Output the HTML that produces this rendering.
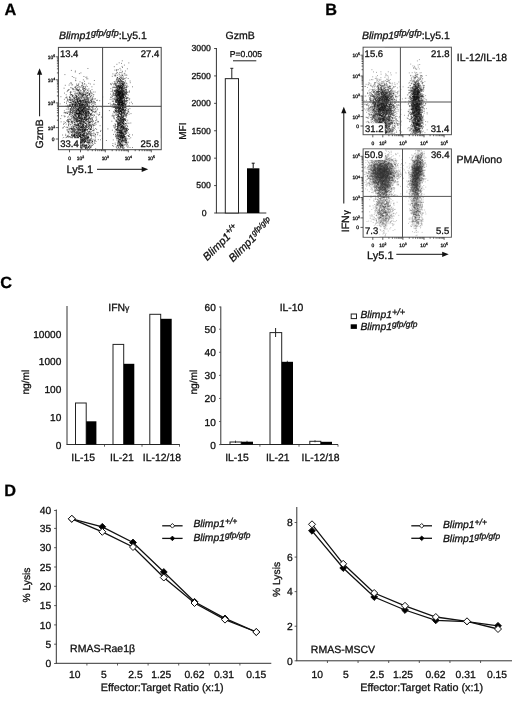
<!DOCTYPE html>
<html lang="en">
<head>
<meta charset="utf-8">
<title>Figure</title>
<style>
html,body{margin:0;padding:0;background:#fff;}
body{width:520px;height:707px;overflow:hidden;}
svg{display:block;font-family:"Liberation Sans", sans-serif;fill:#111;filter:blur(0.3px);}
text{stroke:#111;stroke-width:0.3px;}
</style>
</head>
<body>
<svg width="520" height="707" viewBox="0 0 520 707" text-rendering="geometricPrecision">
<defs><filter id="bl" x="-5%" y="-5%" width="110%" height="110%"><feGaussianBlur stdDeviation="0.36"/></filter></defs>
<rect x="0" y="0" width="520" height="707" fill="#fff"/>
<text x="4.60" y="14.60" font-size="16.3" font-weight="bold" fill="#000">A</text>
<text x="59.00" y="39.40" font-size="10.5"><tspan font-style="italic">Blimp1</tspan><tspan font-style="italic" font-size="9.0" dy="-3.2">gfp/gfp</tspan><tspan dy="3.2">:Ly5.1</tspan></text>
<path d="M93.2 103.0zM77.6 113.2zM81.2 116.0zM83.9 76.5zM75.3 86.9zM81.0 111.0zM81.0 108.0zM68.4 121.7zM88.3 112.2zM85.3 94.2zM76.5 113.4zM79.8 100.5zM84.6 106.7zM79.1 103.4zM79.3 113.7zM70.5 92.4zM85.0 96.1zM81.9 82.8zM83.0 135.2zM70.0 97.5zM92.9 99.1zM82.1 95.6zM78.2 101.8zM95.6 104.2zM80.7 116.9zM70.6 111.6zM78.1 113.4zM64.5 102.4zM88.6 108.6zM78.0 124.1zM75.7 109.2zM88.7 113.2zM69.1 85.1zM84.9 115.7zM66.1 112.6zM76.2 125.0zM72.3 76.5zM91.5 109.8zM93.7 108.0zM78.6 110.4zM87.1 101.8zM79.7 111.9zM85.1 117.8zM75.6 109.9zM68.7 105.8zM68.0 106.8zM83.8 104.6zM97.2 109.8zM82.9 100.7zM77.2 85.4zM94.8 125.5zM82.7 88.2zM81.7 107.8zM82.8 93.6zM80.0 105.8zM78.8 97.6zM70.7 108.7zM84.6 99.1zM80.3 93.6zM89.6 112.9zM78.3 125.1zM67.3 113.3zM80.3 110.4zM93.2 96.5zM78.2 108.1zM74.6 114.4zM72.4 101.3zM73.4 119.9zM78.8 108.6zM72.5 113.3zM91.8 103.1zM79.0 103.1zM81.8 111.7zM91.4 113.6zM91.8 113.2zM79.5 96.8zM83.4 100.2zM86.3 108.7zM79.6 86.7zM68.2 121.5zM85.7 112.7zM87.4 109.4zM84.0 100.4zM74.4 118.8zM79.6 105.6zM76.7 131.7zM78.8 113.6zM90.3 91.0zM92.0 117.6zM85.8 102.6zM85.0 102.6zM85.9 106.0zM80.9 107.3zM80.5 111.9zM76.1 118.0zM80.6 114.3zM97.3 100.2zM87.3 92.6zM78.5 99.2zM77.6 113.2zM74.8 119.2zM83.7 130.4zM83.8 92.7zM70.6 109.8zM84.5 106.1zM76.9 104.0zM91.3 110.5zM82.1 105.8zM93.4 105.6zM77.7 101.0zM78.9 113.5zM83.2 121.5zM88.6 128.4zM85.1 102.5zM72.1 96.1zM82.3 105.6zM81.2 98.8zM77.9 121.1zM76.3 99.0zM93.6 109.7zM78.2 92.7zM74.9 104.6zM85.6 111.1zM81.9 127.1zM80.5 100.5zM86.6 113.2zM84.5 83.8zM83.6 94.3zM87.9 99.0zM83.0 102.8zM76.6 113.9zM78.4 116.3zM77.2 89.5zM82.5 115.1zM73.2 95.4zM67.8 130.8zM81.6 112.5zM71.4 110.6zM66.9 106.6zM83.7 108.3zM75.9 108.8zM84.6 100.4zM77.2 117.7zM72.9 112.0zM72.0 117.7zM77.3 108.0zM79.0 116.9zM75.1 99.6zM69.9 100.2zM81.1 103.4zM68.1 120.3zM79.6 123.5zM86.0 99.2zM88.9 88.8zM93.3 92.0zM69.8 96.8zM86.5 99.3zM89.7 106.8zM88.1 121.1zM74.3 121.7zM84.0 101.4zM94.4 115.2zM70.2 119.3zM84.4 125.6zM89.0 106.8zM76.0 99.8zM85.2 117.7zM73.3 126.9zM75.2 102.4zM75.1 132.1zM82.4 129.3zM80.3 105.5zM87.9 89.9zM74.2 101.5zM80.1 104.5zM87.9 115.1zM85.0 88.6zM71.5 137.9zM85.8 136.8zM77.6 100.0zM83.8 86.3zM83.2 106.7zM89.8 113.8zM81.8 124.8zM67.7 117.2zM71.1 106.3zM86.3 85.1zM79.1 114.8zM89.2 118.8zM83.0 104.9zM75.6 112.0zM88.8 111.1zM75.2 105.7zM66.2 94.8zM95.9 112.8zM67.2 91.6zM85.6 125.5zM87.8 97.9zM82.1 114.5zM68.9 99.9zM88.3 113.2zM70.6 106.1zM71.3 115.0zM78.4 99.1zM86.7 89.1zM83.2 105.2zM86.8 104.4zM77.8 90.6zM79.8 100.3zM72.8 88.5zM78.7 110.0zM85.3 104.1zM78.8 108.8zM84.4 139.8zM76.9 110.5zM76.7 113.1zM81.3 116.1zM79.6 106.9zM85.3 101.5zM82.3 119.1zM93.5 121.0zM79.4 73.6zM79.4 106.7zM73.5 104.5zM81.2 101.8zM85.9 123.5zM75.7 102.2zM80.6 118.9zM86.2 102.1zM80.1 103.7zM77.3 117.3zM88.0 99.7zM81.7 106.6zM83.9 95.3zM89.4 97.9zM89.2 117.2zM78.5 115.6zM77.2 94.8zM83.0 94.4zM80.0 139.1zM67.3 100.8zM90.2 98.1zM81.1 114.7zM86.3 99.2zM72.6 104.2zM90.3 119.3zM76.8 120.5zM80.2 106.2zM70.9 124.6zM79.8 106.8zM79.3 105.7zM79.7 108.5zM84.2 104.9zM81.4 114.9zM88.0 111.9zM77.6 99.2zM73.8 110.7zM80.9 102.0zM85.5 101.6zM90.0 106.9zM86.9 120.8zM68.3 111.9zM83.7 123.8zM91.5 127.3zM81.5 108.1zM77.3 101.3zM83.2 99.1zM77.4 111.9zM85.6 118.9zM80.9 127.5zM91.0 92.9zM84.6 119.6zM75.8 121.4zM85.4 137.8zM87.7 110.8zM76.9 108.2zM77.9 90.4zM64.4 99.3zM87.5 95.4zM76.8 96.5zM65.7 97.8zM68.3 90.2zM79.4 107.5zM86.5 113.3zM80.4 117.8zM84.4 107.5zM73.1 121.3zM71.3 121.4zM87.4 90.5zM84.5 105.4zM80.8 93.7zM90.2 96.9zM74.2 110.9zM78.0 107.2zM88.4 126.3zM94.2 133.3zM81.1 113.7zM93.1 106.4zM76.7 107.0zM83.4 108.6zM79.7 115.6zM69.6 99.9zM82.9 115.8zM87.7 105.8zM79.9 121.5zM80.5 125.1zM91.0 129.6zM72.0 106.9zM70.2 92.6zM76.3 88.6zM72.4 105.3zM90.7 91.8zM83.2 89.1zM74.8 104.6zM76.6 97.0zM101.6 117.1zM76.6 132.1zM75.5 106.1zM83.2 112.6zM85.6 89.9zM82.6 111.1zM74.5 100.5zM72.7 95.7zM85.3 86.6zM80.6 128.1zM69.2 89.6zM89.4 94.4zM86.6 109.0zM79.3 112.4zM79.1 112.4zM82.7 110.2zM76.1 98.2zM71.3 118.2zM83.3 111.3zM70.6 91.6zM83.8 128.2zM70.6 104.9zM80.3 120.4zM80.0 91.5zM93.8 94.7zM73.3 102.1zM70.8 100.7zM76.3 121.2zM72.9 89.6zM76.8 111.0zM84.0 96.9zM86.6 115.3zM92.9 111.5zM75.7 102.4zM100.0 135.7zM95.3 108.5zM79.5 122.2zM64.5 93.1zM80.4 107.6zM81.5 110.2zM64.4 110.8zM81.5 105.0zM79.6 99.2zM75.3 72.0zM85.5 102.3zM88.2 98.1zM77.5 106.1zM82.7 119.4zM76.3 135.8zM75.3 115.5zM81.6 121.4zM84.8 116.7zM76.9 117.9zM65.1 116.3zM85.2 106.1zM69.5 105.3zM81.9 113.2zM93.8 130.8zM80.9 118.7zM72.4 128.6zM70.5 93.7zM89.4 112.5zM80.9 114.1zM84.9 115.6zM87.7 92.9zM80.6 87.2zM78.8 83.9zM74.2 104.6zM70.1 112.0zM80.5 94.8zM79.7 113.5zM83.9 105.8zM80.1 111.5zM82.1 104.0zM86.7 93.9zM74.6 103.0zM78.9 118.0zM69.4 113.1zM88.0 124.1zM81.3 96.6zM84.5 122.1zM92.1 110.3zM88.8 111.9zM80.6 124.5zM86.7 108.0zM70.7 112.7zM84.1 117.3zM82.0 117.4zM69.3 119.5zM90.6 125.2zM75.9 116.1zM85.9 104.5zM78.0 139.2zM88.2 109.4zM90.4 114.4zM75.0 100.9zM70.0 83.7zM80.1 100.5zM87.1 110.7zM78.3 116.3zM76.6 110.2zM84.5 119.4zM61.1 121.8zM76.2 121.8zM71.0 110.0zM83.1 110.9zM75.7 107.4zM73.0 99.5zM78.5 127.1zM70.4 95.1zM80.9 109.1zM76.1 112.7zM78.3 84.3zM75.8 118.9zM87.6 105.8zM80.2 112.7zM84.8 106.0zM84.5 91.6zM75.2 112.3zM85.1 111.3zM83.5 122.0zM83.3 115.7zM78.1 89.8zM77.9 123.2zM86.7 119.6zM96.7 119.2zM75.0 115.8zM84.8 101.6zM78.4 116.4zM86.7 105.6zM84.2 144.6zM88.6 107.2zM60.9 96.7zM76.7 105.9zM73.9 127.3zM80.2 103.2zM75.8 80.7zM76.4 127.6zM85.9 113.9zM94.7 104.1zM60.7 118.6zM78.8 98.9zM83.2 95.9zM81.0 121.4zM78.5 103.8zM71.3 116.4zM74.2 110.2zM86.2 120.0zM88.7 111.3zM81.7 85.4zM75.0 118.2zM81.7 104.3zM79.3 120.6zM84.9 111.4zM81.9 127.1zM76.5 106.2zM82.4 85.3zM72.5 106.2zM86.9 116.2zM89.5 105.9zM72.5 104.4zM84.0 127.7zM73.9 108.2zM88.7 122.6zM87.5 111.8zM79.3 92.6zM88.2 98.7zM77.9 106.2zM76.4 113.7zM76.9 100.3zM80.0 93.0zM78.7 97.8zM82.1 103.7zM76.6 99.4zM86.5 103.0zM88.4 132.3zM77.4 113.3zM70.7 100.2zM86.2 109.8zM89.2 128.9zM79.8 117.7zM71.7 108.7zM82.9 93.7zM92.0 89.6zM67.5 105.8zM84.4 108.7zM78.7 90.4zM74.8 93.9zM84.6 109.4zM71.6 83.3zM83.1 89.2zM90.5 109.3zM82.3 116.7zM74.7 113.7zM68.2 121.9zM71.8 128.9zM67.7 120.7zM92.5 106.7zM79.2 135.5zM73.5 130.2zM71.7 121.2zM73.3 100.2zM78.6 114.8zM71.8 84.9zM93.1 106.0zM75.6 80.1zM75.4 105.0zM83.2 122.3zM91.4 110.3zM90.5 129.4zM77.5 110.0zM82.8 111.3zM82.1 106.4zM84.8 116.5zM82.8 109.7zM74.2 124.5zM71.9 129.5zM82.3 114.6zM72.5 96.6zM90.8 116.9zM81.3 126.4zM73.6 118.0zM78.7 113.7zM77.3 121.5zM80.1 126.0zM87.8 78.8zM70.6 128.4zM67.6 119.5zM83.4 116.0zM79.7 103.5zM82.2 112.9zM84.2 117.5zM79.7 92.4zM86.8 119.2zM74.6 111.1zM81.5 127.8zM75.0 118.3zM72.9 108.1zM85.4 110.9zM85.1 117.9zM67.0 112.0zM72.9 116.8zM83.1 101.7zM88.7 95.2zM76.2 103.4zM79.7 93.1zM70.8 100.9zM99.1 114.5zM84.4 90.6zM87.4 95.5zM85.7 119.0zM87.7 103.9zM85.4 110.1zM78.6 95.4zM86.4 97.7zM81.6 106.6zM90.3 129.8zM75.7 115.5zM77.1 90.1zM85.8 115.6zM90.2 121.3zM82.0 118.5zM75.9 95.5zM80.1 109.4zM77.4 135.7zM94.7 99.0zM87.5 114.2zM90.1 101.2zM83.2 95.0zM77.0 105.0zM89.4 122.6zM92.9 124.1zM85.2 99.6zM80.8 104.5zM88.8 99.6zM78.3 85.3zM86.5 117.5zM75.9 128.9zM74.0 128.2zM85.1 104.7zM83.4 126.2zM94.7 123.4zM79.0 106.2zM81.2 110.2zM72.8 105.9zM67.5 113.2zM68.2 132.1zM84.3 99.2zM72.5 96.0zM89.1 120.8zM91.2 111.0zM78.9 87.6zM92.9 98.2zM82.6 100.4zM89.1 103.0zM79.4 114.2zM87.9 122.3zM74.2 108.4zM85.5 112.2zM77.7 101.5zM80.1 122.6zM85.5 126.5zM82.2 107.2zM80.5 101.5zM86.2 135.3zM86.8 121.6zM71.0 99.7zM85.0 90.1zM85.8 106.9zM75.6 124.8zM83.8 103.9zM71.5 107.5zM91.4 104.5zM79.3 118.3zM80.4 127.2zM89.6 95.4zM80.0 107.0zM85.3 108.1zM73.5 103.0zM76.9 96.1zM71.0 120.3zM79.5 112.4zM88.4 119.1zM82.6 128.7zM87.4 106.1zM73.6 117.0zM74.6 105.7zM77.6 109.5zM85.1 114.5zM83.6 108.6zM80.9 92.4zM85.5 128.6zM79.9 112.4zM80.8 96.8zM90.4 84.0zM76.8 110.3zM82.3 118.4zM92.6 122.7zM81.7 124.0zM86.1 106.0zM76.6 118.3zM95.1 92.0zM64.8 112.4zM72.8 121.6zM73.4 103.2zM92.7 108.6zM83.5 111.8zM79.1 112.2zM71.8 128.5zM83.6 97.6zM81.8 126.7zM76.0 95.6zM70.3 102.5zM73.1 101.2zM82.5 109.5zM83.2 104.6zM81.5 116.4zM79.9 110.7zM68.3 137.0zM81.4 115.2zM73.6 107.5zM81.3 115.1zM84.3 117.8zM76.1 108.3zM73.6 97.2zM88.2 100.9zM83.5 112.7zM76.4 120.6zM80.6 109.5zM85.5 117.4zM89.1 104.7zM76.1 113.7zM76.4 127.6zM77.8 124.0zM87.0 126.9zM72.5 106.1zM80.2 113.0zM74.3 98.4zM82.9 121.6zM69.8 105.5zM83.7 94.7zM77.4 104.6zM79.4 113.6zM84.8 84.0zM89.2 93.5zM68.8 122.4zM88.2 111.7zM85.0 110.0zM78.9 91.2zM91.1 129.6zM82.4 122.9zM90.3 119.0zM76.7 97.2zM74.8 117.5zM89.8 124.3zM96.6 106.6zM85.6 107.5zM87.4 104.8zM77.6 117.7zM71.5 107.7zM79.4 106.7zM91.8 93.1zM67.6 90.6zM77.4 121.8zM67.2 129.4zM81.8 120.9zM87.3 127.5zM72.1 104.0zM78.1 109.9zM90.5 115.0zM80.4 108.5zM72.1 130.5zM71.5 94.5zM66.5 103.6zM86.6 106.3zM75.6 102.0zM88.6 120.6zM87.2 86.5zM76.2 124.1zM77.2 121.3zM86.6 114.3zM82.1 127.2zM82.9 138.7zM69.1 112.7zM87.5 119.3zM74.7 115.2zM64.7 116.8zM76.6 104.5zM84.0 101.9zM96.1 117.9zM78.3 104.3zM71.4 121.8zM96.3 120.2zM82.2 105.3zM79.1 115.0zM73.3 111.6zM73.8 109.0zM91.6 124.2zM79.1 111.2zM77.1 113.5zM77.3 87.4zM92.3 117.9zM76.8 93.4zM85.5 106.1zM82.9 130.0zM82.7 132.1zM74.7 106.0zM85.7 95.6zM92.6 115.5zM80.6 105.9zM74.4 114.8zM71.7 94.6zM82.4 124.2zM79.0 129.3zM80.2 93.4zM81.1 101.5zM70.4 102.4zM86.6 119.5zM82.7 87.2zM80.5 113.2zM82.7 108.0zM87.7 101.3zM81.4 119.2zM74.9 87.4zM89.4 94.4zM77.9 101.4zM75.8 119.3zM69.8 106.6zM81.1 100.8zM73.5 116.5zM77.3 105.0zM84.2 103.1zM81.2 107.2zM88.3 114.9zM83.2 143.1zM78.1 97.8zM78.6 114.2zM77.3 109.0zM85.7 107.8zM81.2 129.1zM78.0 120.2zM87.1 119.0zM81.7 105.5zM77.6 100.8zM70.1 114.5zM84.1 107.6zM82.7 104.1zM81.4 119.0zM77.9 96.6zM75.0 102.3zM79.4 120.5zM82.7 110.1zM80.1 119.1zM80.0 100.8zM77.6 119.5zM83.4 102.6zM82.7 127.3zM75.6 120.6zM86.5 116.7zM86.7 129.5zM86.9 115.3zM80.1 103.6zM79.6 129.8zM72.7 115.3zM86.4 125.8zM65.6 113.0zM78.2 125.2zM78.6 100.9zM87.2 96.1zM81.0 94.4zM74.1 120.4zM70.7 87.7zM75.8 89.9zM81.8 94.3zM81.4 114.1zM79.6 116.6zM76.1 101.6zM79.5 120.8zM88.2 115.2zM73.1 125.9zM81.2 122.7zM92.7 103.1zM85.0 113.8zM77.7 109.4zM85.8 116.9zM75.6 113.8zM81.1 111.7zM92.2 119.9zM94.6 112.2zM68.7 120.2zM86.0 111.9zM95.0 109.6zM77.1 122.5zM82.9 122.9zM91.9 126.3zM77.5 119.0zM84.3 108.9zM80.6 113.7zM67.1 113.4zM83.5 90.4zM79.7 98.0zM87.7 129.7zM96.1 110.8zM85.9 77.3zM78.4 110.0zM84.2 113.4zM82.5 96.7zM88.4 138.7zM70.6 124.9zM72.6 121.2zM66.3 109.2zM85.4 117.2zM80.9 121.5zM76.4 117.1zM75.8 103.4zM76.9 113.7zM74.3 113.0zM78.7 114.9zM77.4 98.9zM91.0 114.5zM83.3 111.4zM75.1 114.2zM76.8 113.7zM89.6 94.1zM84.3 121.5zM83.1 120.2zM86.2 95.2zM92.4 110.1zM72.2 101.1zM75.6 105.8zM68.5 123.2zM84.6 117.5zM78.3 134.9zM76.2 112.2zM75.5 97.7zM86.0 112.5zM80.0 81.8zM77.2 132.3zM90.0 114.1zM73.5 116.3zM71.9 112.7zM99.7 100.7zM78.4 109.4zM77.1 101.4zM75.8 104.7zM80.0 114.7zM86.6 96.3zM86.4 130.3zM84.9 97.8zM79.0 120.5zM70.3 102.9zM83.0 95.6zM91.9 115.0zM88.7 112.3zM79.8 107.6zM86.8 109.6zM78.2 102.8zM80.6 115.2zM72.1 104.4zM78.7 110.3zM82.0 123.3zM79.8 94.2zM86.5 103.2zM94.6 101.9zM90.5 100.4zM78.8 93.8zM75.7 106.6zM76.3 111.6zM74.0 108.4zM81.2 90.7zM84.0 117.8zM82.3 118.1zM82.4 110.5zM82.1 97.8zM80.0 99.4zM75.7 132.9zM93.4 130.2zM88.5 115.3zM74.5 98.7zM74.5 124.6zM76.8 111.7zM81.2 129.6zM90.1 102.7zM88.3 115.2zM88.7 107.1zM88.8 118.5zM89.0 102.0zM86.3 120.5zM84.3 105.0zM80.1 98.9zM68.4 116.3zM80.1 112.3zM94.0 84.3zM77.1 109.0zM76.5 110.8zM88.3 111.7zM81.6 133.9zM77.5 101.8zM92.2 109.3zM85.5 89.2zM86.5 92.1zM76.9 102.7zM84.6 107.9zM83.7 107.2zM86.6 117.1zM89.3 118.2zM89.1 121.6zM82.2 107.5zM86.0 115.4zM72.8 100.9zM85.6 113.8zM85.9 115.3zM78.2 103.5zM75.4 71.0zM80.6 101.7zM72.3 140.3zM83.5 108.3zM83.1 101.9zM74.2 110.8zM81.3 122.8zM88.7 113.5zM88.7 107.0zM88.3 94.1zM79.9 105.9zM78.6 95.2zM78.2 113.7zM85.3 127.5zM97.9 122.1zM91.1 102.4zM92.4 97.7zM90.7 92.8zM69.4 114.8zM79.6 116.3zM77.9 118.9zM90.0 113.5zM93.2 94.9zM76.2 86.4zM81.3 122.8zM85.0 99.4zM77.5 132.1zM76.5 84.1zM76.1 96.1zM87.4 98.1zM74.5 112.5zM89.2 117.3zM81.6 102.7zM86.4 116.5zM92.1 93.7zM76.2 103.3zM75.1 94.8zM84.1 102.6zM73.6 101.6zM75.7 112.9zM82.1 92.8zM72.0 106.8zM78.2 117.4zM85.2 110.1zM90.7 126.2zM66.9 97.0zM90.4 118.5zM87.3 99.9zM73.2 119.1zM70.4 111.2zM84.0 112.2zM78.0 102.2zM82.0 87.1zM87.2 96.0zM78.3 117.7zM82.2 106.1zM84.4 118.1zM87.4 93.4zM93.6 116.9zM93.2 121.3zM82.7 82.8zM79.3 113.1zM98.0 132.5zM85.6 100.2zM84.1 121.2zM73.1 109.8zM86.6 119.5zM75.4 104.7zM77.7 100.0zM71.4 104.2zM77.3 104.9zM81.4 102.3zM70.3 98.8zM74.6 122.5zM80.4 102.4zM72.0 94.9zM72.0 98.1zM75.0 115.2zM70.9 82.6zM85.4 115.3zM73.9 117.9zM86.5 124.6zM87.6 104.1zM72.4 99.5zM81.3 111.4zM77.6 111.0zM72.8 125.1zM78.6 110.0zM79.3 104.3zM86.1 93.4zM88.4 106.9zM73.1 110.3zM78.1 123.6zM84.8 110.7zM89.5 125.6zM63.5 124.3zM90.2 100.2zM79.8 95.8zM92.0 101.8zM78.0 106.6zM75.0 99.7zM81.3 117.8zM89.4 117.5zM81.2 123.9zM64.1 112.8zM85.9 104.2zM69.4 114.4zM74.0 98.6zM72.7 111.2zM67.8 100.3zM72.0 123.3zM73.9 77.5zM76.6 119.6zM80.6 120.1zM78.6 109.0zM70.3 113.5zM79.7 111.9zM88.0 125.0zM87.8 129.3zM82.0 109.6zM85.5 129.1zM87.4 101.8zM90.8 114.5zM93.2 114.8zM78.7 94.4zM79.0 113.4zM91.6 101.5zM92.2 119.0zM92.1 98.8zM64.1 88.2zM79.4 93.9zM86.3 113.2zM81.4 113.6zM81.4 100.3zM80.0 119.0zM90.4 102.9zM78.9 106.8zM88.4 121.3zM85.0 107.6zM83.6 87.0zM84.3 118.1zM81.8 109.5zM73.1 104.9zM86.2 124.9zM86.1 101.9zM80.0 117.3zM86.3 111.1zM87.5 140.7zM71.8 87.9zM80.0 111.8zM77.8 113.6zM74.5 122.7zM83.3 104.4zM74.9 101.9zM77.9 126.2zM82.8 104.4zM83.5 112.8zM83.3 108.9zM97.1 114.1zM77.4 93.3zM82.8 103.0zM72.3 108.8zM84.5 110.8zM89.3 122.6zM89.7 115.6zM76.4 116.4zM79.0 108.8zM90.1 124.6zM80.3 102.2zM87.9 108.3zM74.0 91.6zM91.0 96.9zM88.4 119.6zM84.3 108.9zM75.3 87.2zM79.9 108.9zM82.1 106.6zM82.9 95.8zM80.2 113.4zM79.4 106.2zM82.4 109.5zM91.0 120.7zM66.5 102.0zM71.1 122.3zM69.9 106.2zM76.1 106.3zM68.5 124.9zM85.0 114.0zM81.7 104.5zM79.2 108.0zM76.1 112.0zM82.1 92.0zM82.3 117.4zM83.4 109.4zM75.8 93.9zM85.7 98.1zM70.4 119.8zM90.0 94.2zM76.7 96.6zM72.3 111.9zM86.7 78.8zM70.3 108.5zM94.1 103.1zM69.9 115.1zM95.6 111.6zM84.2 105.3zM81.2 135.1zM84.1 118.5zM96.8 100.5zM87.4 113.4zM64.9 74.6zM89.6 102.2zM82.7 124.1zM69.4 102.5zM86.5 110.8zM72.3 95.3zM82.3 118.5zM82.7 110.5zM76.3 109.0zM85.7 120.3zM73.6 128.7zM82.4 118.6zM77.1 88.2zM79.7 113.7zM94.8 112.1zM81.8 95.2zM73.2 89.6zM80.2 104.0zM75.5 105.3zM81.2 108.1zM82.2 100.1zM81.6 110.7zM81.6 112.4zM77.1 105.4zM84.2 113.4zM88.6 101.8zM76.5 89.9zM80.6 108.7zM81.4 119.3zM90.0 141.1zM88.8 83.3zM75.7 102.7zM81.5 98.3zM70.2 112.0zM74.0 98.2zM81.1 110.3zM85.5 120.6zM87.9 99.8zM78.8 107.9zM71.3 128.2zM83.9 119.4zM79.8 89.4zM84.1 133.7zM82.2 100.7zM86.2 112.5zM85.7 103.9zM87.1 103.4zM77.7 100.6zM88.2 116.3zM77.4 99.6zM81.6 93.8zM94.4 102.1zM83.6 108.9zM72.6 84.8zM91.7 118.4zM88.2 100.3zM89.2 117.6zM82.4 125.5zM83.5 112.7zM79.3 115.3zM76.0 103.5zM92.0 100.9zM78.3 86.2zM77.5 106.6zM77.8 102.4zM94.4 80.5zM87.3 112.2zM78.4 127.2zM80.7 113.8zM84.7 122.9zM87.3 105.7zM69.4 96.8zM87.5 109.7zM79.4 104.8zM76.1 95.4zM78.2 121.4zM86.7 111.0zM93.7 101.1zM82.1 111.3zM85.0 107.2zM75.1 116.4zM84.5 128.1zM86.9 101.6zM70.3 94.7zM77.3 125.6zM86.7 137.8zM68.3 101.7zM78.3 98.1zM85.3 94.7zM68.8 109.0zM78.1 110.3zM81.4 105.9zM87.4 119.1zM71.8 99.3zM89.0 101.9zM83.2 94.0zM89.6 125.7zM89.4 122.0zM83.5 124.8zM84.5 99.0zM68.5 125.2zM71.3 112.6zM73.8 117.7zM78.5 116.1zM87.7 105.3zM68.2 107.1zM78.7 90.7zM71.5 102.6zM69.8 106.5zM91.6 95.3zM81.7 110.4zM92.8 124.5zM89.5 103.3zM74.4 97.7zM67.6 99.0zM95.9 111.5zM78.1 130.1zM72.8 111.2zM86.0 109.9zM82.0 94.4zM76.2 113.2zM78.5 116.7zM82.2 104.4zM81.5 108.9zM86.4 101.3zM78.5 118.1zM78.5 125.2zM85.3 113.8zM83.3 115.3zM88.9 109.9zM79.2 101.6zM80.3 100.0zM72.7 104.4zM91.8 110.6zM71.0 109.2zM82.5 121.4zM74.6 118.1zM83.4 127.1zM86.4 118.6zM69.2 106.4zM79.5 110.4zM68.4 89.9zM91.1 129.2zM77.8 102.3zM69.6 104.4zM75.9 131.1zM90.4 96.5zM91.7 101.9zM90.1 108.6zM75.4 102.4zM79.9 110.4zM92.8 112.3zM75.7 116.9zM78.6 108.1zM74.1 117.6zM72.6 105.4zM89.7 116.6zM85.5 123.4zM84.2 88.7zM85.2 106.7zM88.4 111.5zM91.9 86.8zM80.9 72.9zM78.5 113.1zM73.6 101.7zM88.8 118.7zM77.3 109.3zM70.2 109.2zM79.1 105.2zM81.2 110.6zM87.0 98.6zM88.2 103.2zM75.7 118.8zM75.2 106.4zM78.6 115.4zM72.3 109.3zM80.2 105.3zM84.3 97.8zM81.3 119.4zM69.4 99.5zM72.4 113.8zM90.3 90.8zM73.7 112.6zM86.3 114.0zM85.6 101.8zM78.7 90.1zM73.8 107.5zM82.5 110.6zM74.6 103.1zM79.7 101.3zM81.8 120.2zM75.8 108.0zM79.4 104.4zM78.8 119.4zM72.1 109.1zM79.6 101.0zM76.4 119.7zM67.9 105.1zM78.6 120.4zM79.0 101.3zM76.6 113.2zM66.2 124.1zM86.6 114.8zM85.9 115.3zM85.7 114.7zM83.3 119.6zM72.0 110.4zM81.9 114.7zM74.3 106.7zM96.8 132.3zM77.3 99.0zM85.8 119.2zM69.8 97.7zM72.5 115.8zM77.1 125.0zM86.1 96.4zM84.9 130.3zM83.1 98.0zM67.7 99.7zM89.1 113.2zM74.3 96.3zM92.6 121.0zM94.4 115.2zM86.9 77.1zM88.1 92.5zM71.9 100.8zM99.6 114.3zM82.6 96.7zM88.2 100.8zM74.8 116.7zM80.5 97.6zM72.5 112.8zM79.3 93.1zM81.1 121.2zM82.8 126.2zM91.1 95.7zM84.5 81.3zM82.8 89.4zM81.3 120.7zM95.5 102.5zM76.8 121.7zM89.6 93.4zM66.9 98.1zM74.7 107.8zM84.0 121.9zM79.8 106.6zM102.7 97.0zM99.6 112.7zM70.1 110.2zM73.3 115.1zM80.0 107.1zM93.5 101.8zM89.2 109.4zM83.4 79.8zM70.8 112.3zM74.9 123.7zM61.7 115.7zM69.9 97.9zM84.1 91.0zM86.7 124.7zM71.6 103.1zM81.8 106.7zM92.7 111.8zM82.2 102.1zM78.8 109.6zM85.4 126.9zM84.8 103.3zM81.6 131.9zM77.2 113.7zM78.0 113.0zM81.7 120.4zM77.1 120.1zM90.6 121.7zM87.5 115.8zM88.9 102.3zM95.6 128.5zM92.4 107.4zM91.2 99.3zM83.7 119.8zM79.6 116.9zM97.6 108.9zM76.2 110.1zM76.6 116.1zM74.8 132.0zM82.6 108.3zM84.0 94.3zM88.4 102.5zM79.4 115.3zM68.5 106.8zM83.3 101.3zM88.0 117.9zM81.3 117.9zM80.1 106.8zM85.1 112.6zM91.3 101.7zM80.6 102.0zM70.8 105.2zM77.0 93.1zM79.8 113.2zM68.1 108.2zM86.6 103.1zM75.5 110.4zM84.7 110.7zM82.4 100.3zM78.8 102.0zM92.7 99.6zM77.0 125.0zM76.2 89.1zM83.1 108.0zM87.1 118.8zM81.0 96.0zM73.9 97.4zM86.0 97.2zM85.4 87.4zM95.9 122.6zM79.4 105.6zM82.5 95.2zM76.9 100.7zM70.3 110.1zM81.5 104.1zM87.1 97.3zM73.7 113.9zM76.1 97.3zM72.5 103.1zM90.7 109.8zM76.4 99.1zM85.2 108.6zM74.8 100.1zM81.5 139.3zM76.5 102.8zM64.1 115.8zM81.6 97.5zM84.8 94.3zM66.0 106.1zM79.7 103.4zM77.9 103.5zM73.2 107.1zM79.2 118.0zM67.0 130.1zM82.8 131.4zM89.5 108.1zM71.9 129.1zM80.5 127.5zM91.3 99.9zM81.9 101.5zM77.3 106.0zM74.4 130.4zM82.3 105.4zM80.0 104.2zM85.5 123.5zM70.1 104.9zM88.8 105.2zM78.1 114.1zM85.6 109.0zM75.8 78.2zM71.7 92.1zM76.9 115.2zM74.1 89.8zM78.3 121.4zM85.7 106.0zM88.8 109.8zM82.5 110.1zM77.1 85.5zM77.8 98.3zM85.3 94.3zM89.2 109.6zM78.7 124.9zM80.1 104.1zM75.6 107.6zM82.5 83.6zM87.9 102.4zM60.1 103.9zM82.8 104.6zM77.0 113.9zM64.2 123.5zM83.3 106.6zM80.4 111.5zM83.7 88.3zM71.2 114.1zM96.4 107.3zM81.8 86.1zM78.5 110.9zM92.0 99.1zM85.7 118.9zM87.0 112.3zM89.4 107.9zM66.1 127.3zM93.0 105.0zM78.5 103.2zM83.1 107.3zM87.6 108.4zM75.9 96.9zM83.3 113.8zM86.5 112.0zM80.7 100.8zM84.6 88.6zM69.4 121.5zM72.4 122.9zM72.7 118.0zM83.7 119.1zM107.9 128.9zM82.9 111.6zM79.9 127.2zM80.5 106.2zM88.1 97.7zM86.1 108.3zM72.7 104.4zM88.3 114.1zM80.8 129.9zM86.9 113.3zM66.6 120.8zM69.8 133.8zM85.3 129.9zM68.0 109.6zM83.8 100.5zM83.4 133.9zM82.0 95.8zM83.6 86.9zM82.9 84.8zM84.2 122.6zM78.1 91.1zM80.8 105.6zM102.1 107.1zM89.2 124.2zM85.4 92.3zM83.8 109.3zM75.8 112.3zM82.6 125.5zM79.2 105.8zM87.8 112.0zM74.4 105.4zM64.0 121.8zM77.0 120.0zM86.0 104.1zM98.7 115.3zM88.4 91.1zM74.0 109.6zM79.4 98.2zM74.2 103.9zM79.7 120.9zM74.5 134.6zM69.2 111.4zM84.2 107.2zM82.4 104.9zM79.8 117.9zM83.5 106.8zM95.6 120.7zM81.8 127.4zM78.3 116.5zM87.2 104.4zM69.2 118.1zM86.4 100.7zM75.4 88.0zM75.1 122.7zM81.8 132.0zM93.0 124.9zM75.6 104.7zM87.9 68.5zM83.7 100.2zM71.0 116.4zM87.6 104.2zM75.1 125.6zM70.4 99.2zM75.3 114.9zM75.8 111.6zM85.3 112.0zM75.7 92.0zM91.8 107.6zM82.6 112.0zM75.8 104.0zM75.0 93.1zM82.6 103.0zM66.4 97.3zM65.3 112.9zM74.6 120.4zM85.5 112.7zM82.3 113.2zM81.2 106.6zM79.5 111.0zM65.3 85.3zM78.7 109.6zM68.2 119.4zM87.0 102.4zM80.9 117.0zM80.4 90.6zM83.9 109.2zM83.3 106.4zM82.7 114.3zM83.5 110.4zM76.8 135.4zM71.4 70.4zM83.5 91.2zM91.4 100.5zM88.3 109.8zM79.5 100.8zM85.4 100.5zM77.8 89.6zM83.8 92.2zM76.6 98.1zM82.0 126.9zM95.4 98.8zM86.6 141.8zM91.8 121.4zM75.4 105.1zM76.1 118.4zM80.7 120.9zM85.0 94.2zM79.5 89.0zM88.3 126.3zM77.0 97.1zM90.8 119.1zM88.0 116.8zM73.0 88.5zM85.2 116.4zM79.4 115.4zM88.3 124.1zM84.2 146.8zM83.7 124.3zM79.3 132.0zM92.5 141.4zM87.8 137.4zM83.5 144.1zM89.2 147.1zM74.3 131.5zM76.6 125.8zM88.0 132.0zM82.1 129.9zM69.9 136.7zM82.2 113.1zM78.7 125.4zM73.1 147.0zM84.0 124.7zM73.8 129.3zM76.8 145.3zM68.7 132.8zM67.5 127.6zM75.1 141.5zM86.2 126.9zM80.2 130.1zM85.0 140.0zM72.9 129.8zM75.1 138.0zM83.0 142.8zM85.8 148.3zM88.6 141.0zM71.3 137.9zM67.3 121.2zM95.2 143.4zM79.1 143.1zM88.1 140.0zM81.3 138.2zM71.3 139.2zM90.9 147.6zM84.4 134.3zM91.5 125.9zM85.4 147.0zM74.2 134.2zM80.9 135.1zM88.1 142.3zM76.3 135.4zM82.5 137.3zM89.3 126.8zM78.6 124.5zM87.9 125.3zM80.5 130.8zM76.2 133.7zM85.2 146.7zM76.9 139.9zM84.2 133.3zM83.7 125.4zM79.9 147.9zM87.3 138.3zM89.5 142.1zM72.1 136.0zM84.9 132.9zM80.1 144.6zM79.2 140.9zM89.5 139.9zM80.3 123.8zM79.0 145.6zM72.5 138.5zM80.1 135.6zM81.3 106.9zM74.6 129.3zM79.2 139.6zM84.7 131.6zM91.1 140.5zM79.4 143.9zM95.4 137.8zM88.4 128.5zM87.5 142.3zM85.6 141.6zM82.2 135.5zM77.1 119.0zM81.1 125.5zM82.0 145.9zM82.7 135.3zM92.4 119.9zM95.6 136.1zM85.4 138.3zM88.7 144.3zM76.9 142.2zM67.8 141.6zM81.0 130.1zM83.5 121.1zM91.6 131.7zM83.6 122.7zM90.9 146.8zM89.6 122.8zM83.3 124.7zM87.6 138.8zM84.5 129.6zM92.7 135.3zM74.5 126.2zM65.6 139.0zM82.8 146.3zM88.4 123.1zM89.3 143.2zM77.9 141.5zM85.7 145.6zM77.3 114.9zM86.7 146.7zM76.7 126.1zM74.4 135.1zM88.5 133.2zM73.2 127.4zM71.6 129.0zM87.5 130.3zM82.6 139.3zM65.7 144.9zM90.2 134.6zM73.3 145.4zM78.8 139.1zM96.0 124.3zM81.8 139.0zM88.3 137.1zM81.0 138.9zM85.5 141.1zM72.1 145.6zM82.0 139.0zM77.7 142.7zM74.9 134.7zM84.0 136.1zM89.2 131.3zM85.3 148.3zM79.7 145.4zM74.2 132.9zM84.2 135.8zM81.3 148.3zM80.2 123.1zM82.8 144.9zM78.0 141.0zM80.4 134.1zM87.1 134.8zM68.5 129.1zM90.7 132.3zM85.1 129.8zM83.4 125.9zM74.9 133.7zM79.1 128.7zM77.8 144.7zM86.7 147.8zM86.3 136.0zM90.0 134.1zM82.3 143.9zM67.8 136.3zM79.3 111.2zM84.1 114.2zM71.3 126.5zM80.4 142.3zM82.2 145.3zM77.6 132.8zM80.5 137.7zM97.6 134.7zM81.6 142.5zM83.4 114.9zM85.6 148.2zM78.9 134.5zM81.2 142.6zM66.1 137.4zM84.1 142.4zM77.6 142.4zM89.5 145.4zM82.4 127.6zM79.0 143.8zM74.3 131.1zM81.8 134.7zM79.0 145.6zM76.2 133.3zM94.6 140.7zM80.6 141.0zM87.8 138.8zM91.8 125.5zM84.4 142.6zM85.9 139.6zM88.2 127.4zM85.5 148.4zM85.0 133.6zM82.5 134.8zM78.5 136.5zM77.1 145.9zM82.9 139.1zM90.6 128.8zM75.0 135.7zM77.3 133.5zM74.7 135.6zM88.6 142.6zM79.2 120.6zM65.4 141.7zM80.5 146.9zM77.2 129.7zM70.2 141.3zM84.7 136.5zM80.7 134.5zM94.0 134.9zM77.5 139.0zM78.8 145.8zM82.2 140.9zM90.9 114.8zM85.9 138.4zM79.9 141.6zM79.0 141.2zM84.0 139.8zM80.3 136.3zM83.9 145.0zM78.6 139.2zM79.2 135.6zM78.6 143.3zM79.0 143.9zM72.5 129.2zM75.0 147.6zM84.1 135.5zM87.0 139.1zM81.1 111.3zM71.3 119.0zM84.3 146.8zM93.2 130.3zM89.9 133.7zM80.1 136.4zM79.1 124.8zM78.5 138.4zM93.5 125.9zM83.1 136.0zM75.2 146.7zM67.6 135.8zM77.2 128.5zM88.5 143.0zM73.0 129.3zM87.6 136.7zM83.9 111.7zM74.3 138.8zM86.2 145.3zM74.9 142.1zM97.8 121.3zM83.1 114.5zM71.3 127.4zM79.3 134.2zM62.7 128.0zM76.9 130.0zM81.3 145.9zM83.0 121.1zM84.2 127.4zM86.9 137.1zM83.1 136.0zM77.6 114.5zM85.3 145.1zM92.3 141.7zM88.8 118.8zM75.3 141.0zM78.6 126.3zM78.9 143.2zM79.1 141.0zM84.8 138.5zM80.5 142.4zM76.3 132.2zM91.9 139.8zM91.1 113.9zM82.0 145.4zM74.5 136.2zM76.6 139.1zM75.7 114.5zM83.4 130.7zM83.8 126.7zM84.8 137.6zM95.5 134.1zM83.4 140.2zM79.1 140.3zM100.5 131.5zM84.0 132.9zM77.5 136.6zM87.9 137.4zM79.3 118.6zM88.7 142.8zM77.7 141.8zM86.7 134.1zM87.6 134.2zM72.4 139.0zM79.5 132.3zM89.3 132.0zM83.6 131.3zM87.6 131.3zM81.1 127.6zM77.6 131.8zM78.1 130.1zM79.8 130.5zM83.1 124.5zM63.5 147.4zM68.8 141.0zM82.0 137.4zM86.5 127.0zM77.4 144.3zM82.0 135.4zM74.6 136.8zM72.5 138.8zM83.1 136.7zM81.5 147.7zM78.5 129.9zM73.1 131.2zM82.5 139.4zM81.6 135.8zM80.2 143.4zM81.1 147.1zM85.5 147.5zM84.7 135.1zM94.1 136.3zM91.5 134.2zM73.5 135.6zM86.2 129.4zM77.8 127.5zM92.2 145.4zM71.7 129.2zM78.9 111.5zM92.3 145.1zM81.8 141.3zM86.7 145.6zM86.3 147.9zM78.5 143.1zM87.5 141.9zM75.9 138.5zM79.6 130.1zM96.2 116.8zM80.5 118.4zM84.3 141.8zM74.5 146.0zM90.9 138.4zM75.5 130.4zM76.7 144.4zM77.6 137.8zM75.3 138.1zM72.0 134.4zM79.7 126.3zM78.4 128.0zM81.0 141.9zM79.5 136.3zM81.6 142.6zM75.3 137.2zM81.4 139.6zM80.0 142.2zM88.8 147.2zM85.9 126.7zM88.5 136.9zM77.3 128.3zM82.9 129.2zM78.3 137.8zM84.3 130.8zM93.7 111.4zM83.3 141.5zM71.5 122.2zM77.8 146.8zM84.7 130.3zM85.3 140.7zM75.2 134.4zM89.9 124.8zM68.4 135.2zM77.7 137.6zM79.2 139.4zM88.6 136.7zM84.7 127.1zM82.0 124.1zM73.3 136.7zM67.6 142.8zM75.2 147.8zM75.9 144.3zM75.4 124.3zM67.1 143.8zM71.1 131.5zM83.7 135.1zM77.9 135.3zM79.9 132.6zM80.9 147.9zM81.0 137.0zM82.8 126.4zM72.4 137.8zM89.4 148.6zM86.4 146.1zM88.2 144.3zM82.2 140.7zM80.6 122.8zM72.7 123.2zM83.6 146.3zM90.7 131.9zM62.6 138.4zM93.4 144.6zM75.9 119.3zM84.7 119.3zM75.9 143.5zM80.4 132.3zM87.0 134.7zM93.8 135.5zM81.7 137.6zM85.9 141.1zM77.3 120.8zM78.8 142.2zM84.9 132.7zM81.7 128.8zM72.7 131.2zM77.3 125.8zM72.1 135.8zM84.8 130.6zM81.7 140.7zM74.2 131.4zM79.0 140.7zM87.9 142.4zM84.6 142.0zM77.6 141.8zM86.6 138.9zM84.2 129.8zM77.8 118.2zM82.8 141.6zM94.3 124.0zM74.0 141.4zM88.5 137.5zM80.5 137.5zM85.8 138.1zM84.2 143.8zM83.4 128.3zM80.4 141.2zM86.1 145.9zM71.5 135.2zM84.6 137.2zM87.6 143.1zM82.9 140.6zM69.0 148.0zM85.5 129.3zM86.0 136.7zM91.5 142.4zM75.0 137.4zM77.9 142.4zM79.7 146.8zM69.7 129.8zM78.3 137.9zM78.5 137.8zM78.9 143.2zM92.4 142.9zM77.2 138.0zM78.4 143.8zM77.6 138.3zM89.6 131.5zM76.6 139.9zM82.4 147.7zM80.1 117.7zM82.1 142.8zM77.5 136.3zM76.8 140.4zM80.2 136.3zM72.8 135.4zM79.2 132.8zM80.0 126.5zM71.5 132.5zM89.9 122.9zM79.5 139.1zM77.0 140.7zM92.2 143.4zM79.9 141.6zM69.1 143.4zM84.7 119.1zM84.3 141.8zM80.5 132.7zM90.1 135.3zM84.6 136.8zM78.8 145.0zM91.2 126.5zM100.1 125.7zM77.8 125.2zM88.9 147.2zM84.0 129.2zM84.5 139.5zM72.9 126.9zM74.8 137.6zM91.2 133.4zM82.5 131.0zM93.9 139.3zM89.9 128.8zM74.8 129.0zM81.4 126.7zM91.6 121.6zM70.6 140.4zM76.0 141.7zM83.1 139.6zM84.8 145.6zM82.2 140.9zM89.8 146.5zM106.4 140.5zM84.8 139.9zM78.5 144.3zM92.6 141.3zM82.2 119.7zM82.8 129.6zM78.4 131.7zM76.3 138.3zM77.8 142.2zM74.8 140.1zM72.6 136.9zM94.4 141.9zM84.7 142.1zM88.4 147.4zM85.1 120.9zM71.7 148.6zM76.0 134.2zM80.8 129.6zM82.7 137.9zM82.5 141.2zM79.6 118.5zM81.8 105.7zM90.3 140.5zM89.4 122.6zM80.1 132.1zM84.3 138.5zM88.3 141.4zM88.6 147.0zM90.1 122.4zM90.2 139.3zM84.4 131.6zM79.6 146.4zM70.9 142.0zM85.9 125.9zM75.6 127.0zM81.7 130.9zM78.8 133.3zM78.5 130.9zM93.7 125.4zM79.1 132.1zM98.5 121.7zM80.6 147.8zM76.5 133.0zM82.5 125.2zM98.3 139.6zM80.5 121.8zM85.1 141.5zM65.7 134.3zM71.9 143.2zM80.7 130.0zM91.0 146.7zM79.8 139.0zM86.5 144.4zM79.9 107.1zM79.2 133.2zM83.4 133.3zM82.2 127.0zM81.4 141.2zM74.8 136.0zM69.7 123.9zM82.4 132.1zM80.2 143.2zM83.4 135.7zM88.7 136.0zM87.2 136.9zM75.3 138.6zM83.3 140.8zM83.4 136.9zM79.8 123.0zM65.7 135.5zM75.9 138.5zM86.7 127.6zM71.7 132.2zM81.2 117.1zM78.2 134.8zM85.1 114.1zM86.2 123.1zM80.8 133.1zM77.3 142.3zM77.4 129.7zM86.9 139.9zM80.4 129.3zM68.0 131.7zM78.0 128.4zM67.7 142.7zM78.2 132.8zM83.4 140.7zM76.3 135.6zM71.8 134.5zM82.9 129.7zM75.8 138.8zM78.5 141.6zM87.5 138.1zM87.9 140.5zM85.6 145.0zM69.7 136.7zM77.3 131.1zM89.5 127.5zM73.0 131.9zM90.0 134.1zM81.1 147.7zM87.9 146.7zM78.3 130.3zM73.1 143.5zM74.1 128.5zM91.4 145.9zM79.0 121.4zM72.7 147.4zM86.9 135.8zM70.4 140.0zM80.1 136.5zM83.6 127.1zM83.3 138.9zM84.2 137.7zM80.6 145.2zM64.0 143.9zM80.9 143.2zM79.8 126.3zM84.6 145.5zM86.6 125.7zM82.7 130.6zM91.7 138.4zM96.6 129.4zM83.2 133.8zM78.8 147.8zM72.1 131.6zM85.2 128.8zM68.7 124.9zM88.0 133.3zM77.5 138.1zM86.0 138.2zM73.5 132.1zM86.5 128.8zM74.1 134.0zM82.9 130.0zM80.3 123.5zM92.1 119.1zM83.4 138.2zM92.2 133.6zM75.8 132.6zM73.0 134.2zM81.4 121.0zM61.7 145.6zM75.4 129.6zM64.3 126.5zM76.8 141.5zM86.1 139.0zM75.0 126.5zM77.3 140.3zM83.0 146.0zM70.8 139.0zM81.9 132.3zM80.4 137.0zM73.9 142.6zM74.2 135.6zM89.6 142.4zM86.2 147.5zM84.1 123.1zM75.2 139.5zM78.7 142.8zM72.0 135.2zM68.7 131.4zM76.9 137.0zM72.3 137.0zM72.5 132.4zM83.6 134.8zM77.8 134.8zM70.0 136.8zM95.3 122.9zM68.8 121.8zM82.5 131.6zM74.0 134.4zM85.7 132.1zM81.5 144.9zM88.1 137.4zM80.5 144.9zM75.7 140.0zM91.1 115.5zM80.6 142.5zM79.9 139.2zM75.9 137.2zM83.5 126.3zM92.7 140.2zM91.5 127.5zM83.1 120.4zM85.5 140.0zM86.2 146.0zM76.5 134.9zM91.4 136.0zM82.7 131.1zM85.3 141.5zM74.6 134.4zM83.1 134.8zM85.7 139.1zM78.8 148.7zM82.9 132.3zM90.4 128.9zM71.3 140.8zM67.8 136.5zM80.1 123.1zM79.3 136.4zM95.5 134.6zM87.9 133.6zM84.6 139.1zM80.2 140.0zM71.7 143.9zM78.6 146.0zM82.2 133.2zM77.9 137.7zM81.7 131.0zM85.8 130.8zM75.9 145.9zM74.1 144.6zM89.3 141.7zM66.7 143.0zM85.0 145.6zM86.2 136.9zM66.6 137.1zM77.4 143.9zM74.5 138.5zM76.8 121.2zM80.5 145.4zM90.0 139.7zM85.1 129.9zM76.0 129.4zM71.1 106.3zM70.2 130.0zM83.1 135.5zM65.6 142.7zM76.7 137.2zM84.9 127.9zM72.3 133.6zM78.5 138.1zM79.9 143.5zM86.0 140.6zM71.3 146.1zM81.2 118.7zM80.3 139.7zM81.4 140.6zM69.7 128.4zM84.2 139.7zM74.8 132.6zM79.9 125.7zM74.8 124.9zM94.3 143.1zM81.1 143.5zM95.7 148.6zM76.3 145.2zM78.8 142.6zM91.0 127.2zM78.2 135.8zM83.8 135.1zM78.1 129.2zM76.0 125.1zM79.0 127.9zM87.8 147.9zM83.7 131.6zM89.8 145.2zM78.9 132.8zM77.4 148.1zM72.9 122.6zM78.7 133.5zM76.6 143.8zM79.9 135.6zM74.2 129.0zM78.6 124.0zM87.5 129.5zM87.9 137.8zM90.2 125.5zM78.7 125.2zM79.0 129.4zM68.1 137.0zM80.4 146.9zM90.5 147.5zM93.7 133.0zM86.5 145.3zM77.4 145.8zM84.4 146.3zM70.5 137.8zM80.2 133.9zM90.8 135.8zM96.0 141.5zM76.2 138.4zM88.9 126.2zM86.6 116.3zM83.9 133.8zM92.3 141.5zM79.0 123.2zM79.5 136.6zM100.5 139.8zM74.8 137.8zM84.0 140.7zM91.3 135.5zM79.0 133.5zM78.4 143.4zM78.6 148.6zM86.5 133.7zM70.4 145.4zM80.0 134.3zM78.3 137.7zM84.6 130.2zM78.4 144.8zM76.6 139.0zM83.8 112.5zM88.0 126.0zM81.3 133.0zM68.1 143.2zM80.5 134.4zM80.9 131.0zM80.1 142.2zM84.6 133.8zM78.9 140.4zM88.6 146.9zM78.8 147.7zM90.6 122.7zM73.1 130.7zM64.3 142.4zM74.1 136.3zM100.8 130.4zM79.0 144.0zM80.1 138.9zM82.8 142.5zM77.9 146.9zM82.7 134.4zM81.7 148.2zM95.4 139.9zM89.3 140.7zM82.8 148.2zM85.8 122.3zM85.2 121.9zM73.4 126.8zM88.8 146.5zM76.5 139.3zM86.5 132.6zM82.0 127.9zM87.4 121.4zM91.0 141.0zM85.1 137.8zM77.6 141.8zM78.8 147.0zM85.0 140.9zM78.3 134.1zM78.5 142.2zM84.7 132.8zM77.9 139.8zM75.9 125.8zM68.9 132.1zM86.6 133.9zM87.9 139.7zM77.5 138.6zM83.2 136.0zM72.9 144.5zM89.3 133.1zM67.1 127.1zM80.7 136.5zM86.1 135.6zM73.3 144.6zM77.0 133.6zM89.9 148.6zM79.8 128.1zM80.8 123.6zM97.8 133.0zM84.0 140.4zM88.4 134.3zM86.3 126.9zM82.6 144.7zM79.5 128.1zM84.1 147.3zM88.2 123.7zM87.7 148.0zM85.1 145.9zM80.4 142.9zM86.3 148.0zM74.4 135.9zM81.2 137.3zM76.6 127.7zM80.3 135.2zM71.5 135.7zM73.4 135.6zM88.0 135.1zM85.0 114.0zM89.1 137.6zM89.7 140.4zM87.1 145.4zM83.6 131.9zM90.6 135.0zM70.9 128.5zM80.4 134.1zM88.9 131.7zM87.5 148.2zM82.1 141.3zM79.3 143.4zM87.5 134.0zM80.5 136.1zM73.8 142.6zM89.8 129.9zM79.0 142.7zM82.9 146.1zM70.3 132.0zM63.7 137.6zM84.8 129.4zM65.7 142.1zM78.0 148.3zM85.6 135.6zM83.0 129.2zM82.1 136.9zM89.3 145.5zM88.4 137.7zM84.2 141.8zM65.6 148.5zM93.4 128.0zM81.2 146.6zM85.3 130.0zM95.1 140.6zM90.8 145.1zM81.0 140.8zM89.1 139.0zM77.6 134.2zM82.6 134.7zM69.3 129.1zM70.6 139.9zM83.0 145.5zM91.6 137.1zM74.8 119.6zM90.1 142.4zM82.7 144.3zM94.3 129.8zM79.2 135.9zM102.4 138.4zM84.9 130.7zM80.0 140.7zM83.5 139.0zM68.9 126.9zM84.1 111.4zM79.5 129.1zM62.6 135.0zM63.4 127.7zM72.7 144.8zM84.7 142.3zM80.4 138.9zM92.5 130.7zM82.2 139.4zM83.0 128.4zM74.4 148.4zM84.2 135.9zM80.7 134.7zM86.5 142.3zM74.2 130.4zM80.0 146.6zM84.4 130.0zM90.2 143.4zM86.1 120.2zM77.2 124.6zM75.0 140.4zM81.5 137.5zM78.7 129.4zM73.6 136.0zM87.0 138.0zM82.8 140.3zM87.3 137.2zM65.4 122.5zM79.8 142.2zM86.3 123.6zM85.1 131.6zM85.2 135.1zM90.7 139.3zM68.4 145.9zM74.1 135.7zM90.1 133.0zM91.7 128.6zM75.8 136.5zM120.6 77.4zM122.0 93.0zM112.7 89.1zM117.2 102.5zM122.0 96.0zM126.3 99.1zM123.5 118.9zM112.3 101.0zM113.5 107.3zM122.3 93.7zM120.5 90.6zM120.5 87.1zM127.3 113.5zM116.6 86.1zM124.6 93.0zM120.7 123.0zM118.2 102.2zM113.0 98.5zM116.2 95.6zM125.7 85.6zM120.6 102.2zM123.2 109.2zM122.4 88.4zM119.8 92.8zM123.3 116.0zM121.4 94.1zM119.7 106.2zM119.2 122.9zM117.8 88.8zM121.3 97.2zM119.7 88.3zM124.2 73.9zM119.2 112.4zM117.1 104.7zM113.7 95.0zM123.0 103.0zM129.1 91.7zM120.2 82.5zM112.5 91.2zM123.6 89.9zM118.0 87.2zM122.8 109.6zM121.6 88.8zM122.8 86.1zM120.7 100.0zM119.4 103.0zM124.1 116.1zM119.3 101.0zM124.5 83.0zM118.2 88.2zM120.8 108.3zM117.7 90.8zM123.6 103.1zM117.9 118.3zM117.4 82.0zM123.6 81.5zM121.5 95.7zM120.0 97.6zM116.8 107.6zM120.1 80.3zM121.7 104.5zM122.6 95.2zM117.8 79.4zM122.1 95.2zM113.6 103.2zM120.5 117.5zM117.1 91.0zM122.8 105.6zM118.8 83.4zM128.4 109.6zM120.8 98.9zM121.4 115.1zM112.3 83.2zM115.4 85.4zM123.8 79.3zM117.9 117.4zM124.2 92.8zM117.7 77.9zM122.4 89.7zM117.4 107.1zM121.8 104.9zM122.6 102.6zM123.4 83.3zM117.6 95.9zM115.7 76.1zM122.2 81.3zM121.0 104.4zM122.6 107.6zM116.0 95.3zM122.9 77.8zM119.6 87.3zM116.5 93.6zM118.6 115.4zM123.5 90.7zM120.8 81.7zM120.8 84.7zM120.6 88.3zM118.9 91.8zM124.6 95.0zM120.4 119.8zM115.2 91.3zM115.2 74.1zM118.3 109.1zM118.9 89.2zM122.9 89.3zM111.1 91.4zM123.0 101.2zM124.4 99.2zM118.6 102.9zM124.7 94.0zM117.9 98.4zM119.7 85.7zM118.5 85.9zM126.0 90.9zM124.4 92.7zM124.2 78.7zM116.3 84.2zM120.6 111.4zM116.3 110.6zM120.9 115.7zM122.3 110.4zM125.2 107.5zM119.8 116.9zM121.1 104.9zM119.8 94.1zM116.5 94.5zM126.2 101.4zM121.7 102.5zM125.5 96.2zM123.3 94.1zM115.8 97.3zM118.1 89.0zM122.8 122.8zM123.4 103.6zM122.8 75.7zM120.3 107.6zM123.4 88.8zM116.8 95.4zM119.4 98.0zM116.2 107.9zM123.9 97.5zM121.7 101.2zM122.8 96.5zM119.4 123.8zM111.2 97.5zM117.5 88.1zM120.9 83.5zM120.5 98.2zM123.6 93.0zM124.3 100.0zM118.3 102.9zM123.1 85.2zM114.1 98.8zM122.7 90.0zM112.7 90.2zM122.1 87.5zM112.1 95.3zM122.1 90.1zM126.0 90.2zM119.7 94.1zM122.8 83.6zM124.3 112.7zM110.6 105.0zM113.3 93.8zM120.4 101.3zM116.4 87.6zM118.8 99.1zM130.1 81.0zM127.0 97.3zM122.7 99.3zM117.9 93.9zM122.3 106.1zM121.6 89.0zM119.8 99.4zM126.4 104.1zM113.4 103.8zM126.1 97.7zM118.8 116.4zM125.1 106.7zM119.9 105.2zM118.3 90.0zM117.9 98.8zM121.3 92.0zM121.7 120.7zM131.4 102.2zM126.2 89.6zM120.3 107.5zM116.0 110.2zM120.8 91.6zM122.5 99.9zM114.2 125.7zM120.4 98.5zM125.1 101.9zM118.7 132.7zM114.6 97.9zM123.2 84.9zM126.3 87.5zM119.7 99.5zM121.0 106.6zM124.7 88.3zM122.4 75.3zM117.9 104.3zM119.2 95.6zM120.2 92.4zM120.5 88.1zM124.8 110.4zM116.7 96.1zM121.9 83.3zM119.9 86.8zM112.9 92.9zM123.2 81.7zM121.0 92.1zM115.7 110.7zM113.9 107.4zM123.9 109.1zM126.7 108.8zM120.8 99.6zM119.6 102.1zM123.1 78.6zM118.1 106.3zM118.6 104.9zM124.0 100.6zM116.3 100.5zM124.7 85.9zM121.6 92.7zM125.3 80.4zM113.6 92.6zM125.2 95.1zM120.1 90.7zM122.8 110.8zM117.5 88.6zM116.7 101.6zM124.7 100.2zM122.2 96.0zM122.5 104.2zM123.0 102.3zM122.7 93.7zM114.7 112.6zM119.3 96.4zM119.2 104.9zM127.9 86.5zM125.4 87.8zM117.2 99.9zM115.0 123.7zM123.1 83.9zM122.6 84.7zM125.6 89.5zM116.2 93.1zM126.7 98.7zM121.2 109.6zM125.3 96.1zM121.6 104.6zM119.0 98.3zM117.6 91.7zM125.6 92.7zM108.6 103.5zM124.5 100.1zM123.1 112.8zM118.0 100.3zM123.4 96.8zM120.0 85.4zM115.7 89.7zM119.4 102.2zM122.7 101.7zM120.7 116.5zM117.7 91.3zM123.0 105.4zM123.2 97.4zM125.0 75.2zM121.3 85.4zM126.0 101.1zM117.8 94.3zM118.8 90.9zM115.1 110.5zM120.2 95.8zM120.6 101.5zM120.3 106.8zM115.6 93.2zM124.1 105.5zM114.1 87.2zM116.9 84.0zM109.4 110.6zM124.2 112.8zM123.3 106.4zM119.6 89.9zM121.5 94.5zM115.7 87.9zM116.3 87.9zM116.7 99.7zM121.5 93.0zM118.9 111.1zM121.0 80.9zM116.3 92.5zM115.3 84.7zM121.9 83.7zM121.4 119.0zM121.9 115.6zM118.0 102.8zM121.3 104.0zM114.5 104.8zM116.2 98.6zM121.5 63.4zM116.8 73.0zM115.8 104.4zM116.8 69.5zM126.5 113.7zM118.7 107.1zM121.5 101.4zM119.7 102.1zM129.4 105.7zM120.0 91.2zM124.3 118.4zM123.9 95.0zM122.0 87.6zM120.4 118.5zM114.8 99.4zM122.5 101.6zM128.6 111.3zM122.5 122.5zM128.0 97.5zM123.2 99.1zM123.9 82.3zM118.7 98.2zM120.0 116.6zM122.3 89.3zM124.7 87.7zM116.7 78.8zM115.2 83.5zM120.1 83.1zM120.1 98.0zM122.2 101.1zM126.8 75.2zM118.4 102.7zM127.4 112.4zM122.6 107.4zM120.6 89.4zM114.2 107.1zM126.0 92.2zM127.1 85.3zM122.3 82.0zM122.4 81.1zM118.9 94.1zM113.3 104.6zM117.5 77.6zM115.1 75.2zM115.3 111.0zM117.3 87.1zM118.3 122.9zM122.3 102.3zM125.3 81.8zM119.6 108.4zM123.3 109.4zM119.1 78.6zM119.2 95.0zM121.6 113.3zM118.0 80.6zM121.3 102.7zM118.5 101.7zM117.1 119.9zM117.9 112.7zM126.0 93.3zM121.2 81.7zM118.6 93.9zM121.0 98.9zM117.5 97.6zM118.6 92.9zM119.0 87.1zM114.1 112.2zM119.7 93.5zM121.9 89.4zM121.3 100.2zM119.7 99.4zM124.2 97.6zM117.2 111.4zM124.3 86.4zM123.8 100.8zM121.0 109.4zM125.8 92.7zM117.4 99.5zM121.2 105.3zM119.7 103.8zM117.5 98.1zM119.1 84.0zM121.7 87.7zM121.7 98.1zM122.6 94.6zM117.8 94.5zM119.9 91.9zM119.8 78.3zM117.9 104.9zM120.2 86.1zM112.5 115.8zM116.0 129.4zM118.4 106.9zM118.9 103.3zM122.6 90.8zM118.2 86.9zM126.4 93.4zM114.9 109.4zM126.9 98.4zM116.8 79.6zM116.1 107.1zM117.5 92.4zM118.0 107.3zM119.2 98.1zM118.6 89.1zM121.9 92.8zM123.0 106.3zM116.4 91.6zM124.7 113.1zM121.1 89.1zM120.2 114.2zM123.3 83.0zM119.9 85.8zM125.4 104.8zM115.8 115.0zM124.6 94.7zM118.5 106.9zM122.9 87.5zM118.6 86.6zM126.2 98.3zM121.6 122.2zM123.0 94.9zM116.4 79.9zM114.9 70.1zM121.1 97.0zM125.7 104.8zM120.8 93.8zM114.9 99.7zM126.4 89.0zM118.4 112.0zM123.0 103.4zM117.3 81.9zM117.7 90.7zM121.3 111.4zM110.7 97.2zM116.6 70.9zM118.7 93.1zM118.7 91.8zM114.3 66.7zM124.2 102.7zM119.4 113.1zM119.5 91.2zM113.3 87.2zM119.8 94.8zM122.4 91.9zM123.1 96.3zM122.2 103.0zM119.8 79.2zM119.2 93.3zM120.7 118.5zM122.4 95.5zM119.2 98.3zM119.2 100.9zM121.4 87.6zM119.1 81.1zM120.9 122.8zM120.5 97.3zM116.7 85.4zM125.4 107.0zM122.4 92.4zM116.7 86.4zM116.6 91.1zM118.2 81.5zM117.8 85.3zM116.4 107.1zM120.7 98.2zM118.8 93.8zM116.6 111.7zM125.4 104.9zM118.7 92.3zM121.1 80.1zM115.1 90.7zM116.0 111.4zM116.3 86.3zM123.2 121.4zM122.5 94.4zM119.1 81.4zM118.8 91.7zM121.0 113.3zM116.8 89.8zM119.0 102.0zM123.3 105.3zM116.7 90.6zM122.2 108.9zM119.5 113.1zM120.5 106.0zM119.3 76.8zM122.9 100.4zM123.0 105.3zM121.8 107.2zM114.1 117.8zM120.3 100.4zM124.1 97.6zM116.3 73.7zM114.4 83.7zM119.1 109.9zM122.7 84.0zM115.3 94.3zM121.0 77.8zM118.8 93.7zM119.7 83.1zM121.3 102.4zM119.2 96.1zM117.8 101.0zM120.5 79.5zM125.3 94.6zM122.0 106.6zM122.3 60.8zM116.6 89.9zM118.0 95.8zM115.2 106.3zM123.2 103.7zM123.5 104.0zM121.4 100.7zM122.7 105.8zM118.4 95.1zM118.6 95.6zM124.2 83.6zM118.5 94.6zM123.6 94.0zM125.8 114.6zM115.8 84.2zM116.8 100.0zM126.0 93.7zM123.5 97.6zM125.5 109.4zM126.0 96.3zM118.9 86.6zM127.2 98.3zM124.9 108.2zM123.7 100.8zM121.2 105.2zM118.8 81.7zM117.3 107.9zM114.9 91.8zM117.0 83.5zM117.3 101.0zM120.7 81.0zM117.5 100.5zM113.8 115.5zM120.7 91.0zM112.7 87.3zM118.8 110.1zM122.5 104.9zM114.6 107.3zM115.7 75.6zM119.8 87.8zM124.8 118.6zM119.6 88.0zM118.4 92.2zM121.0 98.8zM113.8 99.9zM114.6 95.3zM122.5 67.5zM122.9 103.7zM122.1 84.1zM120.5 108.4zM121.6 111.7zM113.7 84.8zM116.1 99.0zM118.6 116.1zM123.5 117.1zM120.7 108.5zM120.1 91.7zM116.0 102.3zM120.5 86.8zM121.4 114.9zM122.1 101.7zM119.6 113.7zM127.4 68.8zM115.9 91.2zM123.3 91.6zM115.5 93.0zM115.5 83.2zM122.7 102.9zM118.7 87.5zM117.4 119.0zM120.3 93.3zM129.3 92.2zM118.0 89.4zM119.0 104.3zM124.6 101.4zM118.2 86.5zM128.8 62.9zM115.6 93.5zM119.4 87.9zM123.7 97.6zM119.4 87.5zM118.4 101.0zM115.1 84.4zM119.7 100.5zM123.3 94.9zM119.2 108.5zM116.6 95.9zM125.0 104.8zM123.2 94.1zM122.3 95.2zM119.4 89.7zM117.1 82.7zM124.3 99.7zM120.4 97.3zM118.8 115.6zM119.5 102.9zM121.6 118.9zM123.2 119.9zM120.1 100.8zM118.8 86.1zM116.1 95.2zM119.2 109.5zM119.4 97.2zM121.3 110.4zM120.1 93.7zM118.2 99.0zM119.7 108.5zM122.4 105.5zM119.8 101.8zM119.5 100.8zM119.2 104.6zM118.9 97.1zM121.4 109.4zM122.3 91.3zM119.1 132.7zM119.5 100.7zM121.5 88.5zM122.8 79.5zM125.0 87.6zM115.4 102.6zM123.2 92.4zM118.4 111.3zM122.4 94.0zM123.4 86.0zM126.7 94.3zM118.4 91.7zM123.8 95.7zM111.5 84.7zM120.4 96.3zM112.3 76.3zM117.6 99.4zM116.2 96.3zM115.0 96.1zM120.1 88.5zM116.2 97.2zM116.0 100.2zM117.3 77.9zM118.3 109.1zM121.9 96.1zM118.5 103.5zM116.8 115.4zM114.0 83.7zM122.2 86.5zM121.1 86.9zM122.3 98.4zM117.7 86.4zM124.4 88.0zM122.1 118.0zM128.2 95.1zM118.8 102.7zM123.1 109.6zM125.9 114.8zM119.3 81.6zM120.0 102.5zM118.4 106.9zM119.2 110.9zM123.0 90.4zM120.9 93.2zM116.4 100.3zM128.9 98.7zM117.6 94.4zM124.3 91.1zM120.4 96.7zM122.6 94.8zM122.2 101.0zM123.1 90.9zM123.0 86.3zM126.3 92.8zM117.8 95.6zM115.5 110.4zM114.3 93.5zM112.9 73.9zM122.0 123.5zM114.0 112.1zM114.5 104.9zM121.0 103.7zM119.1 98.6zM120.5 118.4zM110.6 84.1zM115.6 106.9zM114.6 107.0zM120.0 125.7zM120.0 97.2zM121.5 116.0zM124.5 103.3zM132.5 86.8zM118.2 85.5zM122.6 112.2zM123.3 84.6zM119.7 94.9zM116.6 117.7zM123.2 87.3zM123.3 105.0zM122.1 120.9zM117.5 116.3zM112.2 107.6zM116.4 89.9zM124.4 119.5zM124.4 104.3zM116.5 99.1zM121.0 85.8zM124.8 73.3zM124.9 102.9zM116.8 93.1zM119.5 78.6zM119.9 108.8zM116.2 101.3zM126.4 91.3zM113.8 93.6zM121.6 104.9zM123.8 104.4zM121.8 87.9zM122.8 109.0zM112.1 96.2zM120.4 86.8zM121.3 97.0zM121.2 98.8zM115.5 112.0zM119.4 106.3zM117.3 72.5zM125.2 84.2zM117.9 107.6zM119.7 101.6zM119.6 87.3zM119.5 92.5zM126.3 117.1zM125.4 71.0zM121.6 112.8zM119.0 110.8zM118.7 91.5zM113.6 95.3zM120.5 102.6zM121.4 99.4zM119.6 103.3zM116.9 112.2zM124.5 91.1zM123.0 98.4zM120.8 103.7zM125.9 93.4zM121.2 98.0zM126.8 115.3zM119.6 74.8zM120.8 101.7zM118.2 92.2zM123.6 85.3zM118.6 95.8zM121.8 102.7zM120.8 107.9zM117.6 89.6zM128.2 105.9zM124.2 115.2zM119.5 100.6zM123.4 106.8zM121.6 103.9zM118.8 106.1zM126.9 87.5zM123.3 112.5zM122.5 103.8zM122.2 119.7zM122.8 108.0zM123.1 88.5zM121.3 112.0zM121.1 114.5zM120.8 110.8zM115.0 95.2zM119.8 93.9zM124.8 114.2zM125.9 89.7zM121.1 108.8zM117.6 100.2zM124.0 91.1zM117.5 94.4zM116.7 92.5zM115.4 104.5zM113.1 91.0zM127.1 97.7zM120.5 95.9zM110.2 103.2zM117.4 110.3zM114.3 81.6zM123.4 103.4zM118.0 90.6zM117.6 96.3zM122.6 97.1zM126.1 116.7zM117.5 116.1zM120.1 95.9zM116.8 95.9zM123.6 115.3zM121.1 104.5zM120.7 120.2zM117.3 90.6zM125.5 111.8zM119.2 93.0zM124.4 65.1zM124.6 107.4zM116.1 87.7zM119.5 106.9zM121.1 95.2zM116.4 113.0zM119.9 82.9zM121.4 80.6zM114.3 115.9zM119.2 111.2zM121.4 99.8zM118.6 79.9zM118.1 108.4zM115.2 126.9zM120.3 94.4zM120.9 94.0zM119.8 88.9zM125.1 103.7zM120.2 97.6zM118.7 80.8zM126.4 90.1zM122.7 109.4zM124.2 85.3zM124.9 101.2zM118.4 110.1zM116.8 107.0zM126.2 77.7zM113.5 104.9zM118.4 85.4zM126.0 75.0zM117.9 101.6zM123.0 79.4zM117.4 95.3zM128.8 112.3zM120.0 104.4zM123.2 96.5zM115.5 108.7zM122.9 98.7zM122.8 107.2zM118.7 110.9zM122.8 86.4zM119.6 117.0zM121.7 96.4zM118.5 98.7zM118.7 100.1zM115.9 94.7zM121.9 92.8zM119.6 104.0zM117.8 90.9zM126.2 103.3zM120.4 106.4zM119.8 91.3zM117.7 94.1zM123.7 103.9zM120.9 97.5zM117.4 105.1zM119.4 97.1zM122.4 94.0zM120.7 95.3zM124.5 101.4zM124.0 111.3zM128.2 78.5zM118.0 92.3zM120.2 93.3zM119.5 88.6zM119.5 92.3zM120.6 111.2zM119.1 109.5zM123.6 90.9zM115.9 81.2zM120.5 102.6zM122.6 103.3zM123.9 84.3zM120.3 100.1zM121.5 102.7zM120.6 105.4zM122.1 92.1zM119.7 103.6zM122.9 96.0zM125.2 107.6zM127.8 100.7zM119.2 105.0zM123.4 98.0zM121.4 94.9zM121.9 100.5zM118.8 107.7zM120.8 93.6zM122.4 101.9zM120.5 125.8zM119.0 90.5zM124.8 82.8zM120.9 87.0zM119.6 94.6zM120.5 97.9zM119.7 72.4zM117.7 75.2zM122.3 106.8zM119.6 81.8zM116.0 105.6zM124.0 111.8zM119.2 62.8zM115.2 104.2zM120.1 98.3zM117.8 94.0zM121.0 102.3zM116.1 97.2zM118.8 104.0zM114.5 118.8zM115.4 101.4zM120.6 84.0zM118.3 113.8zM125.7 110.7zM117.7 114.4zM120.9 102.3zM115.7 108.1zM125.6 120.4zM120.4 97.2zM114.8 90.9zM121.1 114.5zM118.5 94.1zM127.9 111.1zM124.2 92.0zM117.5 92.7zM122.8 101.5zM122.0 101.7zM119.0 89.4zM119.1 116.7zM119.4 93.3zM116.8 106.2zM121.3 87.8zM118.5 91.3zM120.0 91.7zM119.0 100.0zM117.7 100.0zM127.2 100.6zM121.3 98.4zM122.7 108.7zM129.9 108.6zM120.2 93.3zM117.8 99.8zM114.2 103.4zM115.2 106.4zM122.5 104.1zM115.4 94.5zM113.0 94.6zM120.4 99.1zM120.0 103.9zM126.3 86.3zM115.1 87.0zM123.9 93.7zM112.0 99.3zM124.9 90.9zM121.3 93.4zM116.9 89.1zM124.7 104.0zM120.9 75.7zM122.4 98.1zM120.5 90.7zM124.4 98.5zM122.7 100.3zM116.9 64.3zM117.2 110.8zM117.3 106.4zM123.1 116.0zM122.5 107.0zM121.3 108.5zM119.5 104.4zM118.3 116.2zM121.6 83.1zM123.3 97.1zM123.1 87.8zM126.1 108.1zM126.5 101.1zM119.0 116.6zM129.4 99.8zM125.7 96.2zM121.4 96.3zM121.7 89.8zM122.3 75.2zM118.5 97.8zM118.0 93.3zM120.5 93.1zM119.1 85.2zM110.2 99.3zM122.6 86.4zM113.6 101.2zM121.6 95.5zM119.1 94.5zM118.1 80.2zM123.1 101.9zM117.4 108.0zM116.9 96.6zM121.4 91.5zM121.1 105.1zM117.9 107.0zM117.6 93.2zM117.7 129.1zM121.5 112.2zM121.9 115.2zM123.2 102.9zM119.9 102.7zM117.1 87.0zM122.9 95.2zM129.7 98.8zM126.1 106.0zM116.7 92.4zM123.0 88.5zM119.9 111.4zM120.0 99.4zM119.4 108.9zM117.4 99.4zM114.9 91.2zM121.9 97.9zM116.7 70.3zM118.4 109.2zM119.0 104.5zM120.7 111.4zM118.8 95.6zM119.8 120.6zM118.8 112.0zM121.2 78.2zM121.6 78.0zM125.6 101.0zM122.4 82.4zM118.3 96.4zM122.4 96.1zM123.6 94.5zM118.3 115.2zM118.4 104.6zM112.3 105.4zM125.7 100.8zM120.9 131.9zM125.2 113.2zM114.9 90.2zM112.0 104.5zM121.5 89.7zM117.4 96.1zM121.0 97.1zM117.6 82.3zM123.3 76.9zM119.2 84.3zM119.8 104.3zM122.1 66.4zM118.8 104.9zM119.0 73.9zM124.8 89.0zM120.1 91.9zM121.2 106.5zM122.2 98.0zM120.8 85.5zM122.2 91.3zM127.2 100.8zM124.3 110.4zM115.4 101.1zM112.6 96.7zM117.3 95.0zM112.0 115.9zM110.8 88.7zM116.7 92.8zM117.0 102.0zM121.0 112.6zM122.0 78.3zM128.1 109.1zM117.9 111.2zM118.2 100.9zM121.2 76.3zM124.3 89.8zM119.5 96.3zM117.2 101.2zM110.8 83.7zM123.4 95.1zM119.6 106.1zM125.9 91.7zM126.9 94.5zM127.1 92.6zM122.0 81.7zM123.5 93.8zM115.6 95.4zM121.9 106.5zM119.1 88.8zM124.1 82.9zM118.4 92.3zM119.6 87.8zM117.4 104.3zM126.9 91.5zM120.8 80.0zM116.8 104.8zM119.0 97.0zM115.8 100.0zM124.6 102.5zM124.7 110.0zM120.9 87.4zM121.4 105.1zM115.2 98.7zM125.9 98.6zM120.2 96.8zM127.7 92.6zM118.3 100.3zM122.0 98.2zM123.5 105.7zM123.2 114.9zM119.9 86.6zM124.2 120.2zM121.7 110.3zM120.4 84.8zM116.6 96.4zM124.9 97.9zM120.5 111.3zM122.1 86.8zM120.1 117.5zM121.6 85.5zM119.0 93.8zM129.5 90.9zM126.8 83.7zM122.8 85.0zM121.4 91.2zM122.7 94.9zM117.3 90.9zM122.5 87.3zM120.0 68.4zM118.8 94.7zM117.9 119.4zM117.9 116.9zM122.0 111.2zM120.4 93.4zM117.5 103.8zM121.8 91.8zM120.8 92.5zM120.0 99.7zM125.5 109.6zM119.4 92.3zM115.6 90.4zM120.9 97.5zM116.8 81.0zM123.3 107.8zM122.4 109.6zM119.2 111.5zM122.1 106.8zM118.9 91.2zM118.7 95.3zM114.0 87.3zM112.9 101.5zM118.9 122.9zM126.5 86.8zM116.1 105.5zM120.0 113.7zM118.0 86.1zM122.1 122.4zM117.4 90.4zM119.9 96.8zM121.7 102.8zM118.5 108.7zM119.8 107.1zM119.5 95.2zM122.1 90.5zM122.5 71.3zM122.9 92.2zM121.8 112.5zM116.8 89.0zM118.8 105.1zM122.1 106.1zM120.5 100.0zM123.3 91.7zM115.9 91.7zM117.2 97.5zM117.3 77.9zM121.3 114.1zM118.1 86.0zM117.2 90.9zM121.5 90.9zM118.8 94.7zM116.5 102.4zM121.7 111.9zM119.9 100.6zM122.0 116.1zM122.2 93.8zM118.2 106.0zM119.2 107.2zM119.8 99.8zM122.6 105.8zM120.1 86.4zM123.9 113.3zM118.3 107.4zM120.2 100.1zM124.8 94.1zM115.4 107.8zM115.9 85.6zM122.6 106.6zM122.9 108.8zM123.6 126.9zM123.2 97.2zM123.8 113.8zM118.5 105.3zM120.3 79.8zM122.2 83.4zM116.1 92.1zM115.9 111.5zM118.2 114.9zM123.7 95.4zM122.9 103.2zM115.8 100.8zM118.3 69.7zM118.3 110.8zM120.5 114.4zM120.9 72.5zM120.2 87.4zM117.1 97.2zM124.0 97.2zM123.8 110.3zM116.6 111.6zM119.6 91.8zM123.9 106.0zM121.4 90.8zM121.8 94.6zM118.7 100.9zM125.1 104.5zM116.5 91.0zM123.4 120.1zM126.3 100.5zM117.7 98.3zM124.8 107.1zM123.1 90.9zM118.1 101.8zM120.8 70.0zM125.1 78.5zM118.7 94.0zM118.7 92.8zM110.5 94.1zM114.6 90.7zM119.0 104.9zM119.8 112.1zM122.3 92.4zM123.3 110.1zM127.0 102.6zM122.7 84.3zM130.3 82.7zM122.9 98.8zM124.9 110.6zM117.6 87.6zM121.9 74.1zM123.6 109.3zM123.6 111.5zM118.8 95.6zM120.2 110.7zM116.0 121.5zM121.5 88.5zM116.7 93.8zM123.7 93.9zM121.2 110.7zM122.8 88.5zM122.4 94.6zM121.9 112.9zM123.1 109.9zM120.6 110.5zM114.8 87.7zM124.7 103.4zM117.8 91.7zM123.5 108.9zM122.2 104.1zM121.7 106.5zM120.9 96.4zM121.3 100.1zM121.0 102.7zM120.4 96.0zM119.9 102.1zM121.4 87.3zM122.4 84.9zM118.9 78.8zM121.2 96.8zM115.7 108.0zM117.5 103.4zM114.4 75.8zM119.4 103.0zM121.6 98.9zM122.7 96.6zM115.7 101.1zM123.1 105.1zM116.8 114.1zM118.9 112.7zM118.6 120.3zM125.7 105.2zM120.9 91.8zM127.5 113.7zM123.7 84.8zM119.4 108.1zM121.7 86.9zM125.0 92.0zM117.4 112.5zM118.7 91.6zM120.2 110.7zM119.2 105.8zM119.4 97.0zM126.2 107.1zM120.9 105.5zM119.3 100.3zM119.0 91.4zM115.7 108.1zM123.1 95.0zM118.2 98.0zM132.5 103.7zM121.9 97.5zM118.4 101.6zM116.2 102.1zM118.7 101.9zM121.7 100.2zM118.3 114.3zM122.5 93.3zM122.7 93.8zM122.2 84.5zM122.1 72.2zM120.4 106.2zM118.1 104.1zM116.1 114.9zM114.8 82.3zM118.8 90.0zM122.6 92.2zM120.3 120.7zM116.8 109.1zM123.4 96.6zM117.0 98.3zM116.3 102.1zM117.0 85.9zM118.0 102.4zM120.0 86.4zM116.1 99.6zM114.8 106.3zM121.8 101.7zM121.2 90.6zM121.9 95.3zM122.8 107.5zM120.5 92.7zM126.3 83.1zM119.6 95.3zM120.1 92.5zM124.7 96.0zM121.6 98.3zM119.7 94.4zM120.2 94.3zM116.3 108.5zM122.5 104.8zM119.5 109.0zM121.8 99.0zM124.8 93.9zM122.9 101.6zM121.2 81.8zM121.6 85.4zM120.7 107.6zM126.0 92.6zM119.4 132.5zM118.0 125.2zM122.9 148.7zM117.6 121.7zM125.4 123.5zM122.2 145.1zM115.8 129.2zM119.8 131.6zM118.2 123.7zM123.2 119.0zM123.2 125.0zM119.9 113.5zM119.4 142.3zM122.9 137.2zM125.8 132.7zM119.3 127.2zM122.6 145.6zM115.1 127.5zM122.7 145.6zM119.4 127.8zM122.3 112.2zM125.0 129.6zM120.9 130.0zM113.3 139.9zM114.8 128.3zM121.7 136.6zM118.5 136.5zM117.7 123.3zM124.7 120.4zM120.7 124.7zM124.4 114.2zM124.3 134.5zM120.1 141.0zM121.8 129.7zM117.5 125.8zM122.6 119.5zM121.2 141.0zM126.4 145.9zM124.0 107.8zM120.6 127.1zM121.3 133.3zM123.7 135.2zM124.6 138.0zM117.4 129.1zM117.9 138.2zM122.4 140.9zM121.0 132.6zM115.5 125.8zM120.2 145.2zM119.8 133.0zM120.2 135.2zM119.2 134.4zM122.8 129.1zM124.1 128.1zM123.6 127.8zM120.4 124.5zM120.3 128.2zM118.9 132.6zM120.7 124.2zM120.7 121.7zM120.6 147.3zM122.0 126.3zM124.0 135.2zM119.2 113.1zM120.5 109.0zM123.0 136.2zM121.9 113.7zM118.7 135.8zM117.5 143.3zM123.4 123.5zM117.9 127.3zM122.6 128.0zM118.1 124.9zM126.9 128.5zM117.9 128.1zM127.1 130.5zM123.7 133.7zM125.8 139.0zM125.3 138.4zM123.1 133.7zM120.4 124.1zM129.2 138.8zM120.1 142.3zM122.0 134.8zM117.1 128.8zM123.3 107.3zM119.2 140.3zM121.9 135.8zM123.4 140.6zM124.2 128.0zM119.1 139.8zM115.9 119.9zM122.9 134.3zM118.0 124.5zM120.0 138.9zM118.8 113.0zM124.6 129.4zM128.4 135.6zM119.6 130.7zM128.4 129.3zM122.0 124.6zM120.4 130.5zM127.6 126.5zM120.7 118.4zM120.4 121.4zM127.4 128.3zM124.3 141.3zM112.4 130.2zM120.9 142.2zM119.5 123.2zM121.8 135.9zM119.9 129.9zM120.1 143.9zM128.1 142.7zM116.2 137.7zM121.9 120.4zM123.3 129.2zM116.8 132.2zM117.8 132.3zM117.8 126.0zM124.1 136.1zM117.9 138.2zM123.0 136.8zM117.6 124.2zM117.4 128.6zM122.8 119.8zM124.1 124.7zM117.1 140.1zM118.1 130.7zM122.2 131.1zM118.2 145.4zM117.6 126.5zM117.9 133.2zM122.3 116.3zM112.9 143.6zM127.0 131.0zM126.5 142.2zM125.4 141.9zM120.7 132.6zM119.2 139.4zM123.1 116.5zM117.8 127.0zM128.3 111.2zM119.4 144.3zM125.2 140.0zM119.9 148.6zM118.6 131.0zM121.7 116.1zM123.3 128.6zM120.2 139.6zM121.4 146.7zM125.4 142.1zM124.2 140.0zM123.0 129.5zM119.3 120.3zM119.8 143.5zM122.9 122.8zM119.1 139.7zM125.8 141.0zM121.7 133.6zM122.1 113.6zM119.4 123.1zM122.2 144.3zM124.0 118.8zM122.2 119.3zM119.8 109.1zM123.1 132.3zM122.1 137.5zM120.3 145.6zM121.1 138.4zM124.2 113.0zM121.1 130.2zM124.1 113.4zM115.6 136.4zM118.2 117.2zM124.3 144.8zM123.9 140.7zM123.7 127.0zM124.2 138.2zM124.3 135.8zM117.7 134.6zM126.4 133.4zM124.1 141.8zM117.4 134.1zM117.0 129.0zM122.6 137.7zM119.0 125.2zM122.9 147.5zM120.3 142.9zM116.4 109.5zM118.5 130.0zM120.0 131.8zM121.2 132.5zM123.8 139.0zM120.5 110.8zM120.8 143.5zM113.7 111.4zM119.6 145.4zM116.5 138.5zM123.4 124.0zM124.7 127.6zM122.6 127.6zM127.9 147.5zM122.1 126.7zM123.9 128.4zM120.1 138.0zM117.9 126.5zM120.2 136.5zM124.6 124.8zM121.2 145.1zM120.1 119.7zM120.8 137.7zM122.8 137.9zM125.6 128.8zM116.3 146.6zM120.8 133.4zM120.4 137.1zM121.1 135.5zM122.9 147.0zM125.0 142.7zM115.6 134.2zM117.3 132.5zM121.6 124.5zM116.5 130.1zM122.7 133.4zM120.7 143.4zM117.4 108.4zM118.2 127.2zM130.0 147.5zM120.1 146.4zM125.8 112.6zM121.0 131.9zM118.5 124.9zM122.7 128.4zM119.4 134.3zM111.8 121.2zM112.5 145.6zM120.7 135.4zM123.3 135.5zM118.6 125.3zM117.6 145.4zM119.2 129.1zM126.5 123.8zM115.1 131.2zM123.2 117.7zM124.8 126.4zM118.0 123.9zM119.8 122.6zM118.9 133.2zM124.2 136.8zM121.3 137.9zM119.3 135.9zM122.2 113.6zM125.0 127.6zM119.9 107.2zM118.4 141.3zM124.1 137.9zM126.7 142.7zM126.2 115.0zM123.8 109.3zM120.6 133.8zM123.8 121.3zM123.1 119.1zM123.3 123.2zM121.2 114.9zM124.7 111.4zM124.2 137.1zM117.2 136.4zM123.6 141.8zM118.1 136.5zM121.7 133.9zM120.9 138.0zM122.9 129.2zM119.7 134.2zM120.2 130.8zM119.7 106.2zM119.8 137.2zM119.5 130.2zM122.5 137.0zM121.4 135.3zM117.2 123.9zM121.0 123.8zM122.0 127.5zM119.1 125.9zM122.6 110.4zM125.6 119.8zM123.2 116.3zM123.7 125.0zM122.5 140.2zM127.7 120.2zM121.6 142.3zM132.5 134.9zM122.7 147.1zM121.4 130.3zM116.4 137.1zM116.2 129.7zM128.4 146.0zM121.7 136.9zM118.5 140.8zM119.9 143.5zM117.8 145.2zM121.4 121.8zM119.3 136.2zM123.3 124.6zM126.3 128.4zM123.1 132.9zM121.6 140.0zM121.6 132.8zM126.0 130.3zM117.2 148.4zM118.4 138.5zM119.7 108.2zM117.6 137.7zM123.1 127.7zM120.2 140.8zM118.4 142.1zM121.2 128.9zM122.8 143.3zM121.5 131.1zM119.8 125.2zM118.0 114.8zM123.0 136.3zM124.8 130.6zM122.3 145.6zM121.4 134.1zM118.8 142.7zM126.9 131.3zM120.6 139.6zM123.3 121.4zM119.4 141.7zM122.9 145.9zM124.9 126.9zM124.2 111.2zM121.1 135.5zM118.7 119.9zM121.7 131.7zM119.5 144.9zM120.3 106.7zM127.1 130.1zM124.6 131.3zM122.7 141.8zM123.8 138.0zM122.4 138.4zM121.5 141.5zM122.1 109.6zM123.3 133.2zM128.4 129.5zM118.0 132.6zM121.9 145.5zM120.0 118.8zM129.5 103.0zM125.9 131.3zM123.8 128.7zM125.3 142.8zM123.2 135.6zM120.9 137.0zM128.0 142.0zM118.1 122.6zM115.8 134.8zM124.1 140.2zM119.7 137.2zM124.9 136.5zM123.2 137.6zM125.5 131.3zM122.0 138.5zM125.4 137.3zM122.6 117.5zM125.5 140.0zM125.7 125.1zM125.0 129.4zM124.8 119.1zM123.2 131.8zM118.3 141.4zM125.0 128.5zM126.2 130.0zM117.1 145.4zM119.1 139.9zM115.4 126.0zM117.7 128.4zM124.0 125.9zM120.0 148.1zM123.7 127.0zM126.7 129.8zM116.4 147.6zM122.5 126.9zM123.1 146.0zM123.5 116.9zM125.5 126.1zM124.0 140.8zM119.1 122.9zM125.9 119.8zM129.1 114.2zM118.6 137.6zM121.8 130.6zM123.4 137.2zM121.0 132.6zM123.2 148.4zM125.9 115.4zM121.1 136.6zM121.7 118.9zM128.5 136.2zM125.8 130.1zM120.7 136.3zM118.3 129.5zM122.0 108.7zM123.9 140.7zM121.4 111.6zM117.7 122.4zM118.1 124.6zM119.9 135.4zM122.1 118.9zM122.9 131.5zM125.7 134.3zM119.2 125.5zM116.2 136.5zM118.6 141.3zM121.1 131.3zM120.9 135.8zM121.2 145.0zM122.5 125.7zM120.6 99.2zM117.1 130.1zM122.4 137.0zM122.9 139.6zM119.2 139.4zM132.5 147.5zM113.5 134.4zM116.7 126.5zM119.8 120.1zM119.8 117.9zM118.7 144.9zM122.5 126.2zM125.4 123.7zM122.4 117.7zM126.9 143.6zM116.7 121.3zM121.1 127.0zM122.0 127.1zM120.6 137.8zM121.3 128.9zM121.0 144.3zM119.6 125.8zM118.1 128.6zM120.6 111.4zM123.0 121.5zM123.3 121.7zM124.1 136.5zM113.6 116.6zM118.6 147.0zM117.7 122.1zM121.5 127.0zM121.6 145.9zM120.2 107.5zM120.0 122.5zM121.9 109.8zM123.1 130.4zM120.5 111.5zM126.0 140.6zM122.3 140.3zM122.2 121.0zM119.0 126.6zM115.2 143.1zM117.8 138.5zM116.4 129.5zM116.7 117.6zM118.4 119.7zM121.5 127.0zM120.9 132.0zM126.0 142.8zM124.5 147.9zM126.6 114.1zM121.8 121.8zM115.7 124.5zM124.8 131.4zM127.9 123.2zM120.2 119.7zM121.0 141.9zM121.9 133.5zM121.2 144.5zM119.5 130.4zM120.0 114.2zM115.8 110.2zM122.1 140.7zM122.0 132.3zM123.9 132.1zM121.4 120.8zM122.9 135.0zM128.9 136.1zM122.4 125.6zM125.8 144.7zM125.0 131.4zM122.9 146.0zM112.9 114.0zM123.1 148.1zM119.7 124.4zM118.5 138.6zM121.5 125.2zM122.5 133.6zM129.6 134.4zM121.8 117.5zM118.7 135.2zM121.1 145.5zM123.1 134.7zM118.5 147.7zM116.2 135.2zM120.1 135.9zM123.9 119.6zM118.5 143.4zM118.7 118.7zM121.2 134.2zM119.7 125.0zM118.5 119.7zM127.2 129.0zM120.0 139.0zM126.1 144.1zM121.9 126.4zM127.3 125.8zM118.3 141.0zM122.1 132.6zM113.6 146.2zM125.8 123.5zM120.3 137.0zM128.2 132.9zM131.0 113.6zM126.5 129.6zM126.8 132.2zM121.7 147.6zM118.9 135.6zM116.6 121.1zM125.0 116.4zM115.3 144.5zM120.9 119.1zM122.7 136.7zM117.4 127.1zM118.7 123.3zM118.1 131.6zM120.0 135.6zM116.9 108.6zM121.3 135.2zM119.5 120.8zM124.9 105.3zM118.3 130.4zM120.1 131.7zM113.7 118.0zM125.5 118.9zM120.6 122.2zM122.0 136.7zM123.0 137.2zM125.0 136.7zM116.1 130.0zM129.0 123.2zM125.4 110.3zM123.5 120.3zM121.6 131.3zM124.3 134.2zM124.4 132.1zM118.0 127.5zM121.6 126.5zM122.9 123.0zM122.6 142.2zM118.1 118.4zM118.3 121.5zM120.2 124.9zM122.3 133.8zM123.5 112.8zM123.5 134.8zM124.9 132.9zM117.4 142.2zM121.8 103.1zM120.1 137.7zM116.0 120.7zM119.5 121.0zM122.9 122.7zM121.2 127.8zM116.9 133.3zM121.4 144.3zM125.7 128.3zM117.4 134.9zM124.4 136.4zM120.8 134.2zM122.8 130.5zM119.2 119.0zM123.3 126.7zM121.5 123.1zM120.9 120.7zM118.0 126.3zM119.7 132.2zM115.3 124.7zM123.3 128.1zM120.6 144.2zM126.5 142.2zM116.5 121.0zM126.8 110.6zM120.0 130.6zM117.3 132.4zM125.6 138.4zM114.9 132.1zM121.6 126.1zM126.1 131.0zM121.9 121.8zM126.0 136.7zM120.8 132.5zM119.3 139.6zM125.4 139.8zM124.5 119.6zM121.3 136.9zM126.2 133.5zM117.8 146.2zM120.3 128.1zM122.3 106.9zM121.9 132.5zM122.2 132.3zM123.4 120.7zM126.3 138.0zM126.3 130.0zM121.9 141.1zM121.8 117.4zM118.3 136.3zM127.1 130.4zM124.7 130.2zM119.6 144.8zM122.2 125.4zM126.6 127.9zM119.3 142.2zM122.6 114.1zM121.6 141.3zM120.7 124.0zM121.9 104.5zM120.1 133.9zM122.1 120.2zM117.0 110.8zM129.3 136.4zM115.2 113.9zM119.6 131.9zM118.4 142.3zM117.1 130.2zM118.7 116.5zM122.1 138.9zM122.3 145.4zM125.8 115.6zM121.0 126.3zM114.1 127.2zM125.2 131.6zM117.6 131.1zM122.1 125.6zM120.8 121.7zM118.2 123.2zM126.3 140.0zM123.7 135.2zM121.7 137.3zM123.8 123.6zM123.8 110.2zM118.7 134.6zM117.2 120.9zM117.3 135.2zM124.2 136.3zM125.2 138.2zM126.6 125.2zM117.1 135.5zM121.5 119.3zM125.6 133.1zM127.4 138.9zM120.4 133.4zM120.3 98.4zM120.3 140.1zM123.0 123.3zM124.2 145.0zM124.8 134.1zM120.0 132.8zM126.4 139.0zM118.2 125.0zM123.6 133.7zM126.0 128.6zM125.3 139.9zM123.0 144.3zM120.3 122.9zM121.3 127.7zM119.2 123.2zM118.3 123.5zM125.2 132.2zM117.7 130.3zM119.3 121.7zM126.0 139.9zM122.9 129.7zM127.3 146.1zM126.8 121.8zM123.1 137.4zM117.9 144.2zM122.5 133.0zM127.5 144.4zM123.2 118.3zM122.7 139.3zM130.7 137.8zM124.4 139.7zM117.0 139.9zM125.6 142.1zM113.4 125.8zM123.4 126.8zM123.0 120.6zM120.2 139.3zM119.2 111.1zM120.3 131.8zM130.8 123.0zM118.1 135.5zM121.1 126.5zM120.4 146.4zM122.9 119.3zM121.3 131.1zM124.3 136.1zM122.8 122.8zM121.2 127.8zM120.8 130.4zM121.3 135.1zM121.3 126.6zM120.4 147.0zM121.6 139.9zM126.0 132.2zM117.7 136.8zM123.1 112.3zM124.3 114.9zM121.5 116.7zM121.7 135.5zM120.4 127.2zM123.8 119.1zM123.6 121.6zM122.5 135.5zM122.5 117.3zM124.6 122.2zM126.6 141.0zM118.3 147.9zM125.3 134.3zM119.6 132.7zM118.9 129.1zM122.4 139.9zM122.4 97.7zM116.1 135.4zM127.2 135.4zM120.3 128.9zM124.1 128.6zM123.1 137.8zM123.8 127.1zM122.1 140.6zM122.8 123.4zM122.1 137.8zM120.7 143.8zM125.5 120.5zM122.3 145.0zM123.0 137.7zM119.9 136.3zM122.4 138.2zM117.1 122.3zM126.5 140.7zM120.6 146.8zM120.8 128.8zM120.2 130.0zM122.2 129.8zM123.5 127.3zM124.1 123.3zM119.6 142.1zM118.1 146.1zM121.3 117.3z" stroke="#000" stroke-width="0.75" stroke-opacity="0.62" stroke-linecap="square" fill="none" filter="url(#bl)"/>
<rect x="58.40" y="47.40" width="102.80" height="102.30" fill="none" stroke="#444" stroke-width="1"/>
<line x1="102.60" y1="47.40" x2="102.60" y2="149.70" stroke="#444" stroke-width="1"/>
<line x1="58.40" y1="106.30" x2="161.20" y2="106.30" stroke="#444" stroke-width="1"/>
<path d="M69.5 149.7v2.6M80.5 149.7v2.6M105.3 149.7v2.6M128.3 149.7v2.6M151.3 149.7v2.6M88.0 149.7v1.5M92.3 149.7v1.5M95.4 149.7v1.5M97.8 149.7v1.5M99.8 149.7v1.5M101.5 149.7v1.5M102.9 149.7v1.5M104.2 149.7v1.5M112.2 149.7v1.5M116.3 149.7v1.5M119.1 149.7v1.5M121.4 149.7v1.5M123.2 149.7v1.5M124.7 149.7v1.5M126.1 149.7v1.5M127.2 149.7v1.5M135.2 149.7v1.5M139.3 149.7v1.5M142.1 149.7v1.5M144.4 149.7v1.5M146.2 149.7v1.5M147.7 149.7v1.5M149.1 149.7v1.5M150.2 149.7v1.5M58.4 56.8h-2.6M58.4 79.8h-2.6M58.4 102.9h-2.6M58.4 127.6h-2.6M58.4 139.0h-2.6M58.4 72.9h-1.5M58.4 68.8h-1.5M58.4 66.0h-1.5M58.4 63.7h-1.5M58.4 61.9h-1.5M58.4 60.4h-1.5M58.4 59.0h-1.5M58.4 57.9h-1.5M58.4 95.9h-1.5M58.4 91.9h-1.5M58.4 89.0h-1.5M58.4 86.8h-1.5M58.4 84.9h-1.5M58.4 83.4h-1.5M58.4 82.0h-1.5M58.4 80.9h-1.5M58.4 120.2h-1.5M58.4 115.8h-1.5M58.4 112.7h-1.5M58.4 110.3h-1.5M58.4 108.4h-1.5M58.4 106.7h-1.5M58.4 105.3h-1.5M58.4 104.0h-1.5" stroke="#333" stroke-width="0.8" fill="none"/>
<text x="69.50" y="159.70" font-size="4.9" text-anchor="middle" fill="#222">0</text>
<text x="80.50" y="159.70" font-size="4.9" text-anchor="middle" fill="#222">10<tspan font-size="3.4" dy="-1.9">2</tspan></text>
<text x="105.30" y="159.70" font-size="4.9" text-anchor="middle" fill="#222">10<tspan font-size="3.4" dy="-1.9">3</tspan></text>
<text x="128.30" y="159.70" font-size="4.9" text-anchor="middle" fill="#222">10<tspan font-size="3.4" dy="-1.9">4</tspan></text>
<text x="151.30" y="159.70" font-size="4.9" text-anchor="middle" fill="#222">10<tspan font-size="3.4" dy="-1.9">5</tspan></text>
<text x="55.20" y="58.80" font-size="4.9" text-anchor="end" fill="#222">10<tspan font-size="3.4" dy="-1.9">5</tspan></text>
<text x="55.20" y="81.80" font-size="4.9" text-anchor="end" fill="#222">10<tspan font-size="3.4" dy="-1.9">4</tspan></text>
<text x="55.20" y="104.90" font-size="4.9" text-anchor="end" fill="#222">10<tspan font-size="3.4" dy="-1.9">3</tspan></text>
<text x="55.20" y="129.60" font-size="4.9" text-anchor="end" fill="#222">10<tspan font-size="3.4" dy="-1.9">2</tspan></text>
<text x="54.40" y="141.00" font-size="4.9" text-anchor="end" fill="#222">0</text>
<rect x="59.40" y="48.10" width="20.69" height="10.30" fill="#fff"/>
<rect x="59.40" y="138.20" width="20.69" height="10.80" fill="#fff"/>
<rect x="140.11" y="138.20" width="20.09" height="10.80" fill="#fff"/>
<text x="59.90" y="56.80" font-size="9.5">13.4</text>
<text x="159.30" y="56.80" font-size="9.5" text-anchor="end">27.4</text>
<text x="60.30" y="146.50" font-size="9.5">33.4</text>
<text x="159.10" y="146.50" font-size="9.5" text-anchor="end">25.8</text>
<text x="43.20" y="148.50" font-size="10.5" transform="rotate(-90 43.20 148.50)">GzmB</text>
<line x1="39.60" y1="116.30" x2="39.60" y2="72.30" stroke="#111" stroke-width="1.0"/>
<polygon points="39.60,68.30 37.00,74.80 42.20,74.80" fill="#111"/>
<text x="66.60" y="173.00" font-size="11.0">Ly5.1</text>
<line x1="97.00" y1="169.30" x2="144.20" y2="169.30" stroke="#111" stroke-width="1.0"/>
<polygon points="148.20,169.30 141.70,166.70 141.70,171.90" fill="#111"/>
<text x="240.20" y="39.30" font-size="10.5" text-anchor="middle">GzmB</text>
<line x1="216.40" y1="48.00" x2="216.40" y2="213.00" stroke="#333" stroke-width="1"/>
<line x1="215.90" y1="213.00" x2="266.30" y2="213.00" stroke="#333" stroke-width="1"/>
<line x1="214.10" y1="213.00" x2="216.40" y2="213.00" stroke="#333" stroke-width="0.9"/>
<text x="206.60" y="215.90" font-size="8.7" text-anchor="end">0</text>
<line x1="214.10" y1="185.58" x2="216.40" y2="185.58" stroke="#333" stroke-width="0.9"/>
<text x="210.80" y="188.48" font-size="8.7" text-anchor="end">500</text>
<line x1="214.10" y1="158.17" x2="216.40" y2="158.17" stroke="#333" stroke-width="0.9"/>
<text x="210.80" y="161.07" font-size="8.7" text-anchor="end">1000</text>
<line x1="214.10" y1="130.75" x2="216.40" y2="130.75" stroke="#333" stroke-width="0.9"/>
<text x="210.80" y="133.65" font-size="8.7" text-anchor="end">1500</text>
<line x1="214.10" y1="103.33" x2="216.40" y2="103.33" stroke="#333" stroke-width="0.9"/>
<text x="210.80" y="106.23" font-size="8.7" text-anchor="end">2000</text>
<line x1="214.10" y1="75.92" x2="216.40" y2="75.92" stroke="#333" stroke-width="0.9"/>
<text x="210.80" y="78.82" font-size="8.7" text-anchor="end">2500</text>
<line x1="214.10" y1="48.50" x2="216.40" y2="48.50" stroke="#333" stroke-width="0.9"/>
<text x="210.80" y="51.40" font-size="8.7" text-anchor="end">3000</text>
<text x="185.60" y="139.80" font-size="10" transform="rotate(-90 185.60 139.80)">MFI</text>
<rect x="225.30" y="78.66" width="13.20" height="134.34" fill="#fff" stroke="#222" stroke-width="1"/>
<line x1="231.80" y1="78.66" x2="231.80" y2="68.30" stroke="#222" stroke-width="1"/>
<line x1="230.30" y1="68.30" x2="233.30" y2="68.30" stroke="#222" stroke-width="1"/>
<rect x="247.00" y="168.31" width="12.40" height="44.69" fill="#000"/>
<line x1="253.20" y1="168.31" x2="253.20" y2="163.20" stroke="#111" stroke-width="1"/>
<line x1="251.70" y1="163.20" x2="254.70" y2="163.20" stroke="#111" stroke-width="1"/>
<text x="246.00" y="57.40" font-size="8.6" text-anchor="middle">P=0.005</text>
<line x1="233.00" y1="60.80" x2="256.30" y2="60.80" stroke="#222" stroke-width="1"/>
<text x="207.30" y="261.20" font-size="11.0" transform="rotate(-45 207.30 261.20)"><tspan font-style="italic">Blimp1</tspan><tspan font-style="italic" font-size="8.0" dy="-4.0">+/+</tspan></text>
<text x="233.00" y="262.60" font-size="11.0" transform="rotate(-45 233.00 262.60)"><tspan font-style="italic">Blimp1</tspan><tspan font-style="italic" font-size="7.6" dy="-4.0">gfp/gfp</tspan></text>
<text x="325.30" y="14.60" font-size="16.3" font-weight="bold" fill="#000">B</text>
<text x="362.00" y="39.40" font-size="10.5"><tspan font-style="italic">Blimp1</tspan><tspan font-style="italic" font-size="9.0" dy="-3.2">gfp/gfp</tspan><tspan dy="3.2">:Ly5.1</tspan></text>
<path d="M382.0 99.1zM380.9 109.6zM388.1 107.8zM390.4 116.5zM385.9 96.8zM391.2 111.3zM389.5 92.0zM387.6 103.6zM386.7 84.3zM390.6 102.7zM379.5 100.7zM375.5 95.1zM389.1 95.1zM389.6 100.6zM394.5 115.1zM382.6 101.6zM375.3 103.4zM385.9 107.3zM393.1 117.8zM379.1 115.0zM382.2 108.8zM379.4 84.5zM372.7 110.0zM391.5 96.3zM380.2 108.2zM394.3 94.8zM380.3 109.4zM371.1 98.8zM376.7 98.4zM376.4 105.6zM378.2 87.7zM381.5 115.8zM380.5 103.0zM394.4 101.8zM367.6 93.2zM376.0 110.6zM383.7 91.5zM388.2 115.1zM383.8 94.0zM382.8 103.9zM386.7 95.1zM381.7 103.7zM381.0 111.9zM385.5 96.4zM373.0 90.4zM383.1 100.6zM377.6 94.3zM384.7 105.4zM381.6 89.7zM391.5 97.1zM386.7 111.2zM385.0 104.7zM377.5 91.8zM386.8 99.6zM368.2 105.2zM389.0 111.2zM388.8 92.6zM384.3 104.6zM387.6 92.9zM373.4 85.7zM379.6 114.2zM376.8 109.8zM387.0 110.5zM386.9 112.9zM393.8 100.4zM375.9 117.5zM376.9 112.6zM385.9 95.3zM378.8 98.6zM378.4 85.6zM387.2 81.3zM383.0 110.4zM379.1 109.4zM390.5 94.1zM382.2 109.9zM373.4 102.9zM381.5 87.2zM382.9 109.5zM378.2 108.7zM390.0 109.3zM384.9 95.1zM387.8 87.6zM389.0 107.4zM381.3 115.6zM383.8 81.1zM380.6 98.5zM393.0 113.9zM377.3 109.8zM374.1 115.2zM387.0 89.3zM382.0 89.9zM373.7 110.9zM388.2 80.8zM388.5 97.7zM377.6 85.8zM375.4 104.9zM388.9 100.6zM388.2 119.9zM388.7 100.4zM381.3 118.4zM389.3 106.9zM394.8 99.7zM388.5 87.4zM388.2 109.8zM391.4 96.9zM387.0 123.2zM383.8 102.5zM386.1 109.4zM390.3 111.1zM385.8 75.8zM388.4 96.4zM381.1 105.5zM383.1 108.9zM373.7 102.9zM389.7 120.0zM386.1 114.5zM376.7 113.8zM386.8 118.1zM378.3 88.3zM387.2 114.4zM396.7 102.0zM384.6 88.2zM378.7 112.3zM380.5 119.6zM385.3 114.9zM380.7 110.8zM388.0 99.7zM370.8 125.7zM392.9 110.8zM382.5 100.0zM383.2 92.5zM392.2 103.5zM390.0 85.7zM371.3 114.5zM374.0 115.2zM389.3 100.8zM380.6 87.5zM377.1 96.6zM388.6 123.2zM382.3 121.8zM385.9 111.3zM377.6 121.9zM380.0 115.0zM381.8 99.1zM385.0 96.5zM390.0 111.9zM372.2 117.0zM377.6 80.7zM378.0 104.4zM383.8 93.1zM378.0 83.9zM383.4 96.9zM390.5 104.7zM383.9 107.3zM391.2 105.9zM382.8 111.0zM370.8 99.9zM382.7 91.9zM385.0 126.9zM378.6 128.0zM382.0 91.0zM391.6 93.1zM386.1 90.2zM375.6 105.0zM374.4 103.9zM387.4 95.0zM386.9 105.8zM374.9 106.9zM381.6 109.4zM383.5 103.6zM389.6 99.0zM388.5 104.8zM398.8 82.0zM378.4 101.0zM370.9 84.0zM382.3 106.7zM389.9 109.0zM375.4 103.6zM375.8 101.2zM384.6 125.2zM383.2 119.6zM391.8 117.4zM379.7 105.3zM400.8 114.4zM389.0 102.4zM389.1 113.7zM374.1 84.4zM386.3 110.5zM395.5 86.3zM381.3 104.3zM395.2 107.0zM388.5 119.8zM391.4 102.7zM386.0 97.3zM390.1 110.7zM371.1 112.8zM382.1 108.1zM380.0 100.4zM383.7 110.5zM380.2 92.2zM374.6 104.8zM385.8 97.4zM385.2 113.3zM382.9 94.9zM389.4 119.0zM380.5 122.2zM389.4 104.7zM388.3 90.2zM377.0 109.3zM388.6 100.1zM381.1 105.4zM385.4 110.0zM380.3 110.0zM392.0 107.8zM386.3 85.4zM365.0 104.6zM376.5 95.3zM374.3 108.2zM381.1 74.2zM387.7 93.4zM383.5 97.0zM371.1 85.7zM368.5 106.7zM383.0 111.2zM381.0 112.0zM388.6 101.3zM386.8 97.2zM384.7 116.7zM392.5 96.5zM385.4 122.4zM387.9 112.7zM379.8 99.8zM385.7 119.6zM394.7 117.7zM375.3 82.9zM374.4 105.3zM379.8 100.9zM390.6 101.9zM383.4 124.0zM377.9 118.2zM387.1 128.9zM382.6 115.9zM382.9 104.6zM373.9 96.2zM370.2 110.4zM386.0 112.2zM379.2 102.7zM387.8 100.1zM396.8 113.7zM388.7 106.1zM374.7 126.5zM384.8 99.2zM379.0 112.0zM385.2 108.6zM389.2 131.3zM380.9 102.7zM386.9 98.8zM384.0 107.9zM386.4 102.2zM388.9 120.4zM382.7 115.1zM390.8 110.0zM391.9 104.9zM377.1 79.0zM382.0 91.7zM382.9 99.3zM369.8 93.3zM376.9 113.1zM391.8 123.8zM387.1 98.1zM383.6 93.0zM384.5 106.1zM389.7 123.6zM375.0 102.4zM393.3 95.4zM379.2 109.3zM380.5 89.8zM376.0 92.4zM385.2 107.7zM377.2 91.5zM382.4 103.3zM376.8 101.9zM390.9 91.5zM391.9 110.5zM377.8 126.9zM373.7 110.7zM374.1 96.4zM388.3 99.5zM373.9 111.1zM376.8 100.9zM382.3 98.6zM393.0 96.2zM383.3 105.2zM381.0 106.5zM387.5 101.7zM371.3 110.9zM375.4 113.3zM389.5 120.3zM390.4 107.9zM386.7 108.9zM385.7 109.8zM380.9 100.5zM381.3 113.8zM395.0 84.5zM376.2 111.0zM391.6 98.6zM382.6 107.0zM372.3 119.5zM386.8 117.7zM377.5 125.3zM385.7 73.9zM385.4 114.5zM398.8 102.2zM378.9 118.7zM369.5 97.5zM385.8 110.3zM387.4 97.1zM381.3 100.2zM377.9 89.1zM386.4 105.5zM387.8 98.4zM380.2 99.2zM388.7 124.1zM383.4 95.2zM382.5 116.9zM374.8 101.6zM378.5 101.7zM387.6 106.7zM391.6 99.8zM390.9 133.7zM382.4 94.6zM382.0 100.8zM377.2 105.5zM377.6 116.8zM380.5 112.2zM389.6 110.7zM391.2 101.0zM385.5 106.3zM386.9 118.3zM376.6 120.4zM381.8 94.6zM387.8 79.6zM383.4 116.4zM387.0 106.9zM374.1 109.1zM393.4 93.6zM380.9 109.1zM378.7 110.4zM383.7 120.9zM380.7 107.8zM396.7 107.6zM379.0 105.6zM389.5 107.5zM371.5 79.6zM373.3 100.3zM372.1 100.3zM392.4 124.0zM370.0 114.3zM385.0 97.5zM377.3 98.9zM387.4 96.8zM375.6 90.4zM378.3 111.0zM385.5 114.7zM371.0 100.5zM369.0 82.5zM396.7 104.5zM383.5 114.0zM386.4 101.3zM383.0 90.9zM385.5 101.9zM383.1 129.5zM385.8 107.9zM374.5 111.7zM365.1 96.1zM378.4 106.7zM393.7 93.3zM378.5 109.9zM370.4 85.4zM393.5 86.6zM390.2 126.0zM379.0 100.1zM388.2 114.2zM386.7 98.4zM374.4 114.6zM391.4 92.3zM387.5 91.6zM386.2 117.5zM390.7 111.2zM369.8 80.0zM382.3 94.6zM393.8 105.0zM391.9 122.4zM373.0 106.3zM387.5 105.0zM378.6 89.9zM385.8 119.0zM377.9 114.8zM392.6 83.2zM397.7 107.7zM390.6 72.9zM390.8 103.5zM384.8 94.5zM382.2 106.8zM393.8 87.2zM389.4 109.3zM385.6 89.9zM379.2 100.3zM375.9 94.3zM389.6 92.6zM389.5 116.8zM383.7 104.6zM384.2 118.1zM373.7 102.4zM378.7 107.8zM376.9 119.4zM387.4 102.1zM382.2 98.7zM383.6 93.6zM378.5 97.7zM384.1 113.6zM372.2 108.0zM395.6 102.9zM383.8 107.2zM387.0 112.7zM386.6 112.6zM377.8 93.3zM393.0 93.8zM384.8 123.0zM382.6 103.8zM390.7 111.7zM377.4 97.9zM388.2 90.2zM395.8 94.9zM380.3 115.2zM386.8 98.7zM374.6 115.3zM385.4 109.4zM385.6 89.8zM372.5 94.5zM394.9 106.1zM397.8 121.0zM370.7 112.2zM386.6 79.2zM380.8 109.7zM381.9 101.0zM386.5 106.1zM384.1 113.4zM382.3 92.5zM385.6 115.4zM380.9 101.6zM385.1 92.7zM379.0 109.9zM389.7 93.5zM397.4 93.8zM383.8 95.4zM381.5 109.6zM392.9 115.2zM370.0 98.3zM382.4 125.5zM375.7 102.2zM379.7 109.7zM376.2 107.3zM381.5 103.5zM391.9 90.9zM377.6 105.1zM382.0 97.1zM391.3 94.9zM387.0 91.8zM388.5 106.5zM382.6 98.6zM379.9 104.4zM380.3 97.0zM380.7 89.0zM374.3 91.8zM367.1 117.4zM379.7 110.2zM384.8 106.9zM379.4 110.3zM390.8 90.7zM391.2 113.0zM383.8 85.8zM381.0 96.9zM386.3 96.3zM379.7 97.3zM381.7 83.5zM377.4 114.8zM378.7 84.2zM387.2 112.5zM380.4 107.4zM386.6 105.9zM383.3 100.5zM383.8 97.5zM385.5 94.4zM368.1 118.5zM380.3 98.3zM385.3 94.2zM393.2 113.2zM386.9 125.8zM400.8 89.4zM392.3 101.9zM384.3 101.5zM374.5 91.3zM381.3 89.9zM381.8 108.6zM384.0 101.6zM386.0 110.8zM374.3 87.0zM386.8 89.6zM381.4 93.5zM378.7 101.0zM374.5 105.6zM384.7 98.3zM379.7 80.7zM367.8 93.6zM383.7 120.2zM381.9 94.4zM371.8 106.4zM387.5 97.2zM381.3 106.6zM385.8 111.6zM374.7 82.9zM379.4 99.8zM385.7 117.9zM387.7 93.6zM378.4 94.4zM365.0 104.1zM384.6 108.3zM381.6 86.5zM392.6 113.7zM376.1 102.6zM386.3 103.9zM372.9 105.9zM385.1 101.2zM380.6 114.3zM384.6 101.8zM382.6 107.4zM381.8 102.2zM393.8 106.6zM391.1 104.8zM383.1 90.0zM376.7 111.9zM377.4 90.9zM390.4 110.2zM383.3 106.6zM378.1 92.0zM378.4 103.8zM392.5 99.6zM383.9 105.7zM377.0 94.0zM393.5 114.7zM385.7 105.2zM373.5 114.9zM374.4 97.3zM385.2 96.0zM377.9 107.6zM380.0 88.6zM395.5 96.7zM396.6 119.1zM395.5 97.1zM386.4 104.6zM385.0 88.2zM375.3 114.1zM375.0 90.7zM383.9 90.5zM384.2 105.9zM389.8 92.2zM388.9 82.2zM386.5 91.7zM387.5 106.2zM385.0 98.4zM392.3 108.3zM375.7 111.4zM397.0 109.3zM387.4 118.8zM374.0 104.7zM385.2 117.4zM395.2 100.1zM379.1 117.9zM387.0 113.2zM382.8 115.0zM384.9 107.4zM379.0 110.7zM386.4 114.2zM386.6 114.6zM384.1 111.2zM379.5 111.7zM373.6 103.8zM383.0 97.6zM372.1 89.5zM377.3 104.9zM383.8 97.0zM390.7 88.2zM389.4 120.6zM371.2 115.9zM390.0 106.2zM369.0 90.8zM384.8 103.4zM384.0 104.9zM389.4 98.9zM384.5 119.8zM390.5 114.7zM379.1 91.8zM382.5 108.4zM389.3 85.9zM379.6 109.2zM379.5 111.7zM383.8 119.2zM372.7 76.8zM381.7 121.0zM376.3 93.9zM393.4 112.0zM392.0 93.4zM388.1 104.8zM398.4 109.8zM384.7 101.6zM380.8 110.0zM385.7 99.1zM385.5 96.6zM381.4 95.4zM385.8 87.6zM375.0 103.9zM376.6 97.6zM385.2 120.8zM374.8 98.7zM391.0 117.2zM386.3 74.9zM379.2 109.0zM390.9 107.4zM385.0 116.3zM394.7 123.7zM381.9 108.9zM379.6 122.2zM386.3 100.4zM376.2 98.5zM390.4 115.8zM385.9 107.4zM383.0 94.7zM384.6 100.7zM374.8 107.1zM381.1 103.9zM380.9 114.1zM385.0 102.3zM382.8 119.9zM378.5 101.6zM380.3 88.1zM383.4 87.8zM390.6 93.6zM386.3 81.4zM381.3 102.1zM380.6 111.4zM379.7 79.4zM389.7 99.6zM385.6 90.1zM379.6 118.0zM392.4 118.1zM388.7 107.7zM377.4 104.8zM386.8 99.2zM384.5 102.8zM385.8 121.6zM388.1 111.1zM380.9 107.0zM379.7 124.3zM375.7 106.4zM385.3 107.7zM382.7 99.1zM371.3 86.3zM383.5 105.0zM385.9 99.5zM384.4 113.5zM381.3 88.6zM388.3 89.3zM379.4 103.9zM373.0 95.3zM393.6 97.6zM373.3 103.7zM385.2 92.5zM395.4 101.9zM380.0 124.1zM391.6 104.4zM381.8 99.7zM381.5 105.6zM371.2 95.4zM387.8 108.3zM378.9 113.7zM388.5 97.4zM377.3 98.0zM384.2 108.8zM384.4 84.6zM392.5 118.1zM389.0 95.1zM375.4 82.6zM389.8 104.2zM382.5 91.4zM378.6 88.1zM380.2 92.2zM389.9 103.1zM372.3 108.1zM379.9 82.7zM375.8 102.8zM383.4 92.6zM381.3 100.1zM375.2 109.6zM381.5 106.4zM381.8 115.8zM380.7 92.6zM383.8 103.6zM391.1 107.9zM383.0 96.3zM383.4 94.1zM387.4 86.4zM381.5 87.4zM381.5 123.5zM378.9 96.3zM378.5 104.2zM378.0 105.1zM384.1 98.8zM366.8 105.0zM379.7 108.7zM384.1 95.0zM389.8 116.7zM392.8 105.1zM372.3 98.9zM378.2 100.6zM382.0 116.6zM370.9 120.9zM377.9 97.2zM383.7 108.3zM381.0 97.1zM370.1 92.5zM387.7 103.0zM376.5 108.2zM382.9 124.9zM371.2 93.5zM382.2 91.2zM388.6 80.8zM389.1 88.4zM388.7 110.1zM386.2 109.3zM376.7 123.4zM373.2 113.8zM392.3 101.8zM374.1 110.7zM376.5 119.1zM387.7 86.0zM383.4 82.1zM391.6 107.2zM379.8 109.2zM390.0 83.0zM402.4 98.9zM378.7 90.1zM382.5 107.2zM379.0 119.0zM381.7 113.5zM379.7 117.5zM387.9 99.0zM389.1 96.2zM384.5 115.1zM388.5 97.0zM376.3 104.9zM385.9 110.6zM379.0 91.5zM390.3 79.5zM385.5 117.0zM369.9 102.3zM382.9 112.9zM374.1 108.9zM380.9 85.8zM389.9 106.6zM396.9 97.3zM386.1 100.8zM386.4 97.5zM386.6 103.5zM381.5 107.2zM370.2 94.9zM388.8 111.1zM384.6 125.2zM383.1 102.1zM385.2 120.2zM386.3 102.4zM383.9 99.3zM390.0 94.1zM382.8 117.9zM390.9 102.2zM380.9 94.9zM380.6 115.4zM375.9 100.6zM377.5 106.9zM366.1 84.3zM374.6 94.7zM381.3 99.9zM389.3 110.3zM377.1 109.6zM380.7 106.1zM381.8 97.7zM382.7 118.5zM369.8 101.4zM379.4 101.2zM397.4 87.8zM389.5 113.1zM378.5 113.9zM384.4 117.2zM389.7 96.3zM381.6 118.3zM387.1 108.2zM384.1 82.0zM377.5 105.6zM383.5 98.3zM375.1 110.2zM382.6 93.0zM385.3 89.4zM379.4 100.1zM386.3 130.7zM384.7 99.0zM383.4 96.9zM379.9 93.6zM377.6 86.2zM384.1 93.8zM384.0 111.4zM389.7 88.3zM370.9 96.4zM385.0 98.5zM381.0 109.7zM380.0 102.5zM374.7 99.2zM398.2 125.4zM387.7 120.9zM383.4 110.3zM386.4 93.9zM372.3 103.9zM382.2 81.7zM384.5 83.5zM382.9 93.9zM373.9 102.1zM380.7 108.1zM394.4 99.3zM389.7 86.9zM385.8 101.5zM387.2 101.6zM400.8 109.7zM386.7 113.5zM379.3 109.7zM371.8 117.8zM383.9 109.3zM383.0 104.1zM370.1 114.7zM379.9 107.8zM382.4 86.1zM380.5 112.1zM367.8 110.4zM374.7 93.0zM374.4 113.5zM391.1 90.5zM381.4 126.3zM375.3 78.5zM387.1 108.0zM370.7 96.2zM379.6 99.8zM386.2 111.1zM376.1 111.7zM375.8 113.6zM371.0 117.5zM376.9 92.2zM387.8 101.7zM384.9 100.5zM389.2 104.5zM378.4 81.3zM399.6 116.5zM370.9 109.5zM375.7 113.0zM367.2 109.2zM385.5 95.9zM384.1 93.8zM396.9 96.5zM379.1 86.1zM379.5 94.2zM366.6 104.9zM382.5 96.6zM377.3 123.7zM386.0 96.7zM375.3 105.8zM384.4 106.0zM383.5 86.9zM370.7 107.0zM386.6 83.4zM390.1 97.2zM383.0 95.8zM387.7 97.7zM386.7 108.8zM380.7 118.3zM387.0 106.0zM395.0 111.6zM375.2 97.5zM385.1 93.8zM379.7 105.1zM382.3 92.6zM379.9 105.7zM379.9 115.2zM383.3 118.2zM378.7 119.5zM384.7 92.2zM368.3 111.2zM388.3 106.5zM378.4 101.7zM378.0 93.2zM390.0 106.1zM387.9 118.2zM387.0 105.7zM386.8 103.1zM384.2 121.4zM376.0 102.9zM386.7 105.2zM385.5 123.0zM386.9 125.9zM381.4 105.7zM381.2 103.3zM377.7 99.4zM392.1 96.5zM377.7 99.7zM386.3 114.2zM379.5 122.1zM374.8 96.1zM380.9 103.0zM372.9 108.4zM380.5 106.1zM382.3 96.7zM376.7 91.2zM380.1 85.6zM383.4 105.7zM382.5 107.7zM374.7 104.5zM383.5 111.7zM377.7 101.1zM376.5 101.5zM380.9 79.8zM379.8 121.6zM388.0 92.2zM383.7 113.0zM379.3 121.0zM397.0 106.2zM391.0 110.5zM368.2 105.5zM372.5 110.6zM375.4 102.8zM390.5 88.6zM374.8 102.5zM382.2 85.3zM380.6 108.9zM390.6 105.9zM379.9 114.9zM385.7 96.4zM381.5 89.9zM391.7 106.7zM386.2 99.8zM387.9 99.7zM380.8 93.1zM381.9 95.2zM389.8 110.9zM395.8 102.3zM382.2 105.6zM386.3 124.1zM376.1 116.3zM393.4 104.6zM375.4 115.7zM386.0 95.7zM386.1 94.1zM377.8 105.6zM375.1 107.8zM382.1 105.5zM389.7 124.0zM373.4 89.6zM380.1 112.8zM364.6 108.9zM381.6 112.0zM374.8 98.6zM379.1 94.5zM382.7 101.1zM377.9 102.1zM387.9 89.1zM390.6 110.1zM391.1 94.3zM382.1 87.2zM379.6 107.3zM387.9 103.3zM389.9 89.2zM379.3 97.7zM382.5 96.1zM381.2 94.1zM388.1 90.1zM379.3 102.3zM367.0 108.3zM386.9 97.0zM389.2 112.5zM384.3 106.1zM388.6 117.8zM382.5 106.7zM374.3 97.7zM385.4 106.4zM379.6 104.8zM374.3 89.4zM390.3 94.3zM382.4 109.5zM386.7 111.4zM383.2 88.5zM379.4 104.9zM379.8 98.8zM386.3 92.1zM387.3 97.3zM387.6 96.0zM390.8 123.7zM378.5 111.5zM394.0 99.6zM401.4 121.2zM383.9 104.1zM386.2 101.4zM386.6 112.8zM391.8 106.7zM374.2 102.0zM390.6 96.0zM379.4 100.1zM383.4 97.5zM386.0 92.1zM387.5 97.2zM381.9 96.1zM386.3 90.7zM391.0 94.0zM384.9 112.1zM392.0 113.9zM381.5 104.8zM369.6 94.9zM382.2 97.9zM382.6 103.9zM382.6 113.2zM372.1 96.5zM373.6 91.0zM379.7 93.4zM382.9 101.7zM381.2 107.5zM391.0 117.6zM386.3 83.1zM384.6 96.4zM381.1 104.5zM372.3 89.5zM385.3 97.2zM380.8 85.3zM385.3 99.2zM395.6 112.3zM382.8 121.0zM396.8 96.4zM378.9 102.1zM378.8 116.6zM375.9 112.1zM383.8 109.6zM368.6 109.6zM384.5 101.3zM385.8 93.4zM388.0 99.8zM385.2 111.7zM388.1 103.5zM387.6 111.3zM383.3 110.8zM384.9 106.6zM379.5 109.3zM381.6 88.1zM393.0 97.8zM374.9 108.5zM390.6 98.9zM388.4 91.6zM372.3 102.9zM371.8 91.4zM379.0 114.4zM385.4 109.0zM380.1 101.5zM387.8 109.0zM381.5 99.3zM373.6 117.4zM386.3 95.6zM388.2 117.1zM381.1 103.8zM381.2 105.4zM373.4 96.6zM388.4 100.4zM394.3 109.4zM383.4 103.0zM373.3 100.6zM373.5 124.0zM382.3 94.0zM373.9 98.0zM378.9 91.1zM374.6 84.1zM383.7 105.8zM374.7 106.9zM389.2 94.8zM393.3 90.9zM393.1 109.3zM372.2 95.3zM391.4 122.6zM385.7 118.7zM387.1 108.3zM386.4 101.3zM387.9 109.9zM386.1 86.9zM384.5 111.9zM382.6 120.1zM378.7 87.3zM390.4 100.0zM382.3 112.1zM380.5 103.9zM389.0 100.0zM386.3 118.7zM382.2 106.9zM382.9 113.9zM370.0 99.3zM375.1 104.7zM380.3 90.7zM384.8 86.5zM385.5 93.7zM374.4 108.0zM379.5 114.8zM384.3 91.3zM388.7 116.0zM377.7 96.5zM376.9 89.5zM373.9 106.6zM382.3 107.7zM384.8 97.8zM389.5 104.9zM381.1 108.2zM389.2 109.0zM383.3 99.6zM384.4 96.8zM394.6 109.9zM381.5 93.9zM391.1 107.9zM387.4 110.3zM380.7 111.3zM378.7 87.5zM387.9 100.6zM378.8 109.0zM377.4 113.5zM377.3 117.6zM377.2 105.9zM378.1 94.7zM392.7 126.0zM383.3 93.0zM390.4 104.4zM385.7 116.1zM381.9 103.0zM380.3 119.1zM375.6 110.2zM384.8 112.3zM383.0 118.3zM382.9 107.3zM382.0 89.4zM386.4 114.9zM379.1 111.7zM374.1 106.9zM378.5 107.7zM370.7 98.9zM384.2 96.1zM393.5 111.6zM379.6 95.3zM389.3 113.0zM396.3 100.3zM381.1 99.3zM386.3 93.6zM387.7 99.1zM393.7 105.8zM385.5 105.4zM378.1 106.5zM379.0 111.3zM376.3 100.4zM381.5 104.9zM387.3 98.0zM386.9 114.0zM379.3 115.9zM386.7 110.7zM371.2 122.4zM382.3 98.9zM391.8 97.2zM382.1 104.0zM380.0 130.0zM391.4 111.3zM392.1 110.4zM383.4 105.5zM368.9 116.3zM387.8 110.5zM395.7 118.7zM377.0 113.7zM398.9 121.7zM377.1 86.9zM390.5 101.9zM389.8 105.8zM388.6 90.5zM377.9 99.4zM388.7 116.1zM373.5 111.4zM383.1 118.5zM382.9 95.5zM383.6 119.2zM375.4 99.6zM378.0 113.9zM370.9 101.0zM395.3 116.9zM384.8 108.5zM378.5 102.0zM385.0 102.7zM383.0 108.3zM394.0 125.1zM379.2 97.4zM391.0 116.7zM373.3 109.4zM382.3 110.5zM386.5 113.7zM381.5 115.8zM389.9 104.3zM384.3 102.7zM379.1 99.1zM379.8 114.7zM392.2 119.1zM383.1 118.2zM380.9 110.5zM372.3 107.0zM373.3 99.4zM376.6 111.1zM387.3 102.2zM391.0 99.0zM378.5 98.2zM397.2 92.6zM384.5 108.8zM384.1 105.4zM384.8 120.1zM377.6 103.4zM384.3 109.3zM387.7 101.8zM372.1 114.3zM373.9 102.3zM388.6 118.3zM393.1 97.1zM381.7 92.7zM381.4 131.0zM382.8 112.3zM379.9 110.5zM375.5 100.0zM375.7 99.2zM392.3 102.5zM379.3 109.1zM388.4 108.8zM372.7 87.7zM387.1 118.8zM391.8 112.3zM381.1 117.0zM390.4 92.2zM385.4 102.6zM400.0 99.7zM381.8 104.9zM381.8 86.0zM376.2 114.5zM382.6 99.7zM388.4 77.1zM378.2 111.2zM392.6 95.1zM379.6 116.1zM384.9 85.6zM392.7 99.5zM379.5 89.6zM384.5 110.4zM381.7 92.3zM378.2 91.7zM387.2 96.7zM368.6 95.9zM376.2 116.1zM382.5 99.8zM385.3 100.1zM377.5 105.2zM374.3 105.8zM394.3 105.8zM387.4 99.7zM387.4 100.3zM384.3 99.9zM391.2 104.3zM385.5 103.5zM374.4 117.8zM383.3 91.8zM390.2 91.4zM372.1 104.3zM379.2 106.4zM383.8 114.5zM383.4 110.1zM379.0 108.7zM384.7 125.2zM385.7 115.3zM395.9 96.3zM377.8 108.9zM383.0 95.7zM375.9 105.9zM390.9 99.2zM385.9 99.3zM387.3 95.0zM386.5 104.7zM395.5 108.5zM381.0 109.6zM385.1 106.2zM387.0 103.4zM375.8 107.7zM372.5 116.7zM388.9 95.2zM384.0 88.6zM388.7 102.3zM383.0 100.8zM381.8 115.2zM381.7 116.2zM384.7 119.4zM380.8 90.2zM380.5 114.2zM391.9 120.7zM390.4 112.5zM383.1 121.2zM394.4 115.7zM379.9 104.8zM389.6 118.9zM390.7 110.0zM381.6 90.4zM394.7 112.6zM375.7 94.7zM383.1 102.9zM379.6 84.2zM393.2 98.5zM385.7 112.5zM378.3 101.9zM382.4 86.0zM378.4 93.1zM390.8 118.7zM378.0 102.0zM378.1 112.0zM386.0 125.0zM380.1 109.1zM384.9 108.4zM384.2 123.4zM379.9 83.7zM373.1 109.7zM368.8 109.1zM384.0 112.6zM381.0 110.9zM386.8 102.0zM384.4 95.1zM382.7 120.9zM380.8 114.1zM388.9 87.8zM371.5 114.3zM386.1 111.6zM382.1 101.6zM377.5 102.9zM379.5 103.1zM388.4 109.5zM385.9 101.9zM384.0 103.4zM371.3 93.3zM389.6 117.5zM378.2 95.6zM387.0 102.2zM386.4 104.7zM371.6 101.3zM373.7 91.4zM372.6 96.7zM376.1 100.9zM387.3 81.5zM390.8 106.8zM384.6 130.6zM381.6 96.8zM378.0 96.7zM393.2 105.9zM382.8 97.9zM377.2 91.9zM383.1 103.3zM386.8 98.0zM380.1 98.2zM379.8 112.0zM372.6 106.5zM386.4 109.2zM377.9 117.7zM387.1 109.6zM383.8 112.9zM384.3 104.1zM378.5 112.6zM385.9 120.2zM375.1 99.3zM384.0 107.3zM393.3 93.1zM398.1 101.8zM375.7 103.6zM386.3 110.3zM383.3 100.2zM380.6 119.8zM388.3 120.7zM374.1 113.2zM386.9 127.7zM376.9 95.2zM392.1 85.1zM385.0 99.8zM399.8 95.4zM391.4 94.7zM384.4 99.2zM374.1 110.3zM366.5 117.4zM384.4 101.5zM380.9 113.8zM389.7 104.3zM377.1 106.2zM383.6 119.7zM378.4 104.9zM385.7 108.6zM385.5 106.8zM373.1 95.4zM383.0 114.2zM390.4 130.2zM385.7 105.2zM391.6 115.3zM377.5 119.7zM371.3 108.0zM377.7 107.5zM375.0 102.2zM394.2 91.9zM383.9 100.3zM389.1 111.9zM393.5 113.6zM384.6 95.6zM368.8 122.4zM367.5 87.5zM387.8 94.0zM388.7 106.9zM375.5 93.5zM386.2 101.3zM386.8 110.5zM383.8 94.2zM374.1 91.7zM391.0 111.9zM376.1 121.3zM386.3 104.4zM373.1 117.6zM376.9 87.0zM388.6 96.8zM375.9 116.8zM372.2 111.5zM382.1 104.1zM381.6 93.0zM375.1 86.3zM385.3 113.9zM386.8 114.5zM384.4 105.9zM394.3 110.6zM378.9 104.0zM391.7 99.4zM382.0 97.7zM373.4 98.1zM373.8 96.1zM372.0 118.8zM369.3 108.9zM385.0 105.2zM371.1 119.5zM380.3 111.3zM383.2 106.2zM380.9 107.4zM388.5 110.9zM374.4 97.7zM376.2 106.7zM389.8 94.3zM389.5 98.6zM381.9 103.6zM375.5 98.4zM377.3 109.0zM387.5 108.9zM394.5 125.5zM377.9 106.6zM381.2 110.5zM375.8 99.1zM389.7 104.8zM383.0 106.0zM385.4 116.1zM377.9 107.5zM390.7 103.4zM386.0 97.8zM389.2 106.2zM380.5 114.8zM378.2 91.3zM385.0 118.5zM384.4 105.8zM390.8 92.9zM390.6 102.6zM373.9 115.0zM369.8 115.5zM390.8 96.4zM379.7 102.5zM379.5 120.9zM387.3 113.4zM383.5 124.3zM382.9 116.5zM385.7 102.4zM380.4 108.0zM381.8 98.7zM379.6 108.3zM384.7 116.6zM378.9 112.2zM392.7 100.2zM385.6 92.0zM382.1 106.6zM389.4 80.6zM385.0 103.8zM388.4 120.3zM386.7 105.0zM374.0 86.0zM390.8 103.7zM389.6 98.6zM380.4 113.5zM400.0 86.8zM374.2 106.1zM390.0 97.7zM381.0 115.6zM382.5 109.1zM389.0 96.0zM390.0 113.3zM388.6 101.9zM373.7 116.9zM390.4 110.5zM378.5 113.8zM381.9 102.2zM384.3 101.3zM373.6 100.0zM390.7 106.5zM381.7 82.0zM375.5 121.4zM378.7 105.7zM374.3 105.6zM375.0 89.0zM385.5 91.9zM386.4 92.9zM391.9 111.8zM398.8 96.0zM388.9 95.7zM366.6 112.3zM387.9 96.0zM385.0 84.9zM387.7 75.7zM389.2 103.8zM384.4 122.5zM389.6 111.3zM388.1 110.0zM397.9 92.9zM378.8 121.9zM376.4 98.0zM381.8 117.1zM400.5 130.2zM369.3 111.8zM381.7 89.0zM375.4 106.5zM382.5 97.7zM385.9 103.8zM376.7 114.6zM391.6 123.3zM397.1 116.5zM380.0 103.6zM389.2 109.7zM376.9 97.4zM375.8 108.3zM388.4 102.3zM388.3 114.9zM375.6 114.7zM387.4 108.2zM392.9 105.3zM379.2 101.7zM372.4 118.9zM385.2 113.4zM390.3 115.9zM383.1 100.2zM387.2 111.4zM379.4 106.0zM384.9 114.0zM381.3 130.9zM384.4 113.8zM388.0 111.1zM382.7 85.9zM382.2 99.7zM372.5 86.4zM370.1 98.6zM379.1 115.6zM382.8 123.3zM380.3 103.8zM383.1 83.4zM380.8 118.4zM379.9 115.2zM378.7 101.7zM382.2 82.1zM387.8 116.7zM381.0 103.2zM371.7 106.4zM377.0 82.7zM376.8 95.6zM383.6 120.2zM389.7 93.8zM377.7 102.7zM378.1 105.5zM398.0 111.3zM378.0 95.4zM386.5 105.7zM393.3 105.1zM379.6 95.8zM381.8 107.5zM382.5 101.0zM384.3 90.6zM377.3 121.4zM383.7 113.6zM379.2 101.5zM377.9 109.5zM393.0 87.7zM372.6 102.9zM389.5 106.5zM381.5 108.6zM382.4 91.6zM378.4 102.5zM383.8 107.5zM386.9 92.8zM375.5 125.4zM386.7 98.5zM368.4 84.1zM376.9 100.0zM373.7 118.4zM380.8 86.8zM387.0 124.0zM377.6 113.7zM384.6 105.8zM381.5 107.7zM391.4 120.2zM370.1 92.6zM370.6 100.6zM380.7 98.4zM369.1 110.7zM383.4 97.8zM383.7 98.7zM376.2 100.6zM376.9 107.3zM384.2 112.8zM385.3 95.5zM380.8 103.5zM386.5 104.1zM377.9 110.6zM384.2 120.6zM390.1 97.7zM389.4 94.8zM375.8 100.4zM376.9 103.8zM376.9 114.6zM383.9 103.3zM385.6 112.8zM374.1 106.4zM374.2 122.0zM383.7 107.6zM366.3 122.0zM388.9 116.1zM382.2 89.4zM376.7 104.3zM389.2 98.1zM382.3 97.2zM377.9 105.8zM397.7 91.5zM382.4 112.0zM383.1 125.3zM384.8 125.1zM381.8 107.5zM386.4 111.3zM379.3 96.5zM388.6 109.2zM383.9 99.6zM383.6 103.3zM389.6 105.7zM374.7 110.9zM382.7 102.9zM387.2 121.4zM389.3 100.3zM381.1 115.3zM378.5 108.2zM388.7 101.4zM370.5 117.6zM390.1 108.1zM370.6 97.5zM375.7 114.4zM389.2 96.1zM382.3 106.1zM376.5 91.7zM391.1 109.3zM384.9 77.3zM378.8 91.4zM386.8 99.6zM385.3 109.6zM381.3 94.5zM387.9 117.0zM386.1 101.6zM373.3 101.0zM384.3 84.9zM384.9 115.0zM386.1 98.8zM376.7 101.0zM389.5 108.4zM372.5 116.2zM379.5 104.1zM380.7 116.4zM383.2 104.6zM381.5 100.6zM384.1 108.4zM386.4 127.0zM396.3 111.8zM380.3 97.8zM387.4 113.2zM381.3 113.4zM382.6 101.3zM377.6 111.0zM379.7 109.9zM391.9 89.3zM382.4 115.0zM384.9 89.1zM374.6 112.1zM386.5 96.4zM386.4 99.7zM385.5 104.9zM390.4 100.3zM383.2 110.7zM379.0 109.9zM386.3 125.3zM386.0 98.8zM395.0 103.4zM380.3 108.5zM383.9 100.0zM392.3 95.4zM382.4 101.6zM398.6 105.3zM398.2 127.9zM383.8 85.4zM388.0 103.3zM389.7 88.6zM379.1 128.6zM377.5 102.3zM391.5 114.0zM389.8 83.3zM380.6 109.8zM378.9 108.9zM375.1 112.3zM373.3 120.3zM389.2 112.5zM385.7 125.0zM382.2 106.6zM373.5 92.2zM377.3 112.0zM384.2 111.8zM374.5 96.9zM383.5 108.0zM379.1 107.0zM365.8 96.1zM386.5 93.8zM377.8 123.4zM368.5 108.3zM381.0 110.2zM372.7 118.9zM388.6 92.4zM379.9 99.7zM381.8 109.0zM389.8 117.1zM370.8 108.9zM383.6 104.4zM389.3 105.0zM386.4 104.8zM375.9 112.0zM385.4 84.2zM394.5 123.4zM376.5 93.7zM379.0 105.0zM387.2 110.5zM382.8 92.2zM381.4 93.1zM394.6 103.3zM378.2 101.3zM388.9 107.3zM374.2 102.8zM382.5 108.5zM388.0 95.9zM379.8 101.9zM394.3 107.5zM383.2 93.1zM387.1 87.8zM384.9 99.5zM375.8 98.9zM391.4 89.7zM392.7 92.8zM392.4 123.3zM391.4 110.1zM392.0 104.9zM389.2 121.3zM391.8 121.8zM385.2 102.2zM378.1 128.6zM386.5 93.3zM389.6 82.3zM377.9 94.6zM382.8 112.3zM390.9 108.7zM380.6 130.2zM400.9 125.0zM387.4 106.0zM392.1 95.5zM389.4 91.7zM391.0 114.0zM384.7 94.9zM378.4 105.9zM374.2 101.4zM372.8 110.7zM377.5 129.5zM370.2 107.5zM381.0 125.2zM376.2 101.6zM378.5 90.2zM377.4 115.6zM388.3 71.8zM378.5 111.1zM377.5 97.1zM394.1 99.0zM380.8 91.6zM392.9 103.9zM380.1 93.8zM381.7 92.8zM384.7 104.1zM373.4 115.5zM393.5 107.9zM394.9 108.8zM380.0 89.4zM390.7 108.3zM384.8 101.6zM379.8 107.8zM394.3 102.1zM376.0 91.9zM382.7 105.6zM389.8 86.9zM381.5 112.0zM386.2 122.9zM374.1 114.9zM381.6 85.1zM383.8 95.1zM374.3 106.3zM377.2 99.3zM378.6 102.1zM381.1 107.3zM384.4 90.8zM380.7 107.4zM371.7 109.8zM383.3 112.1zM392.0 90.8zM383.1 107.1zM380.3 104.7zM382.9 112.4zM387.2 84.8zM373.5 92.4zM393.9 93.5zM380.9 110.4zM396.1 92.5zM378.3 83.2zM376.2 92.8zM384.4 110.2zM389.8 124.8zM386.4 118.5zM384.4 111.2zM385.2 87.6zM384.5 106.5zM390.6 103.9zM382.7 110.7zM387.8 102.0zM379.3 108.3zM382.0 91.4zM377.9 101.1zM381.2 97.2zM379.6 118.1zM372.8 79.7zM389.9 86.4zM385.7 106.3zM387.0 98.6zM398.9 123.5zM369.1 107.4zM386.0 103.4zM384.1 95.4zM390.8 106.7zM379.1 111.4zM379.8 100.7zM375.7 103.5zM387.9 106.2zM396.1 72.9zM378.0 79.2zM384.2 110.8zM384.9 111.1zM378.7 106.7zM369.7 105.0zM389.3 109.1zM371.6 96.0zM390.6 97.2zM374.1 109.1zM389.7 91.5zM392.0 104.1zM379.6 108.7zM375.1 95.0zM381.9 119.0zM382.9 109.8zM374.9 105.1zM380.9 96.2zM389.1 116.6zM387.2 97.3zM391.1 121.9zM372.8 124.0zM377.0 101.7zM382.2 116.6zM381.9 130.6zM388.8 112.0zM374.2 105.3zM393.7 115.7zM390.5 103.7zM388.0 110.3zM380.7 92.8zM372.2 100.5zM373.3 109.5zM389.2 106.7zM381.7 103.8zM395.3 95.8zM384.9 96.4zM373.5 109.5zM391.0 104.6zM381.3 110.7zM383.5 101.7zM387.6 100.1zM373.1 96.1zM374.8 114.2zM392.7 100.3zM373.1 95.9zM374.7 116.9zM373.8 97.4zM374.1 112.3zM379.7 118.3zM379.1 119.7zM375.2 85.1zM378.6 98.9zM384.9 107.9zM367.9 103.5zM379.7 98.2zM381.2 122.2zM370.4 95.7zM390.7 86.7zM383.7 98.2zM381.4 92.5zM386.3 101.1zM384.8 97.2zM380.6 96.2zM380.7 85.4zM374.3 126.8zM385.3 101.1zM383.8 91.7zM375.4 96.5zM386.8 92.5zM392.9 110.9zM373.8 96.2zM395.0 90.8zM391.0 109.5zM389.7 102.0zM381.7 127.5zM394.6 86.8zM380.9 77.7zM387.0 108.6zM379.0 98.9zM374.0 116.5zM387.2 99.7zM392.3 113.8zM373.8 92.6zM382.5 111.4zM378.2 88.6zM376.2 77.0zM380.1 91.3zM389.7 93.5zM392.8 118.1zM386.1 100.9zM383.6 109.9zM387.8 110.1zM376.6 81.0zM384.3 112.3zM379.3 98.8zM384.6 108.9zM371.2 107.3zM386.3 98.9zM381.1 110.3zM384.3 91.2zM384.5 88.0zM392.5 114.3zM380.8 96.2zM372.1 102.5zM390.1 108.5zM388.8 114.5zM379.2 95.4zM390.2 96.0zM390.3 116.3zM374.8 99.0zM376.6 109.3zM374.4 107.0zM393.9 102.2zM370.5 106.8zM376.1 104.6zM385.4 99.8zM390.8 124.2zM390.6 114.5zM385.6 97.8zM387.4 99.0zM390.5 90.5zM386.1 103.3zM381.4 94.2zM384.6 104.4zM387.0 95.5zM387.4 90.3zM384.4 94.8zM377.2 105.0zM383.6 109.3zM387.4 106.7zM375.5 102.8zM377.9 111.0zM386.0 107.4zM387.6 127.6zM381.5 107.1zM381.4 103.6zM383.6 109.2zM380.0 104.2zM379.7 106.6zM370.7 100.0zM381.4 89.0zM394.3 118.3zM378.3 86.8zM379.0 93.6zM386.3 112.1zM388.2 117.6zM398.4 104.7zM379.8 97.9zM386.4 102.4zM375.8 103.8zM377.2 100.4zM378.3 92.9zM382.4 102.5zM386.3 97.0zM384.8 105.7zM377.2 103.0zM383.1 96.4zM375.1 119.1zM378.9 91.3zM374.9 92.7zM381.2 119.1zM385.3 106.7zM397.6 105.2zM378.1 94.8zM386.8 85.1zM384.7 97.0zM380.9 71.8zM378.5 117.9zM375.2 105.3zM384.0 88.0zM378.4 93.0zM382.6 112.7zM389.1 98.4zM372.2 117.7zM392.8 107.9zM378.1 104.7zM387.1 119.5zM385.6 112.2zM381.8 108.1zM386.1 94.6zM392.0 131.3zM383.3 104.5zM390.3 97.7zM396.2 105.8zM383.8 106.4zM377.3 109.0zM380.3 118.7zM385.5 107.2zM389.6 112.4zM370.1 107.2zM381.8 106.8zM378.9 115.7zM394.7 82.9zM376.5 72.4zM387.0 104.3zM383.5 89.9zM389.1 86.5zM394.8 110.5zM381.1 98.1zM374.1 102.4zM392.3 105.9zM378.3 94.4zM384.0 110.3zM387.7 100.0zM372.7 96.4zM379.0 98.2zM384.5 117.1zM378.7 102.3zM395.4 109.0zM373.9 96.5zM388.6 99.3zM379.0 91.3zM383.5 107.9zM378.0 103.7zM386.3 99.8zM390.6 120.4zM386.6 100.5zM382.3 111.1zM367.5 117.7zM384.5 98.6zM369.3 114.4zM389.7 108.2zM375.5 111.5zM370.2 125.8zM371.9 94.7zM382.9 90.8zM377.1 116.0zM383.3 86.1zM374.1 95.2zM387.9 103.3zM393.2 107.3zM383.3 104.2zM375.8 97.2zM373.7 99.9zM377.2 107.9zM390.1 86.8zM378.2 105.5zM371.9 69.7zM400.7 102.8zM393.7 108.2zM392.9 91.7zM378.1 96.3zM388.1 111.7zM376.4 118.9zM379.3 89.6zM386.9 106.6zM374.8 108.3zM382.5 90.4zM373.6 104.9zM388.8 110.9zM379.9 115.3zM383.7 112.3zM384.2 121.6zM376.8 128.3zM378.4 92.6zM377.0 106.4zM365.4 86.4zM383.8 96.7zM388.7 93.8zM390.1 108.5zM382.1 130.8zM388.3 87.7zM376.3 109.6zM380.8 98.3zM369.2 113.8zM378.2 111.5zM385.8 93.7zM372.0 94.5zM382.0 83.7zM398.9 91.1zM388.7 109.0zM383.5 114.9zM391.7 108.5zM388.0 94.6zM379.3 107.0zM403.1 86.8zM389.7 91.8zM389.7 110.7zM390.4 109.4zM377.1 103.1zM381.9 104.4zM388.4 94.8zM380.7 119.5zM383.3 116.4zM379.6 93.1zM379.5 115.3zM391.2 74.9zM380.0 112.9zM392.7 117.8zM387.4 101.8zM372.6 107.3zM377.3 91.8zM378.1 98.8zM392.5 122.6zM381.2 115.8zM388.9 113.3zM391.7 99.4zM385.1 95.9zM377.7 109.9zM383.9 93.3zM388.7 97.7zM382.5 106.0zM388.3 127.4zM378.3 89.6zM373.7 107.4zM379.6 94.8zM384.7 112.4zM372.4 112.6zM384.6 93.9zM378.8 123.6zM372.5 90.7zM384.9 90.7zM392.7 98.6zM372.9 116.2zM399.8 105.2zM383.5 114.2zM377.0 114.2zM384.9 89.8zM370.0 89.3zM384.0 110.5zM383.2 102.3zM365.8 110.0zM368.4 113.8zM374.3 112.7zM379.3 112.0zM384.2 107.2zM380.0 103.6zM375.6 124.5zM386.1 109.8zM385.1 115.5zM382.0 122.5zM378.8 109.1zM374.0 108.8zM380.7 99.4zM392.6 88.7zM385.8 102.5zM389.8 106.3zM372.1 92.2zM383.9 118.5zM373.6 113.0zM385.9 113.5zM384.7 100.2zM384.9 120.6zM391.0 130.0zM379.7 91.5zM390.6 124.3zM383.3 108.9zM378.0 112.9zM380.4 87.8zM387.7 113.2zM378.5 103.2zM387.4 102.4zM384.2 100.8zM378.0 101.4zM364.8 100.9zM382.4 104.5zM388.8 115.3zM378.9 98.6zM387.9 129.1zM376.3 96.8zM390.6 104.6zM394.0 107.2zM384.5 101.0zM386.1 98.6zM373.5 71.9zM393.0 118.9zM378.0 92.3zM387.2 92.5zM397.2 83.8zM385.6 103.0zM385.0 92.6zM386.3 100.3zM378.8 116.9zM378.8 118.6zM391.3 113.9zM377.9 106.2zM380.6 110.1zM373.5 102.0zM384.2 107.8zM375.9 102.6zM381.6 89.4zM381.0 122.1zM382.5 96.1zM378.0 91.4zM380.9 102.4zM390.7 119.6zM389.4 105.1zM387.1 95.3zM386.6 100.6zM371.6 123.0zM381.4 89.1zM384.9 92.2zM384.8 84.9zM386.9 106.9zM374.1 99.2zM385.9 107.9zM379.1 109.2zM385.0 100.0zM394.5 112.8zM386.7 103.4zM382.7 102.7zM376.9 113.4zM389.6 107.9zM369.4 83.7zM377.5 75.6zM366.0 117.2zM381.6 97.2zM377.3 96.4zM379.1 108.8zM375.8 117.1zM396.4 100.5zM388.3 112.7zM387.9 89.5zM378.1 85.7zM388.2 78.9zM382.6 108.8zM380.4 98.1zM372.2 103.0zM383.4 116.7zM364.9 86.4zM377.4 130.8zM367.0 104.4zM385.3 80.5zM386.5 116.2zM388.6 125.9zM373.1 102.6zM389.9 95.9zM396.3 116.2zM379.0 114.0zM376.4 78.9zM378.4 102.4zM378.5 106.1zM388.6 86.9zM378.5 100.2zM385.4 92.8zM382.4 102.6zM376.0 114.6zM382.8 119.8zM382.8 101.8zM383.6 103.1zM384.6 94.4zM380.4 100.5zM385.4 121.8zM370.6 102.9zM379.0 88.9zM391.4 96.7zM384.7 101.6zM380.5 109.0zM377.2 92.5zM378.2 114.8zM381.5 108.7zM369.8 99.1zM379.9 108.0zM381.0 120.5zM367.7 92.8zM370.4 101.1zM381.6 110.1zM380.1 104.9zM395.1 92.0zM396.4 99.1zM377.7 105.7zM390.6 98.6zM384.8 97.9zM392.3 95.7zM391.1 93.0zM381.7 119.0zM390.3 100.8zM382.1 115.0zM374.0 102.3zM383.6 109.9zM391.5 106.3zM388.4 113.5zM380.0 122.4zM392.6 105.4zM391.9 88.7zM392.1 110.6zM369.7 124.1zM376.9 110.8zM378.4 102.5zM377.9 105.9zM368.2 84.8zM378.7 94.7zM390.5 110.0zM375.6 120.4zM397.6 123.5zM375.7 102.2zM385.3 98.0zM381.2 94.1zM374.3 93.6zM384.3 97.0zM383.7 89.6zM382.0 116.9zM390.9 83.3zM388.0 120.0zM372.0 115.0zM391.7 97.7zM376.4 107.0zM369.6 99.8zM388.4 120.2zM390.5 113.4zM376.5 113.0zM383.0 93.2zM377.8 114.6zM387.0 97.9zM379.3 113.3zM384.4 121.9zM374.1 101.0zM386.6 93.1zM383.1 101.5zM400.4 122.7zM392.0 91.2zM378.8 103.8zM374.0 101.7zM387.7 119.3zM376.8 94.2zM387.9 98.3zM390.0 96.1zM393.1 106.0zM393.2 93.3zM391.1 97.0zM382.7 90.1zM382.5 108.3zM384.1 103.0zM393.9 107.1zM380.2 84.3zM382.8 114.6zM388.6 104.7zM374.4 120.8zM380.1 122.2zM383.0 96.6zM380.0 104.8zM379.0 97.5zM385.5 103.9zM376.2 108.6zM386.5 102.4zM380.6 100.2zM371.7 121.0zM375.5 104.1zM385.7 94.5zM381.3 96.2zM378.6 100.6zM382.1 106.1zM385.2 90.9zM380.7 115.6zM375.6 99.9zM391.7 100.1zM382.2 91.8zM385.7 105.8zM378.3 88.6zM383.7 96.6zM389.7 112.1zM376.3 114.7zM381.2 90.2zM380.2 85.2zM374.7 129.4zM394.3 106.6zM374.4 102.9zM386.0 97.0zM377.6 100.8zM381.4 96.8zM379.1 98.8zM377.9 86.7zM382.0 103.6zM366.5 100.3zM376.1 96.9zM383.7 95.3zM393.5 94.1zM382.4 110.2zM376.1 100.4zM388.4 91.4zM385.3 106.3zM374.4 103.2zM377.2 99.8zM373.8 116.6zM389.7 115.4zM374.4 109.0zM373.9 115.8zM383.2 123.6zM388.6 100.9zM377.8 105.9zM387.0 93.5zM372.7 101.8zM387.1 92.5zM383.1 106.5zM382.2 93.7zM367.0 104.8zM388.6 97.5zM382.1 92.1zM383.2 108.0zM374.5 83.0zM391.5 120.3zM378.9 105.4zM384.7 92.3zM380.9 99.0zM378.9 121.0zM381.0 122.3zM389.6 120.6zM385.4 123.3zM376.7 130.3zM373.6 124.1zM383.4 123.3zM388.0 121.2zM372.3 123.9zM386.6 132.0zM384.6 122.9zM385.5 125.2zM383.8 114.5zM393.1 123.3zM380.3 131.9zM383.4 130.0zM384.5 119.3zM386.2 131.9zM372.5 132.1zM386.9 117.3zM386.5 119.6zM393.8 120.4zM379.7 127.9zM394.0 133.5zM376.9 128.3zM375.3 130.3zM385.4 127.0zM375.6 118.9zM386.5 123.9zM388.4 124.7zM378.1 123.9zM393.0 128.2zM380.7 120.6zM382.7 131.5zM386.0 132.9zM380.0 133.2zM387.4 117.3zM392.6 133.1zM385.3 120.9zM390.2 114.4zM388.7 119.2zM382.3 126.4zM376.0 132.3zM385.3 117.4zM378.9 122.4zM382.5 131.3zM383.0 115.2zM385.0 109.8zM369.2 129.0zM383.0 133.4zM376.7 129.9zM390.8 128.7zM391.9 126.9zM378.4 131.0zM389.2 104.9zM387.4 126.2zM379.9 119.3zM389.6 118.2zM364.4 126.7zM384.6 124.4zM379.9 133.2zM381.4 126.9zM387.4 111.5zM388.7 116.2zM374.4 130.2zM395.5 127.0zM382.8 126.6zM397.5 125.3zM379.5 110.4zM383.6 129.5zM392.7 129.6zM381.3 131.3zM390.1 123.3zM381.7 122.4zM384.2 130.6zM382.7 109.9zM384.8 123.6zM396.5 123.3zM383.7 125.3zM383.4 121.6zM384.1 127.8zM386.9 132.2zM397.9 124.3zM373.9 103.9zM382.1 128.9zM386.6 123.0zM392.0 112.6zM374.8 119.3zM397.8 124.2zM387.9 121.9zM397.3 123.9zM389.3 126.4zM384.0 117.8zM379.5 130.7zM385.5 122.8zM385.3 114.1zM373.9 117.6zM384.1 118.9zM381.4 132.5zM386.1 127.1zM375.8 122.8zM377.4 126.2zM380.2 122.1zM385.3 123.0zM378.7 130.4zM370.7 127.5zM374.4 125.8zM389.2 125.2zM387.8 122.9zM381.9 131.3zM387.0 124.7zM377.7 130.2zM380.3 112.2zM391.0 122.6zM383.7 117.3zM376.4 132.1zM389.6 131.3zM386.9 125.7zM385.9 125.4zM388.9 123.4zM387.2 131.3zM382.5 133.1zM385.4 110.3zM384.4 126.2zM384.6 108.0zM385.6 133.4zM389.2 131.6zM388.9 122.8zM384.1 115.6zM376.8 120.8zM368.7 117.8zM376.3 129.3zM381.1 125.6zM396.3 119.1zM388.1 114.7zM386.9 119.8zM378.9 114.0zM377.0 130.6zM389.2 126.6zM381.7 129.6zM387.8 132.0zM382.6 120.6zM379.9 126.6zM383.5 132.8zM394.7 122.7zM390.5 115.1zM392.3 118.1zM393.0 122.5zM384.9 120.2zM389.4 123.0zM385.8 131.2zM379.5 113.7zM380.5 119.8zM395.3 114.7zM376.3 126.5zM376.8 120.9zM387.2 119.4zM387.0 122.3zM383.2 128.5zM375.8 119.4zM393.5 115.7zM385.7 125.5zM379.6 127.2zM391.5 114.1zM388.2 129.5zM399.2 117.7zM377.6 132.1zM380.6 120.0zM383.0 130.5zM389.5 129.0zM392.0 114.3zM378.1 118.4zM377.4 125.7zM388.6 118.4zM383.0 126.6zM386.2 126.5zM390.6 129.4zM388.3 132.8zM396.5 131.1zM390.3 118.7zM384.3 110.1zM380.0 125.1zM384.7 125.1zM388.9 131.9zM376.7 128.5zM381.1 122.6zM377.4 126.8zM396.5 122.7zM389.6 127.2zM375.5 121.1zM382.4 129.6zM388.2 119.9zM385.8 116.1zM381.7 127.6zM366.5 129.5zM392.2 129.7zM377.6 116.5zM390.8 112.4zM389.9 114.4zM381.9 132.9zM384.3 130.2zM394.9 126.3zM375.7 118.9zM385.9 132.7zM368.3 122.8zM393.5 129.5zM374.2 129.5zM383.6 119.3zM379.4 125.1zM378.9 127.5zM375.6 115.4zM377.0 128.6zM388.5 121.8zM395.7 119.4zM384.0 119.7zM385.7 132.7zM388.8 123.4zM380.1 124.3zM389.3 108.6zM382.0 125.8zM373.3 127.2zM386.0 120.7zM385.5 125.9zM383.2 132.7zM381.0 119.2zM380.0 119.9zM386.9 131.7zM385.6 129.2zM372.0 119.1zM387.4 111.0zM374.3 126.4zM379.2 114.5zM382.8 122.5zM387.5 123.3zM386.0 126.7zM386.5 132.2zM384.6 123.9zM395.0 120.6zM381.8 125.5zM374.2 116.5zM381.7 129.6zM376.0 118.4zM370.8 131.0zM389.4 118.0zM389.7 128.8zM382.7 123.3zM376.3 123.7zM373.1 109.3zM386.6 120.4zM379.7 121.4zM381.1 117.0zM381.7 123.1zM377.5 127.8zM385.3 129.5zM375.4 133.2zM389.9 132.5zM378.8 130.6zM386.0 131.1zM389.7 118.1zM387.4 131.5zM384.9 122.6zM389.7 131.3zM375.1 127.3zM382.2 127.9zM381.1 118.4zM372.6 121.5zM385.8 130.6zM374.2 118.6zM380.6 125.0zM379.4 119.5zM391.1 108.9zM379.7 123.9zM385.1 130.0zM375.3 116.0zM380.7 125.6zM386.3 126.8zM377.8 130.7zM366.6 129.0zM385.7 126.9zM386.0 133.1zM388.2 130.2zM390.6 124.7zM377.1 123.6zM376.0 124.7zM369.6 108.5zM386.0 126.8zM382.2 119.6zM380.6 132.7zM394.1 127.2zM382.4 129.3zM382.6 120.4zM379.8 129.6zM386.5 126.0zM379.2 112.6zM388.3 111.9zM393.2 112.7zM379.7 128.3zM390.7 129.1zM370.1 126.4zM382.8 132.4zM382.8 132.3zM382.8 115.3zM388.8 119.5zM399.3 124.1zM393.9 130.5zM388.8 131.0zM383.1 120.2zM383.6 129.8zM380.7 128.3zM377.9 126.2zM385.0 129.1zM391.7 111.2zM375.6 119.8zM392.3 120.4zM385.9 131.0zM399.5 130.6zM379.2 123.4zM375.1 104.4zM377.9 119.9zM384.4 132.4zM388.0 112.8zM375.3 132.7zM381.3 129.8zM388.3 126.1zM393.6 121.1zM373.3 122.8zM385.4 123.6zM381.9 116.3zM384.3 126.6zM387.5 124.9zM386.6 120.5zM371.6 105.0zM389.7 129.9zM384.4 118.7zM378.2 119.7zM387.9 133.7zM383.4 118.7zM385.2 124.7zM393.4 110.7zM383.3 123.9zM377.5 120.5zM389.5 126.9zM379.1 123.5zM389.3 128.4zM391.3 131.5zM383.7 127.0zM389.1 117.8zM386.1 125.5zM380.1 128.5zM389.5 128.5zM369.2 123.6zM386.5 131.8zM379.5 125.0zM378.7 126.4zM393.2 115.8zM379.9 126.1zM382.3 121.2zM379.2 121.2zM383.9 131.1zM391.1 132.9zM390.1 119.8zM376.7 121.6zM382.8 116.2zM381.1 126.4zM391.0 112.5zM385.6 119.4zM387.2 118.1zM386.1 121.4zM381.1 130.6zM374.3 117.8zM380.4 120.5zM378.8 122.7zM380.5 118.1zM379.8 115.7zM378.7 128.3zM392.5 126.0zM391.0 131.3zM392.7 127.6zM392.2 128.5zM375.7 113.7zM392.4 131.2zM381.2 110.9zM380.2 114.5zM381.3 122.8zM373.2 116.8zM379.6 124.9zM381.3 131.1zM384.7 130.5zM382.9 117.4zM387.4 119.3zM385.9 116.1zM383.1 119.0zM380.3 131.2zM381.7 129.3zM393.1 130.8zM378.9 118.6zM380.4 117.7zM382.3 128.3zM384.8 127.4zM389.5 124.6zM381.5 130.1zM387.9 123.1zM367.8 121.3zM388.9 114.2zM380.2 123.4zM379.4 117.2zM382.8 113.0zM374.7 127.3zM372.7 127.5zM369.9 126.2zM380.8 113.0zM378.4 118.7zM368.2 121.6zM379.1 129.6zM389.2 133.3zM385.0 125.3zM385.2 117.1zM380.1 128.0zM386.9 128.4zM386.1 132.7zM381.5 124.4zM394.4 128.3zM392.5 115.4zM388.6 127.3zM383.5 115.4zM381.7 113.6zM385.3 128.8zM384.4 117.4zM391.0 121.4zM385.5 125.2zM384.3 124.4zM383.0 124.8zM392.6 130.3zM383.8 131.9zM382.7 112.8zM391.7 113.7zM379.8 128.5zM374.3 121.2zM389.5 116.8zM390.5 131.8zM389.2 128.7zM379.0 122.2zM382.8 130.4zM373.1 103.7zM382.9 124.9zM384.9 133.3zM380.5 130.9zM387.8 125.8zM383.1 130.4zM390.3 122.8zM382.8 127.2zM385.5 131.5zM392.6 129.6zM396.0 121.3zM373.6 101.1zM375.7 122.9zM384.1 108.0zM384.0 117.3zM385.0 127.6zM374.2 110.3zM384.8 129.1zM377.7 124.2zM382.7 118.8zM381.3 126.1zM378.6 131.5zM390.3 121.9zM379.4 124.2zM376.6 126.6zM375.0 111.1zM381.7 129.3zM395.3 129.3zM383.5 119.9zM376.5 120.1zM375.5 126.7zM374.3 120.3zM400.8 122.7zM381.8 121.5zM378.1 125.3zM386.1 130.2zM376.4 117.4zM378.0 108.4zM379.0 123.5zM383.5 118.5zM381.9 131.3zM380.5 126.7zM391.3 116.9zM368.4 127.5zM389.5 120.0zM375.8 122.0zM390.8 123.0zM384.7 116.3zM372.9 124.1zM381.2 128.6zM378.4 117.3zM379.6 130.2zM384.8 128.1zM381.1 120.7zM383.6 117.6zM384.0 126.1zM394.1 127.9zM369.2 122.9zM378.1 113.7zM392.6 121.8zM388.8 116.7zM379.2 119.2zM378.4 111.1zM383.6 130.6zM385.8 118.0zM390.3 122.9zM387.1 121.4zM381.5 132.1zM378.4 121.1zM382.4 130.2zM383.2 117.9zM380.4 119.4zM384.8 128.2zM376.3 122.8zM380.2 122.3zM385.1 132.7zM388.3 128.6zM377.0 115.5zM389.7 131.0zM388.0 129.5zM388.2 130.4zM389.8 114.4zM382.2 126.6zM372.8 119.0zM377.3 122.5zM381.3 121.9zM389.7 123.6zM380.8 125.4zM391.9 132.4zM367.7 130.1zM389.7 113.2zM387.0 129.1zM382.1 120.1zM378.8 123.1zM377.8 128.2zM377.4 121.2zM384.7 109.8zM381.8 125.3zM378.0 124.3zM378.7 120.4zM388.3 116.5zM383.6 124.5zM380.2 125.8zM391.3 122.6zM379.8 124.2zM389.0 126.5zM379.3 114.2zM382.8 123.4zM388.2 110.4zM379.7 132.3zM393.0 127.5zM388.4 124.7zM388.1 124.7zM384.8 126.5zM381.6 113.3zM394.1 128.7zM380.2 129.7zM382.6 131.3zM375.8 131.6zM380.9 127.7zM372.1 128.5zM377.9 128.1zM397.4 120.6zM382.6 124.0zM380.1 121.9zM396.6 132.4zM387.8 126.1zM380.0 113.9zM380.8 131.9zM383.5 126.0zM376.7 125.2zM386.4 128.4zM373.5 117.4zM391.4 128.1zM391.5 120.6zM384.4 119.1zM385.1 108.3zM379.9 122.1zM389.1 121.7zM385.2 132.2zM374.7 120.0zM380.1 104.8zM387.9 119.2zM380.6 123.7zM392.3 123.2zM381.9 123.0zM383.1 127.1zM382.7 118.2zM374.0 130.3zM385.9 132.2zM389.4 119.9zM382.3 119.1zM385.0 130.8zM381.7 132.6zM387.4 109.8zM384.4 128.0zM386.6 127.4zM378.5 125.4zM386.1 133.2zM382.5 126.1zM372.4 124.2zM376.3 122.4zM383.2 121.4zM373.8 133.5zM382.4 125.0zM375.7 128.0zM385.0 127.3zM395.2 123.2zM382.2 128.5zM391.5 129.9zM383.2 128.4zM377.3 126.5zM382.0 116.0zM373.3 130.1zM383.8 117.5zM379.0 110.3zM381.6 122.1zM370.9 125.0zM391.3 130.7zM379.5 120.6zM383.8 129.3zM381.8 119.1zM381.9 110.8zM386.0 126.0zM381.2 121.8zM377.5 120.1zM390.9 131.0zM372.3 115.4zM388.0 127.6zM380.3 122.7zM386.2 132.0zM384.5 118.7zM379.3 115.2zM380.5 124.5zM383.1 124.8zM385.8 130.7zM380.6 126.4zM372.4 125.0zM380.4 121.3zM385.1 128.9zM377.5 130.1zM375.6 127.8zM382.9 131.9zM387.4 128.6zM378.1 123.0zM394.8 126.1zM379.5 124.1zM381.9 129.1zM375.1 127.3zM371.1 128.3zM381.8 119.2zM384.7 124.6zM387.0 113.6zM387.0 124.9zM376.2 129.6zM386.8 122.6zM369.3 127.7zM396.5 120.7zM385.7 133.0zM387.3 132.0zM389.7 125.3zM382.7 129.6zM379.1 119.4zM389.6 113.9zM391.8 123.9zM375.2 116.9zM389.7 125.8zM372.4 112.4zM387.1 128.0zM379.4 126.1zM387.9 116.0zM388.8 129.0zM386.7 112.6zM389.3 121.8zM388.5 126.4zM384.6 123.2zM392.7 131.0zM383.1 115.3zM379.5 113.1zM378.6 115.0zM383.4 130.7zM394.8 132.9zM395.8 124.9zM374.5 118.7zM377.8 125.5zM389.0 126.4zM385.7 121.7zM395.5 116.9zM390.0 130.6zM382.8 120.7zM401.6 132.0zM373.9 129.1zM391.9 133.4zM388.5 108.0zM379.0 129.2zM375.6 127.0zM381.9 124.4zM382.9 123.9zM386.1 123.8zM382.8 125.1zM393.9 120.9zM373.7 129.2zM387.3 130.5zM374.0 115.5zM384.3 123.7zM378.3 129.2zM385.9 121.9zM392.8 121.1zM378.5 122.5zM376.0 129.7zM379.1 129.9zM386.2 127.9zM378.9 123.1zM377.6 115.4zM377.9 118.6zM379.3 123.3zM389.2 132.4zM367.1 133.0zM379.7 131.0zM383.6 120.5zM377.8 122.1zM380.2 110.2zM380.3 127.1zM385.2 120.2zM393.4 127.9zM385.0 121.0zM385.6 123.5zM382.7 118.6zM390.2 120.5zM387.0 132.5zM374.4 115.8zM386.4 124.4zM377.3 131.0zM368.5 133.4zM385.8 131.7zM390.6 130.5zM374.8 123.5zM388.9 123.9zM377.0 128.8zM381.9 132.1zM388.4 132.1zM375.2 120.1zM386.6 122.3zM392.8 131.6zM380.4 123.9zM384.3 116.6zM385.6 127.3zM379.7 129.6zM382.6 123.8zM381.0 117.4zM415.6 99.6zM417.7 97.4zM417.7 74.7zM414.9 82.4zM418.9 99.6zM414.3 104.3zM414.3 84.2zM422.5 96.6zM416.9 93.7zM417.6 94.3zM413.9 114.5zM418.9 114.0zM417.9 77.8zM416.8 113.3zM418.8 105.5zM417.8 96.3zM412.7 109.9zM416.2 102.9zM414.5 115.5zM413.2 103.6zM418.3 92.9zM409.2 90.0zM417.6 114.7zM415.6 75.7zM420.9 105.6zM419.2 131.8zM418.9 109.4zM418.0 106.5zM410.6 92.8zM414.8 78.7zM412.9 96.7zM416.8 116.2zM417.4 60.9zM415.2 86.1zM414.2 94.1zM416.7 97.2zM415.2 82.4zM414.8 110.7zM423.7 85.4zM414.9 102.0zM414.2 81.3zM416.4 103.3zM416.3 94.3zM419.3 78.1zM422.8 96.2zM412.5 110.7zM422.3 112.5zM417.7 112.3zM414.7 89.1zM413.7 115.2zM421.0 101.8zM411.7 105.7zM414.0 111.9zM420.8 81.3zM409.1 109.4zM413.9 84.4zM420.5 109.3zM416.9 97.3zM415.2 108.3zM418.7 94.9zM410.2 92.3zM412.7 108.3zM418.2 96.9zM414.5 119.8zM410.0 97.6zM423.9 119.9zM416.0 84.2zM418.8 111.5zM417.9 98.0zM416.5 110.7zM414.3 92.8zM416.1 104.5zM409.7 106.7zM413.5 90.7zM419.5 104.0zM415.5 96.4zM414.9 86.6zM416.6 110.8zM417.8 98.2zM419.1 80.6zM415.9 106.7zM414.2 96.9zM412.7 101.3zM414.8 101.8zM411.3 105.6zM417.0 91.0zM414.6 92.0zM418.0 113.1zM415.7 93.5zM414.3 98.1zM414.0 77.3zM418.0 106.4zM413.4 100.7zM416.2 104.5zM421.2 115.5zM420.5 107.5zM416.6 104.0zM417.3 119.9zM418.2 112.8zM418.1 109.9zM415.3 103.3zM413.8 104.2zM411.2 116.0zM420.5 90.1zM420.3 91.2zM421.6 94.8zM416.2 89.2zM419.3 93.2zM419.8 105.9zM418.6 114.7zM421.2 102.9zM417.2 107.3zM414.2 109.2zM422.4 125.7zM412.5 100.6zM418.8 101.6zM415.3 101.9zM419.7 101.2zM413.9 78.2zM415.8 108.4zM414.0 120.2zM419.9 86.0zM414.4 104.3zM412.1 125.2zM413.2 113.7zM416.0 114.3zM416.2 88.7zM412.8 103.7zM421.8 100.6zM410.2 96.0zM415.4 88.6zM414.1 89.8zM414.6 84.6zM415.8 89.8zM411.8 97.5zM413.3 96.5zM414.7 94.8zM412.8 101.1zM417.9 111.0zM413.1 82.1zM420.6 104.6zM412.1 88.8zM421.8 118.7zM415.3 99.9zM423.3 103.4zM417.0 108.2zM416.7 117.2zM418.4 85.6zM405.2 101.9zM412.5 90.7zM413.9 122.4zM411.7 88.0zM418.7 109.1zM425.6 95.6zM407.6 118.4zM413.3 96.8zM416.9 92.4zM414.0 113.2zM418.8 92.2zM415.5 92.4zM418.6 126.8zM421.6 126.3zM416.8 94.3zM418.6 98.5zM415.3 129.3zM412.9 106.2zM417.9 98.1zM416.4 98.7zM415.2 101.6zM414.4 100.0zM413.8 94.3zM417.6 93.4zM416.1 104.8zM411.6 100.6zM415.6 98.3zM420.3 111.0zM419.6 115.3zM415.7 102.0zM417.3 81.0zM415.1 108.9zM423.2 124.6zM418.4 82.6zM415.4 108.3zM419.8 93.2zM415.0 120.6zM415.1 78.0zM411.6 92.0zM413.5 99.3zM414.0 97.0zM414.2 107.0zM413.3 118.8zM416.5 91.0zM413.7 89.4zM421.7 126.0zM415.0 108.2zM412.2 83.2zM418.3 67.1zM416.3 105.4zM416.3 97.6zM415.1 116.4zM421.1 100.5zM414.0 117.2zM419.7 121.6zM416.6 87.8zM419.1 92.8zM416.7 99.2zM423.1 101.0zM414.9 98.2zM417.5 116.0zM415.6 107.6zM416.8 113.7zM413.3 88.9zM414.7 72.2zM412.9 94.3zM413.6 92.1zM417.8 100.9zM417.9 96.7zM417.4 92.2zM416.3 107.2zM413.6 99.2zM417.2 95.3zM413.4 104.0zM412.0 91.2zM419.9 129.0zM417.3 114.7zM416.3 85.2zM422.3 79.0zM415.9 102.0zM421.2 96.6zM413.4 93.3zM411.9 87.7zM412.5 87.9zM419.0 125.3zM418.5 108.2zM416.0 101.5zM411.4 90.1zM414.0 88.5zM418.6 89.3zM417.6 98.0zM413.4 85.0zM416.8 97.6zM424.2 105.6zM415.7 89.0zM411.7 79.6zM416.1 117.2zM417.9 91.2zM421.5 100.2zM417.0 116.5zM412.6 106.5zM415.7 99.8zM420.2 97.1zM414.3 85.4zM420.1 96.5zM412.3 104.9zM416.5 112.4zM416.3 89.2zM413.1 106.3zM417.0 117.0zM419.3 106.4zM415.4 112.7zM414.8 89.9zM417.9 91.7zM419.7 117.1zM420.1 116.4zM415.7 102.4zM414.9 90.1zM419.6 109.4zM419.4 90.7zM422.7 100.8zM416.8 125.7zM417.8 111.2zM416.0 106.8zM414.7 96.9zM426.2 75.5zM417.8 109.4zM415.1 99.3zM416.7 109.1zM416.8 81.8zM413.9 99.2zM411.4 108.6zM413.7 114.4zM414.3 93.8zM417.4 80.2zM417.7 99.2zM408.8 101.3zM412.1 109.7zM412.9 102.8zM421.6 111.6zM418.0 99.8zM414.8 87.7zM415.2 107.4zM415.7 98.3zM411.1 101.6zM419.8 110.5zM418.6 107.7zM417.0 99.2zM416.5 108.6zM415.4 116.0zM414.9 102.3zM411.7 83.9zM418.4 105.4zM412.9 101.7zM416.3 104.7zM415.0 67.3zM415.0 77.6zM417.8 85.8zM415.8 95.0zM413.0 90.8zM418.5 90.0zM420.8 90.7zM417.0 93.5zM417.4 89.6zM415.6 87.5zM421.7 98.1zM417.8 103.5zM413.7 96.5zM420.0 88.5zM422.7 95.9zM417.5 120.6zM413.1 100.2zM410.6 91.1zM413.1 102.6zM423.9 87.2zM413.7 91.5zM412.2 113.9zM416.0 117.1zM418.7 98.2zM415.6 92.4zM415.3 116.2zM417.3 101.8zM420.6 112.7zM418.0 83.7zM414.8 91.5zM415.0 89.4zM417.2 76.8zM412.9 65.9zM417.2 108.3zM421.1 97.4zM415.7 96.7zM415.1 100.0zM417.8 98.5zM413.6 103.6zM421.0 89.3zM419.9 120.4zM419.3 101.4zM417.0 92.2zM417.2 84.0zM418.1 103.3zM412.7 112.8zM414.6 91.9zM415.4 97.3zM420.1 85.1zM423.0 82.5zM416.2 127.9zM417.2 96.5zM417.2 101.3zM414.6 118.4zM414.7 103.9zM416.8 114.1zM420.4 79.2zM412.2 120.5zM419.3 101.9zM412.6 117.6zM419.1 96.3zM415.8 99.1zM412.8 108.4zM411.7 103.8zM415.5 102.0zM419.3 113.2zM414.1 103.3zM416.8 102.8zM413.4 106.3zM413.2 95.8zM414.8 98.9zM412.7 117.8zM416.9 95.7zM411.0 98.7zM421.3 93.4zM414.5 89.9zM414.0 89.4zM419.6 114.8zM415.0 116.2zM419.9 86.3zM413.3 108.5zM413.6 109.2zM413.7 113.4zM421.7 103.0zM410.6 114.8zM416.7 116.2zM422.3 76.4zM414.2 128.7zM420.0 108.2zM418.7 112.3zM418.4 121.4zM416.7 110.3zM415.3 91.0zM413.8 113.1zM416.9 115.6zM418.5 99.9zM415.5 100.5zM419.7 64.5zM418.8 104.3zM417.4 105.3zM415.3 87.8zM418.3 92.0zM417.0 99.8zM423.1 87.8zM417.3 109.1zM418.5 85.6zM412.2 105.5zM416.8 88.4zM421.7 106.9zM417.8 89.9zM419.4 103.9zM415.5 103.0zM414.8 82.2zM417.2 104.0zM412.7 102.8zM415.4 99.4zM423.7 94.6zM416.1 111.4zM414.5 97.6zM420.9 104.8zM417.8 97.4zM414.8 94.1zM416.5 91.2zM416.0 103.2zM414.4 95.8zM417.0 98.1zM416.8 100.7zM414.8 107.2zM415.4 77.5zM421.0 90.3zM421.7 96.7zM417.0 106.6zM408.8 93.6zM416.5 88.6zM411.7 99.9zM414.7 96.8zM411.3 119.1zM422.3 100.3zM416.2 119.5zM421.0 107.0zM409.3 72.9zM422.0 100.2zM417.1 105.5zM419.5 107.4zM415.7 119.2zM415.1 94.2zM409.4 98.5zM415.3 92.3zM409.4 106.2zM414.9 89.7zM411.5 90.5zM415.1 89.5zM423.3 97.9zM418.3 86.1zM417.6 119.6zM417.6 92.0zM415.6 86.3zM413.5 105.8zM419.0 114.7zM417.0 81.4zM412.3 100.4zM420.6 96.8zM421.6 81.0zM415.7 83.1zM419.2 110.1zM415.7 94.9zM418.8 98.2zM414.2 90.9zM413.6 99.5zM419.6 89.8zM420.9 113.0zM417.8 104.1zM418.9 108.4zM419.8 101.7zM418.1 81.7zM427.2 129.8zM420.7 89.7zM415.8 99.0zM415.9 87.0zM416.7 98.5zM417.7 88.7zM413.8 104.6zM417.1 117.8zM414.1 92.6zM415.1 97.5zM420.9 102.7zM417.9 97.0zM416.2 107.9zM419.7 117.0zM418.7 78.2zM420.9 114.3zM419.4 92.1zM413.0 96.7zM417.1 86.2zM411.7 118.6zM421.4 98.8zM417.0 106.7zM415.1 100.7zM416.6 103.4zM413.1 107.3zM417.0 116.2zM421.6 122.8zM415.0 96.0zM417.2 87.6zM416.1 113.1zM418.7 108.0zM420.3 102.0zM409.6 121.3zM416.2 85.8zM412.9 76.1zM413.5 103.7zM419.0 102.0zM421.4 89.7zM414.4 84.6zM419.4 91.3zM412.0 102.9zM417.1 97.2zM417.6 102.0zM413.3 96.8zM418.9 111.5zM419.0 97.1zM415.2 95.8zM414.4 84.5zM419.2 111.6zM419.0 87.2zM418.1 80.8zM420.5 111.3zM417.2 90.5zM417.3 108.0zM415.0 102.1zM417.7 91.1zM417.4 109.1zM422.6 94.7zM420.2 125.1zM415.0 84.7zM412.7 93.7zM412.8 81.3zM416.2 118.9zM413.6 92.8zM413.5 101.2zM414.1 108.5zM416.1 74.1zM412.3 98.6zM412.3 104.7zM418.3 104.5zM415.7 94.4zM416.6 98.0zM421.5 75.7zM413.7 88.5zM416.4 90.4zM423.2 104.0zM422.0 83.1zM420.6 93.6zM411.3 78.5zM414.3 96.9zM416.8 113.6zM412.6 102.9zM413.0 102.5zM421.1 82.0zM410.3 85.4zM413.4 106.3zM414.1 101.5zM424.9 132.7zM416.0 111.3zM414.1 107.3zM413.2 105.8zM414.4 107.8zM420.8 103.5zM415.6 86.0zM418.2 107.0zM413.7 108.2zM420.6 90.2zM423.1 97.2zM417.1 94.2zM414.8 98.0zM412.1 103.5zM418.4 85.9zM414.4 98.5zM422.0 81.1zM418.4 112.9zM412.4 102.3zM413.5 104.2zM412.9 93.9zM418.9 103.7zM421.9 75.5zM417.6 97.1zM414.2 98.1zM420.6 94.3zM416.0 86.7zM417.6 118.6zM412.2 105.5zM416.8 102.5zM417.8 94.9zM412.4 126.9zM419.2 102.7zM418.8 86.6zM418.8 113.8zM404.5 115.3zM422.5 83.0zM415.0 118.4zM415.9 101.2zM412.1 117.2zM415.1 92.0zM415.5 115.3zM420.2 85.6zM412.6 86.7zM417.3 95.7zM417.9 92.3zM415.6 84.5zM416.3 91.7zM417.6 88.4zM411.0 90.2zM415.1 94.2zM414.4 93.9zM417.0 113.0zM423.4 89.1zM413.4 109.0zM422.7 108.9zM414.4 110.9zM416.6 100.1zM418.1 92.1zM410.3 85.5zM422.0 112.7zM417.1 101.2zM417.2 94.2zM422.8 82.6zM415.5 107.3zM417.7 108.0zM411.7 102.9zM418.7 84.7zM416.0 108.1zM415.6 108.3zM415.7 82.6zM419.5 108.4zM414.7 111.5zM419.0 100.3zM417.3 88.2zM409.6 119.8zM417.7 86.2zM417.6 106.4zM414.2 111.9zM414.3 105.7zM416.2 69.4zM418.1 93.8zM417.8 96.9zM411.5 91.1zM416.4 114.7zM411.7 98.0zM416.9 118.6zM417.5 104.0zM413.7 67.5zM415.2 83.7zM408.6 118.8zM414.9 77.6zM409.1 112.3zM415.7 107.4zM417.2 118.3zM416.6 111.2zM419.6 97.5zM417.2 106.2zM417.3 102.9zM415.6 107.2zM418.9 85.2zM414.6 104.6zM422.0 126.1zM415.7 101.8zM418.2 99.6zM416.2 106.2zM419.4 115.0zM414.0 88.5zM417.8 87.0zM413.7 108.6zM421.8 102.2zM414.4 100.3zM415.8 100.9zM412.1 80.7zM414.1 91.9zM412.4 104.3zM411.5 113.5zM419.5 101.7zM412.6 108.6zM413.0 106.1zM417.2 92.1zM424.4 85.5zM408.5 111.5zM418.8 90.6zM416.4 86.8zM418.8 95.3zM415.7 76.0zM418.3 87.8zM419.9 86.2zM414.4 114.7zM409.5 96.8zM411.6 103.0zM415.7 106.7zM417.5 106.9zM418.4 118.5zM412.9 101.5zM416.0 109.8zM415.0 90.2zM417.4 92.4zM416.9 102.7zM413.5 93.5zM419.6 101.5zM412.7 94.1zM422.5 106.6zM416.1 99.9zM418.1 93.5zM415.5 99.7zM419.5 98.3zM413.2 107.5zM411.5 109.6zM418.7 86.7zM408.5 114.9zM410.8 98.4zM419.0 95.2zM417.6 104.8zM418.9 110.2zM412.4 94.2zM405.3 98.3zM410.0 85.8zM412.4 108.7zM425.5 104.0zM410.6 103.5zM415.5 97.8zM415.5 102.4zM420.3 79.0zM417.7 100.8zM416.6 123.7zM420.0 89.1zM414.2 106.1zM418.1 65.0zM418.1 101.0zM412.0 90.4zM414.2 105.5zM413.6 80.3zM414.8 89.2zM415.9 90.1zM413.8 100.2zM415.6 106.2zM413.1 94.1zM413.8 96.4zM418.6 97.2zM416.1 114.5zM416.0 96.6zM414.0 110.1zM410.3 97.6zM411.0 98.3zM417.8 94.4zM424.3 101.1zM421.1 87.6zM415.1 93.1zM416.0 98.0zM415.8 99.1zM416.4 111.8zM416.3 98.4zM413.3 107.8zM418.1 120.9zM423.7 102.2zM413.0 94.4zM414.8 92.3zM417.9 127.3zM413.2 81.3zM416.6 104.1zM414.7 97.4zM411.2 117.4zM421.5 104.8zM410.0 99.8zM418.3 90.0zM417.2 88.5zM417.6 97.0zM417.0 88.4zM421.6 116.4zM419.5 87.8zM415.9 118.0zM417.4 96.3zM420.1 116.4zM422.5 103.9zM413.3 93.1zM416.2 104.9zM411.9 104.8zM414.9 115.6zM416.5 81.8zM413.5 102.3zM415.8 117.7zM419.8 118.8zM415.7 86.3zM415.2 111.2zM410.5 114.1zM416.4 117.3zM414.8 112.9zM419.4 100.3zM412.2 90.2zM417.1 96.7zM414.4 80.9zM419.2 114.2zM417.0 103.0zM412.1 107.1zM413.5 122.5zM422.8 107.6zM419.3 91.5zM417.1 86.9zM415.5 89.1zM415.7 103.7zM414.4 97.4zM414.4 104.1zM416.1 92.0zM417.5 112.3zM410.8 75.4zM410.8 89.7zM416.5 127.9zM414.9 110.9zM414.1 112.4zM419.9 105.2zM417.9 108.2zM414.3 95.4zM412.6 91.9zM417.2 119.3zM418.1 87.6zM408.2 115.5zM417.8 74.2zM422.1 97.2zM417.7 97.8zM419.3 90.3zM413.6 86.3zM417.3 102.9zM418.1 110.4zM421.7 91.0zM415.1 106.3zM415.7 88.5zM422.1 96.1zM414.1 100.3zM417.2 123.3zM416.3 109.3zM412.7 90.9zM418.1 106.4zM415.7 83.6zM415.6 93.6zM421.6 117.1zM408.3 104.5zM417.2 110.8zM416.0 102.3zM417.2 77.0zM415.5 99.3zM414.3 115.5zM416.5 97.9zM417.9 109.2zM418.6 105.1zM414.8 96.3zM418.0 84.2zM415.8 122.6zM414.3 94.3zM418.7 112.5zM417.6 87.6zM418.8 108.7zM415.7 81.7zM411.6 106.9zM419.5 92.4zM416.2 88.7zM413.5 100.4zM412.5 105.4zM418.5 121.7zM417.3 102.7zM419.4 110.1zM416.7 87.7zM414.0 98.4zM414.8 109.3zM417.8 114.5zM413.1 113.6zM415.8 110.2zM414.7 90.6zM415.0 112.2zM426.4 108.6zM409.9 87.8zM417.3 84.4zM412.9 93.8zM423.2 100.3zM415.4 99.8zM415.7 86.4zM417.7 87.2zM418.4 84.1zM415.9 105.5zM420.5 117.1zM419.9 108.2zM415.2 96.8zM413.3 104.7zM414.7 105.1zM413.6 93.7zM411.2 99.9zM413.9 88.9zM412.6 112.9zM418.3 92.5zM421.4 106.0zM412.9 110.6zM416.8 84.3zM413.4 90.4zM419.5 104.4zM420.7 103.8zM414.6 92.2zM418.7 108.1zM410.6 114.3zM417.6 103.9zM419.3 94.2zM417.3 117.4zM418.6 94.2zM420.3 95.2zM424.2 113.3zM416.8 106.0zM416.4 82.5zM418.7 102.8zM414.0 127.0zM419.3 88.3zM413.5 104.5zM416.8 69.0zM413.8 90.8zM412.6 102.3zM416.6 107.9zM413.4 132.5zM412.5 109.6zM415.5 100.0zM413.3 123.1zM417.1 99.2zM418.0 104.3zM417.8 113.5zM422.3 105.0zM416.2 91.9zM415.2 113.7zM417.1 98.2zM414.6 100.9zM411.9 105.6zM418.0 91.6zM413.7 101.8zM413.6 106.4zM415.2 123.3zM416.5 96.2zM414.8 98.4zM409.1 113.9zM416.4 100.8zM417.1 95.0zM417.5 104.9zM421.9 90.8zM413.2 96.0zM422.4 99.3zM417.6 93.2zM414.1 95.0zM422.3 116.8zM415.6 77.8zM419.8 99.3zM412.7 97.2zM420.0 114.5zM419.4 104.4zM415.6 107.1zM421.3 113.1zM412.1 109.6zM423.7 88.0zM411.8 91.3zM417.5 103.0zM416.5 112.0zM405.9 98.2zM417.4 97.0zM415.1 106.7zM412.9 117.3zM414.0 102.3zM411.0 112.1zM419.6 117.6zM412.7 111.0zM415.1 105.6zM420.8 108.5zM422.3 101.1zM411.3 132.9zM417.5 97.7zM420.8 94.0zM419.9 100.0zM412.2 98.5zM414.7 96.9zM417.1 122.7zM419.4 117.0zM418.9 89.5zM411.9 100.7zM418.6 100.6zM420.0 72.9zM421.4 96.6zM418.1 102.9zM413.5 102.9zM417.5 94.0zM417.4 107.3zM412.2 72.7zM412.1 92.9zM418.4 120.9zM420.7 88.1zM416.6 96.6zM417.1 125.2zM414.2 95.3zM415.3 89.9zM418.2 117.5zM419.0 112.3zM416.1 118.7zM409.0 102.2zM416.7 101.8zM411.8 77.4zM410.1 96.3zM414.2 118.8zM421.4 110.3zM411.4 96.0zM416.5 96.9zM417.2 124.4zM420.8 104.7zM414.1 100.3zM416.3 110.6zM412.8 107.8zM413.9 97.8zM418.1 81.7zM419.8 113.9zM409.8 101.8zM409.4 82.4zM414.3 127.6zM419.8 112.6zM413.5 86.8zM419.8 108.9zM415.6 94.0zM414.3 97.3zM418.4 95.1zM416.5 98.7zM417.3 96.7zM409.3 130.9zM416.8 119.1zM416.6 80.6zM427.2 113.9zM415.9 97.8zM416.8 94.3zM420.1 95.6zM419.9 110.3zM418.3 87.5zM420.2 113.2zM409.7 101.5zM415.6 120.0zM414.3 102.8zM416.6 113.8zM410.7 64.1zM418.6 102.0zM415.1 102.6zM418.3 90.6zM416.4 109.7zM417.7 123.4zM420.1 86.2zM413.9 86.2zM411.3 108.9zM416.1 96.8zM413.9 123.1zM415.9 103.7zM414.3 113.7zM408.9 83.2zM412.9 103.4zM413.6 98.0zM417.2 108.9zM418.6 113.0zM420.8 95.1zM417.1 88.7zM422.7 85.0zM421.8 116.0zM415.1 90.7zM415.2 112.4zM412.7 96.6zM416.3 104.6zM415.3 96.4zM418.0 102.8zM422.5 89.5zM424.0 87.1zM418.7 116.5zM413.5 106.9zM417.6 83.4zM418.1 93.6zM413.9 99.5zM415.8 94.0zM419.2 106.9zM414.6 112.2zM412.9 108.9zM415.7 83.3zM417.2 74.9zM420.7 100.7zM413.8 103.9zM419.0 104.5zM416.8 97.3zM418.0 89.6zM417.4 94.9zM413.7 93.5zM408.1 111.3zM413.2 100.5zM417.5 103.5zM416.8 96.2zM417.4 110.6zM415.8 114.6zM416.6 93.9zM415.1 92.1zM420.7 98.5zM411.6 101.8zM414.0 109.8zM413.2 98.1zM415.8 99.4zM418.7 125.4zM422.2 117.8zM419.6 92.7zM421.1 103.4zM419.9 96.8zM419.7 99.9zM413.5 84.7zM414.4 83.0zM418.5 99.9zM416.8 97.1zM415.4 94.8zM420.1 100.6zM414.9 85.5zM417.6 90.9zM416.3 104.1zM413.2 102.4zM422.2 93.7zM412.3 122.5zM415.0 104.4zM420.9 89.9zM420.7 78.8zM414.1 91.3zM418.5 107.6zM415.6 89.6zM413.1 112.2zM417.5 102.2zM416.5 98.7zM414.5 96.3zM419.0 100.4zM419.5 79.6zM413.2 89.1zM421.9 107.6zM418.3 93.8zM415.9 91.2zM421.7 89.2zM419.1 111.6zM419.5 107.3zM419.1 92.2zM415.6 120.1zM418.3 101.5zM416.1 110.2zM414.0 101.7zM413.4 102.9zM418.1 96.3zM419.8 92.1zM411.6 93.4zM422.0 95.8zM418.8 92.4zM419.6 105.2zM415.5 85.6zM418.6 100.3zM418.8 84.7zM412.1 129.3zM419.7 97.3zM423.8 99.1zM414.0 114.1zM410.5 97.4zM414.0 92.4zM419.3 103.4zM417.9 111.5zM413.4 109.8zM414.5 112.1zM410.7 99.5zM416.9 111.9zM409.4 92.8zM415.8 109.3zM412.0 109.0zM415.9 125.9zM418.6 91.5zM415.9 121.6zM417.2 109.8zM417.4 99.1zM415.4 101.0zM413.9 118.8zM410.7 91.7zM417.4 105.9zM421.1 125.2zM423.4 85.8zM410.3 90.7zM413.3 87.3zM418.4 105.7zM422.7 78.6zM412.9 124.1zM416.9 106.8zM417.2 117.8zM414.6 99.8zM415.9 99.4zM415.1 86.4zM411.4 104.4zM422.4 100.3zM417.3 104.8zM414.9 79.1zM420.3 91.8zM415.6 102.7zM420.3 99.8zM414.2 97.5zM420.2 101.9zM418.7 83.2zM414.2 105.4zM419.1 92.6zM419.9 117.2zM416.7 101.4zM412.7 113.0zM412.5 98.9zM416.0 104.3zM417.3 95.7zM408.0 94.9zM418.8 87.8zM418.1 99.6zM421.9 112.6zM415.7 104.9zM415.4 92.4zM417.7 97.4zM412.0 98.8zM416.7 84.1zM410.6 97.0zM413.8 92.2zM416.9 130.9zM416.4 95.0zM412.7 109.4zM417.8 93.8zM416.3 94.4zM418.5 99.5zM414.0 98.4zM415.3 82.6zM417.9 84.7zM412.6 109.4zM417.5 88.4zM413.5 112.6zM421.9 91.3zM413.6 99.9zM418.2 84.2zM409.6 96.7zM415.4 75.1zM417.1 114.8zM415.5 121.3zM414.5 105.6zM412.7 87.5zM416.3 105.6zM415.4 90.5zM416.0 85.9zM414.0 105.5zM412.0 104.3zM419.4 83.6zM420.8 110.7zM419.9 106.1zM417.4 89.7zM417.2 100.2zM415.8 88.3zM416.6 104.2zM416.5 112.6zM413.2 116.7zM412.2 103.2zM417.3 90.7zM412.5 96.1zM421.2 118.6zM415.2 95.7zM418.7 105.4zM416.9 104.8zM415.5 105.5zM417.0 92.5zM416.5 92.2zM418.6 91.7zM418.1 99.5zM421.0 96.0zM416.4 106.9zM418.2 97.6zM413.9 80.1zM420.4 92.1zM415.6 99.5zM416.8 105.8zM414.0 91.7zM412.5 88.8zM408.4 103.4zM424.8 98.3zM420.8 120.0zM413.7 96.5zM415.4 107.8zM411.2 94.3zM418.8 86.8zM417.7 103.3zM418.8 98.4zM414.3 109.7zM418.4 106.2zM416.2 76.7zM411.8 101.8zM420.5 94.6zM414.6 97.9zM418.6 97.0zM418.8 85.6zM419.5 113.2zM419.3 68.9zM416.3 98.7zM410.6 88.5zM417.8 82.8zM424.9 81.6zM415.3 91.1zM418.8 83.3zM416.7 95.5zM415.2 96.9zM416.7 94.0zM421.2 72.7zM419.3 100.9zM416.6 101.8zM417.5 93.1zM408.9 103.6zM411.0 102.0zM408.5 87.3zM415.7 112.4zM420.8 101.7zM420.2 107.6zM414.3 97.8zM418.0 112.0zM417.4 102.4zM421.3 95.1zM411.1 80.9zM411.6 93.7zM416.5 87.1zM414.3 86.7zM411.1 107.0zM415.4 114.4zM422.9 107.5zM417.2 111.3zM413.6 89.3zM419.6 110.8zM412.3 87.4zM416.3 85.2zM415.4 93.8zM417.6 92.6zM416.5 102.8zM418.2 104.3zM413.9 99.9zM416.6 107.1zM419.3 91.0zM413.0 87.7zM419.8 103.9zM417.2 115.1zM411.7 106.7zM418.8 94.0zM417.0 108.5zM412.8 98.1zM417.8 98.0zM411.6 98.2zM413.0 97.0zM413.6 115.8zM417.9 110.3zM422.2 109.9zM415.9 86.4zM417.7 120.8zM417.3 88.9zM417.7 109.5zM419.4 59.6zM415.6 102.0zM418.2 109.6zM418.4 99.9zM414.1 90.4zM417.8 83.6zM421.3 103.6zM409.2 110.9zM414.6 110.9zM420.2 96.5zM419.0 116.7zM416.8 110.5zM417.7 114.5zM413.9 105.9zM417.9 114.0zM417.3 101.3zM417.7 103.7zM414.5 90.3zM416.7 76.8zM410.6 99.3zM418.7 97.6zM421.3 88.9zM412.6 94.4zM416.1 94.1zM410.3 105.8zM418.9 94.4zM414.5 100.0zM416.1 129.6zM413.7 83.7zM412.8 96.6zM418.0 122.0zM417.0 89.6zM419.3 106.1zM418.5 90.4zM413.3 96.0zM422.0 101.3zM409.4 105.5zM418.3 107.0zM418.5 91.5zM421.1 95.7zM411.8 99.1zM417.4 105.9zM412.4 88.3zM423.5 96.4zM408.7 90.3zM417.0 107.2zM418.0 114.7zM413.8 68.5zM413.3 92.7zM425.8 103.6zM414.5 94.9zM415.0 75.7zM417.4 110.1zM416.2 111.2zM410.7 101.1zM412.4 89.9zM413.5 97.7zM414.7 93.6zM417.4 95.6zM415.2 105.7zM415.4 111.5zM418.1 106.3zM415.2 95.1zM417.1 92.1zM418.2 107.1zM415.8 83.4zM415.6 88.0zM420.0 103.4zM419.1 90.4zM426.6 100.0zM418.4 95.9zM417.2 104.0zM419.3 109.5zM417.9 98.4zM419.4 97.5zM415.5 108.6zM414.0 112.4zM410.1 106.0zM419.6 94.8zM411.8 114.9zM421.4 90.1zM414.0 94.6zM412.9 97.1zM413.5 110.3zM414.6 88.8zM418.4 91.7zM416.7 109.3zM414.6 127.0zM423.8 96.2zM409.8 90.6zM417.2 86.4zM418.0 112.4zM418.6 96.4zM422.9 117.7zM417.2 90.7zM410.8 94.4zM421.0 100.7zM413.7 93.4zM413.4 96.5zM417.6 108.8zM413.6 93.6zM415.2 85.1zM417.8 92.5zM412.4 108.8zM418.4 101.0zM412.0 109.8zM413.9 99.1zM410.6 101.3zM418.4 100.3zM419.7 100.9zM416.8 97.1zM416.5 75.0zM413.2 113.6zM422.6 119.0zM414.7 102.6zM415.2 108.5zM417.7 94.2zM413.9 100.1zM412.1 116.9zM423.2 88.6zM416.2 116.5zM413.8 113.0zM417.5 79.7zM412.8 102.5zM411.3 113.8zM408.3 98.1zM417.1 106.8zM422.3 83.5zM411.2 109.2zM417.5 105.7zM411.4 114.8zM420.8 88.3zM416.4 102.0zM419.2 106.4zM414.7 96.9zM413.6 101.9zM415.0 116.1zM418.6 100.7zM416.5 87.1zM412.9 101.3zM422.2 95.3zM417.6 93.5zM417.1 111.9zM415.4 99.4zM416.1 89.9zM417.9 85.9zM413.7 99.1zM427.1 112.6zM415.5 104.7zM412.6 106.4zM419.1 85.3zM414.8 109.0zM414.1 93.6zM411.1 112.3zM414.2 113.9zM416.2 99.2zM411.2 83.1zM416.4 110.5zM421.2 102.0zM417.7 98.4zM415.8 91.0zM412.9 91.3zM420.1 102.1zM416.0 99.0zM422.2 111.2zM410.6 75.8zM415.3 99.3zM417.0 117.3zM416.6 107.3zM417.8 85.5zM418.5 107.0zM408.9 92.6zM421.6 91.6zM418.5 91.6zM421.7 86.2zM417.8 97.3zM416.9 103.2zM407.4 94.9zM417.6 90.3zM412.1 100.6zM420.8 87.6zM413.5 96.5zM417.8 94.5zM418.5 109.9zM416.2 99.1zM414.0 131.7zM425.9 99.7zM411.8 113.4zM414.4 99.3zM412.9 98.9zM420.4 77.2zM418.9 107.2zM415.5 90.7zM413.9 97.1zM415.3 101.3zM419.0 109.6zM421.4 77.6zM414.9 101.1zM416.2 101.3zM423.9 89.9zM422.0 95.6zM417.5 98.3zM415.5 105.1zM418.0 89.2zM415.0 92.4zM417.5 109.9zM418.1 98.0zM418.5 85.6zM417.4 116.2zM420.1 104.4zM419.2 100.9zM416.5 93.4zM413.8 114.8zM415.3 88.0zM422.5 96.2zM418.3 110.5zM421.6 98.5zM413.7 95.4zM420.2 108.4zM424.9 105.3zM413.6 99.3zM421.3 89.8zM415.0 101.1zM416.6 94.1zM414.8 108.7zM416.1 95.8zM416.8 116.0zM412.4 126.3zM418.5 124.0zM415.3 101.8zM414.4 96.5zM422.9 90.0zM418.7 94.1zM414.0 98.7zM416.7 72.5zM414.9 91.8zM410.8 87.6zM419.2 87.6zM411.6 95.5zM415.8 125.2zM409.4 92.5zM418.1 128.9zM415.3 92.6zM417.6 91.3zM416.5 105.6zM417.2 103.6zM416.3 119.0zM414.0 101.0zM409.9 106.1zM422.7 96.7zM414.8 86.9zM421.5 102.9zM419.3 121.4zM415.6 108.9zM414.4 100.5zM418.2 97.2zM418.4 93.1zM417.0 124.5zM416.9 102.0zM418.1 98.5zM415.0 87.0zM412.1 92.0zM418.4 96.5zM413.6 108.2zM418.0 105.9zM415.5 68.6zM412.7 92.6zM412.3 113.2zM413.2 113.5zM415.3 120.6zM415.9 114.1zM418.9 107.3zM415.1 97.6zM414.8 104.8zM413.0 106.8zM417.6 101.9zM412.8 102.7zM414.8 101.9zM418.1 104.0zM419.3 104.9zM419.3 104.5zM418.8 96.3zM417.5 96.5zM416.3 108.3zM420.6 88.9zM415.9 97.2zM411.3 105.0zM417.7 120.8zM415.1 94.7zM418.6 80.6zM415.9 91.7zM414.0 115.6zM418.3 93.8zM416.4 114.8zM413.8 76.7zM411.4 83.5zM413.2 95.0zM419.7 103.3zM421.8 116.6zM419.0 83.3zM412.9 99.6zM414.7 110.0zM416.1 111.0zM417.9 101.4zM413.5 104.9zM419.2 95.6zM419.4 108.9zM414.1 112.1zM414.3 99.4zM418.6 115.6zM419.7 100.7zM418.5 92.1zM412.8 107.8zM411.0 113.9zM417.1 99.3zM419.8 104.9zM418.9 95.4zM413.1 107.0zM417.9 91.0zM418.3 89.5zM414.2 119.6zM412.0 107.1zM423.4 87.3zM418.0 97.1zM419.3 91.0zM423.9 108.7zM418.4 93.9zM414.1 87.2zM415.4 96.2zM421.0 75.6zM417.0 96.1zM414.8 81.5zM422.7 90.3zM417.4 108.8zM418.1 116.3zM419.9 109.6zM411.2 109.9zM415.4 73.1zM417.4 90.6zM416.0 108.9zM419.1 109.9zM413.4 96.7zM413.2 91.6zM416.6 109.8zM416.4 87.9zM411.9 94.2zM417.3 87.3zM420.9 76.7zM415.5 102.1zM413.4 112.9zM422.9 107.2zM423.3 91.5zM415.9 107.9zM419.4 88.4zM414.5 66.3zM416.5 94.7zM412.5 106.4zM416.2 81.1zM421.7 96.5zM417.4 101.3zM419.4 103.8zM411.5 118.6zM418.3 89.6zM416.5 91.0zM419.4 103.0zM413.6 113.1zM416.9 102.7zM410.4 95.3zM414.3 97.6zM420.8 118.4zM417.1 109.7zM413.1 107.9zM420.4 103.2zM418.4 113.4zM416.2 108.5zM417.7 104.7zM415.7 96.5zM418.7 98.3zM422.7 104.2zM410.3 80.7zM417.7 91.9zM408.1 87.6zM416.4 105.8zM413.7 119.3zM418.6 111.0zM417.3 102.8zM419.8 84.8zM417.3 122.9zM420.1 107.2zM411.7 114.3zM411.9 104.7zM410.2 109.0zM414.8 115.2zM413.9 95.7zM421.1 109.4zM420.4 75.4zM418.1 112.2zM416.8 109.2zM419.3 101.5zM413.1 112.2zM414.5 107.0zM422.0 102.8zM416.8 92.6zM416.7 102.4zM414.6 94.3zM418.8 113.4zM420.0 98.4zM421.2 104.5zM415.5 107.0zM417.9 105.0zM415.2 102.7zM417.9 103.9zM417.2 96.4zM414.8 106.8zM414.9 104.7zM421.1 99.0zM419.4 95.2zM415.8 123.4zM416.0 99.8zM418.9 120.6zM415.2 113.9zM418.8 93.1zM417.7 104.9zM414.8 97.4zM408.8 100.7zM420.9 104.1zM420.0 121.8zM410.2 97.0zM417.1 116.7zM413.6 92.1zM417.8 103.4zM423.1 107.2zM425.4 103.6zM418.7 79.3zM419.4 98.0zM415.0 86.2zM419.0 104.1zM418.8 102.0zM419.9 93.0zM416.3 114.2zM414.6 111.4zM419.6 96.1zM419.5 133.2zM417.5 125.0zM420.6 126.5zM416.5 130.8zM412.7 112.4zM420.8 131.5zM419.0 123.0zM411.4 118.7zM417.0 133.5zM419.3 113.5zM418.1 120.7zM418.0 118.4zM421.4 106.9zM415.1 131.0zM416.1 124.6zM416.2 108.8zM417.8 130.5zM416.2 119.1zM414.6 120.8zM414.7 125.0zM415.2 115.9zM417.0 129.6zM418.6 124.6zM420.6 123.5zM411.7 117.9zM415.2 118.5zM416.2 122.2zM417.6 113.7zM417.4 127.2zM419.0 131.4zM418.1 117.3zM413.8 122.8zM418.5 120.4zM413.7 109.9zM416.5 102.1zM417.1 119.7zM419.9 121.7zM414.5 115.8zM412.2 133.6zM415.7 116.7zM421.4 114.2zM419.4 126.6zM413.8 123.8zM415.2 105.2zM420.9 118.5zM422.9 121.1zM416.4 124.4zM411.6 116.6zM418.7 116.7zM419.5 129.6zM414.9 106.7zM416.8 126.0zM418.7 112.6zM415.7 128.1zM416.0 115.5zM416.5 127.6zM420.2 124.0zM421.2 115.5zM417.1 131.6zM418.2 117.6zM418.2 113.3zM414.7 118.9zM420.9 115.1zM415.1 119.5zM414.1 110.9zM415.5 128.6zM415.5 119.0zM412.8 131.1zM410.5 133.7zM415.2 119.4zM416.9 127.3zM413.4 119.7zM416.6 113.4zM414.6 131.9zM417.0 115.0zM414.8 118.2zM414.6 106.8zM416.4 125.0zM417.4 132.3zM415.0 118.7zM418.9 126.5zM415.3 120.0zM413.6 115.6zM418.6 119.5zM416.0 123.4zM416.5 118.6zM422.2 107.9zM413.8 132.2zM420.5 133.5zM417.5 116.4zM417.8 126.8zM420.7 126.8zM422.0 127.5zM418.5 121.7zM419.9 126.0zM417.1 130.2zM414.4 125.1zM416.2 117.0zM418.1 129.2zM419.1 123.9zM420.8 119.0zM413.7 115.8zM417.5 130.3zM417.2 120.7zM418.8 132.1zM411.9 122.3zM420.1 124.3zM422.4 110.4zM417.0 131.3zM413.6 130.6zM412.2 108.2zM419.0 130.8zM422.4 128.7zM419.9 127.1zM415.7 123.4zM412.1 128.3zM414.5 105.8zM416.1 125.0zM414.7 128.0zM412.4 125.7zM420.4 132.3zM418.9 122.4zM412.7 119.7zM424.2 111.6zM422.3 128.2zM417.5 123.8zM411.9 118.1zM420.8 119.7zM416.1 125.1zM420.2 111.0zM418.2 124.0zM416.7 104.8zM415.9 116.5zM412.4 132.9zM417.5 130.7zM416.9 123.4zM415.1 128.5zM409.6 127.8zM413.2 110.0zM417.7 118.8zM422.9 122.4zM413.5 126.8zM414.7 118.9zM417.6 120.6zM416.0 124.6zM413.2 120.6zM419.2 120.8zM415.3 116.9zM416.0 99.1zM412.5 121.4zM410.5 125.6zM416.9 115.5zM416.1 125.7zM416.1 129.8zM415.9 120.2zM421.2 109.3zM414.4 130.4zM415.0 120.3zM416.9 131.9zM416.9 125.6zM417.6 111.0zM416.0 126.6zM413.6 123.3zM420.2 117.4zM417.9 121.9zM419.3 116.5zM413.9 122.5zM421.5 120.1zM414.3 122.1zM415.9 124.4zM422.3 128.2zM421.6 99.3zM409.9 129.9zM420.9 114.1zM421.4 114.5zM415.0 126.9zM419.0 108.2zM416.2 120.8zM418.3 122.7zM419.4 125.7zM411.1 116.7zM420.2 126.0zM418.1 129.2zM411.5 124.9zM420.5 123.1zM420.4 114.3zM412.8 96.7zM418.3 116.3zM415.1 128.5zM417.0 114.0zM420.8 125.4zM418.0 131.6zM416.0 124.2zM419.2 128.2zM419.2 119.2zM421.6 123.6zM415.3 123.6zM418.0 101.9zM411.7 116.9zM420.9 115.2zM412.9 121.2zM418.4 107.9zM411.1 126.5zM418.4 123.4zM414.7 118.0zM420.8 109.6zM419.3 129.3zM413.4 123.8zM414.2 130.1zM421.3 122.0zM412.5 114.5zM421.1 114.8zM418.4 124.4zM413.0 128.1zM413.5 125.9zM418.2 120.7zM416.3 124.4zM420.3 118.3zM419.7 117.7zM413.8 119.1zM413.8 125.5zM414.3 122.5zM414.6 125.7zM414.7 118.6zM418.7 128.9zM410.0 130.3zM420.9 131.8zM418.9 129.6zM415.0 116.4zM419.4 123.9zM418.4 116.2zM415.4 130.7zM421.5 125.9zM416.4 123.5zM416.5 121.9zM418.6 113.0zM414.6 125.1zM421.2 126.5zM414.0 115.0zM419.7 128.8zM421.3 120.5zM417.2 123.0zM421.2 121.8zM421.7 119.9zM418.0 132.8zM420.9 112.5zM421.1 119.7zM416.7 131.2zM423.1 126.6zM416.6 102.8zM419.1 109.7zM417.3 121.7zM415.3 110.0zM418.9 131.6zM419.0 124.9zM415.1 116.7zM418.4 125.2zM415.7 129.5zM413.9 110.0zM422.0 117.9zM420.5 116.1zM416.6 129.8zM418.2 124.9zM417.5 112.5zM417.3 121.4zM421.8 115.6zM418.1 128.9zM412.5 114.8zM422.1 122.2zM418.5 113.8zM418.9 125.3zM415.3 126.4zM415.5 117.6zM410.5 119.9zM411.7 123.9zM415.4 128.6zM415.9 130.3zM418.4 126.8zM422.9 123.4zM421.1 116.6zM414.4 133.4zM418.3 129.8zM416.3 131.5zM417.6 123.4zM417.3 125.3zM418.7 112.7zM411.8 113.1zM419.8 112.9zM415.6 127.9zM414.8 132.4zM419.0 114.4zM419.3 126.2zM417.0 125.1zM419.8 118.8zM413.4 121.9zM418.3 124.8zM418.7 120.8zM419.6 130.7zM419.5 106.9zM422.3 131.5zM415.9 113.0zM414.1 107.7zM415.1 133.7zM418.3 121.6zM418.1 124.5zM417.6 128.0zM413.8 112.9zM420.5 114.5zM414.4 127.7zM418.4 128.1zM415.4 123.9zM417.4 122.7zM415.0 115.1zM415.4 121.9zM415.2 118.0zM416.1 126.8zM414.2 115.5zM419.7 129.9zM416.4 116.0zM419.0 120.0zM417.1 132.6zM416.6 122.8zM412.7 133.1zM413.2 125.2zM416.1 110.7zM413.2 113.0zM418.9 114.1zM415.5 105.0zM413.9 123.7zM416.1 132.9zM416.1 110.9zM422.8 120.2zM420.4 119.1zM416.8 106.5zM414.9 104.0zM412.6 121.9zM418.4 125.7zM420.1 119.9zM416.5 109.1zM416.6 125.2zM414.8 123.7zM416.6 115.5zM418.5 114.9zM419.7 130.8zM413.7 116.3zM413.9 105.6zM417.2 121.7zM408.4 116.2zM419.9 123.3zM415.8 130.0zM417.3 114.9zM419.1 123.2zM411.3 121.6zM420.4 121.9zM418.7 105.7zM409.5 113.5zM413.6 120.0zM423.5 116.7zM419.0 129.2zM420.4 133.1zM416.8 121.4zM411.8 131.5zM414.3 131.7zM422.3 120.3zM420.0 120.9zM416.2 127.1zM418.9 112.0zM414.8 124.6zM412.8 112.1zM419.7 119.3zM417.6 123.0zM418.7 121.7zM418.3 130.1zM420.7 110.1zM415.4 127.4zM415.6 122.9zM419.4 120.9zM420.5 124.5zM413.5 125.8zM412.3 126.3zM414.8 104.8zM417.5 116.1zM417.8 130.4zM413.7 111.7zM421.9 121.2zM410.1 112.4zM417.5 130.1zM415.7 132.3zM418.7 116.5zM419.5 125.7zM413.2 110.9zM417.4 124.1zM419.0 124.6zM416.5 133.0zM418.4 124.9zM418.8 132.3zM420.8 130.7zM419.2 131.7zM421.2 119.7zM417.6 129.6zM422.3 112.0zM413.2 121.8zM418.0 129.4zM417.9 129.2zM417.9 123.4zM415.1 114.9zM418.3 124.9zM414.1 105.4zM415.7 133.3zM414.2 130.0zM419.5 111.9zM417.3 125.0zM413.9 124.3zM412.1 120.3zM416.3 132.4zM417.2 123.9zM423.0 106.3zM420.1 103.3zM420.6 124.1zM419.0 113.4zM423.8 111.3zM421.3 130.7zM415.5 107.0zM414.3 117.5zM418.5 119.6zM418.9 128.8zM420.3 117.6zM410.9 127.8zM415.5 121.8zM412.6 111.3zM420.1 125.3zM418.7 124.8zM420.0 118.4zM417.2 110.6zM410.7 119.0zM417.5 106.8zM418.3 112.8zM415.5 122.2zM418.2 114.6zM416.6 123.4zM418.8 113.8zM412.6 130.3zM419.8 124.7zM425.6 121.5zM412.8 112.2zM414.1 120.6zM418.1 125.2zM415.8 104.7zM420.3 131.4zM416.8 123.3zM419.4 115.7zM414.3 126.8zM415.2 133.1zM417.7 121.0zM415.5 127.6zM411.0 128.5zM419.7 121.0zM423.0 118.9zM414.8 130.4zM422.4 122.8zM417.1 117.0zM417.4 118.7zM421.1 120.4zM414.8 125.5zM423.4 131.1zM414.2 122.4zM419.7 110.0zM419.8 118.5zM413.3 130.2zM419.2 130.3zM415.6 131.3zM418.6 120.5zM419.2 121.5zM410.9 131.0zM419.7 117.9zM419.6 111.6zM414.6 113.2zM411.6 124.7zM418.6 120.6zM420.2 112.5zM415.0 133.4zM416.1 127.7zM417.9 128.4zM415.8 130.4zM415.7 128.4zM413.2 131.1zM415.2 127.0zM417.5 119.2zM418.0 130.7zM422.0 110.2zM419.4 113.2zM415.0 124.4zM416.4 122.9zM415.9 129.6zM407.2 118.0zM419.4 124.6zM419.1 120.7zM422.3 117.7zM415.4 129.9zM414.3 123.6zM418.5 123.3zM421.0 118.0zM420.6 115.7zM412.5 111.7zM418.8 103.8zM410.5 129.9zM417.0 106.5zM410.8 112.3zM417.8 121.5zM418.7 111.7zM422.1 122.2zM415.8 119.8zM419.5 104.0zM416.5 130.1zM417.1 123.2zM412.5 122.1zM411.5 104.7zM423.0 123.3zM414.0 121.6zM416.2 132.1zM417.1 129.7zM418.3 113.0zM421.0 117.7zM427.7 121.9zM417.8 119.9zM419.9 122.5zM419.2 125.1zM416.2 129.0zM420.1 122.7zM415.5 109.7zM413.2 129.0zM418.9 120.0zM421.7 126.8zM413.4 130.9zM419.7 110.0zM419.3 109.8zM415.0 123.2zM414.5 122.0zM408.4 127.6zM415.8 113.6zM419.6 131.1zM420.8 127.7zM424.3 109.9zM415.7 121.9zM420.7 128.6zM420.6 132.5zM409.8 121.7zM418.0 114.0zM415.5 123.3zM423.5 115.2zM418.4 119.8zM420.0 126.5zM415.4 118.2zM416.8 130.0zM411.0 129.0zM416.2 129.4zM415.1 126.8zM414.2 123.8zM419.8 130.5zM418.0 133.0zM416.5 109.8zM415.4 131.2zM419.9 125.0zM411.5 129.0zM415.2 112.1zM420.2 131.1zM420.0 133.2zM415.0 115.8zM419.1 126.6zM414.5 126.5zM415.0 132.7zM415.2 112.6zM418.1 127.3zM416.5 117.5zM411.3 109.6zM417.9 119.0zM419.9 115.5zM414.5 111.5zM420.8 132.5zM415.4 123.8zM420.4 119.2zM415.7 120.6zM416.2 117.1zM413.7 129.8zM414.8 128.8zM415.7 133.6zM423.5 127.0zM414.5 126.0zM417.5 110.2zM415.8 129.0zM415.2 131.4zM414.0 119.9zM412.8 102.0zM415.0 123.2zM416.9 128.2zM414.8 129.2zM420.9 120.0zM417.1 128.5zM416.9 122.8zM419.8 126.4zM415.5 106.1zM413.4 111.6zM409.8 119.5zM413.2 125.2zM414.0 117.7zM417.1 125.5zM416.2 127.6zM413.2 107.1zM416.6 117.4zM413.6 133.3zM417.7 129.8zM423.8 105.6zM417.2 124.8zM418.2 129.2zM418.7 131.8zM420.9 107.5zM415.7 126.8zM415.0 127.2zM420.0 110.3zM419.0 128.6zM418.8 118.1zM418.1 124.5zM413.9 131.8zM411.0 119.0zM419.7 121.2zM415.7 111.1zM418.4 125.4zM419.8 132.1zM415.4 115.2zM419.2 127.8zM418.6 124.5zM413.5 131.9zM413.4 129.9zM418.0 115.1zM417.3 116.9zM419.5 118.2zM411.5 109.6zM414.0 125.8zM414.9 108.9zM419.8 117.0zM415.7 108.1zM418.5 115.7zM416.4 128.3zM416.6 131.2zM412.8 123.2zM418.8 120.3zM421.4 126.0zM417.7 132.1zM413.5 112.7zM415.3 131.1zM413.4 124.4zM414.5 126.1zM417.6 123.9zM420.3 123.4zM415.0 114.6zM407.8 128.7zM420.3 114.5zM416.7 128.8zM417.1 130.6zM425.6 124.9zM417.1 122.9zM413.8 122.7zM418.1 109.6zM421.7 120.6zM415.2 125.8zM415.3 110.6zM414.4 130.2zM420.5 120.0zM415.1 128.5zM418.7 118.7zM418.9 109.9zM413.0 120.0zM412.4 126.9zM418.7 113.5zM422.2 116.9zM413.5 116.2zM416.5 127.5zM417.8 125.1zM422.0 129.0zM415.7 109.7zM418.0 128.0zM417.8 124.7zM415.6 125.7zM419.3 123.7zM419.4 123.1zM417.1 123.4zM420.1 119.3zM414.6 121.4zM416.4 110.4zM414.6 120.9zM418.3 114.5zM417.1 119.7zM419.8 108.8zM420.3 128.4zM419.3 129.2zM418.8 116.5zM418.7 108.9zM422.1 132.9zM411.9 128.8zM419.3 128.1zM417.2 130.0zM413.0 126.0zM415.6 120.5zM417.7 110.2zM417.6 123.9zM413.6 123.4zM414.8 111.7zM416.7 123.7zM414.8 118.1zM413.9 124.3zM419.5 123.4zM415.8 121.6zM417.5 117.6zM414.9 112.7zM421.8 123.1zM412.7 101.7zM424.2 108.5zM415.4 127.8zM411.8 120.6zM416.6 123.9zM417.1 123.4zM419.9 112.1zM418.6 119.8zM418.8 129.3zM419.8 128.4zM419.6 119.2z" stroke="#111" stroke-width="0.75" stroke-opacity="0.46" stroke-linecap="square" fill="none" filter="url(#bl)"/>
<rect x="363.10" y="47.20" width="88.30" height="87.50" fill="none" stroke="#505050" stroke-width="1"/>
<line x1="400.40" y1="47.20" x2="400.40" y2="134.70" stroke="#505050" stroke-width="1"/>
<line x1="363.10" y1="102.00" x2="451.40" y2="102.00" stroke="#505050" stroke-width="1"/>
<path d="M372.8 134.7v2.6M382.8 134.7v2.6M402.9 134.7v2.6M424.0 134.7v2.6M444.1 134.7v2.6M388.9 134.7v1.5M392.4 134.7v1.5M394.9 134.7v1.5M396.8 134.7v1.5M398.4 134.7v1.5M399.8 134.7v1.5M401.0 134.7v1.5M402.0 134.7v1.5M409.3 134.7v1.5M413.0 134.7v1.5M415.6 134.7v1.5M417.6 134.7v1.5M419.3 134.7v1.5M420.7 134.7v1.5M422.0 134.7v1.5M423.0 134.7v1.5M430.1 134.7v1.5M433.6 134.7v1.5M436.1 134.7v1.5M438.0 134.7v1.5M439.6 134.7v1.5M441.0 134.7v1.5M442.2 134.7v1.5M443.2 134.7v1.5M363.1 55.2h-2.6M363.1 76.0h-2.6M363.1 96.0h-2.6M363.1 116.6h-2.6M363.1 126.0h-2.6M363.1 69.7h-1.5M363.1 66.1h-1.5M363.1 63.5h-1.5M363.1 61.5h-1.5M363.1 59.8h-1.5M363.1 58.4h-1.5M363.1 57.2h-1.5M363.1 56.2h-1.5M363.1 90.0h-1.5M363.1 86.5h-1.5M363.1 84.0h-1.5M363.1 82.0h-1.5M363.1 80.4h-1.5M363.1 79.1h-1.5M363.1 77.9h-1.5M363.1 76.9h-1.5M363.1 110.4h-1.5M363.1 106.8h-1.5M363.1 104.2h-1.5M363.1 102.2h-1.5M363.1 100.6h-1.5M363.1 99.2h-1.5M363.1 98.0h-1.5M363.1 96.9h-1.5" stroke="#333" stroke-width="0.8" fill="none"/>
<text x="372.80" y="144.70" font-size="4.9" text-anchor="middle" fill="#222">0</text>
<text x="382.80" y="144.70" font-size="4.9" text-anchor="middle" fill="#222">10<tspan font-size="3.4" dy="-1.9">2</tspan></text>
<text x="402.90" y="144.70" font-size="4.9" text-anchor="middle" fill="#222">10<tspan font-size="3.4" dy="-1.9">3</tspan></text>
<text x="424.00" y="144.70" font-size="4.9" text-anchor="middle" fill="#222">10<tspan font-size="3.4" dy="-1.9">4</tspan></text>
<text x="444.10" y="144.70" font-size="4.9" text-anchor="middle" fill="#222">10<tspan font-size="3.4" dy="-1.9">5</tspan></text>
<text x="359.90" y="57.20" font-size="4.9" text-anchor="end" fill="#222">10<tspan font-size="3.4" dy="-1.9">5</tspan></text>
<text x="359.90" y="78.00" font-size="4.9" text-anchor="end" fill="#222">10<tspan font-size="3.4" dy="-1.9">4</tspan></text>
<text x="359.90" y="98.00" font-size="4.9" text-anchor="end" fill="#222">10<tspan font-size="3.4" dy="-1.9">3</tspan></text>
<text x="359.90" y="118.60" font-size="4.9" text-anchor="end" fill="#222">10<tspan font-size="3.4" dy="-1.9">2</tspan></text>
<text x="359.10" y="128.00" font-size="4.9" text-anchor="end" fill="#222">0</text>
<rect x="364.10" y="47.90" width="20.69" height="10.30" fill="#fff"/>
<rect x="364.10" y="123.20" width="20.69" height="10.80" fill="#fff"/>
<rect x="430.31" y="123.20" width="20.09" height="10.80" fill="#fff"/>
<text x="364.60" y="56.60" font-size="9.5">15.6</text>
<text x="449.50" y="56.60" font-size="9.5" text-anchor="end">21.8</text>
<text x="365.00" y="131.50" font-size="9.5">31.2</text>
<text x="449.30" y="131.50" font-size="9.5" text-anchor="end">31.4</text>
<text x="456.80" y="61.20" font-size="10.4">IL-12/IL-18</text>
<path d="M382.2 169.1zM377.3 168.1zM387.0 177.8zM386.5 164.6zM371.8 167.4zM366.8 182.8zM378.2 182.6zM386.1 188.3zM375.0 183.7zM371.5 166.6zM379.9 169.3zM377.2 173.4zM387.5 181.6zM382.7 170.9zM381.1 176.6zM376.7 190.4zM376.9 171.3zM384.2 168.0zM386.7 170.1zM389.4 167.8zM384.6 177.4zM388.7 158.4zM369.4 183.3zM383.8 166.2zM380.0 177.0zM377.2 172.8zM393.0 176.1zM383.7 166.7zM377.1 186.4zM390.8 177.3zM380.7 175.7zM375.4 168.8zM385.6 177.1zM385.2 176.7zM375.6 159.8zM390.5 169.7zM394.2 171.7zM389.2 174.7zM377.7 173.6zM391.6 180.0zM391.0 192.1zM383.4 186.5zM390.3 172.9zM377.4 180.6zM381.0 177.7zM382.8 174.9zM380.8 174.5zM376.9 161.5zM369.2 178.6zM389.4 185.0zM371.0 179.2zM382.4 169.0zM389.5 178.7zM378.8 162.4zM388.0 167.8zM396.8 171.2zM387.6 174.2zM391.2 159.6zM389.0 186.2zM389.9 158.0zM381.6 169.2zM388.4 183.3zM381.2 174.9zM370.3 178.0zM394.8 177.6zM386.2 189.4zM384.4 166.8zM380.6 171.6zM384.6 171.6zM375.0 182.1zM387.6 183.2zM377.5 178.8zM378.1 159.8zM380.4 176.0zM373.3 181.5zM373.3 167.0zM387.3 176.3zM393.0 177.0zM383.4 175.8zM382.2 180.2zM378.0 170.2zM381.8 170.1zM395.8 172.4zM381.8 160.9zM387.8 174.1zM378.0 174.2zM390.9 167.5zM383.4 171.3zM384.4 170.7zM382.7 173.2zM375.8 174.6zM374.5 167.9zM387.1 185.0zM387.9 175.3zM384.6 175.3zM376.5 168.9zM384.8 173.1zM391.2 174.7zM387.0 178.9zM373.3 166.3zM382.2 184.0zM381.3 166.2zM385.7 186.3zM385.8 166.4zM375.4 168.5zM378.8 168.3zM373.8 177.2zM377.5 174.9zM386.3 183.7zM378.4 172.8zM381.9 182.1zM377.6 168.7zM381.3 173.4zM371.9 164.7zM385.2 192.3zM380.3 173.2zM386.1 168.9zM382.6 171.1zM376.1 173.3zM389.8 168.3zM390.5 168.1zM384.9 173.2zM384.5 159.8zM384.6 162.0zM379.3 179.2zM379.1 175.8zM388.0 173.7zM380.1 165.1zM381.5 178.2zM375.1 179.8zM399.7 177.3zM387.7 184.0zM379.5 174.2zM396.9 176.5zM378.5 173.6zM387.2 168.9zM371.9 173.4zM385.0 178.8zM390.6 168.5zM370.5 169.5zM380.8 178.7zM368.4 171.9zM381.5 177.8zM374.0 167.4zM381.5 172.7zM379.3 170.4zM387.2 171.9zM371.0 167.5zM386.3 183.2zM376.8 174.4zM387.3 170.3zM376.6 183.2zM389.7 166.8zM388.1 169.0zM390.8 178.3zM378.6 175.5zM388.4 175.2zM372.3 176.5zM383.5 174.6zM386.9 167.3zM384.9 184.0zM389.9 183.3zM375.4 180.4zM386.4 167.3zM379.0 169.2zM371.2 182.4zM382.2 168.5zM372.8 170.7zM381.6 172.2zM371.2 170.3zM374.5 174.1zM383.1 157.6zM385.0 167.4zM372.8 158.4zM382.9 172.2zM372.7 176.3zM384.1 167.4zM382.5 174.5zM383.2 176.4zM376.0 178.0zM384.7 173.6zM381.6 175.1zM373.8 184.0zM381.6 173.0zM378.9 179.7zM388.9 171.1zM375.3 167.9zM383.4 171.4zM387.9 188.3zM380.8 156.7zM377.3 176.0zM375.2 166.0zM371.3 164.9zM386.4 163.4zM397.2 174.0zM384.3 175.3zM380.5 168.3zM383.0 183.7zM371.8 160.0zM376.0 179.7zM386.7 168.5zM382.6 171.7zM386.8 175.5zM375.0 172.9zM391.0 169.6zM378.9 159.8zM383.3 170.6zM377.8 172.2zM388.8 153.7zM382.7 175.1zM380.4 183.2zM375.2 161.9zM376.0 181.9zM380.0 168.0zM396.2 173.1zM374.9 167.1zM389.5 158.5zM372.0 159.6zM397.8 184.8zM375.8 166.2zM387.7 188.0zM376.7 166.4zM379.1 170.5zM380.9 177.8zM375.5 164.4zM374.2 179.9zM376.6 179.9zM384.0 182.5zM374.7 172.8zM388.4 175.9zM380.6 165.4zM367.6 184.9zM393.1 180.3zM384.0 169.4zM381.8 186.0zM367.4 167.5zM374.4 179.0zM370.2 180.2zM373.5 178.8zM381.8 163.4zM384.6 163.0zM391.2 172.9zM381.1 174.8zM380.5 178.6zM380.3 171.8zM386.6 151.1zM390.7 165.9zM373.5 173.6zM372.9 158.0zM371.6 170.8zM382.0 191.6zM392.4 172.2zM384.0 167.2zM386.6 178.0zM377.5 164.7zM384.1 170.3zM378.4 173.1zM384.0 157.9zM379.7 177.3zM382.9 172.7zM390.8 172.8zM374.8 169.4zM384.2 178.1zM380.6 171.9zM373.2 163.8zM388.3 175.0zM390.4 173.5zM384.9 164.4zM382.0 170.2zM383.3 184.9zM386.8 165.3zM392.7 173.3zM379.3 173.6zM387.9 164.3zM383.8 162.0zM376.3 177.3zM384.7 172.7zM380.1 168.4zM386.0 169.5zM379.8 166.0zM377.9 190.2zM377.6 172.5zM380.9 166.1zM386.9 167.7zM383.9 175.4zM383.5 163.0zM377.8 166.4zM375.8 170.0zM387.4 163.6zM381.9 168.4zM380.6 180.0zM374.5 172.0zM394.2 171.2zM381.8 171.1zM380.4 183.9zM389.3 164.6zM379.6 164.2zM384.9 168.2zM388.5 163.4zM382.8 179.0zM385.4 179.0zM382.9 167.6zM379.1 174.1zM386.2 175.5zM388.8 172.9zM388.2 159.8zM378.3 184.7zM389.4 166.8zM375.5 163.6zM376.0 150.5zM372.5 184.7zM382.0 173.1zM382.2 169.0zM374.9 177.1zM379.5 164.1zM379.8 177.2zM389.6 176.2zM385.0 169.0zM378.4 167.3zM373.3 167.1zM373.5 167.6zM395.0 181.7zM382.3 182.3zM388.4 178.4zM385.8 164.0zM386.7 172.1zM381.3 165.3zM376.1 171.8zM374.2 173.7zM388.5 181.5zM370.5 179.1zM374.3 177.1zM386.9 170.2zM379.0 187.0zM385.9 169.2zM381.8 174.7zM387.0 174.1zM383.5 167.7zM372.8 176.2zM390.7 176.3zM377.8 165.6zM386.0 177.5zM383.1 184.8zM384.2 176.0zM367.1 168.9zM379.6 186.8zM394.9 178.7zM389.3 179.2zM377.2 177.8zM392.2 172.1zM390.0 163.8zM385.7 169.3zM381.0 170.2zM385.0 172.3zM381.0 172.7zM391.7 177.3zM382.9 173.9zM386.2 165.8zM377.9 167.5zM395.2 172.7zM390.9 164.7zM378.6 161.2zM397.8 166.0zM379.7 168.1zM371.8 188.0zM374.5 166.0zM384.4 171.3zM384.4 173.1zM379.6 177.2zM383.4 176.2zM376.4 176.6zM381.4 172.4zM381.1 174.8zM381.5 166.5zM374.6 187.8zM376.5 178.0zM380.0 166.8zM373.4 172.8zM378.9 173.4zM390.4 172.9zM391.6 171.0zM379.6 170.6zM383.0 161.5zM391.2 154.3zM387.9 166.7zM382.8 178.5zM380.2 172.1zM397.6 178.9zM387.1 157.6zM373.4 171.2zM370.7 178.0zM386.6 165.8zM380.1 167.2zM392.2 169.1zM371.1 170.5zM373.1 172.3zM383.3 163.4zM374.8 160.2zM390.7 173.4zM386.5 167.4zM391.5 170.0zM370.6 168.8zM387.8 167.5zM373.2 160.6zM389.5 177.4zM375.0 170.5zM397.8 153.3zM380.3 166.6zM381.7 174.4zM388.8 163.9zM385.6 187.7zM381.3 180.7zM404.4 170.0zM379.2 173.0zM373.2 172.8zM390.1 168.9zM384.0 185.0zM378.4 176.4zM378.8 162.4zM384.2 183.7zM390.2 167.0zM388.2 174.2zM370.4 175.2zM381.7 181.0zM380.1 165.5zM387.2 169.0zM374.6 166.0zM381.3 169.7zM385.6 180.6zM382.2 157.4zM384.5 167.9zM394.6 167.9zM389.4 172.1zM372.1 159.3zM391.8 180.0zM389.4 174.7zM375.1 172.7zM381.8 185.4zM379.6 193.5zM388.3 172.4zM377.1 168.1zM381.2 164.9zM388.8 155.7zM378.2 173.3zM379.4 178.7zM389.9 165.2zM378.4 172.9zM402.8 177.8zM380.1 163.7zM369.6 168.0zM389.2 173.1zM383.2 170.5zM385.5 176.0zM387.8 180.7zM395.9 174.9zM390.5 158.7zM377.6 177.1zM390.2 168.9zM384.3 163.2zM374.6 168.6zM378.7 163.2zM395.5 173.4zM377.9 164.5zM388.8 178.0zM381.3 184.8zM386.4 173.7zM375.1 177.2zM380.6 183.2zM370.2 184.2zM394.9 164.6zM384.6 174.0zM373.8 176.5zM380.7 177.9zM386.8 171.5zM380.6 165.7zM373.7 179.1zM372.5 161.9zM385.8 159.6zM387.1 165.0zM365.0 168.7zM377.3 173.6zM377.8 174.1zM381.7 177.1zM386.8 182.7zM389.8 180.6zM378.7 165.9zM375.4 173.9zM376.7 172.0zM391.6 163.1zM381.1 178.4zM388.1 168.6zM385.0 161.4zM397.0 175.2zM371.5 176.0zM379.4 175.7zM378.8 181.4zM391.4 166.7zM380.5 168.9zM386.8 167.5zM366.1 184.6zM380.2 171.8zM388.9 171.2zM389.0 168.8zM379.2 179.3zM375.6 169.7zM378.8 168.8zM381.0 188.8zM393.7 173.1zM378.6 174.7zM385.5 169.5zM390.5 163.4zM380.3 172.8zM374.6 173.2zM378.7 182.0zM383.4 173.0zM383.8 180.6zM379.7 161.7zM388.6 173.3zM373.3 192.8zM379.1 166.8zM381.2 182.8zM382.0 175.7zM375.6 172.5zM382.9 179.9zM381.0 163.1zM379.1 179.2zM382.7 178.7zM386.2 178.8zM386.8 177.3zM380.2 176.9zM385.2 160.8zM399.4 171.1zM388.0 180.5zM392.7 177.2zM379.2 168.5zM389.5 170.7zM387.8 174.1zM376.3 167.5zM382.2 173.4zM380.9 172.2zM380.0 171.7zM376.7 180.3zM386.4 159.3zM382.6 169.0zM388.3 183.4zM371.4 173.3zM387.3 175.7zM378.2 174.3zM389.3 162.8zM383.4 174.2zM382.2 173.3zM375.0 172.3zM381.0 173.7zM368.6 167.0zM380.5 185.8zM381.5 159.7zM379.2 158.4zM382.6 173.1zM381.7 163.9zM387.3 184.3zM383.6 164.8zM392.1 179.1zM378.5 162.4zM385.1 166.9zM387.7 182.5zM382.8 183.0zM384.2 162.7zM392.3 159.6zM385.4 182.9zM382.4 169.3zM387.1 174.9zM374.7 175.5zM382.1 179.4zM377.6 174.3zM387.4 176.1zM379.5 167.1zM386.4 162.0zM381.1 164.1zM385.5 172.2zM389.1 179.0zM371.0 162.5zM390.3 164.9zM374.7 173.9zM383.7 173.2zM387.9 178.1zM386.7 170.5zM398.5 176.5zM378.1 165.4zM383.8 158.3zM380.9 188.4zM373.1 166.2zM384.8 169.0zM368.3 183.5zM387.0 185.6zM375.9 182.1zM389.3 170.6zM374.7 167.0zM384.9 173.5zM387.5 173.0zM396.1 175.0zM382.4 182.0zM369.5 172.0zM391.7 166.4zM394.8 168.1zM375.3 168.5zM388.3 166.0zM380.4 169.3zM374.0 183.0zM388.8 180.9zM387.1 179.3zM393.8 168.2zM380.7 164.1zM375.5 176.7zM378.9 176.1zM368.4 169.4zM382.0 169.3zM379.4 168.6zM385.9 177.8zM389.8 166.7zM386.9 170.9zM387.2 157.1zM390.3 170.6zM398.4 175.4zM387.4 169.7zM374.9 159.7zM380.3 172.3zM384.4 170.2zM377.0 183.0zM369.2 171.6zM372.3 183.8zM385.3 170.9zM383.9 168.2zM378.5 170.5zM390.7 174.4zM369.1 172.8zM383.7 169.1zM385.3 166.0zM390.9 174.2zM389.9 174.6zM381.3 172.0zM371.4 170.0zM374.0 169.6zM386.1 165.7zM381.9 173.9zM382.0 178.1zM392.0 181.0zM377.1 170.2zM386.7 166.5zM375.2 164.7zM389.3 176.4zM400.4 170.0zM400.1 174.1zM391.8 170.5zM385.4 166.4zM382.7 167.3zM382.9 158.1zM385.6 177.9zM397.8 173.0zM373.8 169.3zM380.0 177.5zM373.1 171.2zM381.1 163.5zM378.6 173.0zM382.8 169.9zM375.4 180.9zM380.8 168.7zM378.5 171.8zM373.8 179.0zM383.0 176.6zM392.8 166.1zM371.8 169.2zM365.1 167.1zM384.2 175.2zM379.9 170.9zM381.5 174.0zM383.1 173.1zM376.4 176.5zM376.9 161.3zM382.7 177.1zM371.8 184.9zM376.0 178.2zM378.4 181.8zM384.9 167.9zM392.1 178.3zM380.5 174.5zM377.3 171.3zM385.2 191.7zM373.5 165.0zM375.6 180.6zM379.5 160.9zM381.8 168.5zM381.2 167.2zM369.7 176.9zM383.4 181.2zM384.5 171.8zM377.2 171.9zM391.5 166.1zM378.2 177.5zM382.1 177.5zM381.8 166.6zM384.2 177.3zM375.7 164.7zM382.8 181.4zM376.9 173.6zM375.3 164.5zM390.3 173.5zM372.9 179.3zM379.5 177.7zM371.0 175.4zM377.3 164.7zM375.9 168.4zM392.1 185.2zM377.1 173.7zM373.1 179.4zM366.3 172.2zM380.5 180.8zM379.2 166.8zM382.8 172.7zM377.9 179.2zM377.7 183.1zM376.6 174.0zM367.3 183.6zM394.7 175.6zM379.9 175.4zM383.7 169.4zM386.3 171.2zM391.9 164.8zM381.4 175.3zM390.8 174.5zM379.7 169.1zM375.7 173.5zM386.6 190.7zM371.0 172.5zM380.5 177.4zM381.0 176.6zM386.0 163.4zM377.8 176.8zM373.9 161.7zM375.0 180.7zM382.7 169.4zM373.9 168.9zM382.9 168.1zM390.3 159.8zM380.5 172.4zM377.7 170.3zM373.4 182.9zM392.5 174.9zM401.5 163.8zM388.6 182.1zM395.9 170.4zM375.5 176.4zM381.5 176.1zM377.5 168.5zM391.6 159.6zM371.1 162.8zM386.2 169.0zM372.6 179.4zM379.0 176.8zM383.3 178.3zM380.5 161.2zM382.3 160.5zM383.9 173.6zM389.6 160.9zM380.0 179.7zM385.8 173.6zM379.8 181.1zM392.9 175.1zM381.0 171.2zM381.3 171.2zM381.5 166.2zM384.9 185.5zM389.1 163.5zM384.9 174.8zM382.6 165.9zM376.1 160.6zM382.5 184.2zM392.8 159.9zM382.8 167.1zM391.4 176.8zM378.6 185.0zM389.1 172.4zM393.7 161.4zM382.1 171.3zM374.0 176.2zM383.1 168.4zM381.3 168.6zM369.7 180.7zM380.2 180.6zM378.0 171.1zM391.0 178.6zM381.1 172.4zM390.0 157.5zM379.3 178.4zM383.6 163.6zM366.9 157.8zM375.5 176.0zM386.7 176.7zM373.8 174.8zM398.8 178.1zM371.9 176.9zM385.2 178.2zM378.8 174.1zM376.6 177.2zM371.8 160.8zM374.8 168.5zM374.2 182.1zM387.1 187.0zM382.1 183.4zM375.9 172.4zM380.1 166.1zM373.8 170.5zM378.6 177.2zM384.3 170.4zM373.7 173.2zM377.3 187.0zM376.3 178.8zM380.4 183.5zM395.6 153.7zM388.4 174.6zM387.9 179.3zM376.1 175.2zM380.9 169.9zM383.7 181.0zM378.1 165.5zM385.4 170.4zM388.2 176.6zM368.3 170.2zM386.5 168.8zM380.2 165.6zM383.9 183.4zM372.6 164.8zM384.9 170.9zM386.8 168.1zM372.6 170.3zM384.2 175.6zM376.7 163.8zM379.1 181.4zM374.0 165.2zM376.4 173.0zM384.8 185.8zM376.1 175.5zM381.8 188.4zM380.6 169.5zM378.3 174.7zM379.4 152.9zM391.1 168.3zM382.6 183.3zM400.2 176.6zM397.8 176.1zM375.9 174.3zM380.6 172.1zM384.5 166.1zM382.9 176.6zM382.3 161.6zM372.9 173.1zM385.6 179.6zM374.5 169.0zM381.0 169.5zM381.6 176.4zM371.9 165.6zM388.8 171.8zM405.6 162.8zM380.8 179.5zM382.0 176.1zM384.2 176.1zM385.2 167.3zM378.9 179.7zM378.6 178.2zM377.6 172.1zM386.9 161.4zM390.3 173.7zM378.3 167.1zM381.0 162.2zM387.1 178.5zM391.7 172.7zM370.5 173.9zM385.5 175.9zM380.3 164.3zM370.0 160.5zM392.0 177.7zM374.1 166.0zM394.0 175.9zM390.8 172.5zM379.8 173.8zM385.4 174.6zM387.4 172.5zM384.5 162.3zM382.2 162.0zM391.9 176.1zM387.1 156.7zM380.7 173.7zM374.4 177.6zM388.4 163.5zM387.9 160.1zM381.0 164.6zM391.5 163.6zM389.3 179.1zM394.4 175.7zM380.5 167.2zM380.1 170.3zM374.9 172.7zM369.5 173.2zM390.2 181.8zM378.0 178.6zM367.5 173.6zM381.0 179.1zM382.8 170.4zM378.9 179.2zM384.3 174.8zM391.0 165.2zM379.7 174.1zM380.2 178.8zM389.0 170.0zM388.0 165.3zM379.2 194.1zM382.7 172.2zM385.9 165.1zM396.4 161.4zM382.2 181.8zM384.0 180.4zM387.9 171.3zM389.6 182.3zM382.8 179.6zM396.1 160.1zM380.3 175.3zM382.6 182.2zM375.2 173.8zM374.0 176.6zM381.1 180.3zM386.4 184.7zM393.7 176.5zM374.4 178.8zM379.5 176.9zM389.1 162.4zM388.7 180.7zM383.6 177.5zM384.1 160.7zM385.5 181.7zM378.4 170.0zM392.8 173.0zM385.0 177.9zM379.2 174.6zM388.1 184.6zM386.8 177.1zM375.2 182.2zM377.4 163.9zM384.2 171.3zM389.5 165.0zM386.9 174.8zM379.0 170.4zM383.6 169.6zM393.9 174.8zM371.4 175.6zM395.6 160.8zM373.3 166.0zM384.1 164.9zM381.5 169.4zM364.9 182.5zM400.5 186.4zM383.7 167.9zM395.3 165.2zM373.6 181.1zM377.6 175.6zM381.6 179.0zM378.0 177.8zM386.3 184.9zM389.7 173.9zM377.4 168.6zM375.2 169.8zM380.7 169.2zM388.2 171.3zM385.5 180.6zM385.0 170.8zM375.7 183.1zM384.6 176.2zM377.3 171.7zM379.3 169.9zM387.5 166.1zM371.4 176.7zM381.6 195.1zM376.4 177.0zM382.8 174.3zM376.2 176.9zM369.3 183.9zM378.8 173.4zM385.1 171.2zM378.7 162.7zM386.2 161.8zM393.7 175.6zM372.3 172.7zM381.2 160.8zM386.4 167.8zM389.4 177.0zM388.2 168.6zM385.8 164.6zM377.8 181.0zM373.9 174.5zM377.2 175.3zM371.5 170.9zM384.7 169.3zM385.6 164.6zM385.0 174.9zM386.6 169.5zM383.7 180.9zM375.1 178.9zM381.0 173.8zM388.5 177.8zM385.4 177.6zM381.2 166.2zM383.6 168.0zM386.5 176.9zM384.6 176.8zM372.8 176.2zM389.2 175.1zM377.7 175.9zM390.7 177.1zM388.6 177.4zM374.9 163.6zM384.6 175.4zM390.7 177.8zM387.3 176.2zM389.3 180.1zM382.2 181.0zM376.0 177.2zM396.2 177.8zM387.9 176.9zM376.2 177.3zM374.2 154.4zM391.6 168.7zM381.0 183.7zM377.8 172.5zM383.2 175.7zM384.7 178.4zM368.2 177.6zM370.9 173.8zM373.8 170.4zM380.1 172.6zM386.8 175.9zM395.6 163.9zM380.5 170.1zM373.7 176.9zM376.4 177.1zM383.0 176.6zM380.1 170.8zM397.3 170.7zM385.2 161.0zM374.8 173.3zM388.3 184.3zM371.4 179.6zM388.6 161.1zM384.4 173.9zM385.8 169.6zM371.9 176.6zM384.5 170.8zM384.9 171.7zM385.2 176.8zM377.9 182.3zM385.2 160.3zM386.0 172.9zM372.1 179.8zM375.0 187.1zM380.6 164.6zM385.4 179.9zM379.9 175.4zM387.1 176.2zM381.6 171.9zM386.1 170.7zM370.5 170.8zM382.6 182.7zM393.5 169.9zM374.9 157.3zM382.1 177.2zM383.8 171.6zM379.7 164.1zM374.8 178.8zM396.5 166.8zM383.9 179.6zM383.0 168.4zM389.9 180.3zM382.4 165.6zM375.5 173.0zM373.3 170.6zM391.4 173.4zM385.2 167.7zM374.6 175.8zM382.5 166.4zM373.5 167.0zM384.5 158.6zM392.2 172.5zM380.6 174.2zM385.3 166.0zM385.0 187.7zM374.5 174.3zM385.8 169.8zM389.1 166.5zM387.7 173.2zM378.3 185.8zM387.9 163.6zM381.4 172.0zM385.6 177.1zM391.2 173.0zM379.9 172.0zM373.7 171.0zM376.1 174.3zM388.2 159.1zM373.3 181.6zM376.8 181.3zM376.4 173.9zM370.9 176.2zM387.4 169.4zM381.3 177.7zM384.3 167.2zM377.9 186.0zM382.5 166.2zM390.7 163.8zM373.8 166.3zM371.6 168.1zM386.6 173.1zM378.5 171.4zM383.1 167.2zM376.2 174.3zM385.1 169.8zM391.6 163.3zM374.5 162.7zM386.1 166.0zM387.9 172.7zM391.0 170.4zM376.1 167.3zM371.9 168.8zM386.9 179.3zM372.1 185.0zM381.2 166.8zM382.1 162.9zM376.4 156.8zM391.3 189.1zM389.8 167.9zM386.2 172.5zM390.0 170.5zM382.4 180.0zM382.9 159.7zM385.2 176.2zM384.9 171.2zM378.8 177.6zM379.5 169.3zM395.3 166.4zM388.2 169.9zM371.0 160.9zM386.6 166.3zM387.8 165.1zM391.4 188.0zM382.7 164.7zM375.0 185.7zM372.7 174.7zM384.6 172.1zM381.2 181.7zM387.2 166.5zM381.7 173.6zM387.7 168.9zM381.0 179.3zM384.3 169.0zM380.1 174.3zM380.0 175.9zM378.0 170.6zM373.0 159.6zM384.2 180.7zM383.5 180.5zM385.1 181.1zM368.7 162.0zM384.5 172.2zM375.6 171.8zM375.2 170.7zM376.0 181.2zM381.4 176.9zM369.6 176.3zM387.1 170.4zM380.4 179.2zM382.0 163.9zM383.0 173.9zM382.1 178.1zM384.7 169.5zM379.0 170.2zM380.6 187.8zM371.4 159.9zM368.0 176.2zM385.5 168.0zM382.2 166.4zM382.4 175.5zM380.8 174.0zM377.1 176.2zM386.7 172.0zM381.8 166.5zM372.9 178.7zM385.8 163.6zM394.0 158.5zM377.6 176.0zM385.6 169.6zM384.9 171.0zM380.1 165.8zM389.0 158.7zM377.3 159.7zM391.1 171.4zM369.6 165.7zM384.8 179.8zM388.3 177.9zM381.3 180.9zM383.7 164.9zM372.8 171.9zM389.3 187.7zM385.8 170.3zM388.3 158.6zM388.1 176.0zM370.6 166.5zM382.7 179.1zM375.2 173.4zM391.2 169.1zM389.7 169.8zM384.5 182.7zM390.8 171.9zM388.6 172.9zM368.7 177.9zM367.4 175.8zM398.6 174.1zM369.0 163.0zM379.8 173.3zM369.2 165.7zM384.8 189.8zM388.5 173.2zM374.6 177.7zM389.1 172.8zM371.2 165.1zM369.6 179.7zM380.4 186.3zM390.8 177.4zM381.5 178.1zM379.5 165.4zM383.5 162.6zM390.7 166.2zM386.7 163.8zM376.7 161.3zM393.2 185.0zM376.7 164.4zM389.9 171.3zM382.6 170.6zM377.6 169.9zM389.2 169.6zM381.3 154.0zM380.5 176.7zM390.1 174.7zM379.3 177.3zM384.1 187.0zM395.4 180.4zM380.1 181.9zM393.0 166.3zM385.9 175.0zM378.6 174.1zM385.1 166.9zM379.1 159.4zM379.1 166.2zM386.0 170.1zM371.1 154.8zM374.9 171.3zM387.7 175.7zM378.3 168.8zM397.1 184.8zM380.5 171.1zM368.6 178.2zM373.3 172.6zM393.1 181.6zM385.3 161.6zM383.0 177.4zM382.8 158.7zM376.4 170.4zM380.8 163.7zM385.6 184.1zM373.9 177.0zM380.4 169.2zM371.0 182.1zM378.1 181.6zM373.4 182.7zM373.5 169.1zM380.8 175.4zM383.0 181.7zM385.7 174.8zM392.9 174.1zM370.7 167.9zM389.5 170.3zM383.5 171.2zM382.5 175.8zM388.9 177.2zM388.3 162.0zM393.3 179.9zM371.1 183.2zM378.7 171.1zM386.7 161.1zM381.6 168.2zM377.4 172.0zM384.6 172.5zM391.6 182.9zM388.0 186.8zM374.0 181.7zM381.1 180.2zM386.3 165.8zM388.5 170.7zM385.3 165.6zM379.2 162.6zM374.1 165.8zM386.2 165.8zM374.9 166.5zM367.6 176.2zM381.1 176.6zM374.3 157.3zM378.1 176.1zM388.2 164.9zM380.3 179.4zM380.1 157.5zM372.7 170.8zM389.3 178.1zM372.1 158.5zM383.0 168.8zM389.1 167.0zM387.9 185.3zM385.0 177.8zM387.1 171.3zM383.2 169.1zM376.0 174.3zM382.1 167.6zM373.0 173.6zM394.5 176.6zM388.9 168.3zM376.8 177.7zM391.4 168.7zM388.7 178.1zM382.5 160.1zM392.7 165.7zM383.6 171.5zM389.1 162.0zM385.1 176.2zM377.0 180.2zM372.0 175.1zM386.9 177.2zM380.9 169.4zM383.3 168.6zM382.6 185.4zM389.2 178.0zM383.3 180.3zM379.4 171.3zM383.5 174.3zM382.0 165.6zM379.3 171.4zM379.8 169.1zM384.7 167.4zM389.3 162.8zM387.7 167.9zM377.9 158.5zM379.4 156.3zM374.1 170.5zM388.4 172.8zM381.6 178.4zM388.6 151.6zM380.2 172.6zM382.0 178.3zM383.7 190.0zM375.9 175.9zM377.5 171.7zM381.8 173.6zM382.9 171.0zM383.8 175.5zM375.4 185.1zM374.5 175.7zM386.7 168.7zM375.7 181.4zM383.1 170.3zM377.9 167.1zM384.8 181.6zM384.3 176.6zM388.8 175.9zM393.9 170.0zM374.9 173.2zM391.6 177.4zM379.2 169.7zM383.3 167.8zM383.4 170.8zM379.0 171.5zM392.3 160.6zM376.4 172.1zM372.4 173.3zM386.1 168.6zM381.8 164.0zM378.8 168.2zM395.0 171.7zM378.6 168.9zM378.8 166.3zM373.3 169.3zM384.3 174.6zM388.7 194.2zM385.4 180.4zM397.7 171.9zM376.4 182.6zM385.6 177.0zM380.2 172.6zM379.7 179.0zM379.3 181.0zM382.3 162.5zM377.9 155.5zM383.2 174.4zM380.6 169.4zM386.2 177.2zM377.0 183.0zM383.4 176.8zM384.8 177.2zM374.3 167.5zM390.7 173.7zM379.5 157.3zM382.1 164.1zM381.7 172.0zM374.3 165.3zM394.1 173.5zM372.1 173.7zM378.3 177.7zM378.9 168.3zM391.1 174.7zM382.4 165.6zM382.4 183.2zM386.5 181.5zM387.7 184.8zM383.7 179.8zM388.2 173.4zM384.5 170.0zM378.2 167.0zM377.6 170.6zM382.5 180.8zM374.4 164.0zM381.6 183.0zM383.0 164.0zM386.3 158.6zM385.3 174.9zM383.5 176.7zM398.2 167.7zM369.3 174.2zM385.9 185.7zM365.4 166.7zM378.1 176.1zM383.9 166.4zM405.4 172.2zM377.4 159.9zM378.9 183.5zM379.3 180.7zM392.7 168.1zM381.0 179.0zM395.4 180.6zM386.2 164.2zM381.3 170.1zM382.2 177.3zM387.9 162.7zM370.0 186.4zM380.6 169.1zM378.7 177.5zM385.6 155.5zM387.4 166.3zM390.8 173.6zM383.7 181.0zM380.7 184.8zM384.7 170.8zM384.8 178.9zM383.3 175.9zM377.3 165.2zM391.1 168.7zM382.3 186.8zM369.8 169.3zM376.5 161.8zM394.2 176.2zM377.9 177.2zM391.6 177.5zM384.9 172.9zM374.2 185.0zM380.1 174.5zM388.0 174.1zM381.8 190.0zM386.2 183.1zM386.6 161.6zM376.9 171.7zM375.3 170.5zM377.4 170.4zM382.7 179.3zM386.9 167.1zM388.6 175.5zM368.4 182.6zM387.0 177.8zM384.9 175.4zM378.1 175.2zM389.6 178.2zM381.8 172.4zM391.9 165.8zM382.4 177.2zM383.3 174.0zM394.6 162.7zM375.0 166.4zM380.1 172.0zM393.8 162.0zM389.1 170.3zM373.0 174.1zM385.0 177.3zM387.0 179.2zM384.6 175.8zM374.6 162.8zM393.1 171.8zM371.4 173.3zM374.2 164.5zM370.4 174.8zM377.3 179.4zM388.9 163.1zM384.1 182.5zM382.6 181.9zM385.5 181.6zM390.2 177.5zM388.6 178.8zM372.6 173.6zM383.0 177.9zM380.0 177.2zM386.8 169.4zM387.4 166.8zM374.8 182.2zM374.4 166.7zM395.1 177.2zM392.7 167.1zM387.7 171.6zM393.0 173.8zM367.1 160.4zM365.9 185.0zM379.9 168.6zM377.8 174.8zM389.0 169.2zM382.0 176.1zM380.3 177.3zM370.7 165.5zM385.5 174.7zM384.5 171.3zM381.8 163.3zM385.7 178.3zM379.3 176.8zM379.1 162.7zM384.0 180.2zM373.6 163.5zM387.1 175.7zM374.0 186.2zM390.0 167.5zM376.8 170.4zM365.8 180.5zM388.9 183.3zM378.1 165.2zM376.7 164.0zM376.4 163.9zM375.4 176.7zM380.7 170.9zM389.1 171.2zM385.0 174.7zM377.4 179.2zM385.6 182.6zM380.5 169.7zM375.6 172.4zM394.3 176.0zM377.3 178.8zM387.8 172.2zM379.6 187.1zM376.9 169.0zM374.9 168.3zM386.4 179.5zM392.5 183.9zM390.2 160.0zM390.6 182.5zM381.6 165.9zM389.8 177.6zM388.3 171.9zM389.2 166.2zM373.1 174.0zM372.4 167.9zM386.9 180.7zM370.9 159.7zM379.3 171.1zM385.2 171.5zM386.7 172.3zM390.2 167.0zM389.2 170.9zM382.5 178.3zM384.1 170.4zM392.1 164.7zM373.3 182.9zM372.1 162.0zM380.9 166.5zM393.7 173.7zM393.0 166.9zM391.0 164.8zM385.5 166.2zM384.8 181.8zM370.5 184.7zM385.4 170.7zM381.6 172.7zM382.5 182.6zM388.2 167.4zM395.4 166.0zM390.1 160.9zM391.3 177.7zM386.4 165.2zM390.7 163.0zM381.8 176.3zM384.6 180.9zM384.5 175.5zM402.1 159.6zM367.7 161.1zM379.8 164.1zM379.0 171.2zM379.9 174.7zM384.8 162.5zM386.8 187.0zM375.3 174.9zM375.4 186.5zM387.1 180.7zM388.0 174.5zM396.8 178.7zM388.9 179.6zM382.2 171.1zM372.6 163.5zM384.7 170.5zM380.6 177.5zM378.3 180.2zM384.5 164.9zM379.6 169.9zM375.6 168.9zM378.3 169.6zM388.9 168.7zM386.0 181.9zM398.2 173.1zM383.5 181.7zM400.7 172.3zM380.3 171.0zM383.4 169.7zM380.2 183.2zM383.1 168.9zM378.1 167.6zM394.0 176.2zM384.0 161.3zM382.0 170.5zM376.0 183.2zM385.5 174.7zM383.7 171.4zM378.3 182.2zM379.3 160.4zM385.7 182.4zM378.3 163.6zM372.4 166.6zM378.4 183.0zM385.7 166.8zM376.7 171.8zM373.4 162.2zM381.7 173.9zM375.8 174.1zM381.1 171.3zM389.9 178.9zM385.2 170.3zM370.9 176.0zM382.7 169.7zM375.8 180.6zM385.7 156.8zM387.2 169.7zM390.1 172.7zM387.0 170.7zM382.8 171.7zM386.9 176.8zM372.1 190.3zM375.9 178.0zM396.7 163.6zM390.5 165.8zM371.1 171.8zM377.1 176.2zM370.9 169.1zM392.9 174.0zM391.1 165.9zM381.1 163.9zM390.0 170.9zM378.9 181.9zM387.2 164.8zM377.8 166.5zM372.6 179.0zM380.0 175.9zM371.3 172.7zM375.0 186.1zM369.2 171.6zM379.7 174.9zM382.1 175.6zM384.3 180.4zM380.5 198.7zM378.0 167.6zM386.8 183.8zM389.5 176.7zM375.4 161.5zM385.2 172.0zM376.8 172.0zM376.9 172.1zM389.3 165.0zM376.1 177.4zM382.8 171.2zM385.4 168.6zM383.1 171.7zM386.5 178.6zM383.1 172.1zM382.4 179.9zM378.1 180.2zM375.3 176.5zM379.8 180.6zM382.5 190.1zM377.6 161.8zM379.3 181.0zM375.9 169.4zM377.2 173.9zM375.8 173.9zM388.1 162.0zM381.0 178.0zM373.7 164.6zM378.2 167.7zM384.1 179.4zM382.3 177.7zM377.2 180.9zM380.5 175.2zM379.1 171.9zM394.0 176.5zM370.7 173.8zM384.8 177.3zM370.6 179.7zM387.7 175.5zM378.7 170.2zM385.3 163.0zM383.7 175.3zM368.6 166.1zM389.8 167.0zM382.8 176.1zM374.4 175.2zM377.3 169.6zM382.9 183.8zM389.5 160.4zM389.7 163.2zM384.0 175.1zM367.6 179.0zM373.8 180.8zM389.7 182.4zM375.7 171.2zM382.4 187.2zM383.4 167.6zM389.7 178.8zM380.2 168.0zM380.9 177.3zM384.5 172.1zM383.5 168.7zM383.8 186.8zM381.0 158.1zM392.9 180.5zM375.3 167.7zM389.1 170.9zM381.3 177.7zM380.2 180.3zM375.6 189.5zM384.4 173.1zM384.7 169.2zM384.0 164.9zM381.5 170.0zM384.8 164.9zM366.9 172.5zM372.5 181.7zM379.8 168.8zM385.9 174.6zM378.6 180.0zM388.0 175.2zM388.9 165.6zM386.7 175.2zM385.4 181.9zM369.8 176.6zM376.8 175.9zM381.1 172.9zM388.0 176.7zM381.6 171.1zM391.1 168.6zM389.9 185.3zM385.5 165.2zM382.7 173.6zM379.7 167.7zM395.2 164.8zM387.0 182.5zM372.5 168.1zM385.0 188.2zM376.8 175.5zM390.3 166.7zM396.4 170.3zM387.8 172.2zM384.3 170.8zM379.2 177.1zM375.1 171.1zM387.3 180.3zM381.9 170.0zM383.9 171.6zM383.3 174.8zM383.5 166.9zM381.2 164.3zM381.6 175.4zM378.7 181.7zM386.0 168.3zM381.0 173.1zM381.8 185.2zM381.2 173.1zM393.7 172.7zM386.7 168.4zM386.9 179.0zM399.6 175.4zM379.8 165.7zM378.6 178.7zM383.4 175.7zM376.8 178.2zM386.2 173.1zM373.5 178.2zM381.7 179.9zM377.9 171.7zM378.8 173.3zM367.2 175.7zM376.1 168.2zM387.8 166.6zM389.5 159.4zM376.6 174.6zM368.7 166.1zM381.6 172.2zM390.7 164.8zM373.2 181.9zM387.9 191.6zM380.1 187.1zM385.8 175.0zM380.5 180.1zM375.6 179.2zM378.7 182.0zM382.8 160.9zM365.6 188.9zM391.9 167.1zM381.2 160.9zM379.3 160.9zM386.9 179.4zM379.7 171.7zM378.3 170.1zM383.0 172.8zM385.7 184.0zM369.1 178.4zM382.3 186.8zM373.6 173.1zM380.7 181.3zM372.5 175.3zM388.3 184.1zM383.2 167.3zM391.4 182.7zM381.7 193.9zM375.1 172.4zM382.9 174.5zM374.6 165.3zM376.6 172.9zM388.3 171.2zM389.4 170.9zM370.3 179.0zM382.1 172.6zM373.2 175.6zM397.1 182.9zM384.4 169.1zM377.5 183.8zM403.3 165.5zM396.8 160.7zM374.9 169.6zM384.4 167.4zM378.7 172.2zM378.1 185.2zM374.4 164.6zM395.5 160.4zM382.9 177.7zM392.7 187.7zM383.2 162.3zM375.0 172.1zM378.2 174.4zM385.4 156.7zM386.9 177.8zM375.3 176.3zM378.8 171.1zM381.5 174.4zM381.0 157.7zM374.6 170.5zM391.0 175.1zM397.3 165.5zM385.7 167.6zM381.0 176.9zM389.0 187.3zM370.2 184.1zM373.0 182.1zM377.6 176.0zM374.1 170.7zM376.6 164.1zM389.2 171.6zM396.2 162.8zM392.0 168.3zM386.5 171.0zM375.5 173.0zM380.8 172.4zM380.3 176.2zM397.4 176.6zM388.0 165.3zM381.5 161.1zM382.6 173.9zM381.3 159.3zM382.2 166.1zM380.1 162.8zM381.8 173.3zM382.7 171.3zM399.9 174.3zM377.2 179.0zM392.7 170.3zM378.3 176.6zM403.5 178.4zM389.5 180.4zM385.1 153.7zM379.4 165.3zM379.5 180.4zM383.0 182.0zM372.4 160.3zM393.6 170.1zM374.9 170.9zM386.4 169.4zM392.4 177.5zM372.9 178.2zM377.0 179.8zM376.5 185.8zM391.5 183.1zM388.2 178.9zM383.2 178.8zM386.5 180.5zM374.8 171.5zM380.9 166.3zM381.8 170.1zM392.0 177.2zM372.9 171.6zM377.5 170.5zM383.2 169.4zM384.8 168.3zM378.4 166.7zM382.8 167.5zM380.6 163.6zM381.1 171.1zM378.0 184.8zM382.8 172.2zM381.9 185.1zM383.6 174.2zM392.1 169.3zM388.0 173.4zM384.7 185.2zM384.8 183.5zM387.3 169.0zM390.0 176.1zM390.2 183.2zM383.4 176.8zM373.9 169.2zM373.3 163.7zM382.3 166.6zM377.5 160.1zM385.4 161.0zM392.4 171.8zM386.9 169.3zM382.3 183.9zM374.4 174.3zM384.7 184.2zM372.5 177.0zM384.7 180.0zM385.0 184.3zM390.7 173.7zM400.9 167.7zM383.9 168.9zM400.8 174.4zM389.6 195.1zM378.2 173.7zM384.1 165.6zM385.2 176.5zM374.6 179.5zM382.0 170.3zM383.4 177.7zM393.0 163.0zM374.0 172.1zM385.2 184.2zM374.0 170.4zM380.2 164.3zM391.9 160.4zM380.8 161.8zM384.1 181.9zM385.1 171.0zM374.9 190.9zM387.1 181.6zM386.9 186.8zM380.6 150.5zM394.0 178.1zM397.6 182.0zM391.6 174.3zM387.2 173.2zM374.6 165.4zM376.0 163.1zM386.4 175.5zM386.1 173.6zM391.7 172.5zM390.1 174.2zM389.2 171.7zM382.4 170.4zM387.4 159.3zM384.3 183.9zM384.0 184.7zM384.9 174.7zM388.2 186.6zM394.8 173.8zM385.4 171.4zM383.4 170.6zM378.9 171.4zM389.9 176.4zM378.0 179.5zM369.2 174.9zM391.9 171.3zM398.3 174.7zM383.4 170.3zM384.7 161.5zM384.1 169.5zM388.6 175.9zM372.9 173.7zM369.3 181.8zM378.7 169.6zM392.8 180.8zM385.7 173.4zM376.6 174.6zM382.6 182.9zM378.4 165.4zM376.1 166.9zM374.6 182.5zM383.2 180.9zM383.2 178.4zM385.4 168.1zM383.7 153.7zM375.5 165.4zM377.8 161.1zM381.3 177.6zM385.3 167.1zM377.7 158.3zM389.2 178.5zM374.4 167.3zM380.5 175.1zM367.8 176.1zM371.2 178.7zM398.6 185.0zM385.3 168.3zM384.6 162.1zM391.9 174.2zM372.9 165.5zM376.9 166.2zM387.6 167.5zM373.4 182.9zM379.7 179.2zM364.3 167.5zM385.4 182.3zM392.7 185.1zM387.7 178.5zM378.4 174.3zM377.0 177.8zM390.2 171.4zM379.7 172.2zM375.4 170.3zM384.8 172.0zM375.6 178.3zM385.1 179.3zM371.0 167.7zM375.0 183.0zM388.7 164.8zM398.7 170.0zM375.5 174.1zM369.5 169.5zM390.0 181.1zM383.8 158.3zM367.4 189.9zM377.9 165.1zM383.1 178.0zM384.2 182.2zM389.1 162.4zM386.3 173.7zM376.4 178.8zM369.9 162.9zM381.8 166.1zM386.6 175.3zM392.1 164.0zM389.5 172.6zM380.2 168.8zM377.7 173.5zM392.1 165.4zM388.1 156.6zM377.8 166.2zM379.9 173.7zM385.6 172.9zM365.9 174.3zM387.1 164.6zM380.1 156.9zM374.0 173.4zM373.3 171.7zM376.1 173.8zM384.3 162.7zM377.5 172.7zM391.8 165.6zM386.0 188.3zM380.2 160.5zM391.5 180.4zM395.1 163.9zM392.9 172.1zM390.8 172.9zM380.7 178.1zM389.1 179.4zM386.5 174.1zM397.9 165.3zM382.3 173.4zM392.8 172.2zM377.8 168.0zM375.1 171.9zM375.1 182.9zM387.2 173.5zM375.2 166.9zM381.8 182.6zM378.5 187.3zM384.3 184.8zM386.2 173.0zM383.5 172.6zM388.0 176.1zM372.8 171.4zM380.6 158.3zM373.2 181.6zM380.1 164.2zM376.9 182.1zM386.6 171.4zM370.4 181.2zM378.4 177.5zM390.5 180.0zM392.4 166.3zM386.0 161.5zM378.7 164.9zM386.3 187.5zM377.7 163.7zM369.3 185.1zM377.5 172.2zM387.9 164.0zM376.2 167.6zM373.6 181.0zM371.7 170.4zM392.3 167.8zM393.4 181.0zM389.4 169.0zM380.2 169.1zM380.7 181.2zM386.4 179.2zM377.9 174.4zM381.2 168.8zM385.2 168.9zM383.3 192.1zM402.0 163.5zM378.2 157.4zM381.1 173.2zM368.0 169.1zM390.4 180.3zM377.9 168.9zM385.3 177.5zM375.8 172.2zM386.6 168.9zM382.4 175.1zM380.6 167.3zM383.7 188.6zM387.4 180.7zM380.1 175.4zM392.0 178.7zM376.4 169.3zM382.4 174.3zM382.2 176.5zM371.4 181.8zM377.7 177.1zM391.4 177.2zM378.1 186.9zM387.6 176.1zM379.4 165.3zM381.2 175.5zM380.8 174.1zM386.5 180.4zM386.9 158.7zM390.6 184.0zM375.3 163.6zM375.6 183.4zM392.3 178.3zM385.6 166.5zM374.0 168.6zM385.3 169.8zM391.3 174.4zM380.9 164.6zM380.7 169.8zM380.3 179.2zM382.9 173.5zM368.9 172.0zM386.3 178.9zM380.1 165.3zM391.9 164.3zM374.3 170.7zM381.0 174.9zM387.0 167.3zM379.4 173.1zM380.6 175.3zM376.5 177.1zM374.1 178.8zM378.8 169.8zM381.2 183.6zM384.6 175.3zM391.7 170.7zM378.3 182.4zM381.6 169.9zM376.4 164.1zM397.9 175.7zM380.3 160.3zM373.7 168.3zM388.0 173.4zM389.9 176.6zM376.6 179.2zM387.4 176.0zM393.4 175.6zM378.0 167.5zM379.1 176.2zM382.0 169.7zM392.8 170.7zM381.3 168.6zM382.4 183.9zM377.8 183.2zM382.6 156.5zM373.4 169.9zM383.6 164.6zM378.8 172.1zM381.9 182.7zM376.3 173.2zM387.1 180.6zM387.2 166.5zM375.6 185.2zM377.2 188.8zM384.0 173.7zM385.7 150.2zM385.3 161.2zM388.7 163.6zM384.5 179.7zM387.5 171.8zM374.3 164.4zM378.1 177.8zM387.5 169.0zM378.1 160.2zM382.3 157.1zM385.2 178.8zM386.5 178.6zM386.3 165.3zM382.8 163.9zM375.4 169.6zM384.9 189.6zM377.3 175.4zM379.1 168.6zM373.1 167.8zM386.7 177.4zM386.3 180.5zM379.3 163.8zM384.8 169.0zM385.7 173.0zM387.5 172.4zM377.5 173.7zM383.4 171.3zM386.9 186.4zM377.2 168.8zM377.6 180.6zM384.1 169.2zM376.1 188.4zM381.9 170.1zM384.6 171.9zM385.1 181.4zM380.5 166.6zM388.8 179.9zM375.5 171.7zM383.0 172.1zM373.6 165.8zM381.0 176.6zM384.4 168.2zM400.3 173.8zM396.6 171.4zM381.6 174.6zM385.8 171.4zM386.2 181.6zM383.4 163.6zM373.6 172.8zM383.7 181.4zM374.3 178.5zM388.3 180.8zM379.2 165.3zM379.6 183.9zM387.1 168.9zM377.7 173.1zM381.2 167.4zM390.6 179.0zM384.7 179.4zM378.9 160.1zM380.0 155.2zM368.9 178.6zM393.3 168.9zM386.9 178.8zM373.7 174.6zM398.1 173.0zM385.2 171.2zM365.9 162.7zM387.2 168.0zM380.7 176.9zM383.6 177.2zM375.9 182.8zM373.7 171.0zM387.6 171.0zM379.7 175.2zM382.6 154.3zM398.5 181.8zM378.0 170.4zM382.1 172.2zM380.9 174.0zM379.3 164.5zM386.9 176.6zM376.8 165.4zM381.7 151.3zM385.1 178.1zM374.5 190.9zM381.6 177.9zM382.5 177.6zM384.1 172.5zM381.4 189.6zM386.2 185.1zM380.3 168.9zM387.1 172.2zM391.5 164.5zM377.4 173.2zM386.7 160.0zM375.3 167.5zM391.1 172.8zM373.2 158.6zM392.9 166.9zM390.3 178.9zM372.6 180.0zM385.7 165.1zM383.5 170.8zM376.2 171.0zM387.1 171.6zM372.7 171.2zM376.9 165.0zM381.0 181.7zM380.5 173.0zM381.8 166.0zM392.4 174.1zM385.5 178.5zM386.6 177.2zM379.4 189.1zM380.7 165.2zM380.5 168.2zM378.2 164.5zM374.3 162.5zM389.6 182.1zM389.2 173.7zM381.6 172.0zM388.6 180.8zM389.8 169.5zM379.1 161.8zM387.0 171.5zM370.3 166.3zM372.7 162.0zM381.5 186.6zM384.0 175.2zM386.9 177.6zM379.6 186.0zM388.0 173.4zM381.6 178.3zM381.3 169.7zM383.0 158.0zM383.8 178.4zM384.6 183.2zM387.2 169.5zM382.6 171.1zM385.1 159.8zM379.7 163.8zM385.3 184.6zM385.0 168.6zM387.3 166.9zM379.8 171.0zM378.0 164.7zM382.7 163.3zM382.9 160.7zM379.7 173.9zM381.2 168.3zM388.8 168.9zM375.6 178.1zM384.5 187.9zM372.6 168.4zM385.9 162.7zM381.9 163.5zM381.3 180.7zM379.6 165.0zM384.1 176.3zM378.5 184.2zM382.1 172.5zM375.4 171.4zM383.3 175.9zM382.2 186.2zM389.0 168.0zM383.0 172.9zM377.2 169.0zM385.3 170.8zM387.6 163.9zM377.4 184.6zM384.1 178.0zM374.1 175.9zM366.9 179.4zM384.0 177.1zM392.8 182.7zM382.8 168.9zM384.7 171.5zM369.8 171.2zM387.3 174.5zM384.8 162.6zM397.3 195.5zM377.7 166.6zM385.2 172.3zM371.7 184.1zM385.9 170.1zM378.8 179.5zM380.3 182.3zM384.2 157.7zM379.0 165.8zM382.8 175.1zM385.2 164.4zM394.3 182.9zM369.2 182.7zM377.5 179.0zM374.3 168.6zM380.9 168.7zM379.3 177.8zM368.1 158.7zM391.2 166.1zM376.3 179.0zM391.3 173.4zM393.2 161.3zM394.0 176.1zM390.2 178.8zM379.0 169.1zM379.2 158.4zM387.4 164.2zM390.4 172.4zM380.3 170.3zM384.3 160.9zM383.0 167.6zM374.3 169.5zM373.8 176.6zM378.3 161.1zM385.4 164.8zM370.8 181.3zM375.4 161.0zM396.1 154.7zM379.7 161.2zM395.8 167.8zM382.8 166.0zM389.8 171.5zM384.5 170.3zM388.5 163.0zM386.5 179.1zM385.1 164.8zM380.3 180.7zM374.2 164.3zM387.5 171.4zM380.0 181.7zM379.3 169.1zM378.0 177.2zM395.1 181.0zM381.7 160.9zM397.5 164.5zM382.4 171.5zM387.3 160.9zM383.9 171.5zM386.1 174.6zM386.3 170.9zM374.5 167.3zM379.9 173.4zM378.2 168.8zM390.8 171.7zM382.4 166.0zM379.9 184.0zM387.4 183.0zM378.7 178.1zM377.7 171.4zM378.4 177.3zM385.6 175.2zM385.1 170.2zM380.0 182.0zM366.6 186.2zM384.7 153.3zM381.0 178.0zM378.0 174.7zM393.0 175.8zM375.4 167.4zM385.6 176.2zM379.3 169.8zM382.6 160.7zM388.6 170.9zM376.4 188.4zM378.7 171.9zM386.2 169.6zM380.5 163.7zM380.4 182.3zM382.7 176.4zM377.9 169.6zM385.3 184.9zM387.1 173.4zM375.8 177.5zM374.2 169.0zM387.1 186.6zM398.4 163.5zM384.2 181.5zM371.5 169.8zM383.4 163.5zM372.4 177.1zM378.6 165.0zM381.9 168.1zM382.1 177.1zM375.6 180.3zM393.4 187.9zM375.4 170.6zM394.6 174.3zM391.2 151.2zM373.0 171.9zM389.2 160.4zM384.1 168.7zM379.6 171.0zM375.8 175.9zM380.9 175.5zM387.0 177.7zM380.3 164.7zM385.8 155.6zM391.7 184.0zM389.3 170.7zM374.9 177.3zM371.5 166.1zM379.2 167.7zM392.6 168.6zM384.1 169.5zM382.9 176.3zM374.3 169.9zM373.2 170.0zM389.7 172.5zM386.1 170.8zM379.5 169.7zM383.3 182.6zM373.3 173.8zM382.8 188.1zM385.7 174.0zM389.4 165.7zM377.7 163.8zM365.0 172.1zM384.4 164.0zM380.2 169.3zM378.8 165.7zM379.2 182.1zM375.2 174.2zM398.4 171.0zM378.4 168.8zM382.7 165.1zM374.5 166.6zM382.4 171.5zM386.4 182.3zM365.7 176.7zM371.3 169.2zM368.3 173.2zM387.3 176.7zM380.4 161.8zM376.1 172.6zM378.8 166.0zM392.9 165.8zM380.3 177.9zM374.1 176.3zM379.7 177.8zM400.7 164.9zM386.2 173.5zM398.6 177.9zM381.3 166.2zM373.6 173.1zM377.2 170.2zM374.1 183.6zM389.8 168.1zM375.2 165.2zM383.1 175.2zM378.2 165.7zM386.5 176.8zM380.0 179.2zM396.3 176.7zM382.3 177.2zM395.8 168.7zM375.3 180.4zM391.7 173.6zM377.3 178.0zM384.5 164.7zM383.1 170.7zM383.4 151.7zM387.4 154.8zM380.8 186.5zM401.5 175.1zM384.6 161.3zM377.3 166.0zM387.7 164.8zM376.1 187.2zM385.8 172.4zM371.7 165.3zM383.0 178.6zM384.8 176.6zM383.0 181.8zM382.9 173.8zM384.4 175.9zM393.9 170.6zM378.7 174.6zM388.6 165.0zM389.8 164.2zM383.5 172.3zM387.5 177.3zM384.4 190.7zM378.3 173.9zM370.7 172.6zM379.2 178.6zM385.9 161.3zM385.2 167.9zM380.8 184.1zM368.5 171.6zM388.0 175.2zM386.5 169.9zM369.7 175.8zM388.1 188.8zM384.2 165.5zM393.6 175.1zM385.6 168.2zM375.4 175.2zM390.3 173.5zM369.4 183.3zM387.9 178.8zM382.4 163.9zM374.7 175.8zM392.8 177.6zM380.1 173.5zM387.8 171.4zM377.9 159.1zM382.5 172.6zM374.2 175.5zM386.7 181.2zM378.7 169.8zM381.3 163.7zM386.5 171.6zM382.9 174.8zM374.3 172.4zM384.2 159.5zM384.4 170.5zM380.5 169.4zM395.0 160.8zM377.9 170.6zM381.7 163.5zM389.9 167.9zM385.4 178.0zM392.2 179.6zM387.3 176.9zM385.6 175.7zM381.1 159.4zM383.1 165.5zM380.0 172.8zM387.1 185.8zM380.9 173.2zM372.6 162.4zM383.8 165.7zM370.9 169.6zM374.0 181.5zM381.8 179.0zM379.4 173.0zM391.6 168.8zM382.1 164.2zM391.8 168.3zM384.8 167.1zM380.7 166.1zM391.1 171.2zM386.6 172.9zM381.8 167.3zM385.3 186.1zM377.3 168.5zM387.0 167.5zM386.8 159.7zM388.1 171.8zM384.3 189.8zM376.2 169.2zM383.3 176.7zM383.3 180.6zM385.3 184.8zM377.8 182.0zM389.5 163.7zM382.2 176.3zM394.7 182.0zM373.1 178.1zM381.9 169.2zM381.8 170.1zM387.0 170.4zM380.8 161.4zM382.4 172.9zM381.0 186.7zM385.4 176.8zM387.2 176.5zM369.1 167.5zM380.7 163.5zM374.8 170.4zM387.1 175.7zM369.2 166.1zM379.8 173.6zM388.9 173.6zM382.5 184.7zM386.0 174.2zM390.3 185.8zM374.2 176.9zM390.3 163.5zM373.3 174.4zM378.4 176.9zM381.3 168.2zM376.7 174.8zM380.6 188.1zM371.4 164.1zM377.4 169.8zM383.5 177.9zM372.6 167.4zM380.9 167.8zM383.2 182.0zM383.3 173.8zM395.9 165.5zM375.9 171.5zM381.3 172.2zM366.4 173.3zM383.4 175.9zM369.6 163.7zM372.3 182.2zM384.5 164.9zM382.2 178.8zM374.0 180.5zM380.1 170.0zM388.7 171.1zM368.9 178.2zM383.6 180.3zM387.9 175.5zM379.3 160.3zM376.1 169.0zM384.6 180.6zM375.5 161.5zM388.3 163.4zM385.3 176.5zM377.5 167.9zM384.5 169.7zM374.7 169.8zM384.4 168.4zM387.2 175.7zM377.3 183.4zM384.0 165.7zM388.4 173.3zM378.3 167.5zM385.2 178.3zM375.7 171.3zM375.6 192.3zM367.7 175.6zM388.0 174.6zM382.1 183.4zM378.8 169.6zM378.2 168.6zM383.1 174.1zM377.4 168.7zM387.8 159.2zM386.4 167.6zM380.1 170.7zM394.1 179.2zM389.2 169.2zM391.8 160.9zM388.0 162.6zM378.0 184.6zM389.4 174.1zM377.6 182.7zM383.1 195.1zM386.8 164.5zM380.1 170.3zM383.1 157.8zM377.3 167.8zM384.8 167.4zM372.3 183.0zM385.6 170.9zM386.7 167.2zM378.4 191.3zM373.9 158.1zM388.8 182.3zM369.9 176.1zM380.5 168.0zM380.0 166.6zM394.7 171.2zM379.3 172.3zM380.3 173.5zM376.3 174.7zM372.2 174.4zM379.4 170.8zM382.4 178.1zM382.5 173.9zM385.0 158.7zM372.1 168.1zM385.7 185.7zM390.3 178.3zM376.6 189.0zM376.3 169.3zM391.8 164.6zM382.2 176.4zM388.0 169.4zM386.8 171.2zM385.3 164.0zM385.1 172.0zM392.3 179.7zM378.5 172.8zM385.4 174.5zM395.4 172.7zM376.6 182.1zM375.2 180.9zM377.6 168.9zM380.7 164.0zM381.7 172.4zM389.7 172.6zM386.0 176.1zM388.2 164.0zM374.6 183.8zM390.0 185.7zM386.0 164.0zM371.9 172.1zM379.9 168.1zM389.0 169.5zM376.7 187.0zM385.8 174.5zM383.9 173.6zM388.8 181.1zM374.8 157.8zM376.1 185.5zM372.4 189.4zM386.8 175.8zM383.7 157.1zM384.5 170.9zM376.6 185.7zM386.0 169.9zM394.0 160.3zM374.3 173.0zM386.1 157.8zM381.2 171.9zM379.8 170.0zM374.9 169.0zM388.8 181.9zM386.4 175.3zM388.1 183.3zM380.2 174.3zM377.2 168.4zM378.8 170.3zM379.5 169.7zM386.0 158.5zM376.9 176.9zM372.1 175.9zM383.2 178.0zM392.0 169.6zM387.1 177.3zM374.1 165.8zM375.7 171.1zM385.9 170.8zM384.0 168.9zM389.9 173.8zM381.9 184.2zM377.0 184.8zM386.2 168.9zM375.1 182.3zM372.8 155.0zM388.0 174.4zM384.4 168.2zM383.0 170.8zM375.9 178.3zM385.9 181.5zM383.9 176.7zM393.5 167.9zM377.5 167.3zM376.5 178.6zM379.6 171.4zM379.9 169.1zM381.0 170.9zM371.5 161.3zM377.5 179.4zM390.7 167.4zM379.9 172.7zM390.9 185.2zM389.1 188.7zM383.6 156.3zM384.4 175.2zM380.1 162.4zM384.2 165.6zM393.1 172.1zM387.7 177.5zM391.7 176.5zM377.9 167.9zM378.2 172.2zM391.2 191.3zM390.5 176.9zM378.8 158.9zM378.4 176.3zM385.2 162.1zM380.7 170.2zM384.0 184.2zM388.7 174.4zM383.2 163.7zM381.1 186.2zM390.3 168.4zM382.2 171.6zM379.9 183.1zM374.3 182.2zM397.3 181.4zM384.4 168.4zM386.6 165.1zM390.0 169.9zM387.3 178.7zM373.9 180.9zM387.1 182.3zM388.7 178.0zM375.1 163.1zM380.4 171.1zM391.1 181.0zM380.9 159.9zM376.2 163.0zM386.7 171.8zM385.3 171.8zM387.5 172.0zM375.2 181.4zM381.3 177.0zM378.7 176.9zM371.3 174.2zM390.8 182.0zM374.2 184.5zM380.7 187.7zM382.9 175.1zM376.6 176.3zM383.6 163.6zM383.1 167.9zM388.1 165.8zM379.3 188.2zM389.0 182.6zM381.1 159.8zM378.5 182.4zM382.3 168.7zM379.6 167.7zM371.7 176.7zM383.1 159.9zM378.6 160.2zM398.1 183.9zM387.3 176.1zM370.9 171.3zM379.5 178.3zM383.2 176.1zM394.8 164.5zM380.6 176.2zM390.1 171.8zM375.3 173.4zM379.6 166.4zM374.0 165.7zM375.2 188.0zM388.1 172.9zM391.2 175.2zM377.5 187.5zM375.7 175.8zM392.1 178.0zM383.5 161.1zM369.2 178.0zM385.5 186.5zM378.3 175.8zM378.9 164.8zM386.1 157.7zM393.0 175.5zM391.5 157.9zM374.0 169.7zM389.4 167.6zM381.0 165.9zM366.3 181.3zM368.4 162.7zM380.3 174.6zM382.9 176.7zM407.2 167.0zM379.1 167.1zM380.3 179.5zM388.6 169.4zM375.7 170.5zM382.0 181.8zM389.4 179.3zM381.3 188.3zM370.6 176.4zM379.6 170.6zM390.1 180.8zM378.1 174.4zM381.6 180.7zM394.7 173.8zM380.5 170.7zM387.9 174.6zM389.7 177.3zM395.1 182.0zM379.0 191.2zM396.6 172.4zM376.5 164.9zM382.7 165.4zM394.6 168.1zM380.2 176.2zM367.6 164.6zM378.6 169.1zM386.0 174.9zM403.1 168.8zM376.8 154.8zM373.1 178.0zM380.8 176.9zM389.4 187.2zM384.9 201.0zM398.4 174.9zM383.5 153.3zM393.3 166.6zM382.9 173.9zM392.9 177.9zM395.9 154.3zM377.3 180.6zM385.0 174.6zM382.3 176.0zM389.1 175.8zM379.4 163.0zM375.8 177.8zM388.2 174.6zM385.6 163.8zM382.6 177.4zM384.2 173.2zM380.3 178.9zM382.1 172.8zM384.5 163.1zM384.1 168.7zM369.7 168.8zM396.0 171.9zM385.2 180.0zM378.1 166.7zM383.0 176.3zM382.6 163.7zM398.4 184.5zM384.2 170.7zM384.2 170.7zM392.9 166.5zM378.6 187.0zM395.5 158.9zM387.1 181.9zM387.7 176.4zM388.1 159.8zM386.8 172.9zM380.3 164.2zM372.5 170.4zM387.7 168.3zM392.7 179.3zM380.3 179.3zM381.2 179.9zM386.7 165.4zM387.9 172.2zM390.8 161.2zM375.7 164.6zM384.1 169.4zM388.7 154.5zM387.5 168.5zM380.9 167.4zM380.0 164.8zM382.4 175.0zM372.2 167.5zM399.8 171.6zM402.2 173.6zM384.1 166.8zM383.7 171.7zM380.4 167.8zM370.7 164.9zM387.8 168.4zM385.2 171.9zM388.5 173.7zM393.0 182.4zM381.0 181.3zM388.5 169.2zM382.1 184.2zM372.0 178.7zM375.7 167.8zM381.7 166.5zM380.3 181.2zM385.9 170.0zM380.6 181.3zM379.9 193.5zM386.3 165.6zM383.3 175.6zM394.4 182.0zM385.0 170.6zM380.9 162.4zM378.1 182.3zM390.0 180.7zM383.0 181.6zM373.2 165.5zM386.9 165.9zM384.5 172.2zM388.4 168.5zM387.4 175.7zM375.1 181.8zM388.7 174.0zM375.1 173.0zM381.4 183.4zM380.0 169.8zM380.0 151.4zM377.3 169.8zM376.8 183.5zM391.7 180.5zM375.9 167.3zM386.5 171.9zM370.7 168.5zM376.6 169.0zM372.9 175.7zM371.4 165.5zM380.3 182.4zM386.2 169.2zM367.3 179.1zM387.0 184.0zM381.9 158.6zM376.9 167.2zM380.0 169.3zM382.2 156.3zM379.2 175.8zM379.9 173.9zM379.8 180.5zM375.1 169.3zM385.7 176.6zM395.1 164.7zM379.5 175.6zM385.1 159.0zM397.0 174.8zM385.7 170.7zM373.6 179.4zM381.4 194.9zM390.6 174.6zM378.0 176.1zM380.3 175.3zM373.1 176.0zM378.0 166.0zM387.2 167.3zM388.1 155.4zM381.3 168.2zM382.8 183.9zM381.2 168.4zM388.3 162.5zM394.8 176.9zM382.8 181.9zM373.1 172.2zM388.1 173.7zM381.8 182.3zM376.8 159.9zM382.4 186.1zM381.9 168.4zM379.2 173.8zM381.4 156.7zM392.6 178.6zM378.0 178.2zM387.9 178.0zM380.9 173.5zM378.2 182.9zM391.6 173.2zM375.6 179.5zM389.3 170.0zM379.6 174.5zM376.1 184.8zM392.9 166.5zM390.5 173.3zM394.1 163.6zM385.2 173.3zM375.3 170.9zM388.5 172.7zM373.2 172.1zM386.2 177.8zM394.1 171.3zM389.0 179.3zM383.0 172.2zM383.8 167.0zM374.4 180.3zM382.5 175.2zM378.6 172.6zM377.0 157.7zM384.0 169.3zM371.5 173.7zM375.3 175.2zM380.6 154.7zM384.3 160.6zM386.3 184.4zM392.8 169.9zM383.9 178.9zM376.1 173.3zM379.9 167.1zM376.9 162.9zM388.5 171.9zM381.2 178.8zM389.6 173.6zM386.3 159.6zM375.0 166.4zM384.2 170.5zM389.2 173.9zM376.9 180.5zM374.5 189.0zM376.0 160.4zM379.7 180.7zM379.1 177.5zM386.0 181.2zM387.0 172.3zM373.1 154.8zM376.6 168.1zM383.8 185.2zM391.5 174.2zM384.0 161.5zM393.8 180.9zM383.6 177.1zM390.8 163.9zM387.5 168.9zM380.2 168.9zM379.0 170.8zM383.7 166.5zM378.6 160.5zM379.3 175.0zM375.9 181.2zM382.7 170.7zM383.1 178.5zM365.4 160.1zM381.7 158.8zM384.7 168.9zM389.5 175.1zM379.1 172.4zM374.3 185.2zM379.8 177.4zM379.8 168.2zM376.9 177.0zM378.7 175.2zM375.0 176.8zM378.1 184.4zM386.4 172.4zM378.2 176.6zM382.0 183.6zM375.7 175.4zM385.2 178.8zM400.6 176.5zM372.2 177.4zM394.4 164.2zM376.7 162.3zM393.3 155.7zM379.1 170.5zM388.5 168.3zM384.5 169.7zM395.1 172.7zM375.0 177.5zM383.2 169.7zM378.4 173.9zM371.9 162.6zM376.0 165.6zM376.3 182.9zM389.0 176.5zM370.3 165.5zM381.4 177.8zM391.3 164.5zM389.9 169.8zM384.7 164.7zM379.5 167.9zM382.9 175.4zM385.8 171.8zM386.2 169.0zM387.3 172.7zM384.5 175.6zM385.4 178.8zM388.0 170.3zM393.8 180.0zM371.2 169.8zM380.2 172.6zM383.6 170.9zM382.6 170.3zM386.9 171.5zM384.3 167.4zM388.8 176.2zM386.3 170.2zM374.9 166.5zM374.0 179.6zM380.3 177.9zM379.1 180.0zM384.2 179.9zM394.7 169.8zM387.6 173.1zM375.9 176.0zM375.5 178.8zM379.5 174.3zM376.2 169.8zM388.2 167.0zM376.9 183.0zM386.3 180.9zM397.5 179.1zM381.4 155.7zM381.9 177.7zM377.3 170.4zM388.0 168.7zM384.4 156.8zM388.0 163.4zM396.8 181.9zM379.5 178.1zM372.9 180.9zM372.5 169.4zM379.6 179.7zM378.4 181.1zM378.9 180.1zM387.5 166.7zM384.5 168.5zM377.2 173.3zM371.4 175.3zM374.7 160.4zM386.1 178.6zM367.6 167.2zM382.7 170.7zM393.2 178.8zM392.6 177.5zM382.6 187.6zM375.5 174.6zM380.2 172.1zM374.8 158.2zM394.0 163.2zM389.0 177.5zM385.7 178.8zM386.4 179.3zM368.4 173.4zM378.5 162.1zM399.6 155.9zM374.2 166.3zM381.3 169.3zM382.8 176.8zM389.7 182.5zM373.2 182.2zM382.2 162.5zM395.0 162.6zM374.9 162.2zM390.0 174.5zM371.2 175.8zM390.2 171.3zM379.8 174.4zM377.6 179.6zM383.6 173.5zM395.6 181.9zM372.4 180.5zM383.7 172.4zM388.3 177.7zM385.2 165.4zM386.1 175.7zM368.4 168.0zM383.5 184.5zM389.3 179.9zM375.9 178.0zM392.3 177.9zM372.6 177.4zM383.7 157.8zM379.6 181.3zM390.8 167.2zM392.8 180.7zM384.5 177.0zM381.4 180.4zM395.3 164.5zM383.7 162.8zM383.8 174.0zM384.4 165.3zM384.2 173.4zM391.0 161.9zM381.8 159.1zM381.0 173.6zM373.4 159.4zM389.6 177.3zM375.2 170.7zM388.3 174.2zM377.4 172.1zM382.4 182.1zM388.9 184.5zM391.1 170.8zM382.6 176.9zM386.7 184.8zM381.4 179.6zM373.7 168.4zM370.3 176.7zM386.4 171.8zM383.3 166.2zM381.1 171.6zM391.5 168.0zM385.0 185.9zM373.0 170.8zM373.1 169.6zM383.3 181.4zM381.7 167.3zM386.5 174.7zM392.7 172.8zM381.6 167.0zM377.9 175.6zM378.3 187.8zM380.3 159.1zM371.7 166.4zM387.7 154.8zM381.3 170.8zM373.0 155.8zM382.9 165.3zM385.6 173.0zM400.7 193.9zM379.2 181.6zM381.8 177.0zM372.1 178.3zM379.9 165.2zM387.8 176.6zM376.9 179.4zM392.9 164.3zM388.1 182.2zM386.0 165.0zM372.8 176.4zM380.4 168.0zM386.3 157.2zM376.3 160.0zM387.9 179.3zM377.9 173.6zM385.2 179.4zM379.6 169.2zM391.8 170.8zM373.7 157.6zM384.2 171.4zM377.5 163.4zM384.2 172.3zM386.5 174.4zM369.1 169.6zM386.6 186.1zM389.7 173.4zM384.2 166.9zM377.4 177.7zM386.0 172.8zM384.5 166.9zM386.0 166.1zM384.1 173.0zM375.9 160.8zM384.2 167.8zM364.3 174.5zM382.2 184.0zM380.6 178.1zM377.5 179.0zM382.2 155.0zM378.4 181.2zM376.8 173.1zM375.8 168.6zM373.6 173.6zM371.3 158.3zM383.5 180.9zM375.8 170.6zM391.9 160.2zM382.6 160.4zM379.9 164.5zM381.3 175.0zM381.6 152.5zM378.7 188.8zM375.7 164.4zM379.2 178.5zM392.9 160.2zM387.7 175.0zM387.0 174.1zM392.2 175.5zM389.3 180.4zM377.4 176.0zM389.6 152.6zM384.4 176.5zM379.7 166.7zM392.8 165.8zM383.1 177.9zM370.9 189.3zM385.9 181.9zM372.2 164.1zM376.8 171.7zM377.0 174.8zM387.2 162.7zM390.1 183.6zM382.0 178.0zM371.9 179.8zM378.8 171.6zM376.7 165.1zM381.5 175.1zM380.8 178.1zM386.0 155.8zM387.3 173.9zM384.4 168.0zM383.1 190.1zM371.4 174.9zM392.0 159.4zM377.2 174.8zM372.8 173.5zM376.8 176.4zM368.4 173.9zM387.0 176.4zM380.0 160.5zM390.6 173.3zM390.0 182.4zM393.9 175.1zM374.2 170.0zM383.7 171.6zM386.2 169.8zM380.7 177.7zM386.0 188.2zM383.8 172.9zM377.9 175.9zM382.2 166.3zM382.9 174.7zM367.4 176.2zM384.2 163.8zM374.5 164.4zM375.9 167.5zM383.2 166.7zM382.0 169.3zM390.6 171.7zM384.0 174.9zM369.4 185.4zM379.8 177.9zM384.2 172.8zM374.8 170.3zM387.7 180.1zM380.0 174.2zM384.7 171.7zM374.4 161.5zM381.8 176.8zM381.9 177.7zM386.1 176.7zM393.2 174.1zM371.9 162.5zM390.0 173.9zM384.9 169.7zM391.4 172.1zM387.9 164.6zM386.3 170.9zM390.1 183.5zM378.8 167.2zM370.0 172.3zM376.6 174.2zM378.3 175.4zM388.3 164.0zM378.3 169.7zM376.1 172.3zM386.0 156.5zM384.4 180.1zM383.2 183.5zM383.4 174.1zM378.1 177.1zM392.7 180.4zM374.7 181.1zM391.4 182.7zM373.5 161.6zM386.3 163.2zM377.1 162.6zM377.1 173.1zM377.5 176.1zM379.2 175.5zM393.8 172.5zM374.3 173.3zM381.9 165.1zM386.9 171.9zM383.2 170.9zM370.7 179.2zM377.0 170.6zM391.3 152.3zM369.6 164.4zM375.3 174.4zM376.6 155.5zM391.9 156.5zM384.5 181.1zM384.5 171.2zM382.0 173.2zM374.3 169.3zM387.5 166.9zM383.3 175.4zM376.9 178.0zM388.7 169.5zM378.1 160.9zM372.9 175.0zM385.2 178.0zM378.1 199.4zM389.9 186.2zM385.9 193.2zM391.1 184.8zM381.6 182.2zM378.4 187.5zM384.8 187.2zM389.0 184.3zM381.5 193.2zM380.3 180.1zM382.5 198.5zM382.2 193.3zM380.5 188.4zM377.7 183.7zM389.2 184.7zM378.0 185.2zM376.7 188.5zM375.2 187.6zM385.9 191.1zM378.4 184.0zM384.2 189.0zM381.5 182.1zM380.9 184.6zM384.9 196.9zM385.2 184.9zM387.5 191.8zM395.8 195.0zM385.7 176.0zM387.2 188.2zM386.3 194.4zM387.2 199.6zM380.0 188.7zM389.1 190.3zM386.9 189.7zM377.1 184.8zM386.1 193.1zM380.8 186.8zM383.8 176.5zM383.3 194.0zM383.8 187.8zM392.4 195.0zM384.2 189.8zM386.6 194.7zM388.0 186.0zM379.7 175.0zM379.6 191.8zM377.6 175.8zM384.6 189.0zM385.2 190.6zM373.1 183.9zM381.8 196.1zM383.9 183.9zM384.2 184.5zM377.7 196.1zM380.2 190.6zM386.0 193.6zM385.1 180.8zM383.5 177.1zM380.9 189.7zM386.4 191.8zM387.4 189.7zM380.5 192.7zM383.9 196.3zM382.3 188.7zM385.2 192.3zM391.0 180.4zM385.3 193.9zM386.5 189.6zM390.8 187.1zM390.5 187.0zM384.3 196.9zM383.8 180.2zM379.6 185.5zM380.6 190.0zM381.4 180.5zM389.8 186.3zM385.8 176.1zM379.8 191.0zM389.0 190.8zM387.9 200.3zM386.2 180.1zM393.8 187.5zM388.1 186.7zM383.9 197.3zM382.1 185.0zM379.9 192.6zM383.5 174.6zM377.1 193.3zM393.6 183.6zM384.3 184.4zM391.4 193.8zM376.9 186.3zM387.2 186.7zM383.3 185.9zM383.9 189.6zM371.6 192.5zM383.8 187.4zM384.3 183.8zM384.4 182.4zM384.3 187.9zM381.7 188.9zM387.3 194.9zM388.5 190.3zM387.5 176.3zM382.3 192.3zM381.7 169.3zM378.5 188.5zM384.5 191.3zM388.0 187.6zM382.6 185.6zM382.0 190.3zM382.1 194.9zM387.8 187.6zM377.9 186.9zM378.8 184.0zM384.9 182.9zM378.4 183.7zM379.8 200.8zM386.3 185.5zM390.8 191.7zM385.1 192.5zM380.0 190.4zM381.6 185.3zM386.7 192.5zM388.1 191.2zM390.4 186.5zM380.2 195.1zM384.9 194.4zM385.9 185.3zM380.5 195.9zM385.0 195.5zM384.4 196.4zM376.0 183.2zM385.2 173.4zM379.9 194.4zM379.5 190.4zM382.5 180.6zM390.0 177.3zM387.0 186.4zM387.1 177.3zM387.0 189.2zM386.7 195.0zM379.1 188.1zM385.5 188.0zM389.2 183.3zM388.9 181.5zM376.9 189.1zM379.6 192.0zM384.9 183.8zM382.4 185.9zM388.3 187.1zM378.9 184.9zM379.2 189.0zM383.0 180.6zM388.8 190.7zM382.3 190.7zM379.1 188.9zM380.2 173.2zM386.9 188.2zM374.6 182.4zM381.1 188.7zM376.9 190.0zM382.9 179.6zM388.0 196.3zM387.0 190.8zM380.5 194.6zM381.5 191.8zM387.4 191.4zM375.5 190.0zM378.6 182.5zM382.1 190.0zM381.1 191.4zM387.6 185.9zM382.5 196.1zM384.2 194.3zM380.1 188.2zM386.2 185.4zM379.2 192.8zM378.5 201.1zM385.1 196.8zM383.9 180.6zM387.8 182.4zM383.5 184.9zM383.5 193.8zM376.3 194.0zM379.8 183.8zM392.9 189.3zM390.9 183.2zM378.6 181.9zM391.1 188.7zM380.4 186.2zM379.9 187.4zM380.6 200.3zM389.6 174.9zM384.1 189.8zM394.7 188.1zM383.9 191.1zM383.5 194.5zM385.3 195.7zM371.1 187.2zM384.6 193.0zM388.7 184.2zM378.9 187.5zM385.5 183.0zM390.9 191.3zM381.2 189.4zM388.1 182.6zM385.6 191.3zM380.9 192.3zM385.5 190.6zM374.4 182.6zM387.4 196.8zM384.1 196.7zM382.9 197.5zM377.9 190.8zM390.1 188.9zM393.9 179.1zM383.6 189.6zM384.6 185.8zM384.7 199.4zM384.0 183.6zM384.4 197.5zM391.1 174.2zM389.0 191.2zM383.1 181.6zM374.8 187.9zM385.7 189.2zM382.5 182.4zM383.4 183.5zM385.7 185.9zM381.8 182.8zM387.8 192.1zM388.2 184.6zM381.2 187.2zM386.3 182.1zM375.8 187.3zM381.3 186.8zM377.9 193.5zM381.5 198.1zM385.6 184.1zM383.2 189.3zM390.2 186.8zM387.2 186.8zM382.6 192.6zM377.1 191.0zM384.6 187.6zM384.7 179.4zM373.3 186.8zM381.0 199.9zM379.5 189.1zM379.5 190.4zM387.9 179.9zM386.5 184.8zM382.8 174.7zM383.1 187.1zM382.9 188.6zM382.7 192.6zM375.0 191.4zM384.2 193.5zM375.6 197.0zM383.6 191.1zM378.8 192.6zM376.1 180.3zM381.0 186.0zM383.7 192.9zM379.6 186.4zM387.1 180.7zM387.2 193.3zM386.3 180.9zM381.6 187.7zM383.1 197.1zM385.6 185.2zM388.2 188.0zM387.9 180.7zM381.6 201.7zM374.4 185.9zM380.4 178.3zM385.7 179.6zM387.3 185.9zM391.8 194.7zM380.5 187.4zM387.7 181.8zM389.3 179.3zM388.3 195.6zM377.1 182.1zM382.4 183.9zM389.6 184.9zM387.4 184.3zM386.3 187.6zM386.3 186.8zM383.5 185.0zM386.4 195.3zM389.0 191.1zM382.8 180.2zM385.5 188.7zM388.3 190.2zM380.4 196.2zM379.4 173.8zM379.9 189.7zM380.8 187.1zM378.5 180.0zM385.7 189.0zM386.5 191.0zM385.7 188.6zM385.4 191.3zM383.2 186.3zM380.3 185.4zM387.5 191.0zM384.3 189.0zM383.8 175.2zM386.8 185.4zM376.1 192.9zM373.1 187.0zM384.9 188.1zM382.5 182.0zM394.1 189.5zM385.2 194.9zM386.5 190.9zM386.6 180.4zM387.1 194.8zM383.3 183.1zM386.8 192.4zM381.0 194.0zM386.3 191.3zM387.9 181.7zM389.0 177.8zM376.7 186.0zM383.1 180.1zM383.4 189.9zM381.7 209.5zM381.8 186.4zM385.8 196.0zM377.2 192.7zM384.4 177.8zM389.8 189.4zM384.1 178.2zM380.5 195.0zM374.8 181.8zM387.1 185.6zM376.4 187.3zM380.9 188.8zM389.3 190.4zM371.9 188.6zM381.1 184.9zM386.9 181.2zM377.6 184.3zM392.6 176.8zM380.8 189.4zM385.6 180.6zM389.4 180.8zM381.8 183.8zM373.3 191.3zM384.7 185.1zM379.2 195.2zM382.5 176.7zM380.2 187.6zM378.5 184.8zM385.5 189.7zM390.9 184.4zM388.5 183.3zM388.0 202.8zM384.6 187.8zM379.0 178.1zM386.2 182.2zM377.6 184.5zM383.0 181.1zM384.7 189.9zM388.3 182.4zM382.9 197.3zM381.3 184.6zM384.3 189.3zM379.7 187.4zM385.5 186.1zM378.8 185.9zM376.3 182.1zM383.3 189.1zM386.4 193.0zM385.8 182.8zM380.9 191.3zM386.3 181.6zM384.1 187.3zM385.0 193.8zM380.1 177.7zM388.8 197.4zM383.8 184.4zM379.9 200.4zM375.2 191.5zM377.2 189.4zM389.1 179.1zM381.8 175.5zM377.6 194.1zM385.0 187.2zM381.7 197.7zM385.3 189.7zM376.7 186.3zM384.2 183.9zM383.8 196.6zM382.4 192.5zM388.7 185.7zM382.2 187.6zM382.1 191.4zM376.9 175.9zM383.2 199.5zM378.3 189.9zM386.5 196.7zM386.3 183.7zM380.4 177.6zM387.0 173.6zM381.0 182.5zM389.4 186.3zM380.4 189.6zM381.5 193.6zM381.8 189.4zM388.9 198.2zM385.7 197.5zM389.9 185.4zM385.7 200.5zM383.6 186.1zM378.4 190.6zM378.7 193.0zM379.5 188.8zM383.8 185.0zM380.4 181.0zM389.9 194.7zM385.6 183.0zM388.1 189.9zM380.6 185.4zM383.4 194.7zM391.8 189.3zM382.8 180.9zM382.7 187.8zM372.7 170.7zM385.9 194.1zM379.3 201.3zM382.2 189.7zM385.9 187.0zM388.8 193.9zM379.0 181.6zM385.1 184.2zM385.8 192.1zM381.6 181.5zM382.9 172.8zM379.7 194.2zM390.3 184.7zM382.4 181.5zM380.4 196.3zM378.3 187.6zM385.7 195.4zM378.0 189.7zM389.4 185.1zM386.6 199.0zM383.5 172.4zM380.7 195.7zM382.1 187.9zM375.2 195.7zM378.2 183.7zM381.0 183.7zM374.1 186.9zM374.0 199.1zM382.2 193.9zM385.6 184.7zM380.2 182.5zM385.4 196.9zM387.0 194.7zM387.0 185.8zM381.8 187.2zM381.3 197.1zM384.2 174.3zM378.3 193.1zM381.8 181.3zM381.9 189.6zM384.3 194.3zM385.5 176.9zM392.0 196.6zM378.9 200.3zM379.2 182.4zM383.7 185.9zM379.7 187.7zM381.8 192.8zM389.8 194.3zM383.0 187.6zM375.8 190.8zM387.4 186.7zM385.3 192.0zM391.8 180.2zM374.9 190.1zM383.3 197.3zM380.7 192.5zM383.7 194.2zM387.4 184.9zM377.9 184.3zM379.6 189.8zM385.2 183.9zM379.4 179.3zM383.4 194.0zM380.2 189.4zM386.2 183.6zM386.1 191.0zM380.0 198.3zM387.2 186.8zM384.3 186.3zM378.3 195.6zM386.4 177.2zM384.4 188.1zM380.1 185.1zM379.9 177.2zM390.3 193.2zM383.8 186.4zM380.4 191.9zM372.6 192.4zM382.5 190.5zM385.8 183.2zM388.9 186.9zM383.6 187.1zM390.7 191.9zM382.7 187.8zM387.3 191.6zM387.3 184.6zM382.5 193.0zM388.6 185.2zM391.7 178.3zM383.5 186.5zM379.2 188.0zM378.9 188.5zM382.5 177.7zM379.7 191.2zM380.4 189.1zM386.0 187.6zM382.8 192.9zM385.2 188.4zM382.4 180.0zM381.2 179.4zM386.1 193.1zM381.1 176.2zM377.9 195.0zM381.3 180.9zM379.3 182.8zM378.2 192.3zM381.2 183.6zM386.3 179.8zM388.9 185.0zM387.7 182.9zM387.1 190.2zM380.7 181.5zM384.6 185.7zM386.3 183.0zM385.0 179.7zM382.8 182.7zM377.6 196.2zM376.0 187.1zM378.2 180.2zM384.5 182.5zM378.4 190.5zM386.7 191.0zM382.3 188.2zM389.0 184.9zM385.4 189.3zM382.0 184.7zM382.7 194.1zM385.3 189.2zM375.2 190.7zM381.9 193.3zM387.8 186.9zM383.6 189.8zM381.1 184.9zM385.9 200.2zM377.8 190.4zM388.8 187.1zM379.9 195.9zM392.6 185.6zM382.8 191.0zM382.8 187.5zM388.0 187.0zM385.1 191.3zM382.1 187.5zM377.4 177.5zM382.1 185.3zM388.3 181.1zM381.8 186.4zM382.5 187.5zM385.2 188.2zM390.3 198.8zM377.7 185.3zM380.1 190.5zM384.1 183.9zM383.5 188.8zM382.5 184.3zM384.4 187.3zM381.6 180.0zM386.7 178.9zM378.6 192.8zM382.9 185.4zM385.9 200.7zM380.9 187.8zM385.2 181.6zM377.9 184.7zM388.2 203.8zM385.8 185.2zM391.2 199.3zM388.0 181.6zM378.1 187.3zM381.5 181.0zM385.8 188.9zM379.7 191.1zM388.1 201.5zM386.9 201.8zM387.9 191.6zM374.5 183.4zM375.5 190.1zM382.4 187.8zM369.3 191.6zM382.2 187.6zM391.2 171.9zM383.2 187.6zM384.6 180.3zM375.6 184.5zM388.9 184.1zM379.3 184.6zM384.3 187.2zM382.0 184.3zM379.5 187.2zM384.3 193.9zM387.5 186.2zM378.6 193.2zM383.8 192.6zM378.9 196.2zM380.9 199.4zM393.4 193.0zM384.2 186.9zM380.9 188.6zM381.6 182.1zM389.1 186.2zM386.7 194.2zM390.0 197.9zM384.4 193.7zM387.8 188.1zM389.2 192.5zM379.2 181.0zM381.9 200.3zM383.2 186.5zM375.0 187.1zM387.3 183.8zM379.3 182.6zM378.3 197.1zM381.4 196.7zM383.6 183.9zM390.3 191.5zM383.9 197.6zM391.0 175.6zM387.6 175.3zM386.6 192.1zM385.0 187.9zM380.5 196.0zM385.1 196.5zM387.6 182.2zM379.5 187.4zM390.9 189.5zM376.2 182.3zM384.2 193.2zM386.2 192.4zM385.2 188.5zM382.1 189.4zM376.5 182.9zM383.3 195.6zM383.9 196.7zM384.7 198.2zM376.8 188.7zM386.0 184.5zM379.4 190.9zM384.1 190.9zM385.1 190.0zM385.3 172.6zM391.0 191.0zM385.7 191.1zM386.6 195.0zM379.7 173.2zM381.0 195.9zM381.8 180.4zM378.2 190.3zM386.0 189.9zM384.5 192.7zM389.6 188.1zM385.6 190.4zM377.6 190.0zM384.5 197.3zM376.8 181.7zM388.4 185.1zM387.7 185.6zM383.2 193.8zM376.9 188.1zM392.0 180.3zM387.0 177.7zM377.8 183.5zM378.9 171.3zM375.8 187.2zM387.3 187.2zM386.2 188.4zM382.7 196.7zM375.6 183.6zM384.6 186.2zM379.1 191.9zM377.3 183.3zM381.1 184.9zM382.7 186.8zM383.7 190.6zM382.7 200.5zM391.5 188.5zM388.6 185.6zM385.4 187.2zM394.5 188.2zM384.1 181.1zM393.7 195.5zM381.2 192.4zM377.9 193.9zM382.6 185.5zM378.8 189.1zM382.8 188.6zM381.6 184.6zM386.8 192.1zM382.6 183.6zM386.8 198.6zM389.9 192.6zM376.7 190.2zM388.9 200.1zM383.8 180.0zM380.7 185.1zM391.3 196.1zM385.8 180.5zM378.5 195.3zM384.7 192.4zM375.4 199.1zM391.2 194.4zM391.3 187.8zM377.4 196.1zM384.0 181.6zM380.3 186.4zM394.5 194.9zM392.9 188.5zM384.4 174.5zM391.3 195.9zM376.9 186.7zM378.5 190.7zM379.5 198.8zM374.3 190.0zM388.5 196.1zM379.5 189.7zM380.0 179.5zM389.4 194.4zM381.5 190.4zM385.6 194.8zM386.4 186.9zM389.9 185.3zM378.8 193.5zM381.2 173.2zM382.3 201.2zM382.3 180.7zM380.0 192.1zM385.1 191.6zM380.8 191.8zM388.4 202.4zM376.9 185.3zM387.1 194.7zM376.4 190.3zM386.0 191.1zM388.4 196.8zM374.5 186.8zM381.4 184.9zM377.1 184.0zM388.7 187.1zM385.3 179.5zM387.9 179.2zM385.4 189.6zM385.9 191.7zM384.9 188.4zM377.4 186.8zM380.8 181.2zM387.6 189.6zM389.7 188.2zM380.3 198.0zM385.9 192.3zM387.4 182.9zM376.1 182.1zM378.8 187.8zM379.1 195.1zM391.0 181.2zM387.1 192.7zM380.4 179.6zM383.5 177.6zM385.6 185.7zM388.7 181.8zM384.2 179.1zM394.4 191.2zM382.4 175.9zM387.3 185.2zM382.5 190.4zM380.1 194.7zM383.4 186.4zM383.9 181.2zM385.7 191.0zM383.9 181.5zM394.1 205.2zM380.9 217.4zM388.7 209.6zM393.7 213.7zM387.3 203.5zM389.9 215.9zM379.0 218.7zM388.2 208.1zM384.4 202.4zM389.4 201.1zM376.8 204.2zM380.7 220.5zM385.5 217.3zM387.5 218.3zM377.8 202.1zM378.3 199.9zM380.3 199.9zM386.2 217.4zM380.7 203.2zM382.6 209.8zM393.8 203.4zM388.5 212.3zM381.3 210.6zM373.4 208.0zM396.6 212.8zM377.9 195.7zM380.6 226.1zM381.1 198.3zM381.8 206.8zM386.0 233.4zM398.7 215.4zM379.3 212.4zM383.5 212.7zM379.4 214.2zM391.8 218.5zM385.8 226.9zM388.3 216.7zM384.0 203.2zM390.1 209.9zM380.2 202.4zM385.4 204.6zM391.9 207.0zM383.0 194.2zM380.1 221.5zM378.5 213.0zM380.6 202.0zM392.7 180.9zM385.2 211.2zM376.5 207.1zM379.6 225.3zM387.3 208.5zM382.6 215.5zM377.0 227.8zM378.8 212.9zM381.9 209.8zM376.5 222.3zM389.1 211.7zM392.9 220.6zM386.9 208.2zM383.5 192.1zM376.8 214.8zM387.8 218.3zM380.4 222.7zM376.7 230.6zM390.6 221.9zM386.6 219.0zM387.5 212.8zM381.3 196.4zM381.2 210.5zM391.8 214.5zM378.8 194.2zM374.3 225.5zM393.6 204.0zM390.1 217.1zM388.2 206.6zM380.9 217.5zM382.0 222.9zM381.6 214.1zM383.1 218.2zM382.9 220.4zM386.2 208.8zM381.0 214.1zM383.2 219.9zM382.3 216.6zM386.3 213.0zM380.6 207.7zM378.2 227.1zM386.0 215.3zM385.1 219.6zM384.0 188.8zM388.2 205.1zM376.1 196.8zM385.4 207.2zM382.9 222.2zM375.4 224.7zM384.4 218.5zM385.7 195.5zM382.3 213.4zM385.5 205.3zM383.7 219.9zM378.4 219.2zM386.5 201.6zM396.5 220.6zM371.8 209.5zM375.4 218.5zM383.3 223.3zM378.0 202.8zM389.5 218.4zM380.0 208.4zM391.4 220.4zM384.5 189.8zM385.7 218.5zM381.2 208.2zM381.9 209.6zM387.3 201.1zM374.5 217.8zM385.8 206.5zM381.0 198.4zM372.8 230.2zM389.1 208.0zM386.6 202.2zM376.4 215.4zM383.1 219.5zM388.0 209.7zM378.9 220.4zM379.7 203.1zM380.1 207.3zM381.7 211.0zM381.1 207.4zM380.4 215.7zM383.0 220.6zM380.2 205.5zM386.9 203.1zM385.1 210.9zM397.2 202.2zM378.0 209.4zM375.0 207.9zM382.9 224.0zM392.1 194.2zM386.5 201.7zM379.0 205.3zM392.7 210.9zM383.7 203.5zM384.4 215.8zM382.9 215.7zM383.6 201.8zM383.2 201.2zM380.5 199.3zM377.7 222.5zM370.0 215.3zM392.3 216.1zM385.5 234.6zM386.1 212.9zM385.9 208.1zM381.1 196.6zM387.1 219.1zM380.2 210.9zM379.0 211.1zM385.2 236.0zM382.4 214.1zM384.3 207.0zM385.3 210.5zM385.6 216.1zM390.7 212.1zM383.0 223.5zM386.4 218.8zM387.8 206.7zM394.1 216.2zM378.3 210.9zM385.2 235.8zM377.5 199.4zM387.4 204.9zM380.2 194.8zM389.8 209.1zM378.9 209.2zM380.5 201.3zM393.3 218.7zM385.1 206.2zM385.8 220.4zM392.5 209.2zM388.1 206.1zM388.5 210.5zM389.6 206.2zM384.2 228.6zM388.4 219.0zM368.6 221.1zM384.6 220.2zM377.9 211.3zM377.1 212.1zM384.0 219.9zM376.6 215.9zM379.1 218.6zM382.9 206.9zM378.8 196.6zM377.1 212.9zM373.4 219.7zM384.9 220.7zM385.2 227.7zM382.4 195.1zM388.6 205.1zM385.0 183.1zM385.8 216.1zM386.1 199.3zM388.2 204.8zM387.9 209.9zM381.9 204.1zM385.4 215.7zM382.8 202.2zM389.3 218.2zM383.5 213.5zM381.8 216.3zM387.0 205.3zM390.6 186.7zM391.5 189.0zM394.4 209.5zM371.1 221.2zM381.8 205.0zM379.7 212.1zM386.1 223.2zM381.8 203.7zM393.0 210.5zM384.2 223.8zM378.4 204.2zM378.9 219.8zM384.9 211.8zM376.2 186.9zM375.7 227.2zM383.0 209.3zM385.6 214.4zM381.8 221.1zM389.5 217.2zM389.3 208.8zM377.4 212.4zM389.0 219.1zM379.7 207.8zM371.3 196.9zM382.3 211.7zM386.2 210.5zM388.1 223.6zM380.6 229.5zM393.5 208.2zM386.1 212.5zM384.6 228.9zM385.7 203.6zM384.0 183.9zM383.6 218.3zM379.5 220.9zM386.3 218.8zM376.7 201.5zM384.9 197.5zM381.4 218.7zM384.0 205.3zM375.5 199.1zM387.6 209.6zM380.3 205.5zM386.1 206.2zM385.1 207.4zM370.9 195.9zM371.4 216.1zM391.8 185.9zM388.2 204.8zM389.9 223.7zM388.3 215.6zM388.3 221.0zM382.3 189.0zM390.1 205.8zM394.9 229.6zM387.1 211.0zM377.8 193.6zM378.3 206.3zM372.2 215.5zM386.0 204.3zM381.9 213.6zM381.9 205.1zM382.2 231.2zM378.1 215.5zM384.5 209.5zM386.1 218.8zM383.5 209.5zM381.9 212.2zM389.6 200.5zM377.5 217.1zM379.1 222.2zM388.4 215.6zM382.1 196.3zM384.3 204.7zM374.5 204.5zM381.1 215.1zM383.6 212.0zM379.7 213.8zM382.3 205.6zM387.7 203.7zM370.3 217.0zM390.5 211.2zM387.0 211.8zM382.3 197.6zM382.2 216.1zM380.4 203.6zM377.9 207.9zM383.0 203.0zM378.8 214.3zM385.1 206.5zM377.2 223.0zM387.1 217.4zM385.3 212.5zM377.3 193.0zM381.6 216.0zM369.5 206.1zM388.6 206.5zM380.6 215.4zM385.7 220.5zM374.3 214.5zM385.3 212.1zM386.2 222.5zM392.0 213.2zM379.7 204.0zM383.6 215.9zM377.0 210.1zM378.2 205.3zM382.9 190.0zM386.1 215.4zM379.6 210.6zM394.0 224.3zM387.3 211.2zM377.4 204.8zM381.4 206.6zM387.0 199.6zM381.9 203.9zM391.8 211.7zM391.5 207.6zM389.3 212.4zM384.6 209.0zM384.9 213.0zM388.1 208.9zM389.3 206.9zM379.5 196.0zM377.3 193.5zM381.8 214.4zM380.3 211.9zM383.3 216.2zM387.5 214.8zM380.6 198.4zM385.3 203.7zM383.7 201.0zM388.5 218.9zM380.6 230.5zM376.3 208.6zM381.8 208.1zM372.1 219.2zM381.8 220.7zM378.6 214.7zM384.9 209.2zM387.6 214.2zM384.3 211.8zM383.4 212.4zM379.4 210.8zM388.3 208.9zM383.9 198.5zM382.9 196.8zM384.1 211.5zM382.3 219.4zM376.5 203.4zM382.7 214.8zM387.7 221.8zM386.0 196.1zM374.1 217.0zM381.7 200.6zM380.1 202.5zM377.2 204.5zM388.9 216.6zM377.3 225.5zM382.4 216.7zM391.2 215.4zM378.7 203.2zM394.8 195.3zM375.0 213.3zM376.2 219.8zM389.8 228.8zM384.0 233.5zM381.7 203.3zM386.9 224.0zM378.1 217.9zM384.5 212.0zM382.7 215.6zM382.9 234.0zM381.0 194.6zM384.8 194.1zM375.9 205.1zM386.6 203.5zM383.8 215.5zM382.8 211.1zM380.7 189.7zM382.7 190.0zM387.3 206.7zM388.1 211.4zM381.0 226.8zM382.0 202.7zM389.9 213.7zM381.2 197.6zM383.7 232.7zM385.6 199.5zM370.4 206.1zM379.5 208.4zM391.8 209.5zM383.0 216.2zM381.0 205.2zM385.8 218.9zM385.5 213.1zM377.5 203.0zM379.9 205.6zM387.0 207.5zM379.9 212.1zM388.9 219.7zM370.2 218.5zM385.2 186.8zM392.9 225.6zM382.9 203.1zM379.7 202.7zM380.2 213.5zM385.1 193.2zM382.6 225.2zM386.3 213.4zM383.3 197.5zM376.5 220.7zM384.2 193.3zM376.0 210.0zM385.8 216.5zM384.6 207.3zM376.8 221.4zM389.7 212.1zM384.5 190.9zM381.6 205.0zM384.9 226.4zM384.2 211.9zM372.9 216.7zM387.2 209.0zM382.8 204.7zM389.9 211.7zM383.7 222.3zM383.7 206.7zM387.1 213.5zM387.5 214.3zM370.9 197.6zM378.3 210.1zM383.6 215.6zM387.1 228.9zM387.4 204.4zM381.6 221.2zM380.5 221.0zM390.7 227.6zM391.7 215.3zM382.4 214.9zM385.0 209.0zM384.0 189.7zM385.3 204.7zM386.7 202.9zM380.5 213.5zM384.7 209.7zM393.1 224.9zM386.3 221.5zM381.5 219.0zM376.6 199.1zM380.0 207.0zM385.8 229.0zM386.8 220.1zM394.0 213.3zM388.7 195.1zM380.2 217.7zM382.8 218.2zM381.6 200.1zM385.1 184.2zM390.7 218.7zM378.3 201.0zM388.2 222.1zM385.7 212.3zM387.2 221.7zM376.2 215.4zM373.9 195.9zM384.3 232.0zM383.8 212.4zM390.9 201.9zM386.1 190.8zM385.8 221.8zM385.6 224.6zM384.5 226.5zM375.6 210.8zM379.7 212.8zM383.3 199.6zM381.1 187.7zM386.9 202.9zM379.7 204.0zM384.3 219.6zM380.6 216.2zM386.9 209.0zM383.8 200.4zM380.9 215.5zM382.9 213.5zM386.0 214.7zM374.9 212.1zM381.6 215.7zM385.6 218.9zM381.5 210.5zM383.0 200.8zM392.0 217.3zM384.9 213.3zM387.8 206.4zM388.3 217.3zM380.7 217.2zM380.5 212.6zM382.4 210.4zM383.1 218.4zM377.9 193.6zM381.1 205.4zM385.4 200.3zM385.7 206.4zM376.4 220.7zM386.0 212.2zM389.3 210.0zM383.3 225.8zM382.7 211.2zM393.8 221.5zM381.6 221.1zM377.5 202.8zM378.7 192.3zM390.2 205.9zM388.3 188.5zM378.5 221.8zM384.3 221.4zM378.7 234.2zM381.1 211.0zM390.3 205.1zM379.2 226.2zM386.6 214.8zM380.0 213.0zM382.6 203.1zM386.6 222.9zM379.8 224.3zM379.1 211.9zM386.0 224.9zM389.2 198.9zM379.2 204.0zM386.0 213.2zM378.5 212.8zM385.1 212.2zM381.4 210.9zM377.5 199.7zM377.1 201.7zM388.4 211.4zM382.5 206.0zM385.5 206.5zM377.7 213.8zM390.6 210.4zM394.0 203.1zM379.9 194.9zM380.4 222.0zM381.2 213.0zM386.6 215.3zM386.1 211.2zM384.1 204.5zM382.6 193.9zM389.3 216.8zM386.4 204.0zM377.8 213.4zM379.8 206.3zM384.2 219.9zM382.0 222.0zM385.2 220.8zM383.6 223.8zM382.8 222.6zM383.2 215.6zM381.9 213.0zM385.9 203.8zM379.7 223.2zM382.5 206.4zM381.0 226.1zM376.0 191.9zM380.1 206.4zM379.9 211.4zM392.1 216.6zM389.5 216.7zM381.8 212.3zM379.8 195.3zM386.0 218.1zM384.1 227.6zM370.7 228.5zM388.0 220.6zM375.7 191.0zM384.2 224.8zM384.3 216.2zM377.4 207.9zM384.4 207.7zM383.2 205.9zM383.3 208.5zM373.1 205.8zM384.9 207.8zM388.3 231.0zM391.6 221.5zM385.8 217.0zM393.5 210.1zM385.2 220.7zM374.4 232.2zM381.8 203.3zM381.9 202.7zM390.0 215.6zM379.5 201.4zM375.5 196.9zM391.0 203.3zM385.8 213.4zM393.6 215.7zM384.2 208.8zM383.9 217.0zM383.4 208.2zM378.1 203.2zM375.3 233.0zM379.9 211.6zM387.5 215.8zM386.8 197.3zM384.0 217.5zM381.3 190.4zM381.0 221.2zM376.1 235.3zM389.5 202.4zM376.1 206.0zM388.4 220.5zM384.4 199.2zM384.8 200.9zM390.8 208.1zM382.1 214.8zM383.5 226.5zM384.7 204.1zM378.9 217.2zM383.1 210.4zM385.9 204.4zM379.7 225.6zM383.8 195.9zM382.2 209.7zM390.7 221.8zM382.6 202.3zM380.7 222.5zM375.7 209.3zM385.6 211.9zM377.1 205.3zM384.5 204.5zM378.0 212.8zM384.4 223.4zM380.0 218.6zM395.2 209.4zM380.2 211.1zM381.3 214.8zM376.2 220.2zM383.7 206.5zM385.5 225.6zM377.5 211.2zM388.4 197.7zM393.3 213.3zM378.4 197.0zM390.4 222.7zM382.0 207.0zM375.6 223.3zM380.6 204.1zM392.7 223.8zM381.3 202.8zM374.5 219.9zM384.1 230.8zM381.5 224.2zM380.5 182.2zM387.2 213.1zM380.8 222.6zM381.3 224.9zM376.7 218.8zM375.7 207.4zM386.5 197.3zM379.0 202.7zM389.1 192.6zM389.9 212.8zM386.0 192.9zM382.3 215.2zM387.2 216.9zM382.0 217.9zM384.2 213.1zM385.9 221.7zM385.5 210.8zM389.8 217.4zM376.4 205.3zM377.8 205.2zM383.2 215.9zM369.6 211.8zM383.6 206.6zM378.8 212.6zM378.7 202.0zM381.7 214.0zM381.3 214.6zM384.8 212.8zM380.7 213.7zM384.9 205.0zM387.8 202.2zM384.9 200.1zM383.6 207.3zM387.8 202.4zM383.4 213.9zM389.8 209.4zM387.1 191.5zM380.0 217.2zM381.9 185.3zM373.4 219.1zM376.6 207.9zM375.7 198.9zM378.3 203.3zM384.0 216.3zM385.1 208.0zM379.3 229.3zM386.0 211.6zM387.7 197.4zM386.7 215.5zM379.8 214.5zM377.5 229.5zM378.9 194.0zM392.2 208.8zM378.3 198.3zM386.3 214.4zM383.8 196.8zM389.9 205.2zM386.8 216.0zM386.3 220.4zM383.0 206.2zM383.8 195.1zM377.9 200.8zM383.3 197.4zM379.6 209.7zM383.3 207.0zM387.0 207.2zM383.5 202.7zM377.0 205.8zM379.6 217.2zM379.9 207.0zM379.4 216.2zM387.7 215.1zM373.2 222.5zM390.6 215.3zM379.5 198.6zM385.1 196.6zM385.4 206.4zM376.8 208.2zM387.4 197.9zM379.5 210.0zM386.2 212.5zM382.2 222.7zM379.7 209.3zM393.8 195.7zM386.4 195.3zM373.6 200.7zM376.6 208.3zM382.9 211.2zM392.8 200.7zM383.7 220.4zM374.1 201.3zM385.9 200.7zM387.8 214.3zM375.2 206.5zM379.6 234.6zM388.6 206.6zM386.8 225.8zM369.7 199.7zM384.3 209.6zM383.2 207.0zM382.5 218.8zM388.9 219.5zM376.3 201.9zM385.2 225.5zM389.7 214.7zM386.5 197.8zM387.2 214.5zM374.7 210.4zM386.9 218.2zM384.0 213.9zM386.7 203.1zM383.8 221.8zM380.5 189.7zM384.1 203.2zM382.8 213.3zM386.8 203.7zM383.6 210.8zM383.3 207.7zM379.5 202.0zM379.0 218.0zM381.9 203.7zM378.5 197.6zM385.7 223.3zM376.1 204.3zM367.0 221.5zM380.3 214.3zM384.3 208.6zM380.9 213.1zM380.4 217.4zM384.8 207.6zM391.9 190.6zM380.4 206.3zM388.9 197.7zM388.2 213.2zM380.4 214.6zM383.0 199.2zM376.3 223.5zM389.1 206.3zM375.7 211.3zM380.8 207.0zM381.2 204.5zM383.1 224.2zM378.4 210.2zM384.8 189.8zM378.6 201.9zM384.0 206.3zM379.9 217.9zM389.0 209.7zM384.4 207.4zM382.8 209.7zM379.0 214.5zM388.1 205.2zM386.5 214.4zM382.5 205.9zM383.2 218.2zM384.6 201.5zM375.7 193.6zM384.1 212.6zM383.8 206.6zM377.1 229.2zM379.0 214.3zM386.5 212.3zM393.1 230.5zM390.3 217.3zM388.8 203.3zM384.6 210.5zM376.5 210.3zM392.0 223.6zM380.3 217.2zM379.2 209.8zM388.5 203.4zM389.4 201.7zM385.4 212.4zM372.5 196.6zM380.2 223.0zM392.3 211.3zM395.2 221.6zM387.2 205.3zM385.9 225.0zM383.5 211.0zM379.6 198.6zM382.2 223.2zM391.0 215.0zM378.7 217.2zM379.9 208.8zM380.2 218.1zM383.5 230.6zM385.5 218.8zM383.3 210.6zM388.7 198.3zM378.3 203.9zM385.0 224.6zM378.2 213.0zM381.2 217.5zM380.1 219.0zM382.6 215.8zM378.4 226.1zM381.8 208.4zM379.2 218.7zM371.9 214.6zM386.6 196.4zM377.9 204.4zM377.6 197.2zM390.7 209.1zM380.9 217.1zM375.3 231.8zM378.9 223.7zM382.6 224.2zM387.0 206.1zM382.2 201.6zM386.2 217.1zM390.2 205.7zM389.9 222.0zM383.1 221.6zM380.7 205.1zM389.3 213.0zM395.5 214.0zM377.5 204.3zM384.4 217.7zM385.1 212.4zM391.3 216.6zM388.8 197.1zM388.0 212.7zM388.1 212.5zM385.8 219.0zM388.0 202.2zM381.2 219.6zM415.1 174.6zM418.9 167.6zM412.6 160.6zM416.7 179.9zM414.1 169.2zM415.2 155.1zM415.2 171.7zM417.2 176.3zM410.6 179.2zM418.3 160.2zM418.1 161.5zM413.0 166.6zM418.4 172.1zM420.3 171.6zM418.6 175.7zM425.9 178.5zM419.6 171.6zM414.0 173.7zM411.2 172.3zM419.7 162.0zM418.2 171.3zM413.2 160.5zM416.8 167.3zM416.5 183.0zM416.4 182.8zM414.9 176.8zM419.1 182.0zM421.5 150.8zM419.5 170.6zM418.1 165.0zM417.5 174.0zM414.4 168.0zM416.8 169.8zM415.3 169.5zM412.4 181.5zM418.3 180.9zM413.1 196.9zM419.9 168.0zM414.5 180.0zM418.1 172.8zM411.1 184.0zM420.2 173.1zM418.9 184.2zM418.1 184.8zM416.2 169.4zM422.2 162.8zM414.4 161.7zM424.1 170.3zM414.8 175.6zM418.0 168.5zM415.0 187.9zM406.1 173.1zM414.5 178.5zM414.4 178.9zM410.7 172.8zM420.9 178.9zM413.9 173.2zM418.7 168.1zM410.6 176.5zM412.6 157.9zM422.9 162.5zM416.9 169.9zM421.0 173.7zM417.3 188.2zM420.0 178.0zM414.2 162.9zM417.0 183.9zM414.3 185.7zM418.3 171.1zM420.4 168.2zM413.5 182.4zM420.3 174.2zM423.0 176.5zM408.6 187.5zM417.2 172.6zM415.5 171.2zM421.9 175.8zM417.8 173.8zM416.5 166.2zM417.2 179.4zM416.6 169.2zM419.9 171.1zM416.8 188.4zM414.6 169.6zM416.1 174.8zM415.4 171.5zM421.9 162.3zM420.4 172.9zM419.3 171.2zM416.8 174.1zM422.3 166.1zM411.2 169.8zM414.1 179.6zM420.8 157.7zM410.8 183.8zM407.0 186.4zM415.6 189.2zM419.7 158.9zM420.0 163.0zM418.6 167.4zM419.3 167.8zM416.4 177.6zM412.5 177.9zM412.6 191.3zM410.9 176.5zM416.4 179.7zM417.4 155.5zM417.9 170.0zM420.1 170.7zM421.7 165.0zM417.7 169.6zM417.2 157.9zM418.2 173.1zM416.6 178.5zM417.0 175.5zM416.7 174.4zM413.8 172.4zM412.9 169.7zM417.0 163.7zM410.9 191.3zM414.8 186.3zM417.4 170.5zM411.6 189.3zM418.0 171.0zM414.9 169.4zM417.7 178.4zM416.6 164.2zM413.2 177.8zM415.5 174.3zM420.6 152.9zM412.8 186.6zM416.9 167.6zM419.4 162.4zM422.3 166.8zM415.4 183.1zM417.6 156.5zM419.0 171.6zM414.1 162.3zM420.1 163.9zM413.0 175.9zM412.3 181.3zM417.1 150.0zM413.8 172.1zM418.0 174.2zM419.9 168.0zM413.2 172.4zM416.9 174.2zM414.3 171.4zM415.9 166.0zM419.6 180.3zM414.8 159.9zM415.1 170.4zM414.4 177.1zM415.4 166.6zM412.9 175.8zM416.1 179.2zM412.4 167.0zM417.2 176.3zM414.9 193.8zM421.3 171.5zM421.6 162.8zM416.9 174.3zM417.7 157.3zM423.0 168.7zM415.2 180.7zM422.2 181.0zM417.9 155.7zM412.5 193.4zM421.1 156.5zM419.5 173.3zM416.6 175.1zM412.8 170.8zM418.0 176.8zM414.2 176.9zM415.8 189.5zM415.0 182.6zM411.6 184.4zM412.7 176.3zM419.2 162.6zM415.2 187.6zM422.3 169.4zM420.4 162.3zM418.2 183.0zM416.6 178.4zM408.3 184.1zM416.5 171.5zM416.0 180.5zM418.2 177.6zM419.4 172.7zM412.4 180.2zM421.5 173.9zM422.3 177.3zM422.5 166.5zM413.6 184.5zM410.9 180.9zM419.8 179.5zM417.9 172.9zM416.9 177.0zM415.4 171.0zM415.2 169.9zM416.5 182.1zM415.1 172.3zM414.7 183.3zM414.3 165.2zM422.3 172.9zM414.4 172.7zM414.7 153.8zM417.2 175.2zM415.4 171.5zM415.3 167.5zM416.6 179.3zM419.4 170.0zM415.6 173.0zM417.1 167.8zM409.1 189.4zM421.8 168.0zM417.6 151.0zM424.9 160.5zM412.6 175.1zM417.3 174.3zM417.6 166.1zM412.2 181.6zM422.4 153.0zM415.0 169.1zM418.7 189.8zM419.9 170.1zM418.5 176.3zM421.7 169.2zM408.5 181.3zM417.7 160.5zM420.0 175.1zM421.1 168.2zM414.4 179.4zM418.6 175.1zM412.2 171.6zM418.4 156.9zM418.3 181.0zM411.0 181.7zM415.0 185.7zM418.9 179.1zM418.8 158.6zM417.3 169.4zM417.5 167.1zM416.1 181.6zM415.3 164.2zM419.5 165.0zM414.0 185.3zM419.9 171.8zM422.1 180.7zM413.0 167.6zM420.6 167.0zM416.0 171.2zM423.2 165.7zM418.5 172.5zM418.6 166.7zM417.4 176.2zM413.0 167.9zM412.2 176.0zM413.2 169.1zM415.2 174.5zM417.4 175.5zM416.3 166.9zM416.8 185.8zM409.8 183.2zM420.9 177.5zM416.5 168.0zM422.3 153.6zM420.3 170.8zM414.2 187.6zM412.9 181.2zM423.1 170.7zM415.5 180.1zM416.4 174.3zM415.0 163.8zM412.6 190.7zM415.6 161.1zM412.5 189.5zM421.9 167.2zM420.5 161.8zM416.2 173.0zM422.3 164.2zM414.0 169.9zM418.6 163.0zM418.8 175.9zM423.8 178.8zM414.8 170.4zM411.6 179.9zM414.7 163.9zM416.2 176.1zM408.5 180.9zM417.9 178.4zM418.9 166.8zM412.9 182.5zM415.4 168.7zM411.1 175.1zM420.9 172.0zM414.4 181.8zM415.8 184.7zM418.5 170.7zM417.0 168.2zM416.0 160.7zM415.6 174.2zM419.5 165.7zM416.9 170.5zM420.6 184.8zM412.5 176.3zM414.0 166.5zM415.9 167.4zM418.1 175.7zM415.2 175.9zM413.2 156.3zM411.9 165.2zM417.4 170.5zM417.1 164.8zM417.1 161.8zM417.5 152.9zM421.9 160.1zM415.0 180.4zM414.9 184.6zM420.9 163.2zM410.7 181.5zM415.5 161.6zM418.8 178.7zM418.2 168.8zM419.9 174.3zM417.2 181.5zM419.3 175.2zM414.5 182.4zM416.9 166.2zM412.1 184.2zM412.5 181.3zM422.5 154.5zM416.0 170.9zM416.4 170.3zM408.7 173.0zM420.4 173.2zM413.9 174.1zM413.0 165.2zM413.0 164.5zM416.4 177.6zM422.1 156.0zM418.8 158.2zM417.8 166.9zM427.8 180.4zM421.1 167.0zM416.8 155.5zM413.7 161.0zM413.1 178.5zM420.7 154.5zM418.0 160.1zM418.2 168.2zM415.0 175.8zM419.8 164.9zM417.2 187.8zM419.1 175.5zM418.8 172.4zM420.8 163.9zM412.8 169.4zM417.9 162.6zM418.7 177.6zM419.8 161.3zM421.5 173.3zM420.4 159.7zM419.9 182.8zM420.0 162.4zM415.3 181.1zM417.7 164.5zM421.3 155.6zM413.1 176.7zM415.2 163.5zM415.7 185.3zM420.3 173.2zM414.4 184.9zM417.7 182.5zM415.8 164.7zM415.1 160.0zM415.0 178.8zM418.7 160.4zM418.6 172.5zM418.7 155.2zM416.1 171.0zM413.3 176.0zM422.7 160.8zM416.4 170.2zM419.6 167.3zM413.9 177.8zM416.9 166.0zM420.6 171.9zM417.6 159.8zM416.5 170.4zM416.7 190.2zM419.4 168.3zM419.0 177.7zM413.5 179.9zM419.3 181.9zM418.6 173.2zM415.7 183.9zM417.4 165.9zM418.8 176.0zM421.6 158.1zM414.3 171.7zM416.0 176.5zM420.3 169.6zM411.0 170.5zM412.7 179.9zM420.0 165.3zM417.5 175.6zM413.8 173.4zM420.4 174.5zM420.0 167.1zM414.1 196.1zM408.7 172.4zM414.5 171.0zM417.2 178.3zM419.3 157.8zM416.8 182.7zM417.3 180.4zM421.6 171.4zM418.5 189.6zM412.7 167.9zM418.2 150.8zM416.8 168.5zM418.6 169.5zM421.8 169.1zM421.6 170.8zM416.8 165.3zM418.3 167.5zM419.1 167.9zM417.0 179.1zM416.5 183.8zM410.4 180.4zM421.0 180.7zM416.9 159.2zM418.0 161.3zM413.7 169.3zM414.2 175.1zM417.7 170.2zM416.3 176.9zM417.2 186.6zM411.0 175.4zM412.0 184.3zM415.1 176.6zM419.5 183.4zM414.5 166.1zM414.8 162.0zM411.6 178.2zM415.8 179.1zM407.6 187.1zM416.5 162.9zM420.0 175.0zM416.3 160.5zM409.9 185.1zM417.6 169.9zM412.6 181.2zM412.7 169.6zM421.0 160.1zM418.7 165.3zM416.4 166.6zM417.8 170.9zM413.8 184.6zM416.9 181.4zM420.4 181.0zM423.5 179.5zM416.4 175.3zM418.0 182.4zM416.5 190.4zM423.7 176.2zM412.0 183.2zM412.4 169.3zM421.0 179.3zM418.6 162.3zM421.1 171.9zM417.4 162.8zM422.6 170.1zM418.8 178.4zM418.0 178.3zM412.7 185.7zM414.5 168.0zM426.0 157.7zM415.6 172.7zM413.1 182.7zM420.3 181.0zM416.8 160.0zM412.5 161.1zM415.5 182.0zM415.3 181.8zM422.9 159.3zM416.4 169.0zM415.1 181.3zM415.5 180.9zM413.6 168.8zM412.4 157.7zM421.5 177.6zM413.6 165.7zM420.9 180.5zM412.6 181.3zM417.7 173.9zM417.9 168.1zM415.5 172.6zM416.0 181.2zM418.6 173.8zM416.6 174.2zM417.5 163.2zM415.7 168.4zM425.3 181.9zM420.3 161.9zM416.8 184.0zM414.5 178.3zM415.2 168.4zM418.0 160.1zM417.2 163.9zM414.3 176.3zM415.9 172.1zM416.9 186.2zM417.8 177.9zM411.0 178.6zM411.1 174.3zM417.4 178.2zM416.2 164.0zM415.1 179.6zM417.4 179.7zM414.6 180.8zM413.3 188.3zM419.5 165.0zM416.5 179.7zM418.2 155.4zM416.8 174.0zM409.8 180.3zM409.6 157.7zM417.3 173.6zM418.4 183.1zM410.7 180.4zM409.9 171.3zM418.8 157.1zM415.7 175.1zM414.4 183.4zM416.4 170.6zM418.4 169.5zM414.5 188.7zM420.5 164.3zM420.8 166.8zM416.7 175.3zM418.3 154.0zM415.3 174.2zM419.4 172.3zM417.9 172.1zM420.1 179.4zM417.0 168.7zM416.6 164.1zM421.3 161.1zM420.0 154.3zM413.7 170.7zM420.6 172.5zM413.2 180.8zM414.6 187.0zM421.2 168.6zM412.5 175.4zM414.6 175.6zM414.4 185.6zM414.6 174.7zM415.7 178.3zM413.3 189.0zM418.4 165.8zM423.8 175.2zM414.8 180.3zM414.5 174.0zM414.6 169.9zM414.4 168.4zM415.7 179.8zM420.9 165.3zM420.2 165.0zM417.6 182.8zM421.2 158.9zM415.1 153.5zM419.4 183.5zM414.1 183.5zM411.3 170.2zM416.9 183.5zM416.6 163.4zM420.9 169.9zM414.2 172.5zM420.0 169.1zM416.7 181.7zM412.2 187.5zM419.9 161.1zM415.6 168.8zM415.7 171.5zM420.9 164.3zM420.6 174.4zM415.3 169.4zM416.9 168.7zM421.6 179.1zM415.4 178.5zM409.1 184.4zM414.0 174.4zM420.3 159.5zM417.2 177.8zM418.0 170.9zM421.7 171.8zM413.8 171.9zM417.2 168.5zM420.4 161.9zM410.4 174.9zM414.7 188.9zM419.8 174.1zM415.0 180.9zM412.8 189.0zM416.2 163.0zM415.7 171.6zM414.2 176.7zM410.8 183.0zM417.7 161.8zM416.4 167.3zM413.2 183.6zM414.6 166.5zM424.6 175.4zM415.5 167.8zM417.2 193.2zM415.9 173.8zM417.6 170.1zM414.9 178.7zM421.8 155.5zM413.8 168.8zM416.7 172.2zM415.2 178.8zM413.9 166.0zM419.8 160.3zM413.1 182.7zM414.9 183.1zM420.4 163.2zM419.2 169.4zM417.5 182.8zM417.2 170.0zM417.9 168.0zM415.1 173.4zM417.2 178.3zM414.8 173.6zM419.0 161.4zM414.7 162.1zM413.7 178.7zM417.0 173.2zM417.8 170.4zM421.4 169.0zM413.3 174.0zM418.0 158.8zM415.1 199.4zM422.2 168.0zM412.6 185.5zM421.4 162.6zM419.4 171.7zM419.2 181.0zM421.8 168.2zM416.3 174.7zM413.8 173.9zM418.5 171.9zM415.7 175.8zM414.9 174.0zM408.9 172.0zM417.3 176.1zM423.9 174.1zM412.6 182.3zM419.7 175.0zM423.2 167.1zM416.9 168.6zM421.3 194.4zM413.5 182.8zM418.1 168.5zM416.1 163.8zM418.2 167.8zM418.2 177.4zM422.4 167.5zM415.6 178.6zM418.9 173.9zM413.7 179.8zM419.1 167.7zM417.6 181.3zM416.1 174.6zM413.1 156.1zM420.0 171.1zM416.8 175.8zM419.1 165.2zM412.8 178.2zM411.9 184.6zM413.5 180.6zM414.7 184.5zM416.1 180.2zM414.4 178.1zM415.2 176.5zM418.5 170.3zM411.9 177.9zM417.9 173.9zM415.3 158.3zM416.9 172.9zM418.3 168.3zM412.3 183.7zM418.5 170.0zM420.9 174.3zM413.7 160.3zM414.0 182.0zM412.8 194.5zM425.4 170.2zM417.6 178.9zM413.6 177.2zM419.1 161.0zM411.6 183.3zM415.6 183.4zM419.2 172.2zM417.5 157.4zM417.3 194.3zM417.5 184.0zM417.3 170.3zM409.4 184.2zM422.1 156.0zM413.0 168.1zM418.7 183.4zM419.1 166.5zM414.2 181.9zM409.9 174.2zM417.9 170.4zM422.4 175.5zM416.6 170.7zM419.0 171.1zM416.6 184.9zM419.0 184.5zM413.8 176.1zM413.1 181.2zM417.0 182.1zM420.5 164.6zM413.3 172.0zM413.4 180.7zM420.3 182.9zM418.3 168.5zM415.8 179.9zM417.1 162.7zM417.7 157.8zM415.7 176.1zM410.6 190.0zM417.1 188.7zM420.5 174.8zM416.7 178.0zM418.9 184.7zM415.8 153.0zM419.8 171.5zM421.4 169.1zM409.4 163.8zM408.9 178.1zM421.7 177.2zM419.5 164.9zM416.0 191.1zM414.3 170.9zM419.3 171.7zM418.6 169.4zM416.8 195.8zM418.1 174.7zM414.7 178.8zM413.0 178.2zM415.0 166.2zM419.3 168.6zM416.7 176.8zM419.6 168.6zM415.1 181.1zM417.2 179.1zM420.9 171.4zM424.3 178.9zM414.3 163.7zM416.7 175.1zM418.6 168.0zM417.6 177.4zM413.6 182.9zM417.0 168.4zM415.6 159.9zM410.0 192.2zM417.5 168.0zM414.5 172.8zM418.8 173.3zM417.5 158.1zM415.5 196.0zM418.3 172.3zM416.5 178.4zM419.3 178.1zM419.3 166.9zM420.9 171.8zM412.3 168.6zM420.6 171.0zM420.6 178.6zM411.2 175.3zM415.1 165.3zM412.5 175.6zM417.0 175.5zM418.0 173.9zM417.1 156.8zM420.9 163.6zM411.7 176.9zM415.4 171.9zM412.8 196.7zM417.3 166.5zM423.7 178.4zM412.2 188.1zM416.6 154.8zM415.7 172.8zM423.8 175.9zM420.9 169.2zM416.2 177.7zM415.5 157.1zM422.8 173.0zM421.2 162.2zM415.6 181.0zM422.6 163.5zM415.3 181.7zM417.4 169.2zM419.6 166.6zM416.9 162.0zM411.4 174.1zM420.5 167.9zM415.4 175.1zM417.5 185.3zM418.0 177.2zM417.3 177.4zM415.2 183.7zM416.9 161.9zM416.3 156.8zM409.9 189.9zM417.3 172.9zM412.9 184.4zM413.1 172.1zM416.4 168.6zM417.5 157.0zM411.1 190.7zM414.1 166.1zM417.0 175.1zM412.7 179.1zM420.5 167.0zM416.4 174.2zM418.6 179.4zM414.4 168.1zM416.0 173.7zM413.8 164.7zM418.9 168.5zM422.7 164.3zM410.6 178.5zM415.3 189.0zM415.7 177.6zM422.7 170.0zM410.5 177.2zM417.1 170.2zM420.6 157.5zM417.5 192.2zM415.5 178.2zM413.6 169.6zM417.3 167.4zM414.3 174.8zM418.5 173.9zM416.7 174.8zM417.8 173.8zM416.6 174.1zM420.2 166.8zM420.4 172.1zM413.8 179.9zM418.0 172.4zM413.1 160.9zM416.5 172.4zM417.1 179.8zM413.8 184.4zM418.1 175.1zM413.8 184.5zM417.1 162.4zM412.7 166.8zM423.0 171.7zM422.2 162.5zM418.5 160.0zM421.4 164.4zM415.8 181.5zM418.2 167.4zM420.8 167.1zM420.2 166.2zM414.5 173.5zM416.8 174.8zM416.4 171.4zM415.0 169.7zM419.5 158.4zM413.0 175.3zM420.5 171.7zM415.1 181.5zM414.2 168.1zM416.5 167.2zM417.9 183.0zM420.3 161.4zM418.3 169.4zM420.8 156.0zM417.4 160.6zM418.3 170.4zM416.9 177.6zM416.5 169.7zM412.6 190.2zM419.1 169.4zM411.2 180.8zM417.4 166.1zM412.7 171.0zM419.3 150.4zM412.8 179.4zM416.1 175.5zM415.6 178.5zM417.6 168.0zM418.8 182.2zM424.1 164.6zM414.1 162.9zM417.2 168.1zM421.3 163.3zM413.2 166.7zM415.5 172.8zM421.3 161.0zM420.6 163.2zM416.8 172.6zM417.5 174.1zM412.6 172.7zM415.3 168.6zM423.5 173.2zM415.8 170.6zM415.4 173.2zM413.0 184.5zM421.7 159.6zM415.3 185.7zM416.2 173.1zM413.7 173.3zM417.3 162.4zM416.4 185.0zM415.1 158.9zM413.7 179.3zM420.2 157.3zM421.0 169.4zM411.7 177.3zM421.6 180.6zM420.6 173.4zM416.6 179.4zM416.0 168.7zM418.6 168.0zM412.2 157.8zM415.2 176.5zM415.0 171.6zM417.0 175.5zM419.9 187.0zM416.7 177.5zM414.2 168.3zM412.5 173.8zM408.9 175.2zM418.1 168.0zM412.4 176.0zM417.6 176.2zM418.5 167.3zM421.8 154.0zM422.3 178.4zM417.0 176.7zM416.8 170.1zM418.9 179.4zM420.2 172.9zM422.1 152.5zM418.0 170.8zM420.4 157.0zM413.5 179.5zM420.5 157.9zM417.5 169.9zM419.8 165.7zM413.2 166.9zM416.7 182.0zM416.9 165.5zM419.6 170.7zM418.8 176.7zM417.9 165.3zM416.8 160.2zM414.5 170.4zM417.6 174.8zM418.8 162.6zM418.3 157.6zM418.5 169.2zM422.0 160.5zM408.7 181.3zM419.4 174.7zM419.2 187.2zM414.3 170.6zM418.3 173.2zM415.7 175.5zM417.2 180.6zM416.7 163.1zM421.6 166.3zM416.5 169.3zM424.2 162.7zM408.7 201.0zM416.7 173.8zM413.5 178.3zM411.4 187.7zM418.4 171.1zM424.8 167.1zM417.5 173.9zM417.9 164.3zM418.0 173.4zM418.5 163.2zM418.7 167.7zM417.0 170.4zM419.2 175.7zM417.8 166.8zM417.2 169.8zM424.3 175.9zM415.4 176.1zM421.5 169.7zM416.3 174.1zM418.2 172.6zM418.1 171.9zM415.0 174.9zM419.4 174.3zM416.2 179.8zM417.2 176.1zM413.8 168.0zM424.9 176.6zM417.6 166.5zM414.6 170.7zM419.8 168.9zM417.0 173.4zM416.9 182.4zM415.9 185.6zM410.9 183.1zM419.5 162.6zM417.4 174.2zM413.3 173.7zM419.7 158.4zM415.3 185.9zM416.0 173.1zM413.0 187.1zM419.4 174.1zM414.2 175.3zM417.2 169.8zM415.9 178.3zM420.3 180.1zM418.5 172.6zM416.0 169.4zM425.0 157.2zM424.2 165.4zM419.8 197.3zM414.7 167.9zM419.7 162.5zM409.5 183.4zM413.0 197.1zM421.0 167.8zM415.2 175.5zM415.0 178.0zM414.2 178.5zM415.5 182.3zM411.4 169.7zM416.6 159.3zM423.2 174.9zM424.8 163.3zM417.8 177.7zM416.9 168.0zM417.7 158.8zM419.3 178.8zM417.9 177.5zM413.6 181.8zM414.8 160.8zM417.1 164.2zM419.0 173.4zM411.7 174.4zM413.1 180.6zM420.9 157.7zM418.4 163.6zM413.2 184.5zM414.6 177.1zM420.0 159.0zM417.8 177.6zM410.6 190.1zM420.3 169.9zM419.4 170.2zM417.5 166.7zM411.6 177.5zM409.4 175.0zM417.3 167.1zM418.9 171.6zM417.5 174.1zM418.0 187.9zM417.0 178.4zM415.6 177.2zM417.7 181.1zM419.0 180.6zM413.7 173.1zM419.9 178.1zM417.1 178.5zM417.4 162.6zM421.5 165.3zM415.5 176.4zM417.8 178.8zM420.2 190.0zM417.9 172.1zM411.4 195.6zM419.4 171.3zM415.2 161.0zM419.7 186.3zM416.3 179.8zM419.1 180.0zM414.7 168.3zM414.6 182.9zM420.9 176.3zM421.9 173.0zM413.7 167.1zM414.2 182.2zM413.3 186.5zM412.9 161.3zM416.3 167.8zM418.5 170.1zM416.7 173.1zM421.5 153.1zM420.2 173.1zM418.4 188.1zM421.9 154.9zM418.4 168.3zM414.5 161.6zM414.3 164.8zM418.8 164.6zM413.5 172.2zM419.0 174.9zM416.4 169.8zM416.8 168.1zM411.6 155.0zM420.5 171.7zM418.6 175.1zM414.9 165.2zM416.1 181.3zM418.7 173.1zM409.1 177.1zM413.7 177.1zM419.9 177.0zM415.4 156.4zM415.8 162.4zM422.7 179.0zM414.1 168.1zM421.9 159.9zM418.0 156.0zM411.8 168.2zM415.4 164.5zM417.9 162.1zM419.0 155.7zM418.2 169.6zM411.1 182.6zM418.6 157.1zM423.0 157.6zM413.4 172.9zM411.6 186.0zM423.3 161.3zM418.3 168.1zM413.0 163.1zM413.0 178.4zM415.8 160.2zM418.5 169.3zM419.1 169.8zM419.5 171.4zM418.1 190.8zM419.9 163.6zM417.7 172.8zM420.5 162.8zM413.1 175.8zM424.1 155.8zM415.0 185.8zM418.3 162.0zM420.0 163.2zM412.0 174.3zM413.4 185.3zM417.0 173.4zM415.2 172.2zM414.1 174.4zM418.6 152.1zM420.6 161.9zM423.7 164.0zM419.6 168.6zM418.8 188.4zM418.8 179.5zM422.1 174.2zM419.6 176.2zM406.8 181.0zM420.2 167.5zM416.0 179.5zM418.1 177.5zM417.1 181.2zM413.0 191.9zM419.8 179.9zM420.5 164.5zM417.1 169.4zM415.3 168.3zM415.0 161.8zM418.3 173.0zM422.2 173.3zM413.8 171.0zM416.4 176.4zM418.3 170.2zM417.6 182.8zM421.1 168.6zM419.8 172.0zM415.6 157.8zM414.7 171.8zM420.2 186.2zM415.8 183.7zM414.9 162.2zM416.8 183.3zM418.2 177.7zM419.2 189.7zM418.8 176.1zM418.1 176.9zM417.0 166.8zM414.2 175.0zM413.4 173.5zM417.5 188.4zM417.4 167.4zM412.3 181.5zM416.6 167.0zM416.9 177.9zM418.6 163.7zM413.7 162.2zM423.3 165.0zM413.8 162.3zM418.6 189.9zM411.7 179.9zM416.2 172.3zM419.5 182.3zM421.2 157.1zM416.8 183.9zM419.3 151.6zM416.7 164.4zM418.8 169.2zM423.1 163.3zM416.5 163.4zM409.2 168.6zM420.0 171.1zM421.0 175.7zM415.9 168.1zM414.5 180.2zM421.5 171.2zM419.9 168.8zM413.7 178.9zM410.9 179.9zM413.7 179.5zM417.0 157.4zM411.2 166.3zM417.0 158.3zM411.1 172.8zM413.1 190.3zM425.3 162.4zM414.4 161.9zM417.1 178.5zM411.7 173.0zM421.9 161.1zM414.7 179.6zM423.8 173.0zM415.4 180.3zM417.4 192.8zM416.7 184.1zM408.8 173.7zM418.8 169.4zM421.5 168.1zM414.6 165.4zM420.7 166.9zM420.0 187.3zM412.7 174.9zM414.8 174.4zM422.7 160.6zM422.7 168.5zM418.9 173.0zM422.6 161.1zM418.9 175.2zM411.4 196.5zM412.1 169.1zM421.5 175.2zM414.0 176.1zM416.0 160.1zM412.6 184.3zM415.4 164.3zM421.7 153.6zM419.0 161.2zM418.7 178.8zM415.3 170.4zM416.4 172.0zM412.7 169.9zM412.1 164.7zM412.1 183.6zM413.9 165.2zM409.1 172.3zM416.5 168.1zM417.0 171.5zM412.3 174.0zM412.4 174.8zM418.8 166.7zM417.1 164.0zM412.8 175.9zM417.4 158.8zM414.0 176.1zM415.5 177.9zM412.6 167.6zM415.7 168.4zM418.7 177.8zM413.0 174.9zM424.0 189.4zM417.1 175.7zM411.6 167.4zM413.9 171.0zM415.9 168.8zM417.6 172.8zM411.5 175.9zM419.2 167.2zM417.0 156.8zM418.4 191.9zM417.3 169.8zM415.0 162.7zM411.9 177.7zM415.6 179.4zM418.1 184.2zM418.0 174.6zM420.3 162.5zM416.5 174.3zM418.5 156.1zM417.3 165.9zM418.8 167.4zM418.1 164.4zM415.6 164.7zM417.3 163.8zM414.7 184.3zM417.6 176.5zM414.7 175.0zM422.5 170.5zM421.5 174.2zM421.2 168.0zM420.9 166.4zM413.5 185.1zM416.4 165.1zM412.9 177.9zM412.8 187.0zM417.3 184.1zM418.2 162.0zM415.0 164.7zM416.8 186.5zM417.4 164.0zM418.4 171.0zM417.1 185.4zM410.5 187.4zM414.7 171.8zM416.2 176.9zM415.7 182.2zM415.2 177.3zM423.6 175.6zM416.1 176.0zM412.8 180.5zM421.8 171.7zM416.7 179.6zM412.3 168.0zM418.5 173.5zM415.6 168.2zM416.3 168.3zM420.9 177.9zM415.5 171.9zM416.8 160.1zM415.4 175.1zM423.1 153.9zM418.1 164.6zM418.2 154.0zM419.3 181.3zM418.4 174.2zM418.6 166.6zM417.6 178.4zM415.6 156.3zM422.2 178.0zM422.4 174.7zM413.0 190.9zM420.6 159.5zM419.2 176.5zM410.7 180.6zM413.0 176.3zM425.6 163.3zM417.5 168.3zM416.4 169.7zM411.4 174.9zM417.0 163.7zM415.6 177.7zM418.8 168.3zM420.4 171.9zM417.8 161.1zM415.3 169.2zM416.6 156.1zM419.1 167.9zM413.3 173.7zM419.4 158.5zM424.3 153.6zM415.5 166.8zM413.5 170.4zM416.8 170.7zM411.0 186.1zM419.5 156.7zM413.0 187.9zM422.5 159.5zM418.3 181.3zM413.0 168.1zM419.0 156.0zM415.7 190.1zM417.0 165.4zM414.8 176.0zM414.3 170.5zM419.1 172.8zM415.4 170.8zM412.5 172.3zM414.3 174.7zM413.2 172.3zM413.0 155.3zM421.4 155.3zM415.8 171.0zM412.0 179.6zM413.8 171.3zM412.1 180.7zM412.3 177.0zM421.3 156.9zM423.3 166.9zM413.2 179.6zM420.5 170.7zM418.4 178.8zM421.0 171.1zM415.5 176.0zM418.4 174.0zM416.9 160.4zM419.7 160.5zM416.0 174.2zM414.6 175.7zM415.2 184.8zM418.2 173.4zM419.8 176.8zM421.6 188.1zM420.9 171.3zM414.9 181.6zM417.1 165.4zM413.3 164.6zM415.5 150.7zM416.4 170.2zM421.0 154.1zM415.8 179.7zM416.4 163.9zM414.5 161.1zM411.7 176.5zM422.1 174.2zM409.9 176.6zM414.7 169.6zM412.6 186.0zM407.8 184.9zM419.4 176.0zM415.4 163.5zM416.6 179.7zM415.5 186.9zM418.2 180.6zM417.6 168.6zM418.5 164.0zM415.3 178.5zM417.7 168.9zM420.9 169.7zM412.0 165.7zM418.2 157.2zM416.0 173.0zM413.7 172.4zM413.8 177.4zM421.1 156.2zM413.9 176.8zM414.0 163.2zM423.4 161.6zM412.3 163.1zM417.5 184.9zM418.7 173.4zM417.6 163.3zM411.9 179.5zM415.3 177.4zM416.6 163.5zM424.6 158.6zM413.5 179.5zM415.7 180.6zM419.7 163.6zM419.4 167.5zM414.2 171.4zM422.5 163.5zM416.8 177.3zM414.4 171.3zM421.2 167.9zM421.4 171.0zM419.0 177.5zM422.4 183.0zM418.7 170.4zM420.2 158.7zM414.7 175.6zM420.3 155.2zM424.1 153.9zM413.1 177.3zM418.2 177.8zM417.6 175.4zM415.6 177.4zM418.6 169.5zM416.2 168.1zM418.3 176.9zM420.4 167.0zM416.5 170.2zM423.0 164.7zM416.4 157.2zM419.0 166.4zM415.2 162.2zM415.4 175.8zM419.5 171.8zM412.6 178.6zM422.8 170.6zM412.5 181.1zM412.3 181.4zM412.5 174.1zM417.1 164.3zM414.9 170.8zM423.1 165.7zM421.0 169.3zM410.3 174.4zM419.2 166.1zM416.9 179.5zM417.3 185.0zM418.2 173.1zM419.3 174.9zM418.4 172.8zM417.7 166.4zM421.2 170.5zM420.6 170.0zM414.6 167.9zM417.0 177.4zM417.9 171.9zM417.3 180.4zM412.7 180.9zM413.1 190.2zM412.7 176.7zM415.5 170.4zM419.3 170.6zM416.0 181.1zM413.3 172.2zM420.7 171.4zM420.1 174.8zM415.0 174.8zM414.7 167.6zM417.3 177.1zM422.3 171.0zM414.2 168.3zM417.1 174.6zM415.9 187.0zM418.1 167.0zM414.6 166.3zM423.1 174.4zM412.1 182.2zM420.6 180.3zM415.7 184.9zM415.3 181.6zM414.3 170.5zM413.7 161.4zM414.1 181.8zM422.3 190.1zM421.3 167.1zM416.5 183.5zM414.1 176.4zM416.1 181.8zM417.6 163.6zM414.9 176.3zM423.7 164.3zM418.2 177.2zM418.3 176.0zM416.0 161.0zM414.7 176.1zM416.8 190.0zM406.9 192.3zM419.6 178.8zM419.4 157.1zM421.8 167.4zM415.0 171.7zM417.1 158.7zM413.9 172.8zM415.9 176.2zM416.2 164.6zM422.4 171.8zM416.1 170.4zM420.6 163.4zM422.0 170.1zM415.2 176.4zM417.1 184.3zM415.2 178.2zM420.2 154.3zM416.5 174.6zM417.1 169.8zM412.5 176.1zM417.2 182.7zM409.6 186.1zM415.1 157.1zM414.5 167.0zM414.6 187.5zM420.1 169.4zM419.1 172.0zM416.5 169.0zM416.5 172.4zM412.8 170.1zM418.4 168.9zM416.8 170.3zM417.0 178.8zM421.3 168.7zM419.8 151.0zM409.2 166.0zM418.5 181.2zM418.6 160.6zM418.9 186.2zM412.8 168.0zM416.1 171.1zM415.8 186.1zM417.5 181.3zM419.6 179.5zM407.6 182.0zM419.8 183.5zM417.4 167.4zM421.7 173.9zM421.6 156.7zM415.6 168.4zM417.3 194.8zM411.5 189.3zM418.2 162.3zM415.7 170.7zM417.9 176.3zM413.2 183.4zM416.8 170.9zM415.1 168.2zM416.9 169.3zM422.4 160.0zM418.6 166.5zM421.2 182.3zM420.3 161.4zM412.6 170.1zM419.7 166.1zM418.6 166.9zM415.3 171.2zM417.2 173.3zM413.3 165.1zM414.1 172.8zM419.6 161.6zM416.4 169.9zM417.3 178.6zM421.2 175.5zM416.4 173.6zM418.3 158.9zM417.2 154.5zM419.3 170.9zM409.5 173.9zM410.1 183.2zM415.4 174.6zM420.6 163.0zM416.0 169.3zM413.9 179.0zM414.3 175.7zM419.0 154.3zM420.6 182.9zM417.1 165.7zM415.4 190.9zM413.1 172.2zM416.4 187.8zM417.9 173.6zM414.6 178.4zM416.6 182.3zM419.8 163.3zM412.1 163.1zM420.0 182.1zM415.6 175.8zM412.3 171.9zM417.7 182.4zM412.1 172.9zM422.2 152.1zM416.7 172.9zM416.7 169.8zM421.3 157.4zM422.2 164.7zM411.6 166.5zM423.9 170.0zM412.9 168.4zM411.2 184.5zM412.4 167.2zM410.6 191.4zM413.6 188.9zM414.8 178.2zM415.3 170.2zM413.4 176.9zM418.7 164.8zM420.1 168.4zM416.9 185.3zM418.1 171.6zM416.4 173.5zM420.5 161.6zM419.6 188.3zM411.2 181.3zM415.4 176.2zM414.6 178.1zM418.6 160.7zM413.4 163.3zM417.4 167.1zM415.1 165.5zM419.6 174.3zM417.9 180.1zM412.5 166.1zM413.1 175.3zM425.2 179.3zM414.6 189.0zM414.8 175.8zM416.4 160.7zM420.8 176.7zM419.2 180.8zM417.5 162.1zM419.7 179.4zM412.8 174.8zM419.3 156.4zM409.2 197.5zM420.8 168.7zM418.4 170.6zM410.3 163.9zM417.8 169.5zM420.4 165.5zM420.5 166.6zM417.7 165.7zM418.8 173.2zM424.1 172.6zM417.6 178.3zM418.3 179.9zM416.0 178.9zM421.5 179.2zM416.1 183.9zM409.5 167.6zM416.9 172.9zM419.8 180.7zM417.5 177.0zM413.9 179.0zM415.9 180.2zM414.9 176.1zM416.7 174.9zM411.9 173.7zM416.5 180.7zM419.2 178.2zM417.8 171.2zM409.9 178.1zM413.2 160.2zM414.7 172.7zM421.0 155.9zM412.5 190.2zM415.3 166.9zM421.7 157.6zM415.2 168.3zM414.7 172.7zM415.1 187.7zM415.3 169.0zM423.7 157.0zM418.2 176.8zM415.0 188.7zM408.1 170.5zM421.7 170.9zM423.2 179.1zM418.2 150.7zM416.7 166.4zM418.5 172.7zM420.9 164.1zM419.0 150.1zM419.5 162.3zM415.2 183.8zM415.7 176.7zM413.6 177.9zM417.1 168.8zM411.2 186.2zM416.9 172.3zM411.5 181.3zM421.2 172.7zM420.2 154.2zM416.5 161.7zM418.8 173.6zM414.7 183.4zM413.5 184.4zM419.3 175.0zM415.3 184.5zM416.3 170.3zM416.2 181.8zM419.0 159.0zM413.9 182.3zM417.1 173.5zM409.6 194.0zM417.3 184.4zM422.5 166.5zM416.3 194.5zM421.1 174.7zM409.3 182.0zM424.0 163.7zM414.2 169.0zM418.0 184.2zM419.7 166.0zM412.2 167.0zM417.6 156.9zM419.1 171.6zM414.0 165.0zM417.3 190.4zM421.0 150.1zM417.8 168.7zM422.0 174.2zM420.0 167.6zM422.6 166.3zM410.8 176.3zM421.9 193.5zM419.9 188.6zM412.5 160.0zM426.3 164.7zM415.4 181.2zM419.8 167.4zM416.0 173.9zM424.0 167.3zM414.7 171.3zM415.0 161.0zM421.3 153.0zM419.0 171.4zM413.8 178.7zM416.7 185.9zM413.0 170.5zM416.1 178.9zM419.2 176.5zM421.1 165.4zM422.4 161.2zM418.0 157.7zM420.2 175.4zM413.0 175.9zM422.0 162.3zM420.3 158.9zM420.8 158.5zM415.1 166.4zM416.2 189.6zM415.2 178.0zM419.6 171.2zM416.6 186.5zM416.6 178.1zM417.4 193.4zM419.9 171.8zM416.2 168.8zM414.3 184.3zM416.4 166.9zM419.3 177.8zM416.9 169.7zM413.3 175.2zM419.1 167.8zM418.9 179.0zM415.9 167.1zM419.2 168.7zM419.7 170.3zM419.0 157.8zM412.3 173.6zM421.7 167.4zM418.9 176.3zM410.0 181.3zM414.7 164.0zM418.1 182.1zM416.7 171.2zM422.3 171.6zM413.8 180.1zM414.9 191.6zM417.0 167.3zM414.3 161.5zM412.7 169.4zM413.9 175.8zM412.9 170.4zM417.8 198.2zM414.9 173.7zM412.6 175.8zM415.7 195.1zM419.2 162.4zM420.9 172.6zM418.4 172.4zM412.4 182.6zM417.7 164.5zM419.2 155.6zM419.9 156.0zM422.5 178.5zM416.0 178.5zM422.1 182.1zM414.7 174.4zM413.5 200.3zM412.8 181.5zM414.3 185.3zM417.4 161.0zM422.0 170.4zM415.5 170.6zM416.9 185.6zM411.2 159.8zM416.1 187.5zM411.7 158.8zM413.3 173.2zM421.2 174.4zM414.5 171.2zM419.2 185.2zM413.9 186.0zM420.5 166.3zM414.7 166.4zM414.0 172.9zM418.8 169.6zM417.3 161.2zM408.7 184.1zM419.9 154.1zM416.2 173.3zM419.8 181.4zM417.2 188.2zM417.6 179.0zM413.1 179.3zM415.1 167.3zM415.1 185.5zM420.8 175.2zM414.2 178.1zM415.4 181.9zM415.8 174.6zM419.6 166.6zM424.2 170.4zM425.7 187.1zM413.9 182.0zM413.2 189.9zM413.3 170.5zM415.7 169.2zM420.2 180.8zM419.3 173.7zM412.2 182.7zM413.2 176.9zM418.7 169.3zM414.6 172.9zM414.5 168.1zM417.8 159.6zM415.0 164.6zM414.5 181.3zM415.8 169.9zM415.4 177.2zM416.5 173.4zM415.9 175.9zM415.2 170.3zM414.4 165.8zM417.7 172.8zM414.3 174.3zM420.2 172.3zM421.7 178.5zM416.4 172.4zM417.9 169.1zM418.1 171.1zM418.0 177.6zM418.8 183.2zM415.4 167.4zM419.9 178.3zM411.7 187.1zM412.4 179.0zM411.3 167.3zM416.4 188.7zM418.6 172.4zM419.7 165.9zM422.9 174.2zM421.0 188.7zM415.5 183.6zM414.0 181.8zM420.3 163.0zM421.3 166.4zM414.3 180.6zM419.2 169.6zM413.9 162.4zM419.4 171.5zM411.4 160.0zM413.2 179.3zM414.4 187.6zM419.3 166.2zM412.7 157.8zM417.2 177.9zM415.9 175.7zM421.5 171.4zM424.6 167.5zM417.3 173.6zM416.7 172.4zM414.2 169.1zM410.8 185.2zM416.2 170.4zM413.5 164.9zM415.3 175.6zM415.0 166.6zM422.4 154.9zM416.6 174.0zM414.9 175.5zM417.2 178.7zM413.8 182.3zM416.7 166.2zM416.2 167.1zM418.5 185.9zM418.4 155.5zM422.8 172.5zM422.4 179.5zM415.4 176.3zM417.0 169.6zM415.7 170.2zM416.6 182.8zM420.3 166.1zM419.9 162.8zM417.1 170.7zM420.3 174.7zM413.1 180.0zM418.6 178.3zM421.1 178.0zM417.5 164.7zM414.8 165.4zM409.7 185.3zM414.3 183.3zM416.2 160.5zM419.6 165.2zM416.0 175.7zM419.5 170.5zM416.4 178.5zM418.1 182.4zM415.2 179.8zM414.2 168.4zM417.6 158.0zM416.9 179.2zM418.6 167.6zM418.8 175.2zM412.2 182.1zM422.8 173.5zM416.1 179.8zM418.6 159.4zM416.0 171.2zM414.2 168.3zM421.5 188.9zM418.3 155.8zM412.7 165.4zM415.1 175.9zM420.2 159.0zM412.8 171.5zM417.9 158.7zM413.5 189.2zM412.1 172.1zM417.5 170.0zM413.4 168.4zM413.9 167.8zM424.2 151.8zM417.0 161.8zM420.2 185.9zM414.4 188.9zM416.2 178.9zM423.5 175.9zM423.6 180.9zM421.4 160.5zM414.0 178.2zM412.3 184.2zM415.7 165.5zM412.5 179.5zM412.7 172.6zM416.2 186.0zM409.1 193.6zM417.4 162.1zM417.9 169.1zM414.5 168.7zM421.9 165.7zM423.3 166.1zM417.0 178.6zM419.2 160.0zM421.1 174.8zM415.1 174.4zM419.7 174.3zM417.8 167.9zM415.5 181.6zM415.5 191.0zM413.2 168.8zM420.3 176.9zM416.8 184.5zM415.8 172.6zM414.0 178.1zM419.9 170.8zM415.6 182.5zM412.7 187.9zM419.9 175.9zM424.0 171.0zM416.6 171.9zM421.7 166.3zM417.9 182.3zM426.4 166.3zM415.6 176.6zM419.0 169.9zM417.7 179.9zM413.3 166.3zM417.3 177.3zM418.7 172.1zM421.5 180.0zM420.7 180.4zM418.6 166.8zM415.1 172.3zM412.2 168.0zM415.1 174.9zM417.4 194.6zM415.9 185.1zM416.2 181.8zM411.4 185.6zM417.2 191.7zM413.4 187.7zM415.7 193.6zM414.4 194.8zM416.2 190.5zM418.1 188.4zM419.0 191.1zM413.8 189.6zM419.6 187.2zM415.8 187.5zM415.6 188.7zM415.4 192.4zM413.4 187.1zM421.0 190.9zM417.1 186.5zM416.7 187.5zM413.5 198.5zM414.8 189.3zM417.4 191.8zM412.9 193.5zM416.6 188.0zM414.9 187.6zM414.0 180.9zM416.9 184.2zM414.8 187.3zM421.5 180.7zM414.9 191.6zM416.6 189.2zM414.4 193.2zM417.7 193.4zM415.6 198.0zM416.1 192.8zM417.4 194.6zM422.4 182.6zM418.9 187.0zM415.7 184.2zM414.1 184.7zM411.9 198.5zM415.7 187.2zM406.0 196.9zM421.6 193.8zM418.7 193.8zM417.0 192.4zM412.8 183.4zM414.8 187.3zM415.3 180.9zM417.5 193.3zM416.5 190.9zM416.8 189.6zM419.0 190.8zM411.2 183.8zM416.0 186.1zM416.3 193.7zM416.4 188.0zM418.3 194.1zM414.0 195.5zM414.2 187.9zM414.9 190.6zM418.6 191.2zM412.2 188.3zM412.4 185.2zM412.8 191.1zM416.1 189.8zM414.6 196.7zM420.1 183.0zM418.5 188.3zM415.9 190.2zM414.4 192.0zM414.7 193.4zM416.1 190.0zM418.4 196.7zM421.6 188.6zM416.7 194.3zM407.1 191.0zM413.7 191.4zM416.9 186.5zM414.9 195.2zM414.0 185.6zM420.1 191.4zM417.6 193.6zM414.8 193.3zM416.9 198.4zM415.7 180.8zM417.9 189.5zM412.8 186.2zM412.4 182.9zM412.7 194.3zM417.9 190.5zM414.4 196.0zM415.4 192.3zM415.5 182.9zM415.0 192.2zM417.9 190.0zM416.6 190.5zM413.5 189.3zM413.7 190.7zM413.3 197.4zM418.3 195.6zM419.3 175.0zM417.7 189.0zM417.1 190.8zM412.2 196.2zM414.5 181.8zM413.6 184.7zM416.3 191.0zM415.7 194.8zM414.5 197.4zM415.3 179.6zM417.7 196.4zM419.4 183.9zM413.6 187.1zM410.7 189.5zM419.7 190.4zM413.9 191.0zM420.4 190.6zM419.1 193.3zM413.1 191.1zM416.6 185.9zM412.6 186.6zM416.1 202.6zM419.2 196.8zM412.4 193.2zM414.3 188.8zM414.9 181.5zM416.7 188.8zM413.8 190.2zM415.2 184.5zM416.7 187.8zM411.0 194.7zM418.0 189.1zM416.3 186.0zM410.9 188.0zM422.3 187.0zM414.9 183.5zM416.7 194.7zM414.4 186.7zM416.9 184.0zM417.5 188.1zM412.9 195.4zM415.4 192.2zM418.2 185.8zM416.1 192.4zM423.0 197.2zM413.7 184.5zM416.7 184.3zM416.1 199.9zM411.7 193.7zM416.8 185.0zM416.3 188.0zM417.5 189.4zM412.0 185.5zM413.4 187.9zM413.1 185.6zM415.3 195.6zM416.4 192.1zM416.5 193.8zM420.8 183.6zM414.3 194.2zM414.8 200.0zM417.8 184.3zM409.2 189.9zM421.2 191.9zM416.6 181.1zM423.0 188.2zM410.9 197.6zM417.5 185.5zM417.4 188.0zM416.7 187.0zM411.8 189.5zM417.8 184.2zM417.0 186.2zM412.2 187.5zM415.4 182.2zM412.7 189.8zM413.9 198.6zM414.4 194.7zM415.3 190.6zM415.4 187.0zM420.6 192.4zM413.2 183.2zM409.3 192.9zM416.7 197.7zM418.6 194.7zM415.5 186.2zM417.0 190.4zM411.4 191.1zM416.8 192.4zM417.9 193.0zM417.3 186.2zM414.4 192.2zM418.0 194.8zM412.4 191.1zM412.2 184.2zM411.8 198.0zM414.0 198.7zM412.1 201.0zM418.2 195.3zM417.0 183.1zM415.7 188.9zM423.1 199.8zM417.5 189.4zM410.9 192.6zM419.3 184.0zM416.8 192.9zM415.1 190.5zM416.9 188.5zM411.1 187.3zM420.4 189.5zM413.6 192.2zM418.9 198.1zM411.8 193.3zM413.8 185.8zM417.8 185.5zM413.7 193.7zM416.8 192.6zM412.9 195.0zM416.9 196.2zM420.0 184.9zM414.2 198.6zM411.1 185.1zM419.2 191.4zM414.0 183.8zM414.7 195.4zM417.4 185.7zM413.7 194.1zM415.2 187.9zM418.1 185.7zM414.2 194.6zM415.5 191.9zM416.1 187.0zM415.0 192.2zM416.9 195.2zM414.5 186.4zM413.8 192.1zM416.4 199.7zM423.7 185.5zM415.6 194.0zM423.0 181.0zM414.3 183.7zM420.6 190.2zM415.4 192.5zM418.7 190.4zM418.0 201.3zM417.9 186.1zM417.8 186.3zM411.3 190.4zM413.7 188.6zM418.0 189.7zM414.0 185.8zM419.7 197.4zM415.3 187.0zM409.4 194.0zM415.6 189.8zM413.2 183.7zM415.4 192.8zM417.2 183.8zM415.1 194.9zM417.7 197.2zM411.1 185.5zM412.0 188.6zM416.9 186.8zM418.1 195.1zM417.7 190.1zM414.3 189.7zM419.5 186.6zM412.0 194.8zM413.8 199.2zM418.6 193.4zM415.1 186.2zM410.8 190.3zM421.4 191.7zM416.0 187.1zM420.6 190.3zM415.8 198.8zM414.3 187.3zM416.4 184.3zM414.9 190.3zM418.6 186.3zM419.7 193.3zM415.8 187.3zM413.6 193.9zM411.6 188.7zM413.7 193.0zM418.0 187.8zM416.5 188.7zM411.2 195.4zM413.9 191.0zM411.8 188.1zM415.7 181.0zM413.1 193.2zM416.0 194.4zM415.4 190.5zM414.0 177.9zM415.0 184.6zM420.0 180.6zM415.2 185.1zM413.9 228.1zM414.9 228.6zM422.5 205.0zM412.6 187.0zM420.4 197.4zM418.3 193.5zM416.9 202.1zM416.7 221.8zM419.5 205.2zM413.5 200.6zM418.6 204.8zM417.0 207.9zM411.0 188.4zM412.3 204.0zM416.7 225.1zM418.6 223.5zM422.9 221.2zM417.0 209.6zM412.0 224.5zM412.5 201.7zM416.9 206.5zM417.7 197.7zM412.7 213.0zM415.7 208.4zM416.6 211.1zM420.2 191.5zM417.3 212.2zM420.3 213.5zM414.6 217.7zM421.6 206.6zM415.0 226.5zM409.9 221.9zM415.0 197.2zM420.2 209.3zM421.1 196.2zM418.4 221.9zM414.5 201.6zM416.7 185.4zM422.1 219.9zM420.9 212.5zM409.8 210.8zM413.0 199.6zM412.4 182.1zM415.7 225.2zM415.9 227.6zM416.5 204.3zM422.5 205.8zM416.1 185.7zM415.1 196.6zM412.4 209.7zM423.3 212.9zM417.8 216.1zM410.1 217.9zM417.5 187.6zM415.0 197.2zM420.0 200.1zM418.9 185.7zM418.3 188.9zM414.8 194.7zM422.3 225.0zM414.5 175.1zM422.9 219.1zM414.3 205.3zM413.6 193.6zM414.6 207.4zM417.4 221.3zM417.6 198.0zM421.5 199.5zM417.6 210.5zM417.4 208.7zM418.7 208.9zM417.5 204.5zM417.7 205.7zM420.7 210.9zM415.8 202.2zM417.1 205.7zM417.7 198.4zM415.0 207.3zM409.3 197.9zM413.2 190.2zM416.0 211.8zM413.8 191.4zM419.9 219.5zM418.7 208.2zM417.0 235.2zM413.9 201.4zM420.3 203.3zM414.7 197.8zM417.7 210.3zM422.0 221.2zM414.1 189.1zM415.0 217.6zM419.6 207.9zM420.3 206.0zM419.3 212.1zM416.0 201.9zM412.0 208.5zM423.4 197.7zM413.7 207.1zM421.2 223.1zM421.1 220.5zM415.4 200.2zM415.2 203.3zM416.3 209.2zM417.1 205.0zM411.7 187.3zM413.3 205.6zM414.4 232.4zM413.5 215.8zM418.1 217.0zM414.5 208.1zM422.1 213.5zM419.9 197.7zM422.0 217.5zM417.3 197.2zM413.0 209.3zM420.5 213.9zM412.2 219.5zM415.7 219.8zM420.8 194.9zM414.7 207.8zM415.9 204.5zM414.4 206.1zM419.6 204.1zM415.0 205.4zM413.7 221.2zM416.9 215.6zM415.6 185.5zM413.0 207.9zM421.1 207.6zM416.7 205.9zM416.5 230.5zM418.0 223.8zM421.5 191.0zM416.3 221.3zM421.0 185.3zM416.6 209.7zM416.8 195.7zM416.0 214.7zM419.9 187.0zM419.2 211.5zM418.1 219.3zM415.8 218.3zM414.1 221.9zM413.9 204.4zM414.0 206.7zM418.0 191.7zM414.6 203.0zM421.7 215.8zM412.9 220.5zM413.2 201.3zM412.4 218.2zM418.2 224.1zM415.3 205.4zM415.5 213.9zM415.1 198.6zM420.5 202.6zM412.2 221.4zM420.5 204.3zM415.5 225.6zM422.3 196.4zM416.1 211.5zM411.5 201.8zM419.6 195.9zM416.9 222.9zM412.9 211.6zM412.1 194.9zM419.3 206.9zM417.1 199.4zM417.0 223.5zM415.5 211.3zM414.7 212.3zM419.1 210.6zM410.6 210.4zM418.3 205.3zM419.1 193.8zM416.7 228.1zM418.1 213.6zM421.7 220.0zM417.6 210.2zM416.1 211.7zM418.0 202.3zM424.6 210.0zM410.8 213.1zM416.4 203.3zM410.3 205.3zM416.0 220.5zM418.6 200.3zM416.0 203.7zM414.2 207.8zM420.8 204.3zM415.7 215.4zM414.8 198.0zM416.1 207.9zM415.3 203.8zM418.8 211.6zM419.6 215.5zM416.8 217.7zM417.4 208.4zM418.5 191.0zM415.0 207.8zM414.7 200.8zM418.2 206.4zM412.0 213.2zM413.1 214.6zM417.5 214.6zM412.8 206.8zM417.7 208.2zM414.0 224.1zM415.6 210.6zM421.8 195.0zM419.1 217.8zM414.5 213.0zM416.7 199.1zM417.7 199.5zM422.0 206.3zM416.1 184.8zM420.5 227.9zM416.2 229.0zM409.0 204.2zM417.6 195.9zM415.4 201.6zM415.9 186.8zM416.7 216.3zM417.6 196.8zM416.3 200.3zM414.2 214.1zM413.8 215.8zM417.7 197.2zM413.8 202.2zM417.2 212.8zM412.1 210.9zM413.3 212.5zM418.5 210.4zM415.6 192.7zM414.6 210.6zM412.3 206.0zM416.1 226.0zM414.1 200.6zM419.3 221.1zM412.7 222.0zM415.1 219.3zM416.8 215.5zM417.7 219.8zM415.9 218.5zM420.1 216.7zM413.9 221.0zM420.5 211.6zM413.1 201.2zM410.8 225.9zM413.4 196.6zM415.6 214.5zM418.2 221.8zM422.2 214.9zM420.9 198.0zM416.4 203.5zM415.6 191.4zM414.4 211.3zM420.4 225.5zM419.0 192.6zM414.9 202.3zM415.8 198.6zM412.6 217.0zM421.4 202.8zM419.0 221.0zM422.2 218.6zM415.5 228.6zM418.5 222.4zM415.4 209.6zM416.8 200.7zM418.5 215.1zM419.9 201.4zM414.9 204.7zM412.3 204.9zM419.2 219.3zM415.9 203.5zM414.3 210.3zM414.0 196.9zM413.2 206.6zM416.6 199.0zM408.5 223.4zM411.8 191.3zM413.9 210.1zM413.2 211.9zM413.5 221.0zM422.7 210.0zM415.8 214.7zM418.0 216.9zM414.3 216.6zM422.0 209.7zM412.7 225.3zM410.4 204.5zM418.7 195.8zM414.4 221.9zM415.5 219.7zM413.6 198.6zM412.5 231.6zM413.5 214.3zM413.4 205.9zM414.3 213.5zM420.6 219.9zM415.3 193.6zM416.4 226.5zM416.5 206.3zM415.8 217.8zM418.2 202.4zM419.6 217.6zM418.8 195.9zM417.4 196.1zM414.3 204.3zM419.6 202.5zM411.1 210.4zM421.0 200.4zM414.6 191.9zM418.7 211.0zM415.5 214.9zM415.0 205.5zM417.5 226.3zM413.2 203.9zM412.1 210.3zM416.4 198.9zM420.8 205.6zM416.4 202.8zM418.8 222.9zM410.7 197.1zM422.0 186.9zM416.6 203.1zM413.8 216.2zM411.4 212.8zM422.4 212.8zM416.4 207.6zM417.5 221.3zM417.0 223.1zM417.2 202.6zM412.6 223.8zM415.3 216.2zM413.0 212.9zM413.4 219.5zM412.1 203.5zM409.8 191.5zM414.1 213.0zM425.4 212.1zM413.6 213.8zM417.4 211.4zM415.2 196.8zM416.6 200.9zM420.5 191.1zM411.9 217.8zM421.2 217.0zM424.1 194.3zM415.9 209.0zM422.1 207.8zM412.7 220.8zM415.8 209.3zM413.6 182.0zM419.9 223.3zM416.1 220.2zM411.1 226.3zM418.4 202.0zM414.8 214.3zM419.3 202.3zM416.5 211.4zM417.7 210.2zM417.0 206.6zM422.0 202.4zM411.4 207.1zM413.4 213.6zM416.0 211.9zM417.2 200.8zM413.1 221.8zM417.4 210.7zM414.4 197.7zM413.9 191.4zM415.3 212.0zM418.3 214.2zM418.9 198.0zM420.7 198.1zM419.6 217.7zM415.8 204.3zM414.4 207.1zM416.0 212.5zM417.5 189.5zM415.5 218.1zM409.5 208.8zM420.9 202.6zM417.3 193.3zM412.9 205.7zM418.1 223.7zM417.9 207.0zM411.2 203.2zM417.6 208.7zM417.7 206.2zM418.9 219.6zM415.0 207.0zM416.4 213.1zM418.0 211.3zM417.4 203.7zM413.1 202.6zM413.1 198.9zM413.6 210.2zM414.6 200.0zM416.6 201.4zM415.9 208.1zM421.9 207.5zM416.1 213.6zM421.0 225.3zM419.5 217.0zM413.4 214.4zM421.7 198.4zM420.1 209.1zM420.9 195.7zM417.0 212.8zM412.8 221.7zM415.2 191.8zM415.9 214.3zM416.6 193.1zM416.2 210.9zM418.5 219.4zM414.1 221.2zM425.8 214.0zM415.8 231.0zM418.9 201.3zM418.7 215.4zM417.2 219.3zM414.6 205.4zM422.6 206.7zM415.6 206.5zM418.1 222.5zM414.4 207.9zM418.2 212.9zM419.0 186.9zM414.5 214.5zM419.7 211.6zM416.6 214.8zM411.9 203.5zM414.1 212.0zM412.8 210.0zM412.6 220.0zM418.1 215.5zM418.2 205.2zM415.1 180.3zM412.7 218.0zM416.4 193.0zM419.0 211.7zM417.0 204.7zM412.7 203.4zM418.8 180.5zM419.7 184.7zM417.1 199.4zM409.9 219.2zM416.6 220.1zM416.6 205.3zM414.1 199.0zM412.0 200.7zM418.7 199.4zM418.6 204.2zM414.8 216.4zM419.2 198.9zM413.0 208.9zM413.8 205.0zM410.9 200.8zM415.2 195.5zM415.4 196.9zM420.0 207.4zM416.9 191.4zM417.4 207.6zM411.6 221.3zM415.0 197.9zM416.6 222.2zM419.4 212.2zM415.5 198.5zM417.9 194.5zM419.1 211.4zM414.6 209.4zM415.3 192.8zM411.6 226.6zM414.3 212.8zM415.7 191.1zM416.4 212.6zM421.7 223.0zM417.3 208.7zM418.4 190.7zM418.5 204.5zM416.6 222.3zM410.2 194.0zM418.2 198.7zM417.8 196.8zM416.6 224.0zM415.3 217.2zM414.5 219.5zM418.1 189.4zM413.5 207.2zM411.7 210.3zM418.2 201.0zM413.9 214.5zM414.3 188.4zM417.9 199.9zM412.4 203.8zM411.9 213.4zM416.6 215.8zM413.6 184.8zM420.0 206.7zM414.1 225.6zM413.1 212.5zM418.8 206.2zM417.5 196.4zM417.8 211.5zM419.5 190.9zM417.8 215.0zM417.3 202.3zM414.0 226.6zM418.1 211.0zM415.1 200.7zM423.5 202.3zM421.9 201.1zM421.1 209.6zM415.0 204.3zM415.9 204.4zM412.0 222.6zM417.9 204.6zM416.2 184.5zM416.1 235.7zM414.7 200.6zM409.5 195.8zM416.9 209.8zM416.9 203.9zM418.4 194.6zM414.3 203.0zM418.9 209.8zM423.0 213.5zM421.1 204.6zM414.7 207.6zM412.2 218.7zM416.6 219.9zM418.8 189.7zM414.3 214.6zM419.7 200.6zM424.2 196.5zM418.6 213.9zM419.3 209.7zM416.8 220.1zM415.0 190.4zM412.1 200.7zM415.7 213.9zM414.9 208.6zM414.4 212.1zM421.5 221.2zM419.9 207.7zM415.9 177.4zM415.3 208.2zM416.7 201.2zM416.5 215.7zM415.5 197.7zM416.5 212.1zM419.0 214.4zM416.8 215.1zM420.7 221.3zM417.7 178.3zM417.4 197.8zM415.7 202.3zM420.1 201.4zM418.6 204.9zM416.1 214.1zM414.5 206.5zM417.9 225.8zM414.7 218.7zM418.6 218.0zM416.8 211.7zM420.7 192.1zM413.9 210.7zM420.4 205.9zM413.9 211.6zM414.5 205.3zM421.1 220.9zM417.1 210.4zM417.2 213.3zM412.4 221.7zM415.0 225.4zM413.7 207.0zM416.3 194.6zM421.5 202.6zM416.0 204.6zM411.7 214.0zM415.4 217.2zM411.2 210.6zM420.7 192.7zM416.0 189.2zM416.2 197.1zM417.3 198.2zM423.0 202.2zM418.7 222.1zM415.6 220.8zM415.6 205.4zM415.2 203.7zM412.5 216.2zM411.4 203.3zM421.5 208.9zM418.5 214.9zM416.3 197.6zM417.3 211.0zM410.4 209.9zM414.2 203.5zM417.3 194.0zM417.4 217.8zM414.9 207.8zM416.1 205.2zM419.1 219.0zM421.8 214.5zM418.0 208.6zM421.6 208.0zM412.7 191.4zM415.2 221.8zM415.9 217.5zM413.1 192.3zM418.4 209.5zM414.1 200.6zM415.0 216.0zM415.2 212.5zM412.7 202.7zM422.0 223.7zM415.9 203.0zM418.7 196.0zM416.6 204.1zM414.2 184.6zM417.0 193.9zM415.3 212.0zM416.5 187.5zM422.2 232.4zM412.9 199.4zM409.1 219.0zM414.6 196.5zM415.4 221.5zM413.0 184.3zM415.5 217.4zM417.5 222.6zM415.3 216.4zM414.3 212.1zM417.6 222.8zM419.3 215.9zM420.7 226.9zM415.0 214.1zM416.3 226.7zM422.0 202.7zM417.8 203.4zM418.9 211.9zM414.9 204.0zM420.7 212.7zM412.5 205.2zM413.9 191.3zM419.7 205.2zM418.9 212.9zM418.0 202.9zM412.9 200.1zM419.2 215.3zM410.4 199.3zM416.3 232.5zM421.6 224.5zM418.8 224.5zM419.3 215.7zM415.2 224.0zM416.1 194.0zM418.1 208.2zM414.2 214.4zM418.2 207.0zM422.9 219.6zM420.3 211.1zM416.6 195.4zM422.5 204.3zM418.0 232.0zM418.1 205.7zM415.6 217.6zM417.9 219.6zM420.8 201.6zM421.3 223.2zM416.7 205.9zM416.9 220.5zM418.6 204.9zM415.9 218.3zM417.1 215.2zM416.0 206.0zM412.2 211.7zM416.9 225.6zM416.0 217.5zM420.9 205.3zM411.4 199.9zM417.7 204.8zM414.1 218.3zM414.9 209.1zM416.5 211.7zM417.0 199.1zM419.2 226.5zM416.6 196.9zM413.8 224.0zM415.6 221.9z" stroke="#333" stroke-width="0.75" stroke-opacity="0.36" stroke-linecap="square" fill="none" filter="url(#bl)"/>
<rect x="363.10" y="148.90" width="88.30" height="88.30" fill="none" stroke="#555" stroke-width="1"/>
<line x1="402.50" y1="148.90" x2="402.50" y2="237.20" stroke="#555" stroke-width="1"/>
<line x1="363.10" y1="196.40" x2="451.40" y2="196.40" stroke="#555" stroke-width="1"/>
<path d="M372.8 237.2v2.6M382.8 237.2v2.6M402.9 237.2v2.6M424.0 237.2v2.6M444.1 237.2v2.6M388.9 237.2v1.5M392.4 237.2v1.5M394.9 237.2v1.5M396.8 237.2v1.5M398.4 237.2v1.5M399.8 237.2v1.5M401.0 237.2v1.5M402.0 237.2v1.5M409.3 237.2v1.5M413.0 237.2v1.5M415.6 237.2v1.5M417.6 237.2v1.5M419.3 237.2v1.5M420.7 237.2v1.5M422.0 237.2v1.5M423.0 237.2v1.5M430.1 237.2v1.5M433.6 237.2v1.5M436.1 237.2v1.5M438.0 237.2v1.5M439.6 237.2v1.5M441.0 237.2v1.5M442.2 237.2v1.5M443.2 237.2v1.5M363.1 156.3h-2.6M363.1 177.4h-2.6M363.1 197.5h-2.6M363.1 217.9h-2.6M363.1 227.4h-2.6M363.1 171.0h-1.5M363.1 167.3h-1.5M363.1 164.7h-1.5M363.1 162.7h-1.5M363.1 161.0h-1.5M363.1 159.6h-1.5M363.1 158.3h-1.5M363.1 157.3h-1.5M363.1 191.4h-1.5M363.1 187.9h-1.5M363.1 185.4h-1.5M363.1 183.5h-1.5M363.1 181.9h-1.5M363.1 180.5h-1.5M363.1 179.3h-1.5M363.1 178.3h-1.5M363.1 211.8h-1.5M363.1 208.2h-1.5M363.1 205.6h-1.5M363.1 203.6h-1.5M363.1 202.0h-1.5M363.1 200.7h-1.5M363.1 199.5h-1.5M363.1 198.4h-1.5" stroke="#333" stroke-width="0.8" fill="none"/>
<text x="372.80" y="247.20" font-size="4.9" text-anchor="middle" fill="#222">0</text>
<text x="382.80" y="247.20" font-size="4.9" text-anchor="middle" fill="#222">10<tspan font-size="3.4" dy="-1.9">2</tspan></text>
<text x="402.90" y="247.20" font-size="4.9" text-anchor="middle" fill="#222">10<tspan font-size="3.4" dy="-1.9">3</tspan></text>
<text x="424.00" y="247.20" font-size="4.9" text-anchor="middle" fill="#222">10<tspan font-size="3.4" dy="-1.9">4</tspan></text>
<text x="444.10" y="247.20" font-size="4.9" text-anchor="middle" fill="#222">10<tspan font-size="3.4" dy="-1.9">5</tspan></text>
<text x="359.90" y="158.30" font-size="4.9" text-anchor="end" fill="#222">10<tspan font-size="3.4" dy="-1.9">5</tspan></text>
<text x="359.90" y="179.40" font-size="4.9" text-anchor="end" fill="#222">10<tspan font-size="3.4" dy="-1.9">4</tspan></text>
<text x="359.90" y="199.50" font-size="4.9" text-anchor="end" fill="#222">10<tspan font-size="3.4" dy="-1.9">3</tspan></text>
<text x="359.90" y="219.90" font-size="4.9" text-anchor="end" fill="#222">10<tspan font-size="3.4" dy="-1.9">2</tspan></text>
<text x="359.10" y="229.40" font-size="4.9" text-anchor="end" fill="#222">0</text>
<rect x="364.10" y="149.60" width="20.69" height="10.30" fill="#fff"/>
<rect x="364.10" y="225.70" width="15.41" height="10.80" fill="#fff"/>
<rect x="435.59" y="225.70" width="14.80" height="10.80" fill="#fff"/>
<text x="364.60" y="158.30" font-size="9.5">50.9</text>
<text x="449.50" y="158.30" font-size="9.5" text-anchor="end">36.4</text>
<text x="365.00" y="234.00" font-size="9.5">7.3</text>
<text x="449.30" y="234.00" font-size="9.5" text-anchor="end">5.5</text>
<text x="456.50" y="162.70" font-size="10.5">PMA/iono</text>
<text x="349.40" y="232.20" font-size="10.5" transform="rotate(-90 349.40 232.20)">IFN<tspan font-size="9" dx="0.6">γ</tspan></text>
<line x1="343.80" y1="203.50" x2="343.80" y2="110.80" stroke="#111" stroke-width="1.0"/>
<polygon points="343.80,106.80 341.20,113.30 346.40,113.30" fill="#111"/>
<text x="367.00" y="258.70" font-size="11.0">Ly5.1</text>
<line x1="396.30" y1="254.30" x2="444.70" y2="254.30" stroke="#111" stroke-width="1.0"/>
<polygon points="448.70,254.30 442.20,251.70 442.20,256.90" fill="#111"/>
<text x="0.30" y="288.00" font-size="16.3" font-weight="bold" fill="#000">C</text>
<line x1="67.00" y1="306.00" x2="67.00" y2="444.50" stroke="#333" stroke-width="1"/>
<line x1="66.50" y1="444.50" x2="179.80" y2="444.50" stroke="#333" stroke-width="1"/>
<text x="61.30" y="448.60" font-size="10.1" text-anchor="end">0</text>
<text x="61.30" y="420.85" font-size="10.1" text-anchor="end">10</text>
<text x="61.30" y="393.10" font-size="10.1" text-anchor="end">100</text>
<text x="61.30" y="365.35" font-size="10.1" text-anchor="end">1000</text>
<text x="61.30" y="337.60" font-size="10.1" text-anchor="end">10000</text>
<line x1="104.50" y1="444.50" x2="104.50" y2="446.70" stroke="#333" stroke-width="0.8"/>
<line x1="142.00" y1="444.50" x2="142.00" y2="446.70" stroke="#333" stroke-width="0.8"/>
<line x1="179.50" y1="444.50" x2="179.50" y2="446.70" stroke="#333" stroke-width="0.8"/>
<text x="108.30" y="310.50" font-size="10.4">IFN<tspan font-size="8.6">γ</tspan></text>
<text x="29.40" y="394.60" font-size="10.2" transform="rotate(-90 29.40 394.60)">ng/ml</text>
<rect x="75.50" y="403.00" width="10.70" height="41.50" fill="#fff" stroke="#222" stroke-width="1"/>
<rect x="86.20" y="421.30" width="10.20" height="23.20" fill="#000"/>
<rect x="113.00" y="344.40" width="10.70" height="100.10" fill="#fff" stroke="#222" stroke-width="1"/>
<rect x="123.70" y="363.80" width="10.60" height="80.70" fill="#000"/>
<rect x="149.80" y="314.30" width="10.90" height="130.20" fill="#fff" stroke="#222" stroke-width="1"/>
<rect x="160.70" y="318.80" width="11.00" height="125.70" fill="#000"/>
<text x="83.20" y="460.80" font-size="10.4" text-anchor="middle">IL-15</text>
<text x="121.90" y="460.80" font-size="10.4" text-anchor="middle">IL-21</text>
<text x="161.90" y="460.80" font-size="10.4" text-anchor="middle">IL-12/18</text>
<line x1="220.80" y1="306.50" x2="220.80" y2="444.50" stroke="#333" stroke-width="1"/>
<line x1="220.30" y1="444.50" x2="338.00" y2="444.50" stroke="#333" stroke-width="1"/>
<text x="215.80" y="448.60" font-size="10.1" text-anchor="end">0</text>
<line x1="219.00" y1="444.60" x2="220.80" y2="444.60" stroke="#444" stroke-width="0.8"/>
<text x="215.80" y="425.52" font-size="10.1" text-anchor="end">10</text>
<line x1="219.00" y1="421.52" x2="220.80" y2="421.52" stroke="#444" stroke-width="0.8"/>
<text x="215.80" y="402.44" font-size="10.1" text-anchor="end">20</text>
<line x1="219.00" y1="398.44" x2="220.80" y2="398.44" stroke="#444" stroke-width="0.8"/>
<text x="215.80" y="379.36" font-size="10.1" text-anchor="end">30</text>
<line x1="219.00" y1="375.36" x2="220.80" y2="375.36" stroke="#444" stroke-width="0.8"/>
<text x="215.80" y="356.28" font-size="10.1" text-anchor="end">40</text>
<line x1="219.00" y1="352.28" x2="220.80" y2="352.28" stroke="#444" stroke-width="0.8"/>
<text x="215.80" y="333.20" font-size="10.1" text-anchor="end">50</text>
<line x1="219.00" y1="329.20" x2="220.80" y2="329.20" stroke="#444" stroke-width="0.8"/>
<text x="215.80" y="311.00" font-size="10.1" text-anchor="end">60</text>
<line x1="219.00" y1="307.00" x2="220.80" y2="307.00" stroke="#444" stroke-width="0.8"/>
<text x="291.50" y="311.20" font-size="10.4" text-anchor="middle">IL-10</text>
<text x="196.90" y="394.60" font-size="10.2" transform="rotate(-90 196.90 394.60)">ng/ml</text>
<line x1="259.90" y1="444.50" x2="259.90" y2="446.70" stroke="#333" stroke-width="0.8"/>
<line x1="299.00" y1="444.50" x2="299.00" y2="446.70" stroke="#333" stroke-width="0.8"/>
<line x1="338.00" y1="444.50" x2="338.00" y2="446.70" stroke="#333" stroke-width="0.8"/>
<rect x="230.00" y="442.00" width="11.20" height="2.50" fill="#fff" stroke="#222" stroke-width="1"/>
<rect x="241.20" y="441.70" width="11.80" height="2.80" fill="#000"/>
<line x1="235.50" y1="440.60" x2="235.50" y2="443.00" stroke="#222" stroke-width="0.8"/>
<line x1="247.00" y1="440.80" x2="247.00" y2="442.00" stroke="#222" stroke-width="0.8"/>
<rect x="270.00" y="332.60" width="11.70" height="111.90" fill="#fff" stroke="#222" stroke-width="1"/>
<rect x="281.70" y="361.80" width="11.30" height="82.70" fill="#000"/>
<line x1="275.60" y1="328.00" x2="275.60" y2="337.00" stroke="#222" stroke-width="1"/>
<line x1="287.30" y1="360.80" x2="287.30" y2="361.80" stroke="#222" stroke-width="1"/>
<rect x="309.80" y="441.30" width="11.00" height="3.20" fill="#fff" stroke="#222" stroke-width="1"/>
<rect x="320.80" y="441.80" width="11.20" height="2.70" fill="#000"/>
<line x1="315.00" y1="440.20" x2="315.00" y2="442.30" stroke="#222" stroke-width="0.8"/>
<text x="237.00" y="460.80" font-size="10.4" text-anchor="middle">IL-15</text>
<text x="277.80" y="460.80" font-size="10.4" text-anchor="middle">IL-21</text>
<text x="320.60" y="460.80" font-size="10.4" text-anchor="middle">IL-12/18</text>
<rect x="351.20" y="314.00" width="5.30" height="4.60" fill="#fff" stroke="#222" stroke-width="1"/>
<rect x="350.70" y="324.30" width="6.20" height="4.60" fill="#000"/>
<text x="360.40" y="317.50" font-size="10.3"><tspan font-style="italic">Blimp1</tspan><tspan font-style="italic" font-size="9.2" dy="-3.0">+/+</tspan></text>
<text x="360.40" y="329.60" font-size="10.3"><tspan font-style="italic">Blimp1</tspan><tspan font-style="italic" font-size="8.4" dy="-3.0">gfp/gfp</tspan></text>
<text x="4.20" y="496.40" font-size="16.3" font-weight="bold" fill="#000">D</text>
<line x1="56.30" y1="509.50" x2="56.30" y2="663.30" stroke="#333" stroke-width="1"/>
<line x1="55.80" y1="663.30" x2="271.30" y2="663.30" stroke="#333" stroke-width="1"/>
<line x1="54.10" y1="663.50" x2="56.30" y2="663.50" stroke="#333" stroke-width="0.8"/>
<text x="51.30" y="667.20" font-size="10.3" text-anchor="end">0</text>
<line x1="54.10" y1="644.20" x2="56.30" y2="644.20" stroke="#333" stroke-width="0.8"/>
<text x="51.30" y="647.90" font-size="10.3" text-anchor="end">5</text>
<line x1="54.10" y1="624.90" x2="56.30" y2="624.90" stroke="#333" stroke-width="0.8"/>
<text x="51.30" y="628.60" font-size="10.3" text-anchor="end">10</text>
<line x1="54.10" y1="605.60" x2="56.30" y2="605.60" stroke="#333" stroke-width="0.8"/>
<text x="51.30" y="609.30" font-size="10.3" text-anchor="end">15</text>
<line x1="54.10" y1="586.30" x2="56.30" y2="586.30" stroke="#333" stroke-width="0.8"/>
<text x="51.30" y="590.00" font-size="10.3" text-anchor="end">20</text>
<line x1="54.10" y1="567.00" x2="56.30" y2="567.00" stroke="#333" stroke-width="0.8"/>
<text x="51.30" y="570.70" font-size="10.3" text-anchor="end">25</text>
<line x1="54.10" y1="547.70" x2="56.30" y2="547.70" stroke="#333" stroke-width="0.8"/>
<text x="51.30" y="551.40" font-size="10.3" text-anchor="end">30</text>
<line x1="54.10" y1="528.40" x2="56.30" y2="528.40" stroke="#333" stroke-width="0.8"/>
<text x="51.30" y="532.10" font-size="10.3" text-anchor="end">35</text>
<line x1="54.10" y1="510.50" x2="56.30" y2="510.50" stroke="#333" stroke-width="0.8"/>
<text x="51.30" y="514.20" font-size="10.3" text-anchor="end">40</text>
<line x1="86.90" y1="663.30" x2="86.90" y2="665.50" stroke="#333" stroke-width="0.8"/>
<line x1="117.50" y1="663.30" x2="117.50" y2="665.50" stroke="#333" stroke-width="0.8"/>
<line x1="148.10" y1="663.30" x2="148.10" y2="665.50" stroke="#333" stroke-width="0.8"/>
<line x1="178.70" y1="663.30" x2="178.70" y2="665.50" stroke="#333" stroke-width="0.8"/>
<line x1="209.30" y1="663.30" x2="209.30" y2="665.50" stroke="#333" stroke-width="0.8"/>
<line x1="239.90" y1="663.30" x2="239.90" y2="665.50" stroke="#333" stroke-width="0.8"/>
<polyline points="71.80,518.80 102.30,526.80 133.00,542.50 163.80,572.00 194.50,601.80 225.00,618.40 256.30,632.00" fill="none" stroke="#111" stroke-width="1.3"/>
<polygon points="71.80,515.40 75.20,518.80 71.80,522.20 68.40,518.80" fill="#000" stroke="#111" stroke-width="1.0"/>
<polygon points="102.30,523.40 105.70,526.80 102.30,530.20 98.90,526.80" fill="#000" stroke="#111" stroke-width="1.0"/>
<polygon points="133.00,539.10 136.40,542.50 133.00,545.90 129.60,542.50" fill="#000" stroke="#111" stroke-width="1.0"/>
<polygon points="163.80,568.60 167.20,572.00 163.80,575.40 160.40,572.00" fill="#000" stroke="#111" stroke-width="1.0"/>
<polygon points="194.50,598.40 197.90,601.80 194.50,605.20 191.10,601.80" fill="#000" stroke="#111" stroke-width="1.0"/>
<polygon points="225.00,615.00 228.40,618.40 225.00,621.80 221.60,618.40" fill="#000" stroke="#111" stroke-width="1.0"/>
<polygon points="256.30,628.60 259.70,632.00 256.30,635.40 252.90,632.00" fill="#000" stroke="#111" stroke-width="1.0"/>
<polyline points="71.80,518.80 102.30,531.80 133.00,547.00 163.80,577.50 194.50,603.00 225.00,619.60 256.30,632.00" fill="none" stroke="#111" stroke-width="1.3"/>
<polygon points="71.80,515.30 75.30,518.80 71.80,522.30 68.30,518.80" fill="#fff" stroke="#111" stroke-width="1.0"/>
<polygon points="102.30,528.30 105.80,531.80 102.30,535.30 98.80,531.80" fill="#fff" stroke="#111" stroke-width="1.0"/>
<polygon points="133.00,543.50 136.50,547.00 133.00,550.50 129.50,547.00" fill="#fff" stroke="#111" stroke-width="1.0"/>
<polygon points="163.80,574.00 167.30,577.50 163.80,581.00 160.30,577.50" fill="#fff" stroke="#111" stroke-width="1.0"/>
<polygon points="194.50,599.50 198.00,603.00 194.50,606.50 191.00,603.00" fill="#fff" stroke="#111" stroke-width="1.0"/>
<polygon points="225.00,616.10 228.50,619.60 225.00,623.10 221.50,619.60" fill="#fff" stroke="#111" stroke-width="1.0"/>
<polygon points="256.30,628.50 259.80,632.00 256.30,635.50 252.80,632.00" fill="#fff" stroke="#111" stroke-width="1.0"/>
<text x="74.80" y="677.80" font-size="10.3" text-anchor="middle">10</text>
<text x="103.80" y="677.80" font-size="10.3" text-anchor="middle">5</text>
<text x="135.50" y="677.80" font-size="10.3" text-anchor="middle">2.5</text>
<text x="161.30" y="677.80" font-size="10.3" text-anchor="middle">1.25</text>
<text x="194.40" y="677.80" font-size="10.3" text-anchor="middle">0.62</text>
<text x="223.90" y="677.80" font-size="10.3" text-anchor="middle">0.31</text>
<text x="256.30" y="677.80" font-size="10.3" text-anchor="middle">0.15</text>
<text x="70.10" y="652.00" font-size="10.5">RMAS-Rae1β</text>
<text x="100.80" y="690.80" font-size="10.8">Effector:Target Ratio (x:1)</text>
<line x1="162.20" y1="525.80" x2="182.60" y2="525.80" stroke="#111" stroke-width="1.3"/>
<polygon points="172.40,523.50 174.70,525.80 172.40,528.10 170.10,525.80" fill="#fff" stroke="#111" stroke-width="0.9"/>
<line x1="162.20" y1="538.40" x2="182.60" y2="538.40" stroke="#111" stroke-width="1.3"/>
<polygon points="172.40,536.10 174.70,538.40 172.40,540.70 170.10,538.40" fill="#000" stroke="#111" stroke-width="0.9"/>
<text x="193.40" y="527.40" font-size="10.3"><tspan font-style="italic">Blimp1</tspan><tspan font-style="italic" font-size="8.6" dy="-3.0">+/+</tspan></text>
<text x="193.40" y="541.00" font-size="10.3"><tspan font-style="italic">Blimp1</tspan><tspan font-style="italic" font-size="8.4" dy="-3.0">gfp/gfp</tspan></text>
<text x="30.30" y="602.60" font-size="10.3" transform="rotate(-90 30.30 602.60)">% Lysis</text>
<line x1="296.80" y1="507.00" x2="296.80" y2="660.80" stroke="#333" stroke-width="1"/>
<line x1="296.30" y1="660.80" x2="512.00" y2="660.80" stroke="#333" stroke-width="1"/>
<line x1="294.60" y1="660.80" x2="296.80" y2="660.80" stroke="#333" stroke-width="0.8"/>
<text x="292.80" y="664.50" font-size="10.3" text-anchor="end">0</text>
<line x1="294.60" y1="626.22" x2="296.80" y2="626.22" stroke="#333" stroke-width="0.8"/>
<text x="292.80" y="629.92" font-size="10.3" text-anchor="end">2</text>
<line x1="294.60" y1="591.65" x2="296.80" y2="591.65" stroke="#333" stroke-width="0.8"/>
<text x="292.80" y="595.35" font-size="10.3" text-anchor="end">4</text>
<line x1="294.60" y1="557.08" x2="296.80" y2="557.08" stroke="#333" stroke-width="0.8"/>
<text x="292.80" y="560.78" font-size="10.3" text-anchor="end">6</text>
<line x1="294.60" y1="522.50" x2="296.80" y2="522.50" stroke="#333" stroke-width="0.8"/>
<text x="292.80" y="526.20" font-size="10.3" text-anchor="end">8</text>
<line x1="327.43" y1="660.80" x2="327.43" y2="663.00" stroke="#333" stroke-width="0.8"/>
<line x1="358.06" y1="660.80" x2="358.06" y2="663.00" stroke="#333" stroke-width="0.8"/>
<line x1="388.69" y1="660.80" x2="388.69" y2="663.00" stroke="#333" stroke-width="0.8"/>
<line x1="419.31" y1="660.80" x2="419.31" y2="663.00" stroke="#333" stroke-width="0.8"/>
<line x1="449.94" y1="660.80" x2="449.94" y2="663.00" stroke="#333" stroke-width="0.8"/>
<line x1="480.57" y1="660.80" x2="480.57" y2="663.00" stroke="#333" stroke-width="0.8"/>
<polyline points="312.00,530.80 343.20,568.00 374.20,597.00 405.00,610.00 435.80,620.30 467.00,621.60 498.00,625.80" fill="none" stroke="#111" stroke-width="1.3"/>
<polygon points="312.00,527.40 315.40,530.80 312.00,534.20 308.60,530.80" fill="#000" stroke="#111" stroke-width="1.0"/>
<polygon points="343.20,564.60 346.60,568.00 343.20,571.40 339.80,568.00" fill="#000" stroke="#111" stroke-width="1.0"/>
<polygon points="374.20,593.60 377.60,597.00 374.20,600.40 370.80,597.00" fill="#000" stroke="#111" stroke-width="1.0"/>
<polygon points="405.00,606.60 408.40,610.00 405.00,613.40 401.60,610.00" fill="#000" stroke="#111" stroke-width="1.0"/>
<polygon points="435.80,616.90 439.20,620.30 435.80,623.70 432.40,620.30" fill="#000" stroke="#111" stroke-width="1.0"/>
<polygon points="467.00,618.20 470.40,621.60 467.00,625.00 463.60,621.60" fill="#000" stroke="#111" stroke-width="1.0"/>
<polygon points="498.00,622.40 501.40,625.80 498.00,629.20 494.60,625.80" fill="#000" stroke="#111" stroke-width="1.0"/>
<polyline points="312.00,524.30 343.20,563.80 374.20,593.00 405.00,605.80 435.80,617.00 467.00,621.30 498.00,629.00" fill="none" stroke="#111" stroke-width="1.3"/>
<polygon points="312.00,520.80 315.50,524.30 312.00,527.80 308.50,524.30" fill="#fff" stroke="#111" stroke-width="1.0"/>
<polygon points="343.20,560.30 346.70,563.80 343.20,567.30 339.70,563.80" fill="#fff" stroke="#111" stroke-width="1.0"/>
<polygon points="374.20,589.50 377.70,593.00 374.20,596.50 370.70,593.00" fill="#fff" stroke="#111" stroke-width="1.0"/>
<polygon points="405.00,602.30 408.50,605.80 405.00,609.30 401.50,605.80" fill="#fff" stroke="#111" stroke-width="1.0"/>
<polygon points="435.80,613.50 439.30,617.00 435.80,620.50 432.30,617.00" fill="#fff" stroke="#111" stroke-width="1.0"/>
<polygon points="467.00,617.80 470.50,621.30 467.00,624.80 463.50,621.30" fill="#fff" stroke="#111" stroke-width="1.0"/>
<polygon points="498.00,625.50 501.50,629.00 498.00,632.50 494.50,629.00" fill="#fff" stroke="#111" stroke-width="1.0"/>
<text x="317.30" y="677.80" font-size="10.3" text-anchor="middle">10</text>
<text x="345.80" y="677.80" font-size="10.3" text-anchor="middle">5</text>
<text x="377.00" y="677.80" font-size="10.3" text-anchor="middle">2.5</text>
<text x="403.00" y="677.80" font-size="10.3" text-anchor="middle">1.25</text>
<text x="435.40" y="677.80" font-size="10.3" text-anchor="middle">0.62</text>
<text x="465.60" y="677.80" font-size="10.3" text-anchor="middle">0.31</text>
<text x="497.00" y="677.80" font-size="10.3" text-anchor="middle">0.15</text>
<text x="310.80" y="652.50" font-size="10.5">RMAS-MSCV</text>
<text x="360.20" y="690.80" font-size="10.8">Effector:Target Ratio (x:1)</text>
<line x1="411.30" y1="525.80" x2="432.00" y2="525.80" stroke="#111" stroke-width="1.3"/>
<polygon points="421.70,523.50 424.00,525.80 421.70,528.10 419.40,525.80" fill="#fff" stroke="#111" stroke-width="0.9"/>
<line x1="411.30" y1="538.30" x2="432.00" y2="538.30" stroke="#111" stroke-width="1.3"/>
<polygon points="421.70,536.00 424.00,538.30 421.70,540.60 419.40,538.30" fill="#000" stroke="#111" stroke-width="0.9"/>
<text x="443.00" y="528.00" font-size="10.3"><tspan font-style="italic">Blimp1</tspan><tspan font-style="italic" font-size="8.6" dy="-3.0">+/+</tspan></text>
<text x="443.00" y="541.80" font-size="10.3"><tspan font-style="italic">Blimp1</tspan><tspan font-style="italic" font-size="8.4" dy="-3.0">gfp/gfp</tspan></text>
<text x="280.30" y="597.00" font-size="10.3" transform="rotate(-90 280.30 597.00)">% Lysis</text>
</svg>
</body>
</html>
